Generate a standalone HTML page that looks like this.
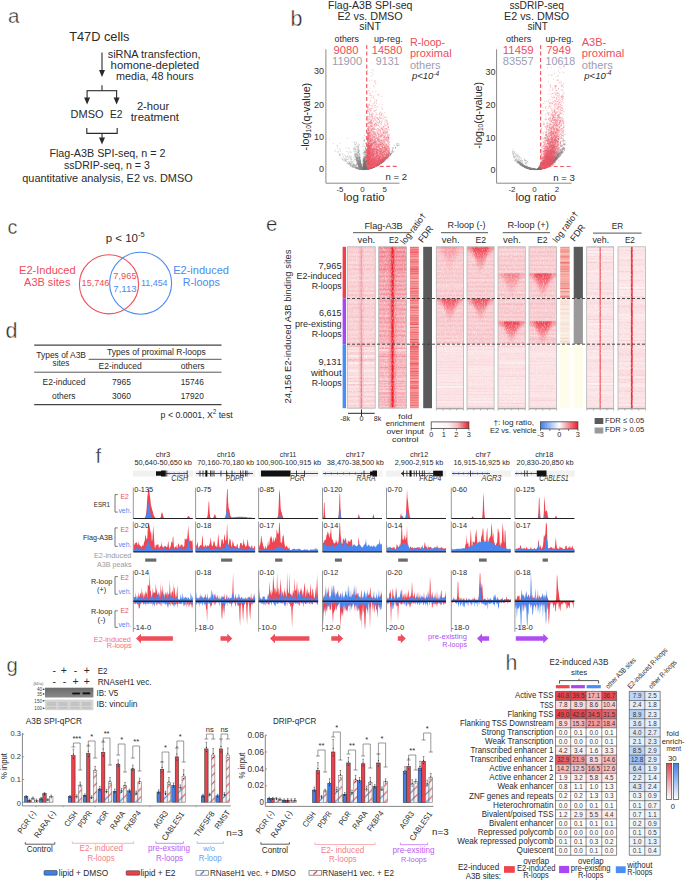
<!DOCTYPE html>
<html><head><meta charset="utf-8"><style>
html,body{margin:0;padding:0;background:#fff;}
svg{display:block;}
text{font-family:"Liberation Sans",sans-serif;}
</style></head><body>
<svg width="685" height="882" viewBox="0 0 685 882" fill="#2a2a2a">
<rect width="685" height="882" fill="#fff"/>
<text x="8" y="23" font-size="20.5" stroke="#fff" stroke-width="0.4">a</text><text x="69.2" y="41.2" font-size="12.5" textLength="60.3" lengthAdjust="spacingAndGlyphs">T47D cells</text><line x1="102" y1="52.5" x2="102" y2="71" stroke="#2a2a2a" stroke-width="1.1" /><path d="M99 70L105 70L102 77Z" fill="#2a2a2a" /><text x="107.7" y="58.4" font-size="10.5" textLength="92.8" lengthAdjust="spacingAndGlyphs">siRNA transfection,</text><text x="110.6" y="69.1" font-size="10.5" textLength="88.6" lengthAdjust="spacingAndGlyphs">homone-depleted</text><text x="116" y="79.6" font-size="10.5" textLength="77.6" lengthAdjust="spacingAndGlyphs">media, 48 hours</text><line x1="102" y1="85.2" x2="102" y2="90.7" stroke="#2a2a2a" stroke-width="1.1" /><line x1="86.6" y1="90.7" x2="117.2" y2="90.7" stroke="#2a2a2a" stroke-width="1.1" /><line x1="87.1" y1="90.7" x2="87.1" y2="98.6" stroke="#2a2a2a" stroke-width="1.1" /><path d="M84.1 97.6L90.1 97.6L87.1 104.6Z" fill="#2a2a2a" /><line x1="116.6" y1="90.7" x2="116.6" y2="98.6" stroke="#2a2a2a" stroke-width="1.1" /><path d="M113.6 97.6L119.6 97.6L116.6 104.6Z" fill="#2a2a2a" /><text x="70.6" y="118.3" font-size="11.5" textLength="32.9" lengthAdjust="spacingAndGlyphs">DMSO</text><text x="110" y="118.3" font-size="10.76" textLength="12.5" lengthAdjust="spacingAndGlyphs">E2</text><text x="136.9" y="109.5" font-size="11" textLength="32.3" lengthAdjust="spacingAndGlyphs">2-hour</text><text x="130.7" y="120.6" font-size="11" textLength="48.3" lengthAdjust="spacingAndGlyphs">treatment</text><path d="M86.8 128V133.4H117.2V128" fill="none" stroke="#2a2a2a" stroke-width="1.1" /><line x1="102" y1="133.4" x2="102" y2="138.5" stroke="#2a2a2a" stroke-width="1.1" /><path d="M99 137.5L105 137.5L102 144.5Z" fill="#2a2a2a" /><text x="49.4" y="157.3" font-size="11.3" textLength="116.1" lengthAdjust="spacingAndGlyphs">Flag-A3B SPI-seq, n = 2</text><text x="64" y="169.4" font-size="11.09" textLength="85.8" lengthAdjust="spacingAndGlyphs">ssDRIP-seq, n = 3</text><text x="22.3" y="182.4" font-size="11.3" textLength="170.4" lengthAdjust="spacingAndGlyphs">quantitative analysis, E2 vs. DMSO</text><text x="290.5" y="26.3" font-size="21.5" stroke="#fff" stroke-width="0.4">b</text><text x="328" y="8.8" font-size="10.2" textLength="84.5" lengthAdjust="spacingAndGlyphs">Flag-A3B SPI-seq</text><text x="337.4" y="19.7" font-size="10.2" textLength="65.3" lengthAdjust="spacingAndGlyphs">E2 vs. DMSO</text><text x="359.3" y="30.2" font-size="10.2" textLength="21.5" lengthAdjust="spacingAndGlyphs">siNT</text><text x="334.6" y="42" font-size="8.2" textLength="24.3" lengthAdjust="spacingAndGlyphs">others</text><text x="374" y="42" font-size="8.2" textLength="28.7" lengthAdjust="spacingAndGlyphs">up-reg.</text><text x="333.5" y="54.3" font-size="10.5" fill="#ee4d5a" textLength="24.9" lengthAdjust="spacingAndGlyphs">9080</text><text x="371.8" y="54.3" font-size="10.5" fill="#ee4d5a" textLength="30.5" lengthAdjust="spacingAndGlyphs">14580</text><text x="332" y="64.6" font-size="10.5" fill="#9d9db2" textLength="30.3" lengthAdjust="spacingAndGlyphs">11900</text><text x="375.8" y="64.6" font-size="10.5" fill="#9d9db2" textLength="23.7" lengthAdjust="spacingAndGlyphs">9131</text><path d="M3609 1670h9M3602 1627h9M3596 1646h9M3615 1692h9M3617 1694h9M3618 1691h9M3589 1660h9M3614 1687h9M3573 1631h9M3594 1640h9M3584 1451h9M3584 1568h9M3615 1686h9M3595 1672h9M3607 1683h9M3592 1629h9M3605 1644h9M3618 1692h9M3588 1621h9M3600 1671h9M3601 1657h9M3570 1593h9M3604 1678h9M3582 1647h9M3591 1611h9M3579 1440h9M3591 1661h9M3609 1685h9M3616 1693h9M3578 1601h9M3581 1560h9M3581 1618h9M3592 1639h9M3554 1576h9M3591 1654h9M3613 1692h9M3570 1628h9M3586 1583h9M3595 1664h9M3619 1695h9M3614 1684h9M3590 1664h9M3614 1691h9M3580 1644h9M3560 1584h9M3605 1675h9M3591 1667h9M3581 1489h9M3612 1683h9M3606 1679h9M3598 1638h9M3622 1696h9M3598 1666h9M3549 1496h9M3590 1649h9M3602 1622h9M3555 1546h9M3557 1560h9M3601 1663h9M3611 1689h9M3619 1692h9M3612 1681h9M3611 1669h9M3624 1696h9M3614 1689h9M3616 1694h9M3601 1634h9M3607 1677h9M3608 1666h9M3551 1572h9M3596 1655h9M3617 1690h9M3606 1669h9M3592 1581h9M3603 1647h9M3606 1645h9M3578 1647h9M3564 1566h9M3607 1676h9M3605 1684h9M3584 1646h9M3607 1670h9M3556 1587h9M3559 1571h9M3566 1584h9M3605 1679h9M3611 1667h9M3619 1694h9M3601 1676h9M3563 1491h9M3536 1515h9M3569 1493h9M3611 1680h9M3612 1682h9M3575 1632h9M3576 1576h9M3576 1627h9M3612 1690h9M3553 1539h9M3582 1605h9M3604 1683h9M3594 1670h9M3563 1463h9M3587 1662h9M3596 1612h9M3615 1687h9M3552 1542h9M3605 1686h9M3542 1439h9M3599 1668h9M3617 1687h9M3546 1465h9M3580 1647h9M3587 1659h9M3589 1582h9M3608 1677h9M3603 1678h9M3606 1676h9M3605 1687h9M3601 1667h9M3577 1639h9M3587 1660h9M3593 1650h9M3607 1648h9M3605 1658h9M3621 1696h9M3609 1684h9M3581 1612h9M3601 1670h9M3583 1643h9M3609 1677h9M3580 1599h9M3583 1642h9M3571 1537h9M3589 1634h9M3588 1649h9M3595 1657h9M3583 1653h9M3570 1617h9M3577 1510h9M3577 1642h9M3592 1576h9M3612 1688h9M3617 1691h9M3612 1691h9M3562 1596h9M3606 1685h9M3599 1625h9M3547 1556h9M3598 1680h9M3599 1663h9M3591 1579h9M3596 1659h9M3608 1669h9M3597 1671h9M3609 1658h9M3598 1670h9M3606 1649h9M3530 1421h9M3582 1463h9M3613 1676h9M3589 1597h9M3612 1687h9M3551 1537h9M3611 1676h9M3563 1531h9M3600 1617h9M3614 1692h9M3608 1660h9M3556 1514h9M3596 1590h9M3595 1569h9M3575 1566h9M3600 1669h9M3579 1525h9M3610 1687h9M3612 1678h9M3615 1684h9M3610 1681h9M3597 1672h9M3603 1674h9M3610 1683h9M3620 1695h9M3601 1644h9M3583 1654h9M3608 1689h9M3597 1659h9M3581 1578h9M3588 1650h9M3562 1432h9M3566 1579h9M3591 1630h9M3610 1668h9M3616 1687h9M3592 1608h9M3558 1576h9M3594 1623h9M3609 1678h9M3605 1656h9M3603 1657h9M3529 1482h9M3600 1644h9M3570 1475h9M3600 1665h9M3602 1650h9M3608 1650h9M3612 1676h9M3610 1663h9M3604 1679h9M3585 1647h9M3579 1626h9M3577 1558h9M3591 1670h9M3603 1629h9M3557 1578h9M3580 1631h9M3593 1587h9M3593 1647h9M3561 1578h9M3572 1581h9M3561 1550h9M3595 1619h9M3620 1694h9M3609 1667h9M3573 1578h9M3584 1631h9M3586 1621h9M3581 1606h9M3588 1646h9M3612 1692h9M3612 1677h9M3600 1676h9M3603 1681h9M3555 1453h9M3599 1664h9M3575 1621h9M3584 1633h9M3600 1677h9M3601 1672h9M3622 1695h9M3578 1619h9M3602 1674h9M3606 1688h9M3599 1681h9M3592 1516h9M3587 1656h9M3560 1471h9M3609 1676h9M3579 1506h9M3602 1639h9M3579 1647h9M3606 1687h9M3582 1650h9M3594 1617h9M3570 1547h9M3621 1694h9M3596 1652h9M3610 1672h9M3605 1668h9M3598 1576h9M3568 1605h9M3568 1614h9M3605 1674h9M3586 1663h9M3594 1638h9M3603 1659h9M3619 1693h9M3585 1578h9M3579 1517h9M3604 1676h9M3609 1682h9M3537 1491h9M3571 1587h9M3544 1536h9M3585 1644h9M3614 1693h9M3589 1657h9M3595 1628h9M3613 1693h9M3611 1687h9M3563 1608h9M3601 1673h9M3607 1663h9M3613 1684h9M3569 1541h9M3599 1680h9M3606 1657h9M3614 1682h9M3610 1669h9M3579 1641h9M3585 1605h9M3597 1661h9M3603 1665h9M3617 1692h9M3581 1472h9M3590 1650h9M3587 1566h9M3609 1675h9M3600 1663h9M3540 1495h9M3596 1561h9M3571 1548h9M3606 1638h9M3588 1664h9M3560 1582h9M3572 1462h9M3616 1688h9M3588 1648h9M3550 1510h9M3578 1628h9M3594 1656h9M3615 1693h9M3598 1679h9M3594 1628h9M3581 1630h9M3617 1688h9M3590 1647h9M3605 1664h9M3606 1636h9M3603 1673h9M3551 1487h9M3572 1555h9M3610 1679h9M3546 1484h9M3612 1672h9M3589 1651h9M3604 1660h9M3571 1624h9M3614 1679h9M3603 1669h9M3596 1621h9M3568 1592h9M3569 1467h9M3589 1584h9M3601 1680h9M3593 1673h9M3603 1651h9M3607 1679h9M3570 1624h9M3611 1686h9M3616 1686h9M3616 1692h9M3549 1547h9M3563 1610h9M3575 1521h9M3601 1683h9M3601 1606h9M3591 1625h9M3616 1684h9M3606 1675h9M3583 1492h9M3577 1478h9M3593 1667h9M3580 1583h9M3589 1666h9M3594 1547h9M3590 1661h9M3600 1601h9M3580 1531h9M3566 1606h9M3553 1489h9M3607 1671h9M3560 1534h9M3591 1508h9M3532 1491h9M3583 1524h9M3568 1590h9M3564 1583h9M3595 1635h9M3605 1671h9M3597 1596h9M3603 1682h9M3613 1677h9M3546 1555h9M3613 1689h9M3586 1615h9M3583 1633h9M3568 1606h9M3600 1625h9M3585 1576h9M3595 1641h9M3594 1608h9M3604 1685h9M3596 1640h9M3601 1650h9M3571 1588h9M3612 1689h9M3561 1584h9M3592 1535h9M3610 1673h9M3600 1682h9M3576 1639h9M3591 1666h9M3561 1598h9M3598 1633h9M3611 1681h9M3584 1636h9M3615 1681h9M3597 1670h9M3611 1683h9M3602 1681h9M3587 1644h9M3616 1690h9M3588 1618h9M3607 1674h9M3572 1496h9M3588 1661h9M3607 1666h9M3594 1611h9M3620 1696h9M3588 1662h9M3573 1629h9M3599 1666h9M3613 1686h9M3580 1648h9M3557 1589h9M3613 1682h9M3535 1509h9M3607 1653h9M3572 1526h9M3562 1543h9M3592 1582h9M3591 1595h9M3589 1662h9M3591 1580h9M3608 1680h9M3597 1648h9M3567 1612h9M3600 1603h9M3593 1577h9M3588 1636h9M3595 1631h9M3595 1660h9M3593 1660h9M3598 1657h9M3618 1694h9M3602 1652h9M3569 1602h9M3604 1656h9M3606 1654h9M3613 1690h9M3607 1649h9M3602 1630h9M3571 1610h9M3597 1650h9M3583 1499h9M3550 1569h9M3570 1610h9M3581 1652h9M3585 1534h9M3560 1594h9M3595 1604h9M3581 1548h9M3593 1585h9M3599 1650h9M3603 1685h9M3571 1622h9M3604 1684h9M3611 1688h9M3593 1630h9M3569 1561h9M3578 1639h9M3606 1689h9M3592 1631h9M3589 1592h9M3595 1640h9M3583 1601h9M3602 1677h9M3545 1425h9M3593 1625h9M3623 1696h9M3608 1685h9M3589 1548h9M3603 1679h9M3621 1695h9M3606 1667h9M3587 1639h9M3605 1681h9M3605 1654h9M3579 1516h9M3615 1685h9M3575 1630h9M3584 1596h9M3585 1628h9M3597 1668h9M3585 1658h9M3592 1610h9M3593 1543h9M3595 1646h9M3613 1678h9M3600 1597h9M3578 1644h9M3614 1686h9M3589 1635h9M3576 1629h9M3612 1673h9M3556 1552h9M3603 1614h9M3563 1574h9M3589 1655h9M3615 1689h9M3618 1693h9M3574 1605h9M3565 1574h9M3603 1676h9M3589 1659h9M3600 1648h9M3571 1629h9M3600 1680h9M3601 1678h9M3548 1507h9M3593 1670h9M3561 1540h9M3579 1619h9M3555 1443h9M3566 1576h9M3577 1569h9M3580 1612h9M3608 1672h9M3603 1632h9M3587 1538h9M3574 1523h9M3600 1609h9M3563 1585h9M3593 1551h9M3552 1564h9M3586 1507h9M3613 1681h9M3615 1694h9M3570 1582h9M3611 1674h9M3610 1689h9M3609 1660h9M3589 1614h9M3592 1671h9M3584 1650h9M3604 1633h9M3599 1661h9M3586 1599h9M3583 1616h9M3609 1690h9M3587 1447h9M3595 1652h9M3592 1592h9M3599 1651h9M3587 1579h9M3575 1508h9M3603 1680h9M3605 1651h9M3571 1595h9M3574 1595h9M3602 1667h9M3589 1663h9M3596 1676h9M3597 1651h9M3585 1555h9M3595 1656h9M3571 1604h9M3593 1628h9M3567 1575h9M3595 1607h9M3589 1658h9M3585 1655h9M3611 1678h9M3598 1673h9M3591 1575h9M3613 1685h9M3611 1685h9M3598 1611h9M3584 1481h9M3587 1664h9M3605 1659h9M3601 1630h9M3608 1681h9M3570 1594h9M3590 1651h9M3605 1655h9M3592 1635h9M3566 1608h9M3595 1659h9M3585 1606h9M3602 1679h9M3558 1557h9M3571 1617h9M3580 1622h9M3601 1656h9M3602 1631h9M3590 1660h9M3579 1614h9M3606 1677h9M3593 1656h9M3593 1662h9M3583 1522h9M3577 1626h9M3585 1456h9M3602 1645h9M3561 1596h9M3605 1648h9M3589 1640h9M3583 1613h9M3596 1648h9M3579 1503h9M3589 1621h9M3596 1602h9M3561 1424h9M3590 1618h9M3564 1608h9M3563 1647h9M3501 1590h9M3597 1680h9M3442 1598h9M3516 1630h9M3559 1642h9M3457 1479h9M3473 1629h9M3484 1585h9M3554 1673h9M3569 1687h9M3522 1667h9M3571 1676h9M3569 1677h9M3614 1683h9M3533 1612h9M3579 1678h9M3541 1653h9M3492 1630h9M3515 1667h9M3570 1570h9M3412 1581h9M3553 1596h9M3453 1580h9M3396 1498h9M3598 1677h9M3595 1686h9M3513 1598h9M3559 1685h9M3546 1593h9M3437 1551h9M3461 1597h9M3405 1549h9M3533 1577h9M3498 1619h9M3504 1607h9M3450 1556h9M3583 1676h9M3581 1686h9M3598 1692h9M3580 1686h9M3527 1651h9M3591 1566h9M3478 1576h9M3504 1642h9M3496 1576h9M3502 1661h9M3588 1691h9M3592 1630h9M3494 1634h9M3479 1521h9M3398 1434h9M3495 1653h9M3598 1694h9M3535 1632h9M3493 1567h9M3532 1654h9M3540 1600h9M3547 1659h9M3489 1643h9M3535 1673h9M3543 1662h9M3561 1675h9M3373 1455h9M3513 1593h9M3572 1671h9M3503 1638h9M3581 1596h9M3446 1612h9M3591 1644h9M3550 1682h9M3497 1635h9M3425 1594h9M3501 1634h9M3489 1632h9M3496 1637h9M3559 1680h9M3512 1656h9M3603 1689h9M3596 1694h9M3419 1535h9M3522 1666h9M3475 1595h9M3578 1676h9M3560 1660h9M3527 1659h9M3561 1518h9M3592 1641h9M3571 1688h9M3475 1640h9M3604 1657h9M3538 1664h9M3345 1514h9M3544 1654h9M3581 1689h9M3595 1680h9M3567 1621h9M3539 1474h9M3546 1563h9M3605 1695h9M3550 1678h9M3607 1682h9M3456 1599h9M3430 1569h9M3586 1690h9M3506 1615h9M3498 1520h9M3372 1478h9M3470 1627h9M3599 1691h9M3553 1611h9M3470 1567h9M3601 1692h9M3528 1640h9M3563 1622h9M3506 1592h9M3494 1628h9M3553 1661h9M3421 1595h9M3475 1596h9M3600 1673h9M3363 1457h9M3507 1581h9M3463 1635h9M3458 1580h9M3562 1672h9M3484 1553h9M3490 1620h9M3400 1548h9M3612 1674h9M3568 1676h9M3483 1638h9M3572 1553h9M3424 1579h9M3452 1564h9M3537 1675h9M3452 1588h9M3482 1536h9M3589 1690h9M3538 1592h9M3433 1605h9M3559 1679h9M3510 1622h9M3587 1681h9M3451 1605h9M3588 1656h9M3439 1589h9M3561 1679h9M3387 1547h9M3531 1648h9M3562 1638h9M3594 1682h9M3522 1617h9M3534 1642h9M3574 1648h9M3588 1693h9M3590 1665h9M3478 1630h9M3573 1685h9M3550 1668h9M3290 1392h9M3526 1652h9M3544 1676h9M3502 1660h9M3443 1601h9M3485 1480h9M3611 1693h9M3597 1693h9M3472 1562h9M3350 1504h9M3592 1692h9M3486 1487h9M3506 1642h9M3389 1491h9M3550 1663h9M3555 1685h9M3468 1383h9M3609 1693h9M3519 1668h9M3391 1542h9M3592 1693h9M3480 1615h9M3544 1419h9M3568 1686h9M3400 1513h9M3551 1673h9M3564 1603h9M3576 1670h9M3584 1687h9M3592 1684h9M3571 1686h9M3608 1695h9M3608 1682h9M3509 1524h9M3368 1518h9M3540 1552h9M3587 1657h9M3376 1523h9M3519 1631h9M3527 1669h9M3521 1654h9M3596 1686h9M3591 1692h9M3572 1643h9M3512 1562h9M3580 1661h9M3538 1675h9M3584 1669h9M3553 1652h9M3545 1543h9M3547 1445h9M3425 1549h9M3571 1680h9M3579 1674h9M3580 1681h9M3256 1388h9M3546 1527h9M3531 1674h9M3590 1692h9M3525 1673h9M3587 1669h9M3617 1696h9M3568 1647h9M3503 1659h9M3564 1680h9M3599 1686h9M3457 1600h9M3558 1651h9M3564 1681h9M3459 1616h9M3560 1639h9M3587 1692h9M3524 1662h9M3588 1692h9M3468 1565h9M3604 1695h9M3499 1654h9M3588 1676h9M3499 1579h9M3584 1684h9M3603 1637h9M3535 1648h9M3579 1649h9M3456 1614h9M3501 1565h9M3517 1615h9M3577 1605h9M3388 1561h9M3530 1651h9M3523 1647h9M3600 1695h9M3591 1679h9M3599 1689h9M3583 1585h9M3611 1682h9M3508 1636h9M3507 1648h9M3573 1689h9M3557 1651h9M3588 1687h9M3577 1686h9M3542 1567h9M3493 1640h9M3560 1684h9M3463 1515h9M3512 1660h9M3540 1647h9M3380 1511h9M3576 1669h9M3558 1669h9M3328 1436h9M3391 1536h9M3572 1573h9M3483 1648h9M3499 1518h9M3529 1660h9M3546 1666h9M3596 1691h9M3600 1650h9M3560 1686h9M3425 1598h9M3475 1630h9M3393 1555h9M3600 1694h9M3550 1676h9M3558 1675h9" stroke="#8a8a8a" stroke-width="9" fill="none" opacity="0.4" transform="scale(.1)"/><path d="M3656 1527h9M3652 1677h9M3669 1659h9M3642 1674h9M3633 1628h9M3669 1637h9M3640 1649h9M3652 1655h9M3633 1685h9M3641 1687h9M3641 1662h9M3631 1678h9M3665 1644h9M3654 1634h9M3637 1627h9M3649 1615h9M3656 1644h9M3642 1655h9M3638 1678h9M3646 1649h9M3625 1638h9M3665 1668h9M3653 1678h9M3641 1652h9M3642 1409h9M3635 1599h9M3666 1691h9M3629 1658h9M3648 1664h9M3632 1609h9M3669 1679h9M3634 1608h9M3644 1669h9M3656 1622h9M3664 1572h9M3661 1648h9M3661 1607h9M3662 1654h9M3667 1615h9M3666 1687h9M3634 1696h9M3651 1638h9M3654 1481h9M3662 1661h9M3655 1561h9M3649 1665h9M3660 1656h9M3646 1673h9M3646 1643h9M3662 1671h9M3651 1572h9M3636 1658h9M3634 1672h9M3654 1640h9M3668 1690h9M3665 1670h9M3669 1577h9M3648 1681h9M3625 1538h9M3649 1693h9M3668 1651h9M3652 1599h9M3652 1648h9M3646 1620h9M3655 1667h9M3669 1668h9M3652 1622h9M3645 1689h9M3653 1662h9M3666 1640h9M3650 1478h9M3656 1658h9M3652 1668h9M3635 1585h9M3670 1671h9M3651 1582h9M3667 1688h9M3664 1619h9M3666 1393h9M3635 1660h9M3651 1674h9M3636 1650h9M3656 1683h9M3644 1636h9M3656 1364h9M3643 1693h9M3642 1595h9M3625 1619h9M3665 1672h9M3658 1638h9M3651 1682h9M3640 1643h9M3652 1628h9M3647 1640h9M3635 1688h9M3632 1603h9M3635 1689h9M3664 1648h9M3663 1634h9M3625 1692h9M3643 1600h9M3644 1614h9M3640 1684h9M3667 1689h9M3644 1639h9M3646 1657h9M3663 1692h9M3669 1639h9M3628 1677h9M3665 1521h9M3667 1671h9M3642 1585h9M3669 1636h9M3669 1651h9M3646 1678h9M3638 1613h9M3666 1672h9M3663 1653h9M3635 1678h9M3636 1667h9M3641 1463h9M3632 1642h9M3646 1646h9M3629 1662h9M3664 1687h9M3639 1668h9M3641 1682h9M3627 1678h9M3644 1625h9M3659 1685h9M3640 1690h9M3633 1578h9M3664 1658h9M3635 1589h9M3660 1668h9M3669 1665h9M3669 1681h9M3638 1650h9M3633 1657h9M3640 1616h9M3654 1546h9M3639 1666h9M3638 1635h9M3633 1561h9M3653 1649h9M3662 1675h9M3657 1664h9M3642 1641h9M3631 1664h9M3665 1683h9M3658 1671h9M3653 1688h9M3651 1667h9M3629 1673h9M3638 1672h9M3660 1687h9M3647 1674h9M3662 1539h9M3665 1556h9M3647 1694h9M3657 1661h9M3639 1617h9M3644 1573h9M3636 1631h9M3660 1609h9M3627 1693h9M3637 1684h9M3646 1672h9M3638 1693h9M3636 1629h9M3654 1576h9M3640 1614h9M3658 1659h9M3624 1668h9M3662 1578h9M3628 1674h9M3655 1570h9M3637 1693h9M3663 1688h9M3667 1681h9M3631 1605h9M3646 1618h9M3664 1606h9M3631 1674h9M3647 1505h9M3659 1522h9M3664 1608h9M3649 1631h9M3656 1692h9M3651 1659h9M3633 1524h9M3628 1602h9M3663 1617h9M3653 1676h9M3657 1468h9M3639 1645h9M3644 1692h9M3637 1661h9M3633 1672h9M3658 1616h9M3639 1678h9M3648 1649h9M3644 1516h9M3666 1673h9M3653 1686h9M3664 1669h9M3661 1644h9M3658 1684h9M3649 1636h9M3664 1601h9M3641 1688h9M3637 1667h9M3640 1692h9M3659 1682h9M3632 1657h9M3649 1670h9M3635 1667h9M3625 1691h9M3661 1379h9M3660 1690h9M3653 1439h9M3650 1688h9M3636 1659h9M3625 1645h9M3657 1531h9M3668 1631h9M3639 1627h9M3634 1678h9M3649 1694h9M3642 1576h9M3657 1683h9M3668 1574h9M3662 1684h9M3661 1580h9M3636 1670h9M3643 1582h9M3653 1666h9M3664 1666h9M3628 1678h9M3656 1641h9M3659 1584h9M3669 1542h9M3651 1651h9M3642 1685h9M3630 1639h9M3635 1620h9M3669 1658h9M3628 1690h9M3624 1612h9M3665 1576h9M3648 1595h9M3658 1674h9M3647 1649h9M3648 1669h9M3664 1624h9M3635 1543h9M3648 1673h9M3644 1642h9M3630 1682h9M3667 1464h9M3670 1565h9M3656 1482h9M3629 1587h9M3655 1622h9M3654 1673h9M3650 1496h9M3642 1628h9M3666 1668h9M3632 1694h9M3648 1622h9M3657 1690h9M3654 1666h9M3652 1661h9M3646 1642h9M3636 1688h9M3653 1552h9M3665 1688h9M3631 1677h9M3639 1647h9M3653 1652h9M3654 1679h9M3651 1688h9M3630 1638h9M3630 1662h9M3665 1658h9M3660 1644h9M3632 1604h9M3660 1390h9M3664 1689h9M3635 1663h9M3653 1485h9M3633 1598h9M3629 1598h9M3645 1678h9M3639 1695h9M3642 1680h9M3648 1616h9M3656 1552h9M3653 1561h9M3666 1533h9M3661 1684h9M3662 1669h9M3664 1621h9M3645 1687h9M3669 1609h9M3628 1612h9M3631 1635h9M3663 1644h9M3668 1688h9M3640 1622h9M3648 1682h9M3654 1577h9M3626 1688h9M3653 1683h9M3659 1674h9M3634 1665h9M3652 1560h9M3663 1620h9M3626 1502h9M3634 1669h9M3666 1650h9M3627 1591h9M3664 1683h9M3646 1622h9M3635 1654h9M3646 1574h9M3643 1691h9M3667 1680h9M3628 1638h9M3645 1684h9M3654 1655h9M3644 1664h9M3633 1696h9M3626 1669h9M3670 1656h9M3632 1693h9M3640 1623h9M3651 1675h9M3654 1676h9M3669 1647h9M3627 1379h9M3662 1642h9M3662 1561h9M3656 1630h9M3641 1667h9M3666 1592h9M3658 1513h9M3662 1672h9M3651 1608h9M3644 1630h9M3647 1644h9M3643 1692h9M3670 1670h9M3645 1653h9M3633 1668h9M3638 1696h9M3648 1657h9M3629 1684h9M3642 1673h9M3653 1611h9M3644 1515h9M3654 1530h9M3636 1691h9M3670 1639h9M3662 1667h9M3666 1659h9M3650 1691h9M3641 1546h9M3626 1677h9M3638 1616h9M3637 1663h9M3665 1636h9M3637 1628h9M3630 1636h9M3666 1588h9M3633 1669h9M3652 1682h9M3657 1560h9M3637 1528h9M3661 1670h9M3647 1628h9M3644 1622h9M3646 1692h9M3651 1693h9M3651 1669h9M3640 1636h9M3625 1655h9M3653 1526h9M3629 1409h9M3660 1634h9M3631 1670h9M3634 1685h9M3631 1601h9M3647 1586h9M3655 1645h9M3657 1643h9M3643 1636h9M3640 1608h9M3662 1615h9M3642 1598h9M3670 1599h9M3641 1657h9M3668 1648h9M3625 1687h9M3657 1654h9M3645 1599h9M3638 1398h9M3631 1604h9M3630 1694h9M3650 1692h9M3636 1643h9M3645 1512h9M3636 1685h9M3668 1608h9M3627 1684h9M3639 1598h9M3651 1432h9M3649 1591h9M3667 1670h9M3660 1689h9M3657 1692h9M3665 1662h9M3653 1692h9M3668 1662h9M3656 1506h9M3639 1679h9M3648 1676h9M3637 1679h9M3657 1603h9M3670 1673h9M3654 1680h9M3665 1685h9M3640 1563h9M3664 1605h9M3643 1674h9M3667 1653h9M3666 1639h9M3666 1681h9M3636 1566h9M3670 1566h9M3626 1673h9M3670 1688h9M3640 1695h9M3660 1685h9M3631 1621h9M3668 1669h9M3666 1614h9M3627 1441h9M3663 1679h9M3627 1620h9M3632 1659h9M3650 1695h9M3666 1671h9M3648 1686h9M3658 1683h9M3661 1686h9M3632 1651h9M3644 1532h9M3669 1680h9M3660 1556h9M3636 1675h9M3629 1676h9M3646 1693h9M3625 1667h9M3657 1620h9M3653 1645h9M3670 1619h9M3660 1560h9M3643 1663h9M3670 1660h9M3646 1664h9M3634 1661h9M3640 1525h9M3645 1634h9M3637 1678h9M3667 1596h9M3655 1693h9M3657 1670h9M3643 1644h9M3624 1463h9M3665 1606h9M3655 1649h9M3639 1353h9M3661 1631h9M3660 1665h9M3652 1663h9M3658 1634h9M3656 1671h9M3638 1645h9M3640 1634h9M3650 1539h9M3652 1612h9M3638 1654h9M3668 1686h9M3652 1647h9M3664 1647h9M3649 1583h9M3664 1629h9M3666 1549h9M3642 1693h9M3664 1579h9M3634 1687h9M3632 1677h9M3663 1667h9M3649 1648h9M3646 1690h9M3649 1618h9M3634 1603h9M3645 1621h9M3639 1648h9M3644 1666h9M3626 1665h9M3654 1681h9M3635 1692h9M3641 1613h9M3639 1670h9M3631 1579h9M3665 1630h9M3647 1681h9M3656 1593h9M3628 1666h9M3645 1658h9M3642 1614h9M3657 1662h9M3644 1587h9M3654 1664h9M3636 1527h9M3660 1464h9M3658 1666h9M3630 1670h9M3645 1604h9M3651 1647h9M3661 1545h9M3643 1694h9M3649 1655h9M3647 1576h9M3666 1654h9M3650 1658h9M3664 1649h9M3661 1623h9M3628 1662h9M3653 1622h9M3662 1600h9M3638 1688h9M3664 1691h9M3631 1689h9M3654 1604h9M3650 1615h9M3654 1661h9M3666 1585h9M3643 1686h9M3625 1648h9M3641 1403h9M3642 1676h9M3665 1677h9M3651 1643h9M3628 1660h9M3665 1590h9M3637 1677h9M3650 1693h9M3654 1652h9M3663 1666h9M3668 1681h9M3628 1643h9M3652 1671h9M3654 1662h9M3641 1670h9M3641 1592h9M3663 1615h9M3649 1637h9M3648 1517h9M3859 1558h9M3758 1659h9M3665 1693h9M3672 1691h9M3707 1683h9M3790 1642h9M3773 1651h9M3803 1623h9M3713 1680h9M3698 1686h9M3702 1681h9M3682 1689h9M3922 1499h9M3798 1626h9M3900 1541h9M3690 1685h9M3800 1618h9M3850 1578h9M3715 1679h9M3733 1671h9M3700 1685h9M3739 1670h9M3698 1685h9M3963 1440h9M3655 1694h9M3792 1629h9M3769 1644h9M3767 1655h9M3688 1688h9M3691 1687h9M3917 1513h9M3724 1674h9M3829 1605h9M3889 1522h9M3774 1653h9M3791 1636h9M3674 1690h9M3728 1675h9M3852 1574h9M3883 1527h9M3803 1636h9M3745 1668h9M3791 1626h9M3734 1670h9M3721 1677h9M3705 1683h9M3720 1673h9M3771 1642h9M3787 1644h9M3789 1637h9M3656 1694h9M3681 1689h9M3690 1687h9M3737 1668h9M3796 1625h9M3705 1684h9M3741 1670h9M3874 1561h9M3689 1685h9M3862 1558h9M3769 1651h9M3685 1688h9M3698 1684h9M3767 1650h9M3705 1682h9M3721 1678h9M3779 1650h9M3647 1695h9M3773 1652h9M3789 1641h9M3717 1679h9M3692 1685h9M3654 1694h9M3768 1648h9M3866 1551h9M3779 1639h9M3797 1637h9M3804 1615h9M3718 1678h9M3660 1693h9M3823 1619h9M3742 1669h9M3771 1655h9M3643 1695h9M3749 1661h9M3675 1690h9M3830 1609h9M3693 1685h9M3688 1686h9M3708 1680h9M3988 1452h9M3841 1593h9M3775 1651h9M3904 1540h9M3791 1630h9M3806 1632h9M3826 1595h9M3815 1613h9M3703 1684h9M3815 1623h9M3694 1687h9M3933 1515h9M3839 1607h9M3849 1590h9M3763 1659h9M3853 1596h9M3736 1673h9M3787 1646h9M3690 1688h9M3832 1595h9M3849 1577h9M3714 1678h9M3901 1540h9M3815 1615h9M3850 1596h9M3824 1621h9M3851 1582h9M3678 1690h9M3852 1578h9M3799 1637h9M3825 1593h9M3756 1652h9M3687 1688h9M3755 1661h9M3757 1656h9M3707 1680h9M3866 1574h9M3725 1675h9M3761 1658h9M3834 1588h9M3797 1621h9M3842 1583h9M3729 1675h9M3736 1667h9M3887 1552h9M3881 1549h9M3780 1651h9M3782 1650h9M3708 1682h9M3627 1696h9M3919 1506h9M3839 1588h9M3731 1668h9M3789 1643h9M3769 1649h9M3925 1523h9M3794 1624h9M3795 1632h9M3927 1489h9M3809 1625h9M3744 1665h9M3821 1622h9M3765 1651h9M3937 1452h9M3865 1578h9M3780 1643h9M3843 1605h9M3831 1611h9M3696 1686h9M3869 1551h9M3790 1638h9M3661 1693h9M3833 1606h9M3728 1674h9M3727 1673h9M3763 1660h9M3811 1628h9M3806 1622h9M3951 1480h9M3806 1619h9M3865 1582h9M3782 1649h9M3700 1684h9M3697 1684h9M3664 1692h9M3754 1664h9M3923 1482h9M3738 1672h9M3703 1682h9M3748 1658h9M3718 1676h9M3755 1664h9M3716 1676h9M3891 1539h9M3864 1577h9M3832 1597h9M3764 1654h9M3721 1675h9M3901 1533h9M3724 1676h9M3662 1693h9M3780 1641h9M3905 1512h9M3710 1678h9M3786 1644h9M3807 1622h9M3732 1672h9M3953 1472h9M3822 1619h9M3756 1663h9M3822 1607h9M3753 1663h9M3732 1668h9M3875 1562h9M3778 1648h9M3874 1544h9M3728 1669h9M3751 1661h9M3871 1571h9M3783 1640h9M3779 1640h9M3873 1574h9M3846 1577h9M3779 1651h9M3898 1546h9M3858 1583h9M3823 1616h9M3787 1634h9M3671 1691h9M3845 1582h9M3705 1680h9M3680 1690h9M3975 1455h9M3744 1667h9M3674 1691h9M3724 1670h9M3787 1631h9M3716 1675h9M3759 1657h9M3831 1588h9M3840 1581h9M3714 1679h9M3733 1669h9M3776 1641h9M3833 1593h9M3871 1576h9M3765 1646h9M3821 1598h9M3768 1650h9M3669 1692h9M3825 1612h9M3749 1663h9M3781 1638h9M3892 1564h9M3863 1589h9M3743 1670h9M3817 1621h9M3756 1656h9M3719 1674h9M3826 1609h9M3750 1658h9M3807 1616h9M3722 1676h9M3830 1617h9M3843 1606h9M3911 1531h9M3807 1613h9M3701 1681h9M3879 1566h9M3791 1631h9M3733 1667h9M3812 1631h9M3721 1672h9M3699 1683h9M3901 1546h9M3751 1656h9M3679 1689h9M3837 1598h9M3908 1537h9M3771 1654h9M3684 1687h9M3783 1642h9M3705 1681h9M3651 1695h9M3832 1615h9M3966 1438h9M3820 1610h9M3862 1587h9M3685 1687h9M3711 1680h9M3735 1665h9M3867 1580h9M3751 1655h9M3884 1552h9M3670 1691h9M3807 1632h9M3769 1653h9M3704 1681h9M3887 1542h9M3683 1689h9M3762 1656h9M3805 1630h9M3747 1658h9M3808 1612h9M3761 1654h9M3717 1678h9M3812 1619h9M3697 1686h9M3779 1636h9M3722 1678h9M3711 1679h9M3852 1595h9M3806 1630h9M3656 1693h9M3977 1452h9M3915 1522h9M3890 1531h9M3818 1603h9M3967 1459h9M3707 1682h9M3685 1689h9M3900 1552h9M3772 1650h9M3798 1637h9M3773 1644h9M3738 1663h9M3812 1607h9M3868 1580h9M3752 1656h9M3794 1627h9M3746 1659h9M3964 1451h9M3835 1610h9M3848 1573h9M3738 1666h9M3821 1602h9M3805 1635h9M3818 1600h9M3816 1619h9M3772 1648h9M3752 1662h9M3814 1628h9M3834 1610h9M3911 1536h9M3805 1614h9M3821 1621h9M3715 1677h9M3735 1668h9M3678 1689h9M3979 1437h9M3922 1520h9M3877 1577h9M3822 1605h9M3716 1677h9M3648 1695h9M3898 1554h9M3850 1598h9M3844 1592h9M3743 1666h9M3926 1476h9M3779 1646h9M3788 1645h9M3759 1662h9M3827 1619h9M3732 1674h9M3644 1695h9M3835 1614h9M3700 1683h9M3818 1620h9M3836 1606h9M3713 1677h9M3950 1478h9" stroke="#767676" stroke-width="9" fill="none" opacity="0.5" transform="scale(.1)"/><path d="M3772 1444h9M3674 1353h9M3679 1562h9M3796 1503h9M3684 1593h9M3700 1647h9M3807 1359h9M3692 1648h9M3761 1033h9M3680 1619h9M3789 1389h9M3675 1622h9M3694 1395h9M3679 1560h9M3697 1601h9M3694 1554h9M3707 1618h9M3741 1560h9M3696 1385h9M3673 1670h9M3677 1520h9M3679 1641h9M3677 1607h9M3701 1657h9M3732 1656h9M3878 1463h9M3807 1604h9M3692 1612h9M3691 1523h9M3680 1385h9M3671 1395h9M3757 1515h9M3749 1606h9M3829 1396h9M3812 1608h9M3671 1652h9M3689 1529h9M3867 1283h9M3671 1545h9M3874 1512h9M3778 1504h9M3685 1611h9M3701 1608h9M3791 1543h9M3675 1673h9M3738 1432h9M3682 1464h9M3830 1604h9M3721 1632h9M3674 1451h9M3746 1606h9M3855 1523h9M3876 1387h9M3718 1594h9M3673 1662h9M3679 1675h9M3842 1538h9M3742 1174h9M3734 1642h9M3858 1448h9M3713 1654h9M3690 1622h9M3734 1605h9M3741 1294h9M3671 1377h9M3802 1512h9M3877 1400h9M3691 1533h9M3858 1542h9M3707 1606h9M3681 1385h9M3693 1609h9M3675 1544h9M3767 1450h9M3732 1564h9M3671 1624h9M3720 1373h9M3761 1098h9M3690 1341h9M3752 1599h9M3747 1052h9M3702 1480h9M3770 1607h9M3784 1642h9M3737 1577h9M3673 1652h9M3700 1419h9M3711 1207h9M3867 1504h9M3684 1465h9M3804 1355h9M3790 1607h9M3680 1649h9M3825 1338h9M3761 1606h9M3689 1462h9M3782 1450h9M3717 1603h9M3672 1481h9M3705 1317h9M3777 1406h9M3697 1580h9M3764 1629h9M3842 1123h9M3673 1578h9M3673 1431h9M3868 1492h9M3726 1617h9M3804 1488h9M3678 1484h9M3703 1656h9M3689 1600h9M3790 1577h9M3733 1248h9M3738 1424h9M3672 1409h9M3732 1638h9M3795 1584h9M3676 1247h9M3878 1549h9M3727 1663h9M3673 1636h9M3777 1627h9M3766 1626h9M3680 1535h9M3677 1603h9M3820 1597h9M3784 1588h9M3676 1618h9M3726 1601h9M3699 1625h9M3782 1620h9M3693 1679h9M3693 809h9M3694 1056h9M3716 1560h9M3694 1555h9M3815 1410h9M3794 1602h9M3698 1273h9M3840 1392h9M3695 1636h9M3813 1072h9M3754 1635h9M3673 1372h9M3823 1522h9M3691 1226h9M3677 1569h9M3829 1519h9M3742 1413h9M3756 1580h9M3757 1645h9M3730 1490h9M3705 1614h9M3671 1639h9M3804 1444h9M3754 1534h9M3710 1141h9M3788 1609h9M3831 1610h9M3802 1532h9M3791 1583h9M3723 1620h9M3876 1380h9M3717 1266h9M3723 1673h9M3714 802h9M3765 1633h9M3700 1536h9M3738 1592h9M3671 1516h9M3804 1570h9M3733 1605h9M3795 1624h9M3766 1616h9M3800 1282h9M3832 1593h9M3696 1662h9M3681 1196h9M3890 1520h9M3696 1571h9M3711 1617h9M3685 1424h9M3684 1610h9M3686 1578h9M3882 1510h9M3742 1507h9M3679 1617h9M3727 1345h9M3715 1564h9M3684 1357h9M3696 1681h9M3858 1564h9M3706 1546h9M3809 1469h9M3823 1560h9M3714 1445h9M3679 1545h9M3692 1672h9M3857 1502h9M3859 1566h9M3713 1407h9M3824 1552h9M3713 1597h9M3756 1561h9M3807 1592h9M3671 1628h9M3780 1596h9M3712 726h9M3791 1618h9M3850 1552h9M3877 1275h9M3679 1337h9M3737 1628h9M3718 1376h9M3695 1550h9M3687 1340h9M3756 1631h9M3720 1660h9M3720 1669h9M3852 1455h9M3725 1437h9M3702 1634h9M3743 1185h9M3681 1681h9M3807 1379h9M3876 1543h9M3698 1578h9M3869 1214h9M3816 1360h9M3682 1596h9M3675 1592h9M3729 1632h9M3676 1535h9M3820 1592h9M3699 1528h9M3677 1309h9M3692 1503h9M3720 1394h9M3816 1458h9M3726 1522h9M3677 1641h9M3698 1409h9M3843 1511h9M3805 1518h9M3869 1311h9M3780 1621h9M3713 1641h9M3855 1571h9M3698 1513h9M3844 1414h9M3863 1527h9M3795 1177h9M3795 1606h9M3728 1628h9M3682 1544h9M3701 1515h9M3815 1559h9M3854 1446h9M3881 1559h9M3794 1634h9M3709 1552h9M3674 1671h9M3749 1589h9M3779 1561h9M3791 1475h9M3706 1562h9M3675 1679h9M3839 1496h9M3867 1380h9M3749 1663h9M3671 1579h9M3770 1540h9M3789 1615h9M3686 1646h9M3722 1576h9M3677 1113h9M3683 1287h9M3871 1560h9M3685 1420h9M3718 1315h9M3678 1634h9M3685 1446h9M3763 1498h9M3671 1541h9M3681 1660h9M3697 1649h9M3692 1571h9M3738 1379h9M3774 1498h9M3708 1398h9M3697 1493h9M3696 1630h9M3673 1534h9M3734 1640h9M3673 1630h9M3678 1496h9M3750 1292h9M3711 1626h9M3859 1387h9M3680 1683h9M3758 1617h9M3689 1595h9M3733 1546h9M3865 1476h9M3709 1647h9M3724 1618h9M3745 1513h9M3743 1638h9M3673 1453h9M3679 1329h9M3760 1576h9M3798 1319h9M3702 1560h9M3782 1315h9M3753 1630h9M3736 1642h9M3881 1565h9M3809 1577h9M3722 1617h9M3746 1571h9M3703 1446h9M3730 1498h9M3756 1384h9M3779 1592h9M3696 1228h9M3727 1556h9M3744 1337h9M3708 1524h9M3805 1562h9M3780 1614h9M3782 1393h9M3674 1354h9M3873 1562h9M3879 1486h9M3816 1571h9M3720 1300h9M3779 1594h9M3882 1537h9M3693 1621h9M3842 1573h9M3820 1535h9M3859 1556h9M3772 1529h9M3671 1550h9M3713 1558h9M3689 1369h9M3699 1674h9M3821 1586h9M3711 1448h9M3708 1668h9M3680 1436h9M3713 1612h9M3679 1561h9M3672 1447h9M3698 1197h9M3873 1237h9M3680 1661h9M3840 1419h9M3828 1472h9M3745 1645h9M3677 1529h9M3671 1519h9M3749 1559h9M3740 1587h9M3720 1494h9M3757 1571h9M3844 1589h9M3786 1558h9M3712 1482h9M3718 1539h9M3789 1545h9M3727 1384h9M3722 1606h9M3762 1610h9M3742 1373h9M3750 1617h9M3784 1354h9M3680 1636h9M3760 1495h9M3732 1636h9M3742 1636h9M3822 1474h9M3735 1458h9M3735 1276h9M3776 1395h9M3738 1669h9M3842 1312h9M3725 1623h9M3686 1676h9M3741 1114h9M3672 1672h9M3675 1656h9M3691 1629h9M3715 971h9M3677 1307h9M3683 1429h9M3824 1348h9M3876 1522h9M3811 1590h9M3714 1601h9M3823 1609h9M3748 1559h9M3712 1672h9M3770 1613h9M3754 1390h9M3715 1630h9M3690 1496h9M3832 1320h9M3726 1649h9M3767 1509h9M3671 1611h9M3680 1437h9M3759 1002h9M3689 1375h9M3711 1647h9M3779 1632h9M3688 1551h9M3743 1454h9M3749 1479h9M3703 1667h9M3822 1479h9M3692 1582h9M3720 1457h9M3784 1510h9M3760 1357h9M3673 1088h9M3693 1601h9M3684 1651h9M3714 1584h9M3678 1214h9M3789 1573h9M3690 1229h9M3690 1668h9M3852 1579h9M3734 1493h9M3739 1251h9M3793 1623h9M3763 1543h9M3697 1519h9M3676 1467h9M3696 1677h9M3746 1637h9M3788 1404h9M3682 1673h9M3681 1440h9M3825 1378h9M3812 1582h9M3673 1642h9M3687 1318h9M3729 1548h9M3691 1640h9M3880 1531h9M3822 1576h9M3703 1549h9M3691 1525h9M3703 1529h9M3708 1631h9M3716 1604h9M3733 1669h9M3786 1583h9M3674 1659h9M3671 1583h9M3742 1556h9M3675 1609h9M3678 1618h9M3805 1600h9M3673 1664h9M3678 1440h9M3712 1658h9M3748 1321h9M3693 1620h9M3702 1448h9M3828 1404h9M3679 1502h9M3805 1495h9M3855 1557h9M3824 1593h9M3755 1598h9M3752 1615h9M3675 1167h9M3686 1598h9M3677 1519h9M3743 1388h9M3673 1398h9M3708 1619h9M3798 1536h9M3726 1295h9M3689 1459h9M3736 1235h9M3868 1292h9M3695 1104h9M3706 1216h9M3839 1559h9M3683 1069h9M3684 1630h9M3683 1571h9M3842 1326h9M3704 1574h9M3671 1595h9M3671 1531h9M3674 1685h9M3720 1647h9M3704 1498h9M3798 1334h9M3684 1472h9M3726 1478h9M3736 1619h9M3766 1231h9M3867 1461h9M3785 1339h9M3821 1386h9M3816 1527h9M3767 1578h9M3681 1365h9M3781 1526h9M3681 1624h9M3671 1654h9M3876 1510h9M3822 1541h9M3708 1448h9M3785 1504h9M3775 1497h9M3799 1537h9M3671 1448h9M3778 1553h9M3692 1658h9M3678 1504h9M3772 1308h9M3767 1642h9M3714 1664h9M3808 1592h9M3706 1454h9M3711 1263h9M3764 1476h9M3807 1520h9M3756 1511h9M3671 1341h9M3674 1577h9M3696 1399h9M3801 1554h9M3711 1484h9M3822 1447h9M3715 1491h9M3869 1466h9M3690 1675h9M3674 1473h9M3681 1573h9M3756 1583h9M3715 1640h9M3768 1634h9M3788 1611h9M3675 983h9M3776 1254h9M3704 1107h9M3702 1103h9M3842 1365h9M3698 1461h9M3846 1476h9M3680 1350h9M3705 1233h9M3745 1647h9M3685 1517h9M3765 1645h9M3811 1601h9M3672 1542h9M3815 1569h9M3756 1330h9M3704 1552h9M3832 1575h9M3722 1408h9M3847 1525h9M3676 1598h9M3684 1499h9M3744 1532h9M3856 1553h9M3782 1556h9M3788 1295h9M3701 1581h9M3862 1526h9M3707 762h9M3709 1058h9M3727 1277h9M3766 1617h9M3682 1650h9M3767 1556h9M3737 867h9M3675 1560h9M3736 1490h9M3686 1565h9M3698 1476h9M3730 1578h9M3766 1629h9M3751 1229h9M3674 1482h9M3722 1381h9M3750 1583h9M3673 1394h9M3810 1506h9M3736 1418h9M3684 1606h9M3830 1328h9M3725 1441h9M3882 1464h9M3783 1376h9M3683 1647h9M3823 1527h9M3695 1324h9M3806 1342h9M3762 1566h9M3715 1153h9M3819 1474h9M3808 1579h9M3746 1471h9M3678 1668h9M3789 1598h9M3808 1409h9M3757 1380h9M3690 1439h9M3676 1580h9M3763 1566h9M3676 1625h9M3711 1648h9M3835 1594h9M3778 1589h9M3874 1464h9M3689 1573h9M3671 1533h9M3678 1677h9M3706 1612h9M3686 1641h9M3708 1453h9M3806 1486h9M3817 1568h9M3712 1464h9M3731 1636h9M3763 1647h9M3679 1669h9M3716 1480h9M3689 1501h9M3885 1418h9M3672 1620h9M3681 1593h9M3826 1484h9M3758 1648h9M3754 1639h9M3714 1515h9M3715 1547h9M3812 1616h9M3752 1641h9M3677 1282h9M3707 1223h9M3814 1364h9M3689 1665h9M3813 1182h9M3846 1505h9M3882 1371h9M3734 1652h9M3702 1442h9M3680 1671h9M3805 1613h9M3681 1384h9M3890 1538h9M3758 1645h9M3746 1352h9M3766 1633h9M3705 1637h9M3727 1595h9M3855 1400h9M3887 1494h9M3679 1574h9M3865 1539h9M3799 1508h9M3707 1310h9M3821 1468h9M3777 1626h9M3679 1179h9M3768 1613h9M3820 1288h9M3865 1491h9M3770 1399h9M3766 1503h9M3705 1638h9M3718 1532h9M3720 1550h9M3684 1676h9M3719 1525h9M3693 954h9M3674 1517h9M3770 1603h9M3718 1197h9M3805 1606h9M3804 1442h9M3674 1520h9M3733 1169h9M3733 859h9M3701 1647h9M3779 1601h9M3695 1640h9M3735 1457h9M3872 1323h9M3728 1433h9M3715 1420h9M3708 1465h9M3752 1424h9M3696 1599h9M3825 1597h9M3677 1627h9M3710 1612h9M3740 1266h9M3859 1548h9M3698 1535h9M3702 1367h9M3698 1636h9M3755 1348h9M3701 1614h9M3671 1367h9M3675 1334h9M3803 1597h9M3698 1471h9M3709 1587h9M3788 1209h9M3724 1627h9M3723 1136h9M3782 1603h9M3872 1569h9M3678 1599h9M3855 1395h9M3688 1585h9M3771 1177h9M3672 1651h9M3688 1429h9M3698 1531h9M3745 1627h9M3850 1494h9M3684 1643h9M3761 1492h9M3741 1314h9M3671 1666h9M3763 1578h9M3779 1586h9M3752 1644h9M3788 1543h9M3684 1577h9M3723 1545h9M3727 1471h9M3834 1573h9M3766 1480h9M3674 1641h9M3678 1543h9M3827 1340h9M3747 1633h9M3684 1558h9M3799 1576h9M3846 1354h9M3717 1265h9M3801 1593h9M3687 1582h9M3750 1167h9M3762 1478h9M3674 1650h9M3737 1635h9M3844 1174h9M3681 1605h9M3684 1483h9M3813 1485h9M3703 1547h9M3808 1368h9M3719 1507h9M3829 1524h9M3671 1484h9M3683 1505h9M3824 1570h9M3785 1557h9M3689 1654h9M3675 1597h9M3708 1466h9M3882 1436h9M3676 1640h9M3838 1537h9M3792 1484h9M3707 1464h9M3803 1303h9M3704 1514h9M3707 1666h9M3793 1621h9M3727 1038h9M3762 1624h9M3679 1681h9M3841 1440h9M3710 1570h9M3855 1582h9M3674 1445h9M3885 1476h9M3756 1557h9M3679 1672h9M3767 1465h9M3699 1539h9M3696 1559h9M3677 1337h9M3683 1351h9M3742 1654h9M3881 1520h9M3848 1592h9M3841 1309h9M3842 1543h9M3671 1617h9M3683 1479h9M3738 1621h9M3676 1649h9M3811 1599h9M3689 1682h9M3770 1533h9M3674 1655h9M3831 1609h9M3736 1575h9M3752 1628h9M3687 1575h9M3705 1646h9M3719 1287h9M3753 1638h9M3795 1514h9M3688 1431h9M3857 1518h9M3772 1574h9M3796 1298h9M3691 1395h9M3674 1568h9M3795 1582h9M3791 1414h9M3671 1668h9M3691 1486h9M3700 1423h9M3814 1601h9M3707 1499h9M3679 1431h9M3748 1231h9M3887 1537h9M3682 1302h9M3710 1668h9M3701 1414h9M3683 1674h9M3751 1657h9M3807 1539h9M3806 1168h9M3752 1649h9M3845 1491h9M3671 1641h9M3763 1246h9M3682 1652h9M3868 1575h9M3675 1659h9M3818 1345h9M3802 1571h9M3708 1344h9M3744 1057h9M3675 1543h9M3675 1648h9M3722 1663h9M3805 1426h9M3691 1126h9M3701 1462h9M3738 1632h9M3673 1596h9M3735 1583h9M3824 1408h9M3684 1639h9M3671 1390h9M3700 1503h9M3671 1553h9M3703 1597h9M3711 1540h9M3707 1675h9M3695 1504h9M3802 1615h9M3722 1640h9M3729 1641h9M3778 1375h9M3671 1555h9M3823 1092h9M3678 1654h9M3837 1567h9M3715 1144h9M3695 1456h9M3827 1554h9M3692 1621h9M3754 1406h9M3687 1038h9M3697 1481h9M3782 1566h9M3718 1651h9M3677 1483h9M3676 1461h9M3714 1446h9M3840 1536h9M3783 1478h9M3695 1460h9M3732 1335h9M3887 1339h9M3733 1596h9M3708 1515h9M3673 1645h9M3700 1625h9M3724 1500h9M3703 1466h9M3806 1565h9M3671 1503h9M3699 1637h9M3879 1546h9M3878 1529h9M3836 1405h9M3862 1572h9M3674 1481h9M3782 1288h9M3712 1589h9M3690 1592h9M3847 1594h9M3755 1642h9M3739 1655h9M3679 1332h9M3732 1598h9M3738 1663h9M3683 1456h9M3678 1510h9M3846 1495h9M3676 1663h9M3733 1604h9M3741 1450h9M3722 1634h9M3848 1581h9M3699 1657h9M3822 1598h9M3794 1635h9M3713 1645h9M3671 1591h9M3814 1430h9M3694 1536h9M3765 1654h9M3672 1564h9M3677 1491h9M3712 1452h9M3678 1113h9M3841 1596h9M3752 1639h9M3773 1514h9M3676 1641h9M3845 1430h9M3677 1596h9M3755 1205h9M3819 1433h9M3694 1490h9M3678 1395h9M3741 1600h9M3765 1563h9M3804 1604h9M3766 1559h9M3697 1622h9M3671 1513h9M3773 1496h9M3699 1415h9M3694 1494h9M3715 1257h9M3820 1599h9M3671 1656h9M3787 1571h9M3767 1628h9M3678 1368h9M3672 1611h9M3866 1406h9M3741 1469h9M3740 1490h9M3673 1684h9M3743 1420h9M3786 1346h9M3737 1500h9M3672 1098h9M3720 1639h9M3795 1627h9M3714 1518h9M3748 1633h9M3777 1467h9M3713 1455h9M3672 1632h9M3860 1391h9M3678 1653h9M3791 1575h9M3731 1520h9M3684 1329h9M3674 1508h9M3696 1593h9M3755 1651h9M3744 1343h9M3688 1384h9M3754 1580h9M3747 1494h9M3880 1565h9M3762 1179h9M3837 1294h9M3840 1476h9M3709 1599h9M3727 1654h9M3852 1505h9M3725 1656h9M3700 1481h9M3703 1609h9M3718 1492h9M3762 1655h9M3701 1261h9M3674 1068h9M3775 1551h9M3857 1485h9M3779 1233h9M3690 1514h9M3763 1410h9M3830 1265h9M3792 1209h9M3830 1473h9M3687 1415h9M3835 1570h9M3673 1659h9M3756 1551h9M3739 1414h9M3682 1486h9M3869 1533h9M3672 1635h9M3700 1398h9M3734 1537h9M3753 1539h9M3686 1590h9M3697 1637h9M3867 1372h9M3705 1584h9M3791 1481h9M3705 1541h9M3804 1521h9M3676 1395h9M3680 1643h9M3700 1621h9M3680 1602h9M3698 1366h9M3724 1166h9M3735 1432h9M3769 1649h9M3676 1557h9M3718 1241h9M3698 1557h9M3761 1613h9M3878 1495h9M3784 952h9M3734 1426h9M3760 1536h9M3819 1592h9M3706 1456h9M3837 1454h9M3736 1613h9M3739 1575h9M3691 1487h9M3778 1621h9M3672 1606h9M3706 1652h9M3778 1643h9M3731 1550h9M3853 1497h9M3704 1452h9M3786 1620h9M3761 1555h9M3671 1462h9M3738 1627h9M3877 1488h9M3673 1506h9M3674 1611h9M3800 1451h9M3741 1624h9M3706 1333h9M3856 1366h9M3756 1128h9M3840 1597h9M3814 1136h9M3719 1185h9M3749 1199h9M3672 1677h9M3761 1542h9M3729 1478h9M3817 1355h9M3677 1476h9M3759 1649h9M3742 1282h9M3798 1571h9M3848 1525h9M3694 1550h9M3718 1509h9M3671 1386h9M3691 1474h9M3676 1658h9M3699 1666h9M3772 1527h9M3732 1643h9M3689 1650h9M3859 1289h9M3688 1433h9M3674 1343h9M3741 1539h9M3702 1290h9M3742 1424h9M3686 1483h9M3863 1579h9M3672 1560h9M3675 1668h9M3674 1639h9M3810 1514h9M3841 1504h9M3792 1625h9M3686 1462h9M3688 1576h9M3818 1427h9M3676 1457h9M3798 1413h9M3769 1544h9M3755 1635h9M3692 1676h9M3743 1329h9M3675 1512h9M3770 1494h9M3690 1597h9M3671 1594h9M3712 1643h9M3861 1378h9M3833 1421h9M3853 1333h9M3682 1656h9M3733 1185h9M3791 1457h9M3750 1546h9M3795 1611h9M3768 1064h9M3790 1494h9M3711 1680h9M3674 1614h9M3672 1599h9M3830 1192h9M3711 1598h9M3759 1524h9M3672 1682h9M3698 1619h9M3838 1485h9M3787 1216h9M3709 1570h9M3681 1296h9M3671 1603h9M3674 1665h9M3709 1282h9M3777 1476h9M3700 1551h9M3786 1537h9M3761 1622h9M3821 1439h9M3775 1511h9M3757 1548h9M3704 1446h9M3678 1592h9M3678 1053h9M3842 1562h9M3695 1583h9M3699 1499h9M3684 1514h9M3674 1640h9M3672 1190h9M3773 1180h9M3675 1584h9M3679 1664h9M3790 1401h9M3743 1376h9M3750 1613h9M3674 1357h9M3747 1492h9M3702 1272h9M3671 1491h9M3805 1488h9M3741 1613h9M3751 1452h9M3752 1360h9M3679 1222h9M3708 1598h9M3890 1504h9M3799 1304h9M3721 1415h9M3697 937h9M3706 1633h9M3801 1566h9M3755 843h9M3682 1616h9M3787 1512h9M3795 1542h9M3816 1089h9M3781 1586h9M3741 1633h9M3704 1472h9M3683 1536h9M3881 1444h9M3811 1285h9M3672 1622h9M3689 1471h9M3772 1624h9M3683 1589h9M3765 1634h9M3715 1647h9M3817 1319h9M3686 1617h9M3681 1048h9M3818 1517h9M3690 1324h9M3716 1665h9M3709 1679h9M3783 1562h9M3746 1491h9M3689 1669h9M3834 1580h9M3680 1521h9M3822 1491h9M3878 1551h9M3715 1431h9M3701 1643h9M3810 1272h9M3727 1636h9M3677 1440h9M3790 1341h9M3789 1599h9M3676 1406h9M3675 1419h9M3848 1538h9M3741 1654h9M3779 1642h9M3682 1569h9M3767 1610h9M3681 1538h9M3744 1584h9M3677 1372h9M3890 1511h9M3672 1664h9M3821 1471h9M3696 1643h9M3734 1435h9M3764 1485h9M3775 1650h9M3814 1547h9M3716 1161h9M3777 1333h9M3675 1676h9M3671 1565h9M3871 1427h9M3672 1525h9M3811 1228h9M3796 1487h9M3810 1623h9M3835 1599h9M3730 1376h9M3675 1516h9M3828 1591h9M3761 1561h9M3743 819h9M3764 1525h9M3672 1580h9M3730 1409h9M3888 1476h9M3870 1563h9M3690 1485h9M3804 1212h9M3681 1352h9M3687 1520h9M3672 1636h9M3693 1433h9M3671 1409h9M3745 1329h9M3716 1537h9M3888 1487h9M3821 1570h9M3741 1201h9M3876 1504h9M3814 1502h9M3851 1489h9M3696 1666h9M3706 1595h9M3803 1604h9M3765 1646h9M3679 1663h9M3747 1640h9M3704 1455h9M3732 1658h9M3883 1514h9M3684 1614h9M3753 1416h9M3707 1241h9M3673 1380h9M3813 1507h9M3791 1533h9M3829 1441h9M3853 1570h9M3753 1658h9M3775 1387h9M3693 1287h9M3701 1653h9M3687 1639h9M3757 1596h9M3733 1284h9M3718 1524h9M3704 1233h9M3671 1334h9M3712 1363h9M3825 1576h9M3708 1634h9M3741 1593h9M3674 1485h9M3798 1414h9M3671 1548h9M3694 1469h9M3672 1486h9M3705 1656h9M3823 1550h9M3708 1660h9M3774 1325h9M3794 1301h9M3839 1485h9M3715 1594h9M3883 1395h9M3729 1498h9M3699 1671h9M3719 1650h9M3698 1520h9M3686 1571h9M3764 1508h9M3813 1360h9M3788 1421h9M3870 1508h9M3694 1565h9M3721 1522h9M3753 1607h9M3748 1661h9M3752 1590h9M3884 1557h9M3679 1638h9M3792 1527h9M3726 1580h9M3875 1561h9M3775 1403h9M3678 905h9M3753 1627h9M3711 1300h9M3704 1683h9M3712 1422h9M3713 1162h9M3716 1610h9M3806 1528h9M3881 1537h9M3831 1273h9M3671 1482h9M3671 1485h9M3789 1562h9M3677 1376h9M3730 1110h9M3747 1464h9M3809 1512h9M3821 1302h9M3722 1556h9M3752 810h9M3733 1554h9M3759 1434h9M3731 1324h9M3769 1641h9M3746 1492h9M3780 1521h9M3705 1623h9M3810 1440h9M3776 1225h9M3685 1682h9M3855 1401h9M3724 1552h9M3719 1314h9M3715 1538h9M3674 1541h9M3707 1465h9M3720 1257h9M3698 1500h9M3688 1526h9M3686 1683h9M3698 1621h9M3709 1596h9M3721 1292h9M3699 1670h9M3760 1452h9M3857 1543h9M3766 1420h9M3715 1645h9M3767 1588h9M3683 1564h9M3719 1665h9M3672 1628h9M3757 1651h9M3751 1408h9M3726 1392h9M3879 1544h9M3724 1568h9M3782 1613h9M3679 1453h9M3785 1507h9M3695 1371h9M3833 1583h9M3707 953h9M3739 1521h9M3841 1549h9M3673 1583h9M3828 1357h9M3700 1321h9M3673 1600h9M3675 1503h9M3679 1469h9M3706 1647h9M3865 1207h9M3737 1479h9M3810 1147h9M3728 1629h9M3778 1295h9M3774 1572h9M3722 1636h9M3671 1522h9M3677 1484h9M3693 1661h9M3680 1626h9M3711 1303h9M3673 1656h9M3744 1397h9M3857 1322h9M3722 1493h9M3810 1615h9M3858 1581h9M3678 1357h9M3870 1560h9M3701 1538h9M3701 1214h9M3807 1556h9M3689 1360h9M3842 1475h9M3809 1540h9M3732 1534h9M3856 1433h9M3785 1384h9M3767 1182h9M3726 1648h9M3699 1582h9M3871 1507h9M3790 1582h9M3853 1459h9M3673 1282h9M3677 1610h9M3724 1403h9M3790 1134h9M3886 1526h9M3672 1653h9M3681 1641h9M3685 1275h9M3727 742h9M3870 1513h9M3719 1557h9M3678 1626h9M3807 1513h9M3676 1612h9M3690 1414h9M3777 1417h9M3784 1621h9M3713 1424h9M3733 1511h9M3673 1587h9M3738 1653h9M3674 1617h9M3800 1578h9M3890 1497h9M3681 1460h9M3858 1376h9M3680 1468h9M3800 1571h9M3686 1226h9M3687 1519h9M3879 1566h9M3691 1672h9M3815 1439h9M3684 1330h9M3760 1257h9M3697 1287h9M3701 1358h9M3829 1521h9M3693 1539h9M3686 1488h9M3725 1459h9M3782 1194h9M3671 1651h9M3678 1629h9M3792 1441h9M3813 965h9M3740 1591h9M3722 1443h9M3735 1544h9M3676 1331h9M3675 1675h9M3711 1678h9M3802 1545h9M3737 1589h9M3780 1605h9M3716 1497h9M3724 1459h9M3688 1465h9M3728 1469h9M3710 1418h9M3744 1660h9M3724 1439h9M3756 1575h9M3850 1568h9M3679 1517h9M3798 1407h9M3697 1585h9M3862 1318h9M3830 1540h9M3731 1598h9M3694 1527h9M3849 1284h9M3859 1174h9M3683 1684h9M3676 1662h9M3722 1452h9M3686 1517h9M3676 1381h9M3707 1609h9M3678 1505h9M3699 1456h9M3848 1564h9M3674 1236h9M3732 1563h9M3672 1550h9M3679 1399h9M3700 1539h9M3761 1483h9M3866 1550h9M3713 1355h9M3848 1517h9M3687 1559h9M3863 1476h9M3763 1560h9M3857 1569h9M3764 1354h9M3837 1424h9M3707 1406h9M3709 1260h9M3798 1370h9M3860 1552h9M3748 1377h9M3731 1664h9M3829 1442h9M3678 1674h9M3775 1432h9M3678 1528h9M3671 1685h9M3757 1576h9M3754 1609h9M3700 1585h9M3825 1289h9M3720 1672h9M3732 1413h9M3739 1565h9M3784 1620h9M3681 1544h9M3756 1497h9M3773 1342h9M3679 1486h9M3799 1322h9M3873 1349h9M3804 1530h9M3696 1631h9M3685 1639h9M3806 1529h9M3681 1299h9M3868 1328h9M3812 1146h9M3674 1496h9M3781 1343h9M3864 1493h9M3875 1556h9M3878 1263h9M3747 1531h9M3824 1505h9M3688 1600h9M3692 1589h9M3728 1316h9M3835 1515h9M3760 1529h9M3727 1366h9M3731 1658h9M3749 1578h9M3683 1644h9M3706 1527h9M3708 1525h9M3713 1478h9M3837 1415h9M3766 1467h9M3683 1350h9M3671 1561h9M3740 1250h9M3672 1639h9M3733 1543h9M3798 1249h9M3747 1493h9M3869 1451h9M3764 1466h9M3772 1331h9M3741 1602h9M3719 1656h9M3807 1545h9M3683 1559h9M3696 1431h9M3881 1382h9M3791 1473h9M3748 1612h9M3816 1555h9M3879 1369h9M3696 1568h9M3696 1505h9M3802 1429h9M3688 1598h9M3683 1676h9M3713 1585h9M3729 1477h9M3779 947h9M3720 1397h9M3775 1333h9M3821 1539h9M3769 1621h9M3691 1530h9M3700 1635h9M3701 1463h9M3710 1628h9M3679 1631h9M3740 1607h9M3700 1530h9M3709 1537h9M3692 1481h9M3683 1598h9M3726 1218h9M3691 1638h9M3718 1645h9M3782 1593h9M3740 1448h9M3774 1452h9M3680 1476h9M3759 1540h9M3854 1443h9M3679 1432h9M3739 958h9M3744 1531h9M3856 1331h9M3720 1490h9M3693 1675h9M3676 1672h9M3758 1636h9M3673 1609h9M3745 1632h9M3690 1436h9M3687 1664h9M3853 1548h9M3750 1589h9M3695 1589h9M3783 1584h9M3679 1355h9M3760 1441h9M3735 1664h9M3700 1651h9M3805 1437h9M3831 1592h9M3779 1612h9M3733 1456h9M3702 1525h9M3671 1459h9M3783 1641h9M3832 1559h9M3678 1370h9M3683 1622h9M3693 1458h9M3762 1470h9M3702 1672h9M3839 1477h9M3728 1559h9M3737 1608h9M3700 1682h9M3721 1648h9M3881 1432h9M3786 1462h9M3793 1309h9M3716 1552h9M3739 1606h9M3694 1625h9M3881 1558h9M3726 1485h9M3754 1473h9M3688 1493h9M3695 1612h9M3704 1666h9M3707 1642h9M3826 1420h9M3760 1369h9M3711 1596h9M3794 1542h9M3707 1225h9M3823 1594h9M3764 1647h9M3675 1447h9M3713 1661h9M3736 1660h9M3679 1684h9M3793 1431h9M3780 1532h9M3755 1520h9M3744 1448h9M3773 1504h9M3832 1503h9M3687 1469h9M3733 1540h9M3747 1599h9M3738 1646h9M3672 1618h9M3729 1514h9M3673 1446h9M3746 1662h9M3700 1340h9M3755 1637h9M3726 1338h9M3733 1588h9M3695 1672h9M3805 1458h9M3758 1018h9M3709 1661h9M3674 1540h9M3827 1584h9M3685 1633h9M3716 1496h9M3861 1505h9M3827 1533h9M3777 1589h9M3683 1627h9M3785 1645h9M3734 1287h9M3697 1489h9M3782 1568h9M3810 1603h9M3811 1226h9M3787 1618h9M3671 1509h9M3764 1603h9M3755 1526h9M3804 1567h9M3811 1244h9M3803 1121h9M3677 1234h9M3808 1448h9M3700 1570h9M3702 1167h9M3802 1185h9M3798 1426h9M3764 1518h9M3804 1589h9M3777 1147h9M3801 1497h9M3813 1398h9M3673 1553h9M3721 1229h9M3743 1662h9M3792 1592h9M3698 1388h9M3880 1374h9M3860 1492h9M3786 1419h9M3783 1631h9M3692 1518h9M3829 1515h9M3723 1440h9M3762 1613h9M3718 1580h9M3723 1523h9M3805 1545h9M3694 1520h9M3740 1631h9M3679 1645h9M3790 1437h9M3719 1225h9M3720 1653h9M3790 1560h9M3795 1574h9M3763 1508h9M3690 1642h9M3754 1626h9M3791 1486h9M3692 1537h9M3696 1680h9M3715 1553h9M3808 1603h9M3728 1591h9M3720 1637h9M3675 1644h9M3801 1361h9M3823 1524h9M3710 1608h9M3694 1518h9M3686 1583h9M3793 1465h9M3794 1630h9M3672 1113h9M3759 1555h9M3706 1096h9M3675 1500h9M3694 1409h9M3737 1602h9M3723 1675h9M3726 1592h9M3672 1552h9M3717 1658h9M3715 1653h9M3752 1392h9M3678 1572h9M3736 1469h9M3794 1596h9M3723 1069h9M3705 1472h9M3674 1495h9M3770 1285h9M3733 1595h9M3671 1580h9M3673 1647h9M3672 1547h9M3676 1448h9M3825 1497h9M3681 1303h9M3685 1462h9M3764 1306h9M3772 1555h9M3695 1549h9M3781 1594h9M3809 1534h9M3685 1632h9M3725 1672h9M3695 1187h9M3682 1360h9M3691 1047h9M3720 1535h9M3834 1598h9M3707 1648h9M3673 1680h9M3726 1614h9M3795 1559h9M3685 1655h9M3876 1266h9M3681 1481h9M3852 1300h9M3821 1571h9M3807 1599h9M3671 1399h9M3695 1259h9M3840 1552h9M3780 1195h9M3809 1628h9M3672 1685h9M3740 1625h9M3697 1657h9M3725 1625h9M3678 1566h9M3676 1564h9M3770 1499h9M3674 1638h9M3703 1483h9M3677 1640h9M3737 1374h9M3833 1450h9M3745 1510h9M3711 1393h9M3746 1661h9M3818 1470h9M3876 1408h9M3682 1298h9M3750 1596h9M3701 1005h9M3726 1502h9M3777 1394h9M3724 1659h9M3812 1401h9M3719 1673h9M3735 1552h9M3679 1080h9M3770 1616h9M3717 1600h9M3679 1618h9M3672 1539h9M3800 1609h9M3861 1538h9M3740 1023h9M3773 1494h9M3704 1528h9M3881 1550h9M3762 1603h9M3853 1385h9M3782 1349h9M3753 1470h9M3680 1666h9M3680 1570h9M3815 1451h9M3683 1657h9M3692 1659h9M3754 1616h9M3780 1566h9M3672 1660h9M3690 1625h9M3772 1191h9M3836 1434h9M3702 1599h9M3672 1590h9M3705 1211h9M3720 1670h9M3711 1670h9M3739 1621h9M3671 1612h9M3823 1450h9M3862 1524h9M3712 1560h9M3806 1417h9M3785 1589h9M3767 1625h9M3830 1375h9M3671 1606h9M3699 1565h9M3694 1528h9M3673 1385h9M3756 1645h9M3790 1369h9M3765 1233h9M3696 1482h9M3763 1550h9M3684 1619h9M3679 1658h9M3826 1173h9M3751 1568h9M3679 1573h9M3672 1333h9M3700 1505h9M3758 1641h9M3765 1635h9M3867 1458h9M3704 1227h9M3840 1508h9M3752 1423h9M3686 1637h9M3716 1648h9M3745 1194h9M3715 1608h9M3849 1544h9M3731 1536h9M3697 1615h9M3707 1598h9M3679 1418h9M3792 1228h9M3749 1431h9M3752 1105h9M3673 1414h9M3773 1599h9M3868 1350h9M3678 1593h9M3862 1573h9M3674 1455h9M3741 1594h9M3783 1589h9M3731 1608h9M3720 1546h9M3758 1627h9M3783 1411h9M3863 1493h9M3700 1482h9M3728 1556h9M3696 1439h9M3770 1583h9M3684 1543h9M3760 1598h9M3802 1320h9M3816 1585h9M3691 1541h9M3694 1627h9M3739 1539h9M3697 1668h9M3744 1662h9M3846 1395h9M3674 1503h9M3721 1637h9M3761 1516h9M3859 1456h9M3742 1529h9M3696 1663h9M3683 1551h9M3703 1206h9M3796 1627h9M3738 1601h9M3765 1614h9M3687 1604h9M3690 1608h9M3701 1385h9M3673 1538h9M3776 1510h9M3725 1582h9M3683 1576h9M3696 1634h9M3681 1646h9M3748 1494h9M3736 1294h9M3705 1355h9M3757 1652h9M3841 1514h9M3815 1601h9M3823 1605h9M3877 1517h9M3765 1001h9M3695 1674h9M3687 907h9M3816 1623h9M3829 1509h9M3821 1606h9M3690 1428h9M3765 1496h9M3729 1203h9M3735 1359h9M3853 1489h9M3843 1373h9M3693 1604h9M3671 1182h9M3723 1644h9M3719 1653h9M3716 1533h9M3710 1606h9M3695 1331h9M3818 1591h9M3685 1597h9M3863 1552h9M3721 1445h9M3728 1633h9M3703 1499h9M3707 1437h9M3782 1394h9M3793 1537h9M3834 1588h9M3795 1516h9M3679 1376h9M3704 1569h9M3860 1581h9M3830 1269h9M3681 1658h9M3673 1557h9M3881 1522h9M3684 1528h9M3673 1658h9M3885 1295h9M3729 1663h9M3721 1657h9M3679 1625h9M3713 1649h9M3758 1564h9M3805 1627h9M3774 1398h9M3819 1616h9M3692 1650h9M3792 1616h9M3721 1626h9M3825 1615h9M3801 1626h9M3799 1515h9M3702 1017h9M3739 1623h9M3698 1637h9M3870 1540h9M3728 1534h9M3796 1599h9M3729 1362h9M3820 1620h9M3757 1447h9M3730 1504h9M3855 1533h9M3690 1588h9M3739 1509h9M3684 1520h9M3707 1500h9M3688 1662h9M3682 1646h9M3856 1501h9M3789 1358h9M3778 1609h9M3673 1507h9M3686 1476h9M3672 1502h9M3868 1535h9M3702 1496h9M3770 1518h9M3769 1339h9M3806 1627h9M3777 1458h9M3696 926h9M3783 1365h9M3775 1584h9M3679 1551h9M3671 1286h9M3724 1639h9M3684 1424h9M3708 1616h9M3760 1614h9M3679 1579h9M3824 1561h9M3780 1604h9M3732 1578h9M3803 1613h9M3840 1333h9M3886 1380h9M3674 1294h9M3738 1492h9M3745 1595h9M3686 1495h9M3721 1517h9M3730 1620h9M3729 1618h9M3748 1567h9M3739 1568h9M3809 1426h9M3673 1413h9M3762 1486h9M3771 1607h9M3695 1548h9M3671 1416h9M3880 1274h9M3800 1517h9M3679 1538h9M3819 1434h9M3739 1631h9M3783 1638h9M3763 1414h9M3780 1255h9M3821 1437h9M3855 1379h9M3709 1436h9M3675 1646h9M3710 1503h9M3834 1376h9M3837 1369h9M3671 1670h9M3675 1080h9M3723 1346h9M3685 1501h9M3708 1654h9M3674 1620h9M3682 1583h9M3853 1487h9M3810 1613h9M3774 1645h9M3675 1475h9M3743 1422h9M3718 1408h9M3675 1678h9M3795 1272h9M3691 1584h9M3794 1598h9M3765 1566h9M3764 1443h9M3711 1526h9M3735 1509h9M3770 1642h9M3673 1447h9M3724 1585h9M3776 1459h9M3764 1429h9M3813 1425h9M3721 1523h9M3769 1468h9M3716 1436h9M3735 1393h9M3779 1555h9M3782 1398h9M3671 1385h9M3778 1561h9M3826 1395h9M3714 1638h9M3759 1523h9M3680 1658h9M3734 1608h9M3691 1586h9M3839 1600h9M3679 1303h9M3715 1648h9M3767 1531h9M3689 1604h9M3845 1174h9M3700 1455h9M3698 1605h9M3671 1578h9M3811 1354h9M3695 1626h9M3681 1649h9M3791 1637h9M3814 1556h9M3763 1624h9M3691 1333h9M3695 1579h9M3671 1074h9M3674 1654h9M3697 1082h9M3756 1633h9M3674 1667h9M3676 1555h9M3862 1480h9M3713 1494h9M3731 1515h9M3887 1527h9M3708 1302h9M3705 1655h9M3855 1257h9M3687 1661h9M3731 972h9M3748 1241h9M3827 1528h9M3683 1458h9M3709 1249h9M3771 1639h9M3813 1624h9M3722 1618h9M3699 1571h9M3732 1500h9M3691 1354h9M3801 1548h9M3683 1546h9M3678 1297h9M3800 1555h9M3671 1677h9M3871 1484h9M3686 1328h9M3853 1348h9M3843 1512h9M3689 1644h9M3738 1662h9M3772 1389h9M3852 1514h9M3853 1465h9M3685 1283h9M3676 1114h9M3779 1610h9M3870 1353h9M3710 1631h9M3806 1597h9M3767 1291h9M3747 1579h9M3770 1631h9M3792 1606h9M3732 1425h9M3698 1608h9M3711 1554h9M3671 1332h9M3785 1494h9M3815 1536h9M3771 1586h9M3681 1676h9M3758 1600h9M3674 1612h9M3755 1294h9M3880 1480h9M3757 1531h9M3865 1536h9M3756 1423h9M3763 1638h9M3684 1376h9M3793 1506h9M3722 1546h9M3766 1592h9M3813 1490h9M3701 1498h9M3781 1466h9M3816 1287h9M3680 1450h9M3874 1418h9M3756 1150h9M3808 1602h9M3745 1593h9M3778 1616h9M3773 1651h9M3734 1627h9M3737 1648h9M3683 1666h9M3762 1518h9M3844 1459h9M3749 1487h9M3762 1620h9M3764 1588h9M3689 1621h9M3676 1657h9M3721 1674h9M3685 1664h9M3676 1619h9M3787 1413h9M3794 1638h9M3767 1595h9M3738 1642h9M3834 1449h9M3707 1658h9M3749 1604h9M3888 1554h9M3684 1522h9M3673 1676h9M3819 1463h9M3792 1444h9M3747 1607h9M3681 1595h9M3740 1454h9M3692 1469h9M3748 1449h9M3690 1505h9M3680 1620h9M3714 1582h9M3842 1222h9M3763 1635h9M3714 1660h9M3786 1366h9M3672 1538h9M3766 1541h9M3870 1569h9M3834 1517h9M3717 1380h9M3845 1544h9M3723 1517h9M3842 1582h9M3792 1184h9M3677 1097h9M3743 1399h9M3689 1535h9M3833 1608h9M3713 1643h9M3683 1667h9M3721 1355h9M3889 1422h9M3761 1466h9M3696 1440h9M3794 1381h9M3699 1390h9M3786 1455h9M3692 1685h9M3822 1615h9M3772 1523h9M3707 1546h9M3671 1662h9M3854 1584h9M3703 1617h9M3830 1524h9M3690 1629h9M3747 1400h9M3692 1096h9M3773 1506h9M3797 1621h9M3768 1584h9M3806 1617h9M3885 1353h9M3791 1220h9M3767 1609h9M3682 1268h9M3785 1599h9M3713 1538h9M3723 1579h9M3868 1452h9M3680 1680h9M3685 1672h9M3726 1146h9M3712 1387h9M3736 1618h9M3694 1664h9M3697 1650h9M3791 1585h9M3763 1657h9M3695 1433h9M3689 1610h9M3720 1629h9M3672 1163h9M3699 1254h9M3673 1681h9M3795 1599h9M3725 1053h9M3675 1661h9M3692 1642h9M3736 1663h9M3804 1603h9M3719 1670h9M3720 1646h9M3672 1410h9M3688 1341h9M3683 1669h9M3759 1568h9M3744 1641h9M3743 1460h9M3725 1583h9M3797 1494h9M3716 1673h9M3686 1308h9M3676 1281h9M3797 1539h9M3745 1615h9M3782 1192h9M3702 1378h9M3771 1557h9M3739 1591h9M3888 1303h9M3727 1510h9M3720 1487h9M3684 1541h9M3721 1617h9M3815 1528h9M3723 1565h9M3685 1607h9M3779 1589h9M3714 1399h9M3682 1678h9M3736 1587h9M3675 1632h9M3699 1619h9M3672 1645h9M3780 1585h9M3822 1597h9M3692 1411h9M3694 1219h9M3697 1511h9M3798 1603h9M3861 1451h9M3826 1492h9M3803 1487h9M3707 1513h9M3800 1631h9M3725 1620h9M3764 1656h9M3721 1287h9M3827 1415h9M3714 1327h9M3858 1200h9M3831 1575h9M3682 1265h9M3742 1630h9M3674 1669h9M3732 1618h9M3695 1325h9M3684 1638h9M3846 1524h9M3873 1552h9M3780 1303h9M3739 1254h9M3746 1650h9M3725 1581h9M3676 1334h9M3691 1381h9M3855 1518h9M3735 1350h9M3706 1438h9M3773 1435h9M3783 1613h9M3672 1609h9M3796 1124h9M3672 1462h9M3682 1489h9M3683 1530h9M3793 1631h9M3672 1457h9M3671 1600h9M3682 1567h9M3693 1637h9M3855 1577h9M3721 1540h9M3680 1659h9M3786 1566h9M3779 1633h9M3840 1373h9M3856 1316h9M3717 1400h9M3739 1365h9M3688 1478h9M3672 1650h9M3807 1518h9M3746 1664h9M3792 1585h9M3863 1582h9M3680 1609h9M3881 1467h9M3831 1314h9M3716 1384h9M3708 1624h9M3871 1238h9M3820 1492h9M3794 1159h9M3747 1627h9M3854 1552h9M3681 1656h9M3696 1340h9M3749 1574h9M3698 1591h9M3687 1641h9M3823 1596h9M3712 1558h9M3704 1476h9M3719 1540h9M3752 1620h9M3679 1671h9M3792 1512h9M3728 1544h9M3884 1495h9M3842 1535h9M3723 1586h9M3688 1642h9M3811 1616h9M3791 1514h9M3740 1619h9M3825 1610h9M3737 1510h9M3682 1675h9M3815 1609h9M3682 1345h9M3680 1473h9M3713 1403h9M3814 1579h9M3759 1493h9M3696 1626h9M3860 1487h9M3675 1680h9M3844 1286h9M3733 1574h9M3710 1651h9M3687 1456h9M3744 1488h9M3671 1378h9M3725 1658h9M3694 1630h9M3710 1666h9M3835 1526h9M3877 1384h9M3776 1546h9M3676 1497h9M3727 1517h9M3799 1514h9M3686 1338h9M3742 1614h9M3752 1421h9M3675 1456h9M3723 1313h9M3730 1639h9M3678 1160h9M3677 1546h9M3817 1551h9M3698 1561h9M3844 1580h9M3826 1552h9M3878 1557h9M3722 1528h9M3671 705h9M3755 1249h9M3717 1617h9M3771 1617h9M3699 1588h9M3821 1548h9M3812 1618h9M3837 1521h9M3821 1519h9M3702 1406h9M3676 1463h9M3808 1590h9M3675 1621h9M3798 1566h9M3797 1487h9M3724 1553h9M3689 1622h9M3694 1167h9M3878 1538h9M3834 1360h9M3696 1457h9M3749 1610h9M3827 1583h9M3812 1515h9M3671 1166h9M3804 1608h9M3676 1478h9M3796 1597h9M3718 1609h9M3710 1298h9M3717 1262h9M3748 1330h9M3711 1620h9M3693 1650h9M3843 1574h9M3726 1297h9M3676 1547h9M3692 1530h9M3872 1469h9M3860 1479h9M3683 1507h9M3813 1346h9M3719 1605h9M3684 1532h9M3733 1672h9M3679 1361h9M3694 1683h9M3744 1485h9M3736 1477h9M3788 1528h9M3679 1619h9M3772 1541h9M3787 1493h9M3692 1436h9M3850 1433h9M3770 1506h9M3726 1664h9M3744 1616h9M3759 1638h9M3711 1671h9M3675 1538h9M3754 1264h9M3727 1365h9M3751 1236h9M3700 1600h9M3838 1577h9M3671 1632h9M3805 1501h9M3708 1498h9M3747 1517h9M3745 1420h9M3691 1502h9M3706 1443h9M3784 1501h9M3672 1642h9M3835 1477h9M3680 1675h9M3686 1633h9M3690 1595h9M3691 1596h9M3714 1610h9M3761 1525h9M3742 1366h9M3725 1573h9M3730 1552h9M3851 1200h9M3707 1306h9M3682 1399h9M3696 1574h9M3706 1645h9M3684 1677h9M3703 1591h9M3733 1439h9M3831 1329h9M3671 1311h9M3830 1565h9M3699 1627h9M3681 1631h9M3826 1490h9M3716 1535h9M3798 1351h9M3745 1350h9M3727 1629h9M3821 1598h9M3738 1600h9M3673 1326h9M3708 1227h9M3781 1581h9M3672 1345h9M3731 1603h9M3676 1648h9M3678 1571h9M3711 1616h9M3727 1490h9M3711 1196h9M3671 1065h9M3750 1439h9M3684 1545h9M3847 1513h9M3812 1219h9M3696 1476h9M3877 1245h9M3793 1596h9M3809 1598h9M3693 1627h9M3796 1593h9M3795 1408h9M3692 1410h9M3737 1550h9M3679 1497h9M3676 1323h9M3739 1519h9M3699 1638h9M3721 1652h9M3708 1562h9M3810 1152h9M3706 1659h9M3770 1553h9M3703 1641h9M3768 1401h9M3826 1297h9M3815 1406h9M3841 1532h9M3712 1601h9M3817 1466h9M3694 1564h9M3698 1571h9M3681 1591h9M3740 1630h9M3739 1651h9M3756 1431h9M3714 1650h9M3819 1561h9M3677 1665h9M3691 1608h9M3709 1585h9M3807 1444h9M3692 1457h9M3773 1542h9M3847 1475h9M3857 1248h9M3675 1652h9M3707 1536h9M3698 1603h9M3782 1452h9M3693 1144h9M3802 1621h9M3676 1576h9M3676 1608h9M3762 1499h9M3753 1337h9M3718 1605h9M3789 1597h9M3778 1470h9M3671 1637h9M3890 1358h9M3843 1513h9M3700 1589h9M3687 1668h9M3860 1440h9M3873 1234h9M3737 1662h9M3684 1623h9M3715 1437h9M3760 1595h9M3710 1542h9M3761 1577h9M3700 1630h9M3815 1612h9M3772 1573h9M3791 1469h9M3738 1399h9M3851 1319h9M3671 1616h9M3687 1585h9M3838 1361h9M3827 1474h9M3767 1312h9M3736 1437h9M3796 1620h9M3799 1574h9M3786 1447h9M3688 1477h9M3816 1611h9M3687 1532h9M3832 1581h9M3780 1486h9M3713 1623h9M3711 1658h9M3675 1436h9M3671 1458h9M3774 1248h9M3687 1669h9M3688 1530h9M3695 1545h9M3677 1675h9M3672 1496h9M3696 1474h9M3787 1563h9M3813 1530h9M3683 1279h9M3731 1624h9M3676 1660h9M3835 1480h9M3730 1659h9M3689 1464h9M3688 1398h9M3674 1426h9M3703 1632h9M3671 1231h9M3696 1569h9M3694 1637h9M3887 1389h9M3838 1398h9M3709 1644h9M3680 1591h9M3715 1343h9M3673 1539h9M3698 1632h9M3737 1657h9M3762 1448h9M3710 1500h9M3692 1154h9M3786 1575h9M3709 1622h9M3816 1538h9M3719 1625h9M3801 1617h9M3783 1429h9M3735 1494h9M3879 1344h9M3734 1527h9M3849 1476h9M3678 1449h9M3820 1556h9M3768 1377h9M3705 952h9M3729 1560h9M3675 848h9M3715 1597h9M3683 1613h9M3748 1652h9M3827 1545h9M3718 1380h9M3752 1606h9M3716 1509h9M3741 1639h9M3720 1432h9M3845 1494h9M3716 1573h9M3686 1131h9M3707 1149h9M3768 1212h9M3817 1133h9M3834 1305h9M3731 1621h9M3748 1658h9M3722 1616h9M3688 1506h9M3810 1547h9M3731 1312h9M3834 1567h9M3718 1624h9M3691 1519h9M3768 1579h9M3814 1460h9M3743 1426h9M3710 1569h9M3769 1380h9M3737 1431h9M3884 1520h9M3703 1655h9M3863 1567h9M3726 1571h9M3756 1387h9M3811 1490h9M3683 1575h9M3791 1573h9M3745 1108h9M3688 1664h9M3726 1433h9M3828 1602h9M3781 1559h9M3700 1258h9M3748 1393h9M3882 1415h9M3725 1566h9M3684 1231h9M3818 1210h9M3698 1567h9M3834 1549h9M3754 1258h9M3673 1586h9M3738 1320h9M3722 1518h9M3812 1506h9M3782 1581h9M3722 920h9M3873 1374h9M3846 1553h9M3671 1208h9M3805 1476h9M3762 1142h9M3779 1609h9M3717 1601h9M3672 1557h9M3719 1634h9M3864 1509h9M3702 1411h9M3731 1539h9M3726 1498h9M3821 1593h9M3753 1500h9M3699 1684h9M3803 1446h9M3674 1527h9M3711 1370h9M3686 1630h9M3862 1467h9M3697 1676h9M3724 1526h9M3692 1590h9M3730 1407h9M3673 1665h9M3683 1604h9M3696 1087h9M3776 1568h9M3772 1582h9M3767 1592h9M3771 1532h9M3691 1373h9M3858 1548h9M3788 1448h9M3821 1498h9M3739 1602h9M3754 1417h9M3746 1649h9M3779 1553h9M3841 1466h9M3673 1363h9M3801 1371h9M3674 1395h9M3715 1509h9M3725 1598h9M3762 1471h9M3714 1412h9M3675 1595h9M3733 1280h9M3708 1557h9M3759 1602h9M3827 1501h9M3709 1296h9M3730 1542h9M3693 1642h9M3696 1575h9M3721 1607h9M3875 1474h9M3794 1439h9M3689 1685h9M3809 1612h9M3762 1242h9M3738 1617h9M3712 1486h9M3852 1408h9M3733 1324h9M3812 1588h9M3765 1389h9M3763 1539h9M3695 1414h9M3688 1446h9M3687 1590h9M3694 1452h9M3874 1370h9M3772 1571h9M3708 1458h9M3677 1534h9M3755 1465h9M3739 1550h9M3679 1639h9M3863 1290h9M3825 1490h9M3831 1154h9M3719 1288h9M3711 1084h9M3702 1352h9M3730 1587h9M3790 1609h9M3729 1619h9M3678 1661h9M3671 1072h9M3842 1462h9M3700 1403h9M3742 1533h9M3692 1520h9M3746 1533h9M3771 1458h9M3745 1540h9M3748 1075h9M3685 1268h9M3803 1579h9M3780 1610h9M3888 1456h9M3879 1276h9M3857 1223h9M3725 1629h9M3702 1408h9M3739 1244h9M3832 1553h9M3742 1580h9M3703 1639h9M3707 1652h9M3713 1622h9M3692 1139h9M3762 1551h9M3671 1644h9M3707 1522h9M3676 1570h9M3700 1650h9M3807 1531h9M3744 1594h9M3868 1257h9M3717 1176h9M3744 1490h9M3795 1460h9M3834 1418h9M3819 1607h9M3754 1548h9M3814 1578h9M3678 1522h9M3831 1570h9M3673 1526h9M3801 1529h9M3702 1605h9M3715 1492h9M3717 696h9M3681 1669h9M3755 1575h9M3730 1656h9M3764 1321h9M3733 1427h9M3842 1512h9M3721 1571h9M3671 1625h9M3843 1584h9M3874 1401h9M3778 1602h9M3719 1183h9M3701 1367h9M3726 1335h9M3867 1541h9M3696 1144h9M3733 1521h9M3754 1618h9M3869 1373h9M3723 1582h9M3794 1599h9M3706 1385h9M3676 1591h9M3808 1614h9M3720 1630h9M3838 1400h9M3849 1374h9M3744 1617h9M3748 1474h9M3743 1614h9M3678 1277h9M3778 1613h9M3691 1592h9M3687 1583h9M3696 1672h9M3712 1639h9M3723 1513h9M3836 1449h9M3785 1610h9M3695 1318h9M3810 1409h9M3756 1519h9M3671 1380h9M3724 1581h9M3690 1589h9M3693 1504h9M3751 831h9M3686 1413h9M3680 1592h9M3754 1646h9M3684 1482h9M3807 1454h9M3678 1446h9M3715 1161h9M3745 1493h9M3715 1555h9M3755 1648h9M3851 1491h9M3675 1635h9M3826 1576h9M3735 1520h9M3728 1484h9M3706 1457h9M3684 1540h9M3867 1514h9M3712 1680h9M3809 1334h9M3678 1499h9M3691 1665h9M3778 1471h9M3694 1398h9M3700 1595h9M3710 1439h9M3824 1434h9M3672 1533h9M3841 1540h9M3707 1636h9M3788 1578h9M3672 1670h9M3834 1566h9M3781 1471h9M3862 1219h9M3672 1643h9M3776 944h9M3673 1598h9M3690 1526h9M3699 1629h9M3674 1572h9M3776 1404h9M3808 1575h9M3844 1468h9M3765 1531h9M3673 1661h9M3737 1640h9M3728 1475h9M3673 1608h9M3671 1657h9M3706 1604h9M3801 1443h9M3795 1141h9M3794 1560h9M3684 1561h9M3694 1635h9M3713 1620h9M3673 1678h9M3733 982h9M3760 1616h9M3673 1641h9M3712 1207h9M3700 1461h9M3804 1480h9M3795 1531h9M3818 1278h9M3856 1496h9M3700 1623h9M3678 1659h9M3767 1627h9M3746 1342h9M3672 1563h9M3705 1588h9M3740 1346h9M3767 1422h9M3787 1607h9M3740 1501h9M3758 1457h9M3686 1260h9M3733 1583h9M3762 1218h9M3777 1609h9M3671 1261h9M3676 1583h9M3691 1514h9M3850 1486h9M3766 1494h9M3700 1680h9M3685 1519h9M3702 1637h9M3674 1516h9M3760 1587h9M3781 1588h9M3770 1650h9M3713 1639h9M3692 1312h9M3753 1651h9M3889 1427h9M3675 1671h9M3826 1597h9M3693 1509h9M3695 1357h9M3847 1343h9M3678 1595h9M3706 1497h9M3831 1515h9M3827 1550h9M3743 1000h9M3816 1296h9M3710 1447h9M3700 1498h9M3864 1408h9M3687 1484h9M3729 708h9M3786 1542h9M3805 1364h9M3739 1031h9M3784 1612h9M3700 1410h9M3766 1077h9M3681 1200h9M3681 1664h9M3689 1481h9M3850 1503h9M3791 1174h9M3709 1669h9M3768 1361h9M3822 1589h9M3706 1469h9M3724 1524h9M3850 1560h9M3848 1583h9M3793 1554h9M3709 1401h9M3722 1522h9M3698 1299h9M3711 1485h9M3689 1453h9M3817 1189h9M3694 1240h9M3820 1550h9M3701 1570h9M3778 1446h9M3689 1660h9M3747 1444h9M3692 1305h9M3740 1572h9M3826 1505h9M3772 1546h9M3730 1669h9M3861 1406h9M3693 1517h9M3722 1658h9M3890 1486h9M3693 1525h9M3828 1598h9M3704 1659h9M3686 1542h9M3700 1580h9M3718 1658h9M3793 1502h9M3832 1569h9M3739 1667h9M3746 1423h9M3754 1341h9M3871 1397h9M3685 1408h9M3673 1615h9M3759 1520h9M3677 1583h9M3718 1127h9M3691 1177h9M3708 1489h9M3752 1655h9M3739 1495h9M3713 1581h9M3696 1570h9M3839 1237h9M3680 1641h9M3809 1463h9M3874 1486h9M3759 1508h9M3672 1492h9M3718 1502h9M3807 1403h9M3846 1200h9M3671 1543h9M3775 1533h9M3738 1661h9M3722 1502h9M3888 1539h9M3843 1577h9M3676 1425h9M3692 1199h9M3750 1626h9M3876 1527h9M3777 1569h9M3730 1551h9M3672 1598h9M3808 1524h9M3821 1567h9M3798 1600h9M3793 1511h9M3671 1191h9M3844 1386h9M3796 1449h9M3818 1045h9M3812 1288h9M3677 1467h9M3703 981h9M3798 1522h9M3693 1643h9M3744 1407h9M3845 1256h9M3671 1645h9M3691 1671h9M3684 1622h9M3733 1539h9M3885 1504h9M3858 1449h9M3685 1609h9M3771 1549h9M3866 1321h9M3833 1375h9M3676 1470h9M3674 1593h9M3716 1234h9M3863 1334h9M3688 1607h9M3672 1616h9M3694 1349h9M3754 1441h9M3856 1288h9M3706 1565h9M3686 1640h9M3692 1559h9M3691 1604h9M3806 1494h9M3718 1083h9M3694 881h9M3787 1266h9M3747 1572h9M3708 1565h9M3741 1635h9M3821 1590h9M3787 1520h9M3672 1613h9M3705 1549h9M3834 1544h9M3793 1589h9M3753 1643h9M3681 1364h9M3720 1626h9M3797 1395h9M3776 1468h9M3848 1475h9M3692 1606h9M3678 1394h9M3810 1552h9M3854 1322h9M3805 1618h9M3716 1432h9M3686 1559h9M3756 1540h9M3728 1606h9M3806 1400h9M3750 1618h9M3726 1579h9M3679 1644h9M3832 1452h9M3762 1608h9M3806 1500h9M3678 1679h9M3761 1623h9M3732 1214h9M3747 1534h9M3720 1602h9M3820 1261h9M3671 1664h9M3781 1362h9M3745 1654h9M3747 1551h9M3719 1668h9M3846 1358h9M3759 1519h9M3688 1462h9M3824 1550h9M3881 1465h9M3691 1654h9M3695 1546h9M3774 1442h9M3794 1603h9M3721 1595h9M3741 1647h9M3861 1558h9M3693 1648h9M3672 1508h9M3700 1577h9M3718 1563h9M3875 1364h9M3732 1654h9M3704 1394h9M3829 1329h9M3764 1375h9M3711 1589h9M3695 1432h9M3677 1650h9M3739 1593h9M3752 1517h9M3681 1236h9M3720 1621h9M3704 1331h9M3693 1326h9M3676 1525h9M3683 1561h9M3843 1472h9M3786 1597h9M3679 1660h9M3677 1659h9M3872 1417h9M3718 1593h9M3716 1549h9M3846 1246h9M3704 1240h9M3822 1523h9M3678 1582h9M3708 1549h9M3675 1386h9M3671 1665h9M3707 1615h9M3752 1363h9M3861 1537h9M3716 1350h9M3749 1585h9M3753 1444h9M3789 1142h9M3711 1679h9M3756 1506h9M3759 1589h9M3836 1336h9M3719 1524h9M3672 1522h9M3707 1566h9M3698 1649h9M3681 1399h9M3735 1610h9M3766 1385h9M3688 1368h9M3694 1530h9M3800 1232h9M3755 1644h9M3835 1449h9M3718 1330h9M3767 1523h9M3721 1361h9M3841 1267h9M3703 1388h9M3841 1473h9M3776 1413h9M3688 1219h9M3832 1531h9M3751 1569h9M3707 1510h9M3681 1678h9M3697 1644h9M3773 1617h9M3752 1504h9M3734 1368h9M3889 1445h9M3696 1483h9M3813 1592h9M3718 1456h9M3703 1111h9M3699 1568h9M3707 1345h9M3700 1624h9M3685 1521h9M3689 1608h9M3782 1523h9M3704 1214h9M3741 810h9M3688 1542h9M3754 914h9M3773 1652h9M3786 1442h9M3697 1541h9M3865 1550h9M3711 1428h9M3675 1403h9M3697 1544h9M3683 1635h9M3683 1500h9M3672 1537h9M3757 1179h9M3736 1425h9M3706 1171h9M3672 1624h9M3817 1323h9M3867 1310h9M3721 1559h9M3703 1645h9M3720 1521h9M3672 1335h9M3677 1575h9M3824 1583h9M3780 1448h9M3678 1620h9M3722 1602h9M3743 1410h9" stroke="#f05a6a" stroke-width="9" fill="none" opacity="0.42" transform="scale(.1)"/><line x1="366.7" y1="45" x2="366.7" y2="166.3" stroke="#f0606a" stroke-width="1.2" stroke-dasharray="4 2.5"/><line x1="366.7" y1="166.3" x2="398" y2="166.3" stroke="#f0606a" stroke-width="1.2" stroke-dasharray="4 2.5"/><path d="M325.9 49.3V183.2H399.5" fill="none" stroke="#8a8a8a" stroke-width="1" /><text x="324.1" y="74.3" font-size="9" fill="#333" text-anchor="end">30</text><text x="324.1" y="107.8" font-size="9" fill="#333" text-anchor="end">20</text><text x="324.1" y="140.4" font-size="9" fill="#333" text-anchor="end">10</text><text x="324.1" y="172.3" font-size="9" fill="#333" text-anchor="end">0</text><text x="340" y="192" font-size="7.9" fill="#333" text-anchor="middle">-5</text><text x="362.4" y="192" font-size="7.9" fill="#333" text-anchor="middle">0</text><text x="384.6" y="192" font-size="7.9" fill="#333" text-anchor="middle">5</text><text x="343.5" y="200.9" font-size="10.3" textLength="41.2" lengthAdjust="spacingAndGlyphs">log ratio</text><text x="305.6" y="116.6" font-size="10.4" text-anchor="middle" dominant-baseline="central" textLength="67.6" lengthAdjust="spacingAndGlyphs" transform="rotate(-90 305.6 116.6)">-log<tspan font-size="6.4" dy="2">10</tspan><tspan dy="-2">(q-value)</tspan></text><text x="385.5" y="180.2" font-size="8.4" textLength="21.7" lengthAdjust="spacingAndGlyphs">n = 2</text><text x="409.9" y="45.8" font-size="10.8" fill="#ee4d5a" textLength="35.3" lengthAdjust="spacingAndGlyphs">R-loop-</text><text x="409.9" y="56.6" font-size="10.8" fill="#ee4d5a" textLength="41.7" lengthAdjust="spacingAndGlyphs">proximal</text><text x="409.9" y="68.5" font-size="10.8" fill="#9d9db2" textLength="30.6" lengthAdjust="spacingAndGlyphs">others</text><text x="412" y="79" font-size="9.5" font-style="italic">p&lt;10<tspan font-size="6.5" dy="-3.5">-4</tspan></text><text x="509.4" y="8.8" font-size="10.2" textLength="54.5" lengthAdjust="spacingAndGlyphs">ssDRIP-seq</text><text x="504" y="19.7" font-size="10.2" textLength="65.2" lengthAdjust="spacingAndGlyphs">E2 vs. DMSO</text><text x="527.4" y="30.2" font-size="10.2" textLength="20.5" lengthAdjust="spacingAndGlyphs">siNT</text><text x="506" y="42" font-size="8.2" textLength="25.2" lengthAdjust="spacingAndGlyphs">others</text><text x="545.5" y="42" font-size="8.2" textLength="28.1" lengthAdjust="spacingAndGlyphs">up-reg.</text><text x="502.8" y="54.3" font-size="10.5" fill="#ee4d5a" textLength="30.9" lengthAdjust="spacingAndGlyphs">11459</text><text x="546.2" y="54.3" font-size="10.5" fill="#ee4d5a" textLength="24.7" lengthAdjust="spacingAndGlyphs">7949</text><text x="502.8" y="64.6" font-size="10.5" fill="#9d9db2" textLength="30.9" lengthAdjust="spacingAndGlyphs">83557</text><text x="545.5" y="64.6" font-size="10.5" fill="#9d9db2" textLength="29.7" lengthAdjust="spacingAndGlyphs">10618</text><path d="M5126 1549h9M5281 1679h9M5335 1691h9M5301 1686h9M5273 1681h9M5340 1696h9M5197 1630h9M5343 1693h9M5292 1685h9M5329 1693h9M5204 1652h9M5211 1641h9M5280 1683h9M5311 1691h9M5220 1661h9M5272 1684h9M5214 1643h9M5341 1693h9M5293 1689h9M5256 1676h9M5339 1692h9M5247 1665h9M5269 1674h9M5285 1683h9M5342 1695h9M5295 1690h9M5158 1614h9M5145 1604h9M5330 1691h9M5222 1644h9M5333 1690h9M5258 1671h9M5301 1687h9M5249 1669h9M5274 1681h9M5308 1689h9M5274 1682h9M5319 1688h9M5313 1684h9M5316 1687h9M5185 1620h9M5302 1689h9M5345 1695h9M5307 1689h9M5333 1691h9M5248 1673h9M5251 1670h9M5267 1679h9M5272 1682h9M5322 1690h9M5280 1680h9M5306 1691h9M5336 1694h9M5344 1692h9M5317 1690h9M5322 1694h9M5340 1691h9M5344 1693h9M5278 1682h9M5238 1666h9M5270 1680h9M5286 1679h9M5327 1690h9M5264 1675h9M5341 1690h9M5336 1693h9M5337 1689h9M5175 1624h9M5305 1687h9M5250 1662h9M5275 1678h9M5215 1646h9M5304 1691h9M5342 1691h9M5287 1685h9M5289 1687h9M5197 1633h9M5327 1694h9M5332 1694h9M5281 1684h9M5234 1663h9M5312 1691h9M5340 1695h9M5304 1690h9M5239 1667h9M5256 1669h9M5276 1677h9M5292 1688h9M5309 1692h9M5259 1679h9M5259 1664h9M5320 1693h9M5277 1684h9M5242 1666h9M5312 1689h9M5316 1689h9M5272 1674h9M5309 1686h9M5301 1683h9M5243 1668h9M5337 1694h9M5238 1662h9M5341 1695h9M5234 1658h9M5288 1683h9M5331 1689h9M5345 1690h9M5298 1686h9M5283 1682h9M5343 1695h9M5310 1692h9M5260 1678h9M5202 1640h9M5321 1686h9M5228 1660h9M5249 1672h9M5310 1690h9M5328 1687h9M5341 1694h9M5291 1685h9M5327 1695h9M5329 1694h9M5306 1689h9M5264 1678h9M5180 1612h9M5240 1666h9M5332 1695h9M5258 1675h9M5285 1684h9M5293 1684h9M5260 1674h9M5298 1688h9M5190 1624h9M5313 1692h9M5165 1596h9M5263 1680h9M5294 1688h9M5258 1668h9M5255 1669h9M5336 1689h9M5307 1691h9M5238 1670h9M5220 1648h9M5261 1671h9M5311 1685h9M5222 1656h9M5318 1690h9M5288 1684h9M5333 1692h9M5252 1672h9M5260 1677h9M5307 1692h9M5306 1688h9M5313 1693h9M5319 1691h9M5323 1694h9M5315 1690h9M5169 1625h9M5219 1658h9M5343 1696h9M5289 1681h9M5335 1690h9M5316 1694h9M5307 1687h9M5153 1609h9M5283 1683h9M5305 1689h9M5264 1677h9M5279 1676h9M5258 1674h9M5212 1656h9M5286 1682h9M5223 1654h9M5261 1674h9M5300 1682h9M5297 1690h9M5345 1688h9M5328 1690h9M5278 1683h9M5206 1643h9M5252 1668h9M5318 1691h9M5201 1642h9M5321 1691h9M5336 1696h9M5270 1674h9M5191 1628h9M5324 1693h9M5237 1665h9M5171 1622h9M5327 1689h9M5260 1671h9M5288 1688h9M5310 1693h9M5303 1686h9M5325 1694h9M5336 1692h9M5285 1688h9M5314 1692h9M5308 1691h9M5255 1673h9M5249 1668h9M5284 1685h9M5306 1690h9M5181 1621h9M5296 1685h9M5219 1654h9M5218 1654h9M5301 1684h9M5223 1656h9M5263 1677h9M5321 1690h9M5315 1682h9M5323 1689h9M5319 1692h9M5343 1687h9M5191 1641h9M5248 1668h9M5236 1667h9M5335 1694h9M5236 1663h9M5333 1693h9M5306 1684h9M5265 1676h9M5176 1632h9M5242 1665h9M5286 1683h9M5181 1615h9M5315 1693h9M5262 1675h9M5327 1693h9M5255 1670h9M5339 1693h9M5344 1694h9M5250 1674h9M5334 1691h9M5316 1690h9M5325 1687h9M5176 1621h9M5318 1694h9M5339 1689h9M5337 1693h9M5249 1671h9M5328 1691h9M5269 1671h9M5271 1677h9M5331 1690h9M5269 1679h9M5300 1690h9M5335 1693h9M5226 1658h9M5278 1680h9M5289 1685h9M5247 1672h9M5227 1653h9M5273 1674h9M5340 1692h9M5243 1669h9M5279 1685h9M5261 1672h9M5143 1583h9M5334 1694h9M5344 1695h9M5301 1690h9M5276 1680h9M5299 1681h9M5279 1684h9M5291 1683h9M5233 1661h9M5311 1690h9M5311 1687h9M5202 1630h9M5331 1694h9M5259 1675h9M5321 1694h9M5305 1691h9M5338 1695h9M5280 1677h9M5221 1659h9M5231 1661h9M5259 1667h9M5305 1685h9M5185 1636h9M5266 1676h9M5315 1688h9M5253 1671h9M5290 1687h9M5268 1672h9M5331 1695h9M5339 1694h9M5332 1691h9M5254 1669h9M5240 1663h9M5235 1662h9M5252 1677h9M5303 1691h9M5267 1680h9M5243 1665h9M5318 1688h9M5294 1685h9M5332 1693h9M5254 1674h9M5184 1619h9M5335 1695h9M5231 1663h9M5297 1685h9M5205 1652h9M5304 1687h9M5338 1696h9M5286 1684h9M5272 1681h9M5316 1691h9M5288 1685h9M5243 1672h9M5292 1689h9M5275 1680h9M5340 1694h9M5252 1665h9M5263 1674h9M5303 1688h9M5289 1683h9M5226 1647h9M5280 1682h9M5277 1683h9M5264 1674h9M5335 1696h9M5338 1689h9M5320 1694h9M5338 1694h9M5211 1645h9M5302 1685h9M5261 1676h9M5279 1683h9M5340 1693h9M5234 1662h9M5297 1686h9M5334 1696h9M5331 1687h9M5183 1614h9M5283 1680h9M5307 1684h9M5262 1668h9M5324 1690h9M5164 1626h9M5261 1678h9M5278 1679h9M5278 1678h9M5248 1670h9M5200 1648h9M5246 1663h9M5307 1688h9M5228 1654h9M5325 1692h9M5333 1695h9M5297 1688h9M5339 1690h9M5284 1684h9M5273 1673h9M5315 1689h9M5242 1662h9M5342 1693h9M5254 1676h9M5220 1647h9M5328 1693h9M5317 1691h9M5257 1675h9M5338 1692h9M5282 1684h9M5326 1695h9M5344 1696h9M5339 1695h9M5309 1691h9M5244 1669h9M5294 1687h9M5219 1651h9M5200 1643h9M5232 1656h9M5278 1685h9M5259 1678h9M5290 1679h9M5253 1670h9M5193 1637h9M5310 1691h9M5200 1629h9M5324 1687h9M5192 1644h9M5313 1686h9M5326 1694h9M5296 1681h9M5312 1690h9M5301 1688h9M5302 1688h9M5286 1686h9M5313 1690h9M5290 1684h9M5313 1685h9M5330 1693h9M5251 1672h9M5318 1692h9M5283 1685h9M5286 1685h9M5239 1666h9M5214 1649h9M5342 1694h9M5334 1695h9M5323 1685h9M5253 1667h9M5250 1668h9M5312 1692h9M5232 1660h9M5317 1692h9M5165 1616h9M5267 1677h9M5323 1692h9M5300 1688h9M5267 1674h9M5236 1662h9M5272 1683h9M5263 1678h9M5334 1693h9M5343 1689h9M5293 1683h9M5345 1693h9M5259 1673h9M5234 1667h9M5345 1687h9M5314 1689h9M5332 1692h9M5223 1658h9M5248 1669h9M5296 1689h9M5343 1694h9M5150 1600h9M5255 1672h9M5329 1690h9M5310 1689h9M5207 1645h9M5229 1658h9M5322 1686h9M5186 1624h9M5270 1676h9M5337 1690h9M5314 1687h9M5268 1680h9M5303 1690h9M5330 1694h9M5301 1691h9M5324 1688h9M5324 1684h9M5324 1685h9M5175 1618h9M5238 1664h9M5237 1663h9M5292 1687h9M5341 1696h9M5269 1682h9M5324 1692h9M5317 1689h9M5294 1684h9M5324 1689h9M5266 1679h9M5224 1660h9M5213 1654h9M5260 1676h9M5232 1664h9M5243 1664h9M5191 1624h9M5286 1687h9M5235 1663h9M5302 1690h9M5270 1683h9M5323 1695h9M5218 1647h9M5309 1687h9M5323 1693h9M5320 1688h9M5315 1692h9M5302 1686h9M5325 1690h9M5292 1686h9M5317 1684h9M5271 1680h9M5266 1670h9M5297 1689h9M5339 1691h9M5251 1668h9M5274 1677h9M5310 1686h9M5168 1630h9M5298 1689h9M5322 1684h9M5321 1693h9M5335 1692h9M5325 1691h9M5290 1685h9M5345 1689h9M5276 1682h9M5285 1679h9M5220 1649h9M5327 1692h9M5311 1692h9M5220 1659h9M5318 1684h9M5245 1667h9M5329 1691h9M5292 1683h9M5239 1659h9M5327 1687h9M5302 1684h9M5259 1672h9M5312 1688h9M5231 1664h9M5332 1688h9M5228 1661h9M5329 1695h9M5191 1626h9M5328 1694h9M5320 1691h9M5322 1691h9M5284 1674h9M5291 1686h9M5266 1677h9M5252 1673h9M5182 1632h9M5322 1689h9M5223 1657h9M5328 1692h9M5337 1686h9M5209 1644h9M5326 1686h9M5305 1690h9M5345 1696h9M5293 1690h9M5278 1681h9M5257 1678h9M5233 1657h9M5265 1679h9M5228 1662h9M5241 1670h9M5272 1679h9M5286 1678h9M5330 1689h9M5196 1647h9M5271 1679h9M5235 1656h9M5246 1666h9M5235 1661h9M5238 1654h9M5287 1687h9M5226 1659h9M5201 1636h9M5295 1686h9M5215 1641h9M5226 1662h9M5247 1674h9M5262 1678h9M5195 1630h9M5202 1642h9M5341 1691h9M5325 1695h9M5177 1624h9M5203 1644h9M5241 1668h9M5214 1645h9M5286 1688h9M5238 1661h9M5269 1680h9M5217 1653h9M5327 1688h9M5235 1655h9M5337 1692h9M5293 1686h9M5294 1682h9M5337 1695h9M5298 1687h9M5281 1681h9M5283 1686h9M5269 1676h9M5205 1644h9M5264 1672h9M5337 1682h9M5191 1627h9M5176 1607h9M5261 1679h9M5326 1693h9M5282 1680h9M5212 1644h9M5139 1602h9M5309 1693h9M5320 1689h9M5240 1653h9M5321 1687h9M5333 1688h9M5331 1692h9M5317 1694h9M5216 1646h9M5238 1659h9M5290 1686h9M5342 1690h9M5304 1692h9M5330 1695h9M5250 1664h9M5277 1682h9M5305 1684h9M5253 1665h9M5326 1690h9M5260 1675h9M5340 1688h9M5245 1665h9M5261 1668h9M5284 1687h9M5268 1674h9M5270 1678h9M5253 1672h9M5308 1692h9M5309 1683h9M5262 1673h9M5309 1688h9M5336 1691h9M5318 1693h9M5276 1679h9M5281 1682h9M5171 1610h9M5247 1667h9M5258 1677h9M5269 1678h9M5241 1669h9M5318 1689h9M5246 1672h9M5159 1582h9M5345 1692h9M5295 1685h9M5274 1676h9M5208 1643h9M5322 1688h9M5260 1679h9M5295 1684h9M5341 1689h9M5211 1642h9M5283 1684h9M5292 1684h9M5311 1693h9M5319 1693h9M5330 1692h9M5277 1685h9M5287 1684h9M5314 1690h9M5268 1681h9M5246 1669h9M5248 1671h9M5249 1664h9M5228 1656h9M5325 1689h9M5322 1687h9M5276 1674h9M5254 1678h9M5296 1688h9M5219 1657h9M5288 1686h9M5299 1691h9M5299 1690h9M5305 1686h9M5342 1692h9M5295 1687h9M5257 1677h9M5314 1691h9M5244 1674h9M5294 1689h9M5293 1678h9M5294 1683h9M5243 1667h9M5281 1685h9M5316 1693h9M5237 1666h9M5202 1648h9M5278 1684h9M5216 1645h9M5213 1643h9M5255 1674h9M5337 1691h9M5273 1682h9M5188 1634h9M5329 1688h9M5268 1679h9M5282 1682h9M5213 1642h9M5193 1642h9M5260 1668h9M5314 1685h9M5285 1685h9M5234 1657h9M5254 1671h9M5226 1650h9M5342 1688h9M5289 1684h9M5203 1641h9M5325 1693h9M5253 1673h9M5293 1685h9M5259 1671h9M5271 1681h9M5225 1655h9M5230 1660h9M5281 1683h9M5277 1677h9M5328 1695h9M5263 1679h9M5312 1693h9M5284 1686h9M5230 1653h9M5265 1667h9M5272 1680h9M5276 1678h9M5206 1646h9M5308 1685h9M5317 1693h9M5243 1662h9M5245 1673h9M5342 1687h9M5304 1689h9M5300 1687h9M5192 1635h9M5262 1672h9M5246 1661h9M5319 1689h9M5313 1688h9M5261 1675h9M5285 1682h9M5205 1641h9M5248 1674h9M5277 1680h9M5266 1674h9M5248 1667h9M5154 1595h9M5221 1654h9M5293 1688h9M5291 1689h9M5299 1689h9M5300 1689h9M5282 1685h9M5339 1688h9M5289 1688h9M5208 1649h9M5343 1691h9M5205 1651h9M5154 1601h9M5233 1658h9M5284 1677h9M5292 1682h9M5273 1678h9M5254 1673h9M5315 1694h9M5298 1684h9M5343 1684h9M5320 1690h9M5296 1687h9M5334 1692h9M5282 1675h9M5130 1567h9M5239 1664h9M5304 1688h9M5297 1691h9M5321 1692h9M5251 1671h9M5271 1678h9M5243 1666h9M5306 1687h9M5211 1648h9M5310 1688h9M5322 1693h9M5205 1640h9M5336 1695h9M5263 1671h9M5246 1671h9M5263 1675h9M5269 1681h9M5266 1678h9M5282 1674h9M5289 1686h9M5326 1691h9M5240 1661h9M5304 1684h9M5226 1653h9M5215 1658h9M5266 1671h9M5284 1682h9M5218 1657h9M5227 1647h9M5314 1688h9M5329 1692h9M5252 1669h9M5186 1628h9M5319 1690h9M5274 1678h9M5237 1657h9M5260 1680h9M5265 1674h9M5323 1690h9M5254 1666h9M5343 1692h9M5234 1661h9M5252 1671h9M5254 1677h9M5215 1654h9M5314 1693h9M5277 1679h9M5289 1682h9M5309 1690h9M5318 1686h9M5282 1686h9M5345 1694h9M5258 1670h9M5334 1690h9M5288 1687h9M5327 1691h9M5258 1672h9M5330 1688h9M5280 1681h9M5175 1628h9M5334 1687h9M5279 1682h9M5279 1679h9M5306 1686h9M5216 1644h9M5277 1678h9M5167 1612h9M5323 1687h9M5155 1604h9M5234 1666h9M5219 1660h9M5147 1601h9M5340 1690h9M5298 1681h9M5260 1672h9M5249 1666h9M5269 1677h9M5234 1659h9M5299 1687h9M5167 1606h9M5322 1692h9M5207 1638h9M5218 1641h9M5293 1681h9M5190 1621h9M5242 1667h9M5281 1680h9M5184 1617h9M5280 1684h9M5338 1691h9M5187 1630h9M5199 1632h9M5194 1628h9M5245 1627h9M5158 1569h9M5140 1563h9M5196 1603h9M5147 1553h9M5205 1617h9M5126 1542h9M5273 1610h9M5122 1514h9M5221 1605h9M5259 1665h9M5224 1640h9M5198 1585h9M5185 1598h9M5144 1568h9M5252 1604h9M5200 1638h9M5170 1616h9M5150 1568h9M5187 1572h9M5175 1547h9M5223 1642h9M5157 1532h9M5180 1616h9M5190 1618h9M5206 1575h9M5240 1589h9M5175 1576h9M5250 1640h9M5137 1536h9M5134 1523h9M5133 1561h9M5234 1655h9M5258 1620h9M5216 1639h9M5231 1643h9M5218 1611h9M5125 1534h9M5124 1513h9M5189 1593h9M5254 1631h9M5229 1663h9M5217 1651h9M5201 1606h9M5257 1602h9M5206 1622h9M5179 1620h9M5209 1605h9M5254 1665h9M5253 1605h9M5178 1556h9M5183 1585h9M5207 1623h9M5198 1629h9M5128 1542h9M5242 1600h9M5134 1572h9M5139 1518h9M5193 1612h9M5275 1630h9M5192 1565h9M5174 1552h9M5169 1563h9M5128 1548h9M5121 1525h9M5238 1600h9M5158 1589h9M5202 1632h9M5157 1549h9M5169 1600h9M5257 1632h9M5206 1628h9M5134 1534h9M5212 1595h9M5246 1609h9M5257 1630h9M5176 1594h9M5126 1497h9M5178 1611h9M5241 1603h9M5220 1626h9M5196 1614h9M5259 1652h9M5218 1629h9M5271 1618h9M5137 1577h9M5162 1556h9M5157 1542h9M5218 1628h9M5148 1540h9M5207 1612h9M5182 1620h9M5257 1629h9M5184 1571h9M5266 1616h9M5268 1658h9M5275 1670h9M5174 1564h9M5139 1521h9M5137 1572h9" stroke="#8a8a8a" stroke-width="9" fill="none" opacity="0.4" transform="scale(.1)"/><path d="M5439 1646h9M5466 1624h9M5599 1534h9M5557 1597h9M5448 1675h9M5502 1640h9M5506 1616h9M5390 1693h9M5455 1630h9M5455 1651h9M5549 1507h9M5384 1694h9M5489 1567h9M5444 1625h9M5525 1572h9M5427 1679h9M5547 1577h9M5399 1690h9M5465 1666h9M5595 1541h9M5508 1633h9M5448 1669h9M5512 1463h9M5526 1598h9M5391 1692h9M5471 1611h9M5615 1384h9M5517 1597h9M5398 1685h9M5558 1591h9M5452 1671h9M5396 1687h9M5537 1597h9M5427 1684h9M5517 1625h9M5631 1427h9M5463 1637h9M5466 1664h9M5645 1414h9M5467 1633h9M5477 1652h9M5414 1685h9M5379 1693h9M5495 1648h9M5538 1575h9M5417 1681h9M5448 1676h9M5368 1695h9M5432 1675h9M5477 1637h9M5374 1695h9M5432 1671h9M5439 1657h9M5402 1675h9M5598 1527h9M5470 1663h9M5387 1693h9M5552 1598h9M5451 1619h9M5488 1623h9M5465 1661h9M5490 1624h9M5430 1682h9M5449 1647h9M5465 1659h9M5428 1674h9M5518 1612h9M5481 1647h9M5462 1669h9M5630 1403h9M5435 1621h9M5426 1668h9M5588 1523h9M5502 1625h9M5443 1648h9M5546 1437h9M5494 1629h9M5622 1492h9M5625 1396h9M5444 1631h9M5404 1684h9M5417 1668h9M5519 1628h9M5491 1644h9M5437 1666h9M5449 1629h9M5521 1613h9M5461 1669h9M5547 1588h9M5462 1656h9M5522 1631h9M5464 1629h9M5547 1573h9M5464 1657h9M5453 1653h9M5494 1646h9M5599 1550h9M5415 1624h9M5442 1571h9M5534 1558h9M5450 1654h9M5545 1600h9M5534 1530h9M5448 1665h9M5442 1638h9M5453 1645h9M5384 1681h9M5427 1636h9M5516 1614h9M5485 1612h9M5574 1575h9M5468 1622h9M5551 1553h9M5421 1673h9M5440 1668h9M5497 1574h9M5426 1651h9M5406 1685h9M5433 1663h9M5437 1577h9M5369 1693h9M5367 1695h9M5438 1677h9M5409 1669h9M5492 1651h9M5435 1648h9M5459 1589h9M5438 1676h9M5504 1613h9M5410 1662h9M5460 1650h9M5417 1685h9M5410 1678h9M5439 1671h9M5485 1648h9M5445 1662h9M5393 1661h9M5527 1543h9M5539 1601h9M5556 1576h9M5514 1561h9M5456 1620h9M5572 1500h9M5454 1638h9M5495 1634h9M5371 1692h9M5456 1547h9M5469 1658h9M5413 1678h9M5505 1598h9M5401 1688h9M5419 1672h9M5497 1561h9M5492 1591h9M5603 1499h9M5426 1684h9M5406 1679h9M5584 1569h9M5391 1693h9M5462 1654h9M5372 1695h9M5407 1689h9M5431 1661h9M5615 1518h9M5467 1596h9M5435 1644h9M5500 1644h9M5503 1639h9M5439 1670h9M5455 1664h9M5474 1623h9M5479 1653h9M5415 1676h9M5534 1616h9M5422 1682h9M5380 1681h9M5380 1690h9M5645 1345h9M5409 1684h9M5551 1591h9M5489 1546h9M5452 1665h9M5432 1662h9M5436 1665h9M5587 1537h9M5445 1667h9M5450 1667h9M5512 1585h9M5443 1672h9M5375 1694h9M5420 1680h9M5428 1662h9M5423 1682h9M5424 1642h9M5470 1539h9M5413 1672h9M5436 1640h9M5373 1690h9M5418 1648h9M5488 1638h9M5496 1626h9M5423 1685h9M5410 1646h9M5435 1619h9M5436 1670h9M5538 1586h9M5495 1593h9M5525 1565h9M5495 1585h9M5404 1671h9M5549 1582h9M5477 1626h9M5477 1654h9M5428 1629h9M5454 1671h9M5538 1618h9M5412 1665h9M5462 1649h9M5494 1649h9M5495 1602h9M5499 1633h9M5438 1671h9M5471 1597h9M5430 1669h9M5484 1628h9M5361 1696h9M5599 1455h9M5412 1669h9M5366 1692h9M5478 1637h9M5463 1638h9M5582 1543h9M5389 1687h9M5468 1662h9M5388 1684h9M5416 1680h9M5497 1577h9M5482 1628h9M5484 1631h9M5415 1680h9M5427 1675h9M5397 1690h9M5529 1625h9M5391 1691h9M5492 1640h9M5355 1696h9M5469 1650h9M5480 1647h9M5380 1691h9M5431 1666h9M5632 1444h9M5527 1601h9M5558 1583h9M5424 1674h9M5561 1597h9M5537 1618h9M5519 1613h9M5403 1691h9M5465 1644h9M5418 1678h9M5396 1691h9M5537 1620h9M5507 1636h9M5552 1579h9M5400 1690h9M5412 1678h9M5444 1668h9M5470 1598h9M5532 1619h9M5416 1669h9M5449 1631h9M5463 1665h9M5394 1647h9M5455 1644h9M5389 1685h9M5460 1633h9M5424 1683h9M5421 1667h9M5384 1691h9M5451 1652h9M5509 1602h9M5352 1696h9M5451 1671h9M5504 1589h9M5591 1480h9M5505 1629h9M5567 1564h9M5391 1685h9M5433 1668h9M5574 1385h9M5408 1677h9M5428 1678h9M5467 1578h9M5528 1563h9M5514 1606h9M5380 1695h9M5397 1679h9M5469 1664h9M5473 1658h9M5425 1670h9M5379 1692h9M5575 1495h9M5465 1567h9M5497 1625h9M5432 1680h9M5467 1639h9M5434 1661h9M5485 1653h9M5493 1627h9M5377 1688h9M5422 1680h9M5465 1664h9M5437 1680h9M5483 1654h9M5400 1691h9M5512 1608h9M5528 1604h9M5461 1640h9M5501 1575h9M5398 1644h9M5399 1683h9M5501 1533h9M5479 1593h9M5483 1641h9M5544 1606h9M5504 1637h9M5534 1619h9M5477 1656h9M5469 1666h9M5417 1687h9M5417 1683h9M5584 1546h9M5605 1526h9M5545 1611h9M5530 1613h9M5383 1694h9M5553 1530h9M5392 1690h9M5419 1668h9M5510 1617h9M5516 1635h9M5432 1681h9M5464 1628h9M5600 1435h9M5359 1695h9M5511 1639h9M5368 1693h9M5515 1613h9M5451 1583h9M5464 1646h9M5439 1679h9M5570 1552h9M5559 1582h9M5504 1643h9M5395 1692h9M5435 1661h9M5493 1649h9M5508 1628h9M5479 1622h9M5529 1594h9M5390 1686h9M5396 1689h9M5412 1685h9M5408 1688h9M5575 1565h9M5439 1675h9M5435 1667h9M5416 1686h9M5429 1658h9M5411 1675h9M5488 1650h9M5433 1649h9M5554 1589h9M5402 1689h9M5487 1635h9M5410 1689h9M5469 1648h9M5408 1680h9M5455 1637h9M5514 1625h9M5617 1456h9M5480 1652h9M5467 1666h9M5430 1664h9M5580 1538h9M5400 1685h9M5390 1673h9M5387 1694h9M5440 1636h9M5484 1653h9M5400 1684h9M5457 1651h9M5566 1366h9M5437 1635h9M5436 1679h9M5380 1678h9M5551 1605h9M5423 1671h9M5465 1651h9M5456 1665h9M5425 1583h9M5450 1662h9M5457 1582h9M5558 1467h9M5391 1690h9M5384 1692h9M5373 1694h9M5458 1663h9M5563 1546h9M5488 1585h9M5423 1684h9M5515 1592h9M5444 1600h9M5504 1573h9M5416 1657h9M5578 1566h9M5393 1691h9M5418 1680h9M5421 1656h9M5459 1658h9M5370 1696h9M5524 1599h9M5424 1675h9M5467 1665h9M5431 1680h9M5502 1569h9M5635 1495h9M5522 1627h9M5426 1654h9M5435 1665h9M5587 1507h9M5444 1626h9M5464 1665h9M5374 1691h9M5427 1668h9M5498 1647h9M5535 1599h9M5459 1653h9M5492 1647h9M5502 1592h9M5388 1690h9M5484 1657h9M5384 1683h9M5427 1642h9M5457 1638h9M5496 1611h9M5437 1676h9M5430 1670h9M5463 1592h9M5519 1587h9M5507 1552h9M5399 1681h9M5402 1679h9M5494 1644h9M5406 1686h9M5570 1532h9M5592 1537h9M5526 1566h9M5540 1576h9M5374 1693h9M5401 1687h9M5527 1586h9M5371 1695h9M5369 1696h9M5480 1627h9M5448 1664h9M5541 1423h9M5568 1581h9M5517 1630h9M5513 1632h9M5397 1688h9M5544 1608h9M5422 1681h9M5442 1653h9M5466 1651h9M5490 1640h9M5385 1679h9M5503 1645h9M5452 1639h9M5425 1624h9M5382 1688h9M5429 1683h9M5492 1639h9M5410 1663h9M5470 1629h9M5388 1681h9M5583 1547h9M5423 1666h9M5645 1443h9M5464 1644h9M5537 1582h9M5464 1668h9M5528 1529h9M5632 1447h9M5644 1406h9M5449 1672h9M5397 1682h9M5415 1677h9M5455 1670h9M5414 1630h9M5480 1583h9M5487 1596h9M5606 1490h9M5462 1633h9M5465 1571h9M5537 1581h9M5444 1662h9M5451 1654h9M5420 1681h9M5433 1657h9M5378 1694h9M5421 1683h9M5411 1665h9M5429 1680h9M5441 1670h9M5405 1690h9M5476 1656h9M5438 1680h9M5430 1679h9M5570 1547h9M5410 1688h9M5536 1596h9M5426 1633h9M5423 1673h9M5435 1679h9M5393 1687h9M5395 1683h9M5455 1560h9M5388 1693h9M5420 1673h9M5414 1684h9M5403 1630h9M5422 1658h9M5386 1693h9M5368 1694h9M5482 1492h9M5468 1658h9M5508 1641h9M5475 1659h9M5421 1676h9M5575 1349h9M5591 1559h9M5372 1694h9M5555 1514h9M5408 1679h9M5542 1575h9M5422 1664h9M5413 1676h9M5414 1652h9M5478 1646h9M5515 1606h9M5469 1602h9M5491 1580h9M5446 1668h9M5548 1587h9M5415 1670h9M5401 1682h9M5459 1631h9M5495 1642h9M5577 1555h9M5450 1670h9M5605 1500h9M5394 1690h9M5401 1654h9M5448 1674h9M5486 1654h9M5535 1570h9M5449 1627h9M5469 1646h9M5517 1618h9M5613 1529h9M5480 1576h9M5388 1660h9M5434 1638h9M5367 1694h9M5464 1662h9M5473 1635h9M5443 1665h9M5460 1668h9M5463 1663h9M5468 1643h9M5500 1638h9M5471 1654h9M5439 1674h9M5410 1679h9M5598 1519h9M5468 1629h9M5458 1640h9M5426 1680h9M5376 1687h9M5478 1625h9M5447 1669h9M5565 1558h9M5411 1687h9M5501 1644h9M5393 1689h9M5386 1690h9M5454 1656h9M5453 1668h9M5582 1520h9M5493 1634h9M5429 1677h9M5487 1638h9M5491 1641h9M5622 1524h9M5615 1516h9M5506 1613h9M5448 1657h9M5439 1665h9M5429 1681h9M5496 1649h9M5503 1493h9M5479 1647h9M5550 1536h9M5483 1602h9M5436 1667h9M5458 1637h9M5379 1684h9M5424 1684h9M5512 1571h9M5450 1657h9M5450 1642h9M5382 1693h9M5630 1480h9M5439 1634h9M5451 1661h9M5604 1411h9M5500 1614h9M5468 1607h9M5643 1436h9M5485 1623h9M5435 1570h9M5429 1678h9M5500 1582h9M5532 1618h9M5522 1592h9M5436 1656h9M5431 1669h9M5455 1489h9M5450 1632h9M5406 1684h9M5469 1660h9M5436 1676h9M5380 1693h9M5410 1671h9M5456 1647h9M5418 1674h9M5503 1598h9M5514 1621h9M5559 1585h9M5498 1621h9M5376 1690h9M5394 1689h9M5597 1553h9M5531 1621h9M5425 1678h9M5442 1669h9M5494 1555h9M5421 1649h9M5396 1688h9M5409 1650h9M5433 1578h9M5491 1600h9M5459 1667h9M5377 1694h9M5471 1610h9M5472 1591h9M5392 1685h9M5475 1661h9M5409 1681h9M5421 1686h9M5509 1607h9M5447 1667h9M5433 1667h9M5437 1620h9M5384 1689h9M5449 1661h9M5517 1620h9M5493 1575h9M5607 1462h9M5481 1617h9M5409 1642h9M5524 1568h9M5496 1627h9M5456 1639h9M5467 1615h9M5548 1551h9M5462 1535h9M5367 1693h9M5422 1650h9M5434 1645h9M5585 1538h9M5388 1692h9M5523 1515h9M5609 1527h9M5527 1598h9M5410 1668h9M5382 1686h9M5580 1550h9M5472 1661h9M5483 1646h9M5393 1693h9M5422 1675h9M5444 1664h9M5468 1625h9M5476 1638h9M5406 1687h9M5440 1676h9M5434 1676h9M5459 1660h9M5468 1644h9M5534 1610h9M5366 1693h9M5484 1649h9M5527 1609h9M5441 1669h9M5430 1642h9M5422 1625h9M5463 1648h9M5484 1652h9M5512 1614h9M5473 1654h9M5464 1627h9M5426 1658h9M5566 1515h9M5503 1641h9M5447 1659h9M5447 1666h9M5502 1619h9M5444 1676h9M5471 1608h9M5533 1563h9M5480 1644h9M5476 1622h9M5478 1542h9M5380 1694h9M5405 1683h9M5442 1668h9M5409 1687h9M5460 1632h9M5581 1388h9M5386 1694h9M5456 1661h9M5536 1616h9M5629 1519h9M5458 1642h9M5516 1613h9M5383 1691h9M5465 1662h9M5496 1637h9M5606 1503h9M5486 1603h9M5537 1611h9M5475 1620h9M5553 1523h9M5466 1639h9M5480 1655h9M5509 1637h9M5464 1570h9M5606 1543h9M5433 1680h9M5508 1622h9M5425 1684h9M5442 1666h9M5369 1694h9M5548 1502h9M5523 1513h9M5499 1612h9M5412 1624h9M5481 1635h9M5440 1673h9M5412 1688h9M5536 1444h9M5446 1538h9M5517 1622h9M5534 1592h9M5427 1682h9M5496 1601h9M5433 1665h9M5446 1614h9M5518 1596h9M5451 1658h9M5437 1664h9M5422 1654h9M5431 1675h9M5407 1657h9M5458 1653h9M5399 1670h9M5480 1657h9M5387 1680h9M5412 1682h9M5472 1639h9M5532 1598h9M5599 1556h9M5505 1556h9M5622 1509h9M5482 1602h9M5469 1653h9M5504 1622h9M5460 1623h9M5458 1654h9M5485 1628h9M5483 1657h9M5556 1555h9M5506 1634h9M5602 1447h9M5419 1654h9M5439 1605h9M5412 1673h9M5556 1566h9M5407 1640h9M5441 1678h9M5399 1687h9M5405 1675h9M5442 1655h9M5517 1591h9M5448 1628h9M5364 1695h9M5389 1693h9M5416 1661h9M5485 1600h9M5532 1594h9M5467 1587h9M5477 1599h9M5617 1510h9M5366 1695h9M5572 1534h9M5460 1660h9M5395 1690h9M5482 1659h9M5364 1696h9M5444 1661h9M5487 1647h9M5420 1683h9M5430 1640h9M5473 1649h9M5437 1651h9M5436 1661h9M5468 1611h9M5391 1688h9M5421 1637h9M5389 1690h9M5442 1676h9M5506 1619h9M5431 1657h9M5468 1666h9M5551 1562h9M5527 1592h9M5427 1611h9M5585 1567h9M5529 1615h9M5441 1638h9M5420 1677h9M5471 1638h9M5365 1696h9M5452 1651h9M5490 1635h9M5516 1618h9M5625 1475h9M5458 1564h9M5478 1611h9M5489 1562h9M5445 1666h9M5501 1538h9M5405 1679h9M5427 1677h9M5494 1594h9M5482 1619h9M5473 1476h9M5475 1591h9M5537 1567h9M5441 1677h9M5511 1594h9M5470 1664h9M5595 1504h9M5473 1580h9M5446 1659h9M5434 1664h9M5487 1581h9M5367 1690h9M5423 1628h9M5576 1535h9M5416 1679h9M5485 1561h9M5468 1646h9M5428 1677h9M5410 1684h9M5377 1691h9M5490 1643h9M5413 1643h9M5514 1629h9M5452 1575h9M5429 1605h9M5499 1614h9M5437 1677h9M5439 1666h9M5391 1658h9M5507 1606h9M5387 1685h9M5499 1619h9M5581 1384h9M5627 1521h9M5371 1694h9M5461 1552h9M5404 1685h9M5499 1602h9M5458 1655h9M5392 1692h9M5421 1660h9M5516 1591h9M5433 1630h9M5435 1674h9M5445 1669h9M5427 1619h9M5437 1675h9M5377 1695h9M5461 1645h9M5472 1660h9M5472 1629h9M5486 1653h9M5570 1582h9M5459 1649h9M5494 1639h9M5358 1696h9M5446 1649h9M5440 1678h9M5403 1682h9M5447 1671h9M5389 1692h9M5497 1632h9M5413 1639h9M5451 1648h9M5480 1648h9M5465 1655h9M5502 1644h9M5513 1617h9M5432 1642h9M5395 1691h9M5426 1670h9M5417 1661h9M5426 1672h9M5413 1688h9M5601 1427h9M5614 1461h9M5485 1607h9M5562 1578h9M5409 1675h9M5455 1658h9M5468 1645h9M5423 1680h9M5620 1521h9M5496 1642h9M5461 1525h9M5493 1638h9M5362 1694h9M5612 1532h9M5451 1675h9M5459 1664h9M5424 1655h9M5580 1520h9M5408 1653h9M5435 1677h9M5595 1519h9M5576 1566h9M5473 1632h9M5431 1655h9M5499 1593h9M5493 1579h9M5378 1691h9M5492 1635h9M5562 1415h9M5468 1568h9M5435 1656h9M5472 1643h9M5490 1619h9M5457 1645h9M5460 1665h9M5448 1663h9M5390 1688h9M5535 1614h9M5504 1635h9M5480 1383h9M5386 1692h9M5379 1694h9M5396 1666h9M5404 1687h9M5517 1546h9M5453 1664h9M5560 1558h9M5494 1604h9M5444 1630h9M5448 1612h9M5538 1595h9M5532 1561h9M5443 1677h9M5374 1694h9M5404 1673h9M5436 1681h9M5409 1689h9M5450 1669h9M5397 1665h9M5439 1633h9M5373 1693h9M5529 1542h9M5463 1641h9M5407 1667h9M5447 1676h9M5399 1691h9M5566 1579h9M5417 1649h9M5539 1605h9M5432 1679h9M5354 1696h9M5482 1655h9M5560 1574h9M5455 1649h9M5466 1661h9M5436 1680h9M5533 1529h9M5493 1647h9M5417 1647h9M5443 1638h9M5471 1595h9M5526 1626h9M5492 1608h9M5478 1649h9M5425 1677h9M5431 1650h9M5461 1618h9M5523 1627h9M5505 1639h9M5470 1639h9M5481 1653h9M5524 1593h9M5459 1638h9M5413 1684h9M5397 1686h9M5394 1691h9M5394 1682h9M5559 1530h9M5461 1650h9M5492 1613h9M5501 1640h9M5357 1695h9M5452 1674h9M5443 1641h9M5485 1640h9M5539 1599h9M5472 1621h9M5400 1678h9M5419 1675h9M5424 1661h9M5518 1625h9M5466 1645h9M5430 1681h9M5395 1685h9M5453 1670h9M5441 1646h9M5398 1691h9M5638 1490h9M5525 1591h9M5492 1580h9M5489 1646h9M5561 1566h9M5414 1672h9M5466 1641h9M5441 1668h9M5419 1685h9M5411 1664h9M5408 1662h9M5533 1608h9M5485 1632h9M5475 1653h9M5371 1691h9M5565 1490h9M5461 1652h9M5473 1638h9M5447 1674h9M5491 1653h9M5491 1603h9M5550 1596h9M5503 1595h9M5436 1657h9M5454 1614h9M5476 1605h9M5424 1680h9M5514 1601h9M5518 1556h9M5449 1642h9M5568 1552h9M5479 1549h9M5411 1657h9M5625 1483h9M5386 1684h9M5482 1647h9M5382 1690h9M5498 1602h9M5441 1667h9M5427 1681h9M5479 1650h9M5505 1637h9M5393 1692h9M5516 1590h9M5396 1678h9M5578 1575h9M5504 1609h9M5441 1601h9M5416 1687h9M5429 1671h9M5376 1689h9M5497 1609h9M5463 1666h9M5410 1681h9M5522 1602h9M5475 1615h9M5457 1653h9M5435 1658h9M5465 1594h9M5458 1644h9M5407 1687h9M5573 1544h9M5445 1655h9M5405 1676h9M5536 1592h9M5406 1638h9M5385 1690h9M5542 1540h9M5494 1627h9M5405 1644h9M5525 1578h9M5499 1626h9M5423 1668h9M5488 1639h9M5351 1696h9M5450 1640h9M5487 1636h9M5411 1686h9M5469 1659h9M5511 1623h9M5427 1654h9M5422 1679h9M5489 1649h9M5528 1626h9M5430 1628h9M5505 1520h9M5468 1641h9M5440 1679h9M5508 1642h9M5449 1621h9M5487 1644h9M5428 1654h9M5506 1549h9M5519 1570h9M5426 1660h9M5423 1669h9M5538 1549h9M5392 1693h9M5501 1623h9M5402 1652h9M5547 1586h9M5435 1647h9M5542 1469h9M5507 1595h9M5477 1646h9M5405 1659h9M5608 1537h9M5579 1558h9M5503 1609h9M5422 1676h9M5415 1675h9M5479 1648h9M5509 1615h9M5571 1549h9M5585 1477h9M5393 1690h9M5584 1542h9M5466 1653h9M5402 1691h9M5386 1675h9M5394 1662h9M5412 1687h9M5450 1664h9M5477 1619h9M5473 1611h9M5466 1652h9M5525 1594h9M5384 1688h9M5456 1662h9M5561 1590h9M5428 1667h9M5423 1681h9M5362 1695h9M5583 1450h9M5565 1592h9M5389 1691h9M5568 1578h9M5534 1590h9M5478 1626h9M5564 1548h9M5397 1689h9M5385 1687h9M5376 1694h9M5513 1462h9M5530 1574h9M5504 1611h9M5423 1676h9M5500 1635h9M5511 1568h9M5640 1503h9M5360 1696h9M5411 1683h9M5407 1690h9M5534 1465h9M5402 1687h9M5486 1607h9M5512 1625h9M5414 1682h9M5514 1514h9M5454 1658h9M5404 1691h9M5431 1677h9M5432 1531h9M5521 1601h9M5619 1492h9M5380 1684h9M5523 1569h9M5448 1642h9M5487 1633h9M5539 1513h9M5523 1519h9M5496 1578h9M5608 1511h9M5605 1518h9M5431 1658h9M5421 1680h9M5420 1668h9M5460 1615h9M5413 1687h9M5381 1691h9M5444 1675h9M5449 1667h9M5430 1666h9M5458 1582h9M5398 1668h9M5468 1624h9M5591 1530h9M5510 1600h9M5479 1642h9M5492 1633h9M5420 1676h9M5516 1598h9M5528 1607h9M5529 1595h9M5525 1622h9M5470 1635h9M5547 1526h9M5454 1620h9M5454 1594h9M5471 1646h9M5551 1589h9M5477 1658h9M5483 1611h9M5482 1646h9M5566 1535h9M5536 1472h9M5457 1666h9M5570 1503h9M5406 1680h9M5496 1612h9M5447 1626h9M5519 1573h9M5535 1547h9M5425 1680h9M5527 1604h9M5621 1496h9M5422 1640h9M5500 1631h9M5486 1537h9M5475 1588h9M5555 1592h9M5390 1670h9M5618 1411h9M5599 1533h9M5391 1681h9M5645 1441h9M5448 1667h9M5535 1532h9M5468 1557h9M5481 1638h9M5423 1663h9M5462 1657h9M5410 1687h9M5451 1653h9M5446 1670h9M5393 1677h9M5386 1689h9M5415 1684h9M5422 1609h9M5403 1678h9M5400 1676h9M5455 1668h9M5438 1649h9M5462 1652h9M5417 1678h9M5412 1621h9M5421 1681h9M5506 1465h9M5436 1673h9M5437 1671h9M5404 1688h9M5485 1572h9M5498 1595h9M5555 1461h9M5569 1588h9M5449 1670h9M5484 1625h9M5433 1626h9M5474 1656h9M5426 1634h9M5485 1650h9M5534 1537h9M5538 1534h9M5561 1585h9M5480 1650h9M5516 1512h9M5469 1436h9M5373 1695h9M5469 1649h9M5563 1565h9M5574 1579h9M5542 1564h9M5490 1623h9M5394 1688h9M5480 1658h9M5582 1562h9M5430 1617h9M5488 1653h9M5455 1661h9M5454 1673h9M5414 1670h9M5523 1602h9M5546 1579h9M5456 1669h9M5473 1646h9M5429 1670h9M5492 1614h9M5398 1680h9M5401 1689h9M5480 1639h9M5512 1591h9M5446 1652h9M5403 1653h9M5586 1550h9M5551 1497h9M5517 1514h9M5433 1677h9M5603 1495h9M5385 1692h9M5439 1612h9M5477 1629h9M5439 1636h9M5377 1690h9M5472 1663h9M5538 1422h9M5641 1451h9M5449 1652h9M5392 1676h9M5484 1658h9M5458 1645h9M5478 1606h9M5527 1416h9M5385 1694h9M5533 1571h9M5395 1669h9M5434 1649h9M5408 1667h9M5617 1485h9M5509 1610h9M5518 1594h9M5455 1667h9M5489 1522h9M5469 1655h9M5427 1614h9M5437 1661h9M5512 1605h9M5483 1598h9M5478 1661h9M5560 1571h9M5483 1624h9M5442 1672h9M5407 1674h9M5500 1577h9M5605 1466h9M5413 1685h9M5506 1578h9M5589 1493h9M5437 1652h9M5398 1689h9M5571 1525h9M5472 1647h9M5568 1562h9M5441 1647h9M5396 1692h9M5488 1630h9M5500 1636h9M5413 1683h9M5547 1603h9M5512 1630h9M5507 1634h9M5536 1619h9M5470 1652h9M5513 1597h9M5445 1672h9M5408 1686h9M5399 1682h9M5479 1638h9M5387 1687h9M5524 1606h9M5479 1620h9M5464 1637h9M5425 1685h9M5435 1681h9M5643 1485h9M5429 1676h9M5509 1634h9M5487 1621h9M5471 1636h9M5562 1589h9M5449 1641h9M5481 1654h9M5559 1538h9M5453 1622h9M5573 1581h9M5387 1691h9M5439 1654h9M5458 1575h9M5548 1560h9M5393 1673h9M5479 1656h9M5426 1676h9M5639 1503h9M5556 1583h9M5478 1585h9M5638 1445h9M5466 1600h9M5376 1695h9M5387 1681h9M5403 1688h9M5424 1618h9M5525 1555h9M5514 1633h9M5464 1638h9M5542 1524h9M5466 1628h9M5506 1614h9M5479 1596h9M5430 1652h9M5417 1640h9M5392 1679h9M5501 1596h9M5409 1657h9M5431 1682h9M5484 1609h9M5492 1627h9M5513 1474h9M5438 1670h9M5468 1615h9M5474 1657h9M5383 1682h9M5408 1685h9M5487 1655h9M5381 1693h9M5424 1679h9M5494 1648h9M5431 1678h9M5508 1617h9M5487 1599h9M5393 1683h9M5452 1640h9M5511 1556h9M5577 1554h9M5489 1637h9M5577 1517h9M5434 1659h9M5439 1668h9M5436 1663h9M5477 1636h9M5548 1610h9M5474 1645h9M5517 1627h9M5528 1576h9M5386 1686h9M5388 1686h9M5488 1637h9M5448 1654h9M5506 1545h9M5635 1490h9M5376 1693h9M5501 1634h9M5497 1631h9M5555 1598h9M5475 1644h9M5461 1651h9M5456 1627h9M5486 1651h9M5481 1584h9M5526 1565h9M5461 1653h9M5441 1656h9M5446 1604h9M5465 1652h9M5458 1621h9M5597 1522h9M5486 1647h9M5493 1618h9M5407 1654h9M5548 1581h9M5469 1608h9M5559 1570h9M5440 1670h9M5539 1607h9M5504 1579h9M5500 1645h9M5471 1602h9M5419 1686h9M5381 1694h9M5528 1525h9M5444 1658h9M5432 1600h9M5407 1660h9M5641 1479h9M5538 1561h9M5610 1513h9M5408 1684h9M5502 1633h9M5545 1604h9M5550 1583h9M5404 1689h9M5475 1629h9M5408 1683h9M5499 1647h9M5418 1675h9M5475 1657h9M5530 1583h9M5528 1427h9M5495 1650h9M5426 1607h9M5416 1674h9M5489 1643h9M5509 1632h9M5398 1683h9M5526 1502h9M5425 1683h9M5416 1688h9M5445 1663h9M5454 1662h9M5432 1674h9M5433 1641h9M5470 1661h9M5455 1663h9M5386 1691h9M5574 1510h9M5450 1658h9M5403 1687h9M5452 1661h9M5411 1673h9M5452 1647h9M5516 1495h9M5558 1594h9M5501 1614h9M5471 1634h9M5453 1666h9M5515 1563h9M5464 1622h9M5440 1674h9M5525 1626h9M5395 1682h9M5503 1624h9M5474 1644h9M5446 1653h9M5480 1642h9M5445 1628h9M5482 1653h9M5490 1460h9M5503 1584h9M5501 1643h9M5566 1464h9M5484 1646h9M5420 1661h9M5548 1592h9M5515 1619h9M5417 1686h9M5535 1620h9M5400 1664h9M5522 1607h9M5493 1651h9M5390 1674h9M5523 1435h9M5452 1588h9M5474 1650h9M5512 1639h9M5441 1643h9M5521 1614h9M5431 1663h9M5437 1670h9M5410 1657h9M5523 1499h9M5453 1657h9M5599 1338h9M5491 1625h9M5434 1680h9M5618 1500h9M5445 1671h9M5418 1686h9M5418 1646h9M5465 1653h9M5424 1667h9M5402 1686h9M5392 1686h9M5544 1595h9M5591 1543h9M5410 1659h9M5631 1487h9M5460 1667h9M5530 1598h9M5499 1570h9M5513 1627h9M5488 1649h9M5469 1620h9M5463 1629h9M5531 1608h9M5604 1531h9M5448 1652h9M5495 1647h9M5599 1552h9M5536 1588h9M5498 1623h9M5512 1560h9M5537 1596h9M5399 1662h9M5530 1616h9M5445 1660h9M5415 1678h9M5422 1661h9M5455 1564h9M5471 1659h9M5448 1651h9M5437 1632h9M5569 1419h9M5388 1688h9M5513 1525h9M5595 1539h9M5554 1413h9M5542 1572h9M5492 1586h9M5483 1622h9M5507 1633h9M5412 1676h9M5389 1686h9M5631 1406h9M5400 1689h9M5515 1602h9M5503 1600h9M5613 1528h9M5417 1642h9M5529 1592h9M5484 1595h9M5410 1677h9M5486 1656h9M5500 1628h9M5443 1674h9M5507 1415h9M5510 1565h9M5432 1669h9M5466 1666h9M5447 1657h9M5497 1649h9M5412 1679h9M5500 1643h9M5566 1578h9M5482 1649h9M5407 1684h9M5415 1618h9M5615 1538h9M5519 1606h9M5571 1558h9M5375 1693h9M5550 1602h9M5406 1688h9M5549 1607h9M5517 1634h9M5390 1691h9M5465 1668h9M5544 1514h9M5445 1677h9M5523 1618h9M5495 1640h9M5400 1683h9M5514 1632h9M5435 1666h9M5563 1476h9M5441 1628h9M5433 1673h9M5555 1597h9M5634 1490h9M5557 1571h9M5439 1632h9M5519 1626h9M5415 1663h9M5513 1563h9M5420 1684h9M5433 1662h9M5496 1545h9M5520 1632h9M5396 1690h9M5498 1639h9M5417 1663h9M5572 1548h9M5493 1624h9M5575 1524h9M5422 1678h9M5500 1613h9M5440 1659h9M5451 1668h9M5405 1638h9M5383 1667h9M5476 1614h9M5554 1572h9M5516 1625h9M5497 1638h9M5451 1596h9M5524 1622h9M5586 1565h9M5423 1678h9M5468 1652h9M5412 1681h9M5501 1570h9M5587 1568h9M5402 1676h9M5490 1654h9M5426 1655h9M5491 1627h9M5449 1674h9M5444 1635h9" stroke="#767676" stroke-width="9" fill="none" opacity="0.5" transform="scale(.1)"/><path d="M5496 1565h9M5473 1549h9M5536 1328h9M5406 1683h9M5429 1622h9M5521 1613h9M5445 1607h9M5453 1658h9M5443 1638h9M5456 1394h9M5427 1662h9M5536 1586h9M5476 1577h9M5500 1591h9M5529 1451h9M5461 1611h9M5406 1685h9M5560 1252h9M5511 1488h9M5415 1644h9M5436 1622h9M5594 1265h9M5466 1244h9M5517 1596h9M5480 1471h9M5457 1369h9M5521 1388h9M5625 1355h9M5537 1242h9M5516 1585h9M5470 1236h9M5542 1192h9M5439 1573h9M5470 1595h9M5484 1511h9M5497 1476h9M5498 1580h9M5627 1230h9M5535 1402h9M5466 1558h9M5514 1622h9M5477 1649h9M5487 1245h9M5548 1209h9M5518 1593h9M5466 1420h9M5491 1274h9M5520 1394h9M5457 1640h9M5541 1062h9M5563 993h9M5561 1401h9M5509 939h9M5503 1510h9M5481 1658h9M5471 1368h9M5577 1250h9M5550 1395h9M5421 1638h9M5461 1598h9M5433 1666h9M5519 1347h9M5607 1194h9M5556 1466h9M5499 1462h9M5629 986h9M5561 1327h9M5499 1572h9M5549 1546h9M5593 1389h9M5458 1595h9M5482 1619h9M5502 1616h9M5419 1668h9M5555 1130h9M5542 1347h9M5537 1349h9M5534 1124h9M5421 1385h9M5457 1566h9M5471 1430h9M5569 1476h9M5454 1565h9M5515 1344h9M5488 1400h9M5531 1479h9M5550 1495h9M5526 1507h9M5477 1129h9M5504 1641h9M5511 1549h9M5539 1019h9M5483 1671h9M5458 1513h9M5467 1594h9M5473 1366h9M5468 1673h9M5580 802h9M5571 1493h9M5564 1326h9M5565 1530h9M5503 1452h9M5489 1510h9M5555 1372h9M5537 1500h9M5468 1632h9M5463 1530h9M5543 1485h9M5466 1644h9M5456 1379h9M5527 1148h9M5405 1630h9M5564 984h9M5489 1299h9M5491 1617h9M5408 1649h9M5547 1173h9M5481 1296h9M5503 1528h9M5441 1666h9M5465 1401h9M5477 1593h9M5570 1413h9M5531 1317h9M5441 1559h9M5560 1245h9M5541 1584h9M5585 1167h9M5552 1010h9M5462 1667h9M5440 1616h9M5478 1548h9M5478 1396h9M5465 1642h9M5613 1238h9M5506 1511h9M5501 1081h9M5540 1510h9M5413 1289h9M5488 1489h9M5467 1654h9M5436 1674h9M5452 1574h9M5410 1664h9M5491 1449h9M5444 1467h9M5495 1586h9M5462 1651h9M5464 1526h9M5473 1411h9M5500 1580h9M5611 1257h9M5529 1572h9M5513 1658h9M5478 1425h9M5601 1137h9M5496 1627h9M5434 1242h9M5576 1308h9M5463 1662h9M5437 1603h9M5577 1119h9M5564 937h9M5487 1186h9M5524 1500h9M5520 1206h9M5441 1568h9M5586 1351h9M5453 1620h9M5465 1559h9M5546 1586h9M5489 1491h9M5584 1077h9M5512 1417h9M5524 937h9M5483 1531h9M5529 1402h9M5501 1428h9M5475 1540h9M5501 1537h9M5501 1504h9M5441 1658h9M5505 1292h9M5454 1591h9M5561 1366h9M5536 1463h9M5528 1108h9M5502 1625h9M5449 1386h9M5494 1621h9M5510 1539h9M5606 811h9M5549 1547h9M5472 1664h9M5450 1657h9M5500 1650h9M5447 1683h9M5538 1357h9M5593 1231h9M5476 1649h9M5507 1603h9M5430 1573h9M5454 1466h9M5471 1519h9M5596 1368h9M5457 1274h9M5508 1564h9M5449 1645h9M5450 1647h9M5571 1580h9M5447 1587h9M5444 1601h9M5465 1535h9M5479 1083h9M5489 1538h9M5532 1209h9M5474 1598h9M5480 1559h9M5446 1526h9M5555 1229h9M5507 1570h9M5555 1273h9M5447 1380h9M5453 1630h9M5459 1527h9M5501 1529h9M5410 1654h9M5476 1494h9M5579 1308h9M5445 1539h9M5435 1574h9M5440 1649h9M5536 1426h9M5555 867h9M5452 1508h9M5424 1567h9M5477 1588h9M5467 1629h9M5514 1482h9M5544 1405h9M5541 1531h9M5494 1650h9M5441 1601h9M5476 1501h9M5456 1591h9M5467 1614h9M5412 1641h9M5499 1477h9M5451 1595h9M5521 1036h9M5507 1579h9M5505 1596h9M5533 1257h9M5520 1331h9M5436 1664h9M5618 1131h9M5433 1670h9M5480 1629h9M5486 1364h9M5518 1388h9M5475 1636h9M5472 1612h9M5575 1399h9M5490 1509h9M5461 1288h9M5483 1518h9M5464 1674h9M5533 1021h9M5408 1659h9M5584 1233h9M5549 1179h9M5472 1515h9M5500 1648h9M5522 1441h9M5532 1518h9M5517 1354h9M5581 1368h9M5509 1586h9M5529 1404h9M5486 1667h9M5500 1495h9M5452 1663h9M5436 1560h9M5558 1329h9M5589 1168h9M5521 1639h9M5510 1277h9M5530 1453h9M5624 1315h9M5581 969h9M5529 1231h9M5512 1370h9M5461 1626h9M5480 1670h9M5444 1679h9M5631 1390h9M5578 1325h9M5474 1554h9M5560 859h9M5505 1470h9M5487 1611h9M5448 1616h9M5447 1601h9M5448 1556h9M5429 1324h9M5468 1650h9M5432 1678h9M5500 1383h9M5562 992h9M5550 1325h9M5513 1647h9M5456 1506h9M5453 1667h9M5439 1374h9M5501 1597h9M5421 1655h9M5603 1175h9M5539 1507h9M5500 1502h9M5525 1524h9M5555 1486h9M5414 1673h9M5508 1320h9M5525 934h9M5493 1349h9M5452 1650h9M5513 1349h9M5501 1427h9M5487 1570h9M5602 1050h9M5598 1467h9M5454 1354h9M5543 1539h9M5435 1631h9M5444 1546h9M5451 1617h9M5512 1324h9M5454 1647h9M5461 1453h9M5491 1185h9M5543 1455h9M5534 1148h9M5497 1430h9M5473 1571h9M5467 1630h9M5525 1571h9M5418 1666h9M5564 1441h9M5506 1240h9M5483 1443h9M5512 961h9M5583 1029h9M5485 1325h9M5461 1642h9M5556 1390h9M5504 1287h9M5598 986h9M5519 1633h9M5551 948h9M5477 1606h9M5516 1600h9M5447 1663h9M5474 1619h9M5417 1627h9M5456 1589h9M5404 1642h9M5533 1244h9M5523 1569h9M5528 1255h9M5539 1535h9M5471 1506h9M5417 1540h9M5504 1328h9M5487 1638h9M5463 1593h9M5455 1585h9M5424 1657h9M5489 1613h9M5548 1468h9M5617 1307h9M5447 1581h9M5599 1006h9M5535 1470h9M5500 1579h9M5418 1519h9M5468 1599h9M5513 1303h9M5461 1396h9M5577 1199h9M5402 1670h9M5457 1661h9M5465 1638h9M5442 1564h9M5522 1500h9M5465 1405h9M5623 1205h9M5448 1644h9M5492 1218h9M5513 1543h9M5533 1567h9M5579 1414h9M5526 1250h9M5516 1332h9M5598 1507h9M5469 1665h9M5556 1396h9M5486 1297h9M5445 1651h9M5502 1152h9M5500 1616h9M5469 1615h9M5468 1542h9M5476 1429h9M5523 1173h9M5490 1577h9M5407 1666h9M5470 1463h9M5481 1195h9M5499 1342h9M5547 1325h9M5505 1465h9M5489 1631h9M5448 1330h9M5453 1675h9M5598 1209h9M5449 1467h9M5425 1343h9M5553 1395h9M5487 1564h9M5549 1525h9M5520 1607h9M5493 1590h9M5516 1431h9M5519 1450h9M5439 1450h9M5558 1412h9M5476 1414h9M5493 1544h9M5473 1667h9M5610 862h9M5484 1261h9M5486 1562h9M5515 1530h9M5549 1376h9M5592 1298h9M5508 1530h9M5520 1623h9M5506 1493h9M5612 1199h9M5531 1542h9M5440 1633h9M5481 1627h9M5471 1618h9M5463 1618h9M5477 1659h9M5454 1561h9M5472 1646h9M5483 1623h9M5531 1172h9M5590 1306h9M5445 1603h9M5469 1572h9M5537 1314h9M5482 1580h9M5413 1482h9M5493 1615h9M5488 1502h9M5582 1453h9M5448 1667h9M5510 1369h9M5461 1568h9M5498 1420h9M5455 1619h9M5556 1452h9M5559 1416h9M5541 1390h9M5406 1626h9M5568 1441h9M5524 1517h9M5442 1496h9M5506 1596h9M5507 1515h9M5528 1447h9M5447 1629h9M5423 1684h9M5529 1346h9M5433 1489h9M5431 1679h9M5461 1506h9M5522 1338h9M5520 1488h9M5429 1638h9M5484 1307h9M5541 1539h9M5511 1533h9M5526 1627h9M5493 1389h9M5479 1630h9M5499 1448h9M5544 1148h9M5450 1513h9M5538 1450h9M5481 1621h9M5512 1100h9M5540 1228h9M5479 1392h9M5462 1671h9M5448 1638h9M5481 1452h9M5523 1570h9M5519 1537h9M5525 1495h9M5474 1561h9M5472 1511h9M5476 1613h9M5497 1287h9M5403 1558h9M5452 1669h9M5616 972h9M5457 1656h9M5433 1516h9M5453 1510h9M5456 1650h9M5487 1573h9M5471 1468h9M5510 1519h9M5416 1671h9M5492 1502h9M5490 1571h9M5411 1667h9M5467 1568h9M5493 1438h9M5509 1605h9M5545 943h9M5447 1641h9M5502 1624h9M5463 1573h9M5535 1601h9M5567 1252h9M5437 1625h9M5523 1472h9M5544 1194h9M5469 1514h9M5632 671h9M5477 1624h9M5520 1647h9M5571 1420h9M5443 1677h9M5484 1433h9M5465 1629h9M5497 1647h9M5435 1676h9M5475 1642h9M5509 1631h9M5529 1313h9M5537 1504h9M5584 1066h9M5492 1529h9M5425 1578h9M5421 1600h9M5552 1219h9M5459 1670h9M5495 1629h9M5502 1347h9M5533 1595h9M5480 1533h9M5415 1682h9M5525 1289h9M5548 1282h9M5550 1219h9M5512 1498h9M5542 1425h9M5500 1443h9M5480 1636h9M5556 1413h9M5564 1341h9M5525 1361h9M5474 1584h9M5475 1560h9M5495 1468h9M5480 1551h9M5408 1631h9M5496 1566h9M5460 1582h9M5455 1137h9M5503 1353h9M5552 1333h9M5513 1510h9M5511 1623h9M5539 1305h9M5482 1627h9M5573 955h9M5507 1360h9M5548 1503h9M5454 1330h9M5489 1585h9M5468 1587h9M5492 1451h9M5535 1331h9M5515 1279h9M5519 1276h9M5552 1393h9M5455 1518h9M5476 1533h9M5433 1641h9M5513 1532h9M5562 1289h9M5480 1139h9M5494 1402h9M5447 1647h9M5569 1210h9M5548 878h9M5534 1420h9M5416 1588h9M5484 1561h9M5531 1478h9M5497 1572h9M5425 1659h9M5568 1159h9M5517 1424h9M5523 1319h9M5510 1465h9M5532 1403h9M5438 1669h9M5513 1441h9M5427 1673h9M5509 1312h9M5518 1527h9M5461 1260h9M5508 1606h9M5532 1466h9M5523 1099h9M5433 1679h9M5463 1640h9M5514 1427h9M5443 1017h9M5518 1450h9M5477 1558h9M5473 1628h9M5427 1670h9M5540 1550h9M5489 1592h9M5562 1462h9M5602 1421h9M5557 1350h9M5412 1674h9M5447 1477h9M5463 1485h9M5508 1504h9M5470 1660h9M5478 1582h9M5476 1542h9M5527 1461h9M5637 664h9M5631 1325h9M5576 1542h9M5488 1631h9M5443 1620h9M5530 1505h9M5503 1462h9M5520 1499h9M5478 1596h9M5525 1339h9M5493 1447h9M5570 1286h9M5550 1479h9M5523 1464h9M5568 1484h9M5608 850h9M5478 1651h9M5468 1418h9M5549 1405h9M5448 1643h9M5504 1396h9M5590 1204h9M5495 1650h9M5499 1370h9M5491 1584h9M5539 1386h9M5484 1407h9M5455 1568h9M5431 1629h9M5537 1645h9M5550 1412h9M5498 1322h9M5442 1621h9M5452 1501h9M5586 1273h9M5552 1376h9M5555 1403h9M5459 1679h9M5584 1519h9M5535 1443h9M5599 1222h9M5476 1645h9M5422 1563h9M5529 793h9M5501 1583h9M5455 1082h9M5471 1616h9M5492 1470h9M5566 1088h9M5549 1464h9M5470 1582h9M5435 1663h9M5458 1670h9M5509 1620h9M5527 1580h9M5506 1063h9M5558 1070h9M5530 1478h9M5562 1293h9M5476 1665h9M5526 1259h9M5573 1383h9M5415 1673h9M5580 1155h9M5425 1668h9M5429 1619h9M5595 1231h9M5573 799h9M5491 1479h9M5431 1626h9M5421 1676h9M5455 1535h9M5507 1534h9M5519 1226h9M5470 1516h9M5575 1309h9M5510 1534h9M5473 1469h9M5525 1508h9M5486 1524h9M5451 1577h9M5526 1613h9M5511 1575h9M5471 1659h9M5440 1651h9M5556 1440h9M5432 1658h9M5480 1357h9M5612 1289h9M5616 1284h9M5490 1613h9M5474 1489h9M5500 1512h9M5508 1623h9M5510 1600h9M5525 1368h9M5429 1594h9M5448 1666h9M5444 1422h9M5453 1664h9M5485 1613h9M5599 1177h9M5541 1292h9M5501 1613h9M5609 900h9M5486 1589h9M5445 1588h9M5495 1589h9M5590 1211h9M5402 1591h9M5523 1499h9M5475 1613h9M5551 1358h9M5509 1263h9M5544 1377h9M5480 1494h9M5423 1679h9M5441 1680h9M5576 1365h9M5540 1104h9M5546 1531h9M5569 1121h9M5579 1430h9M5558 1284h9M5509 1489h9M5486 1662h9M5522 1247h9M5582 1397h9M5509 1335h9M5466 1601h9M5447 1152h9M5424 1548h9M5585 1446h9M5618 1098h9M5510 1502h9M5632 727h9M5576 1323h9M5532 1509h9M5518 1386h9M5455 1192h9M5497 1607h9M5568 1281h9M5607 1137h9M5465 1106h9M5503 1545h9M5524 1570h9M5460 1629h9M5494 1513h9M5454 1587h9M5431 1642h9M5495 1603h9M5525 1116h9M5481 1613h9M5478 1568h9M5589 1066h9M5506 1459h9M5538 1174h9M5477 1387h9M5483 1550h9M5491 1566h9M5498 1451h9M5476 1576h9M5580 1470h9M5530 1330h9M5634 1311h9M5604 683h9M5464 1477h9M5565 1574h9M5559 1364h9M5517 1555h9M5465 1526h9M5542 1394h9M5496 1522h9M5491 1586h9M5546 1405h9M5470 1529h9M5571 1457h9M5485 1536h9M5551 1392h9M5477 1610h9M5474 1583h9M5606 1379h9M5566 1173h9M5596 1113h9M5572 931h9M5522 1493h9M5452 1485h9M5609 1449h9M5515 1388h9M5419 1654h9M5479 1668h9M5613 961h9M5480 1518h9M5542 1486h9M5507 1401h9M5536 1546h9M5497 1377h9M5447 1643h9M5452 1469h9M5510 1293h9M5508 1244h9M5480 1596h9M5531 1516h9M5450 1542h9M5507 1454h9M5482 1575h9M5502 1587h9M5512 1313h9M5524 1402h9M5579 1296h9M5559 1405h9M5446 1683h9M5457 1574h9M5610 1056h9M5634 936h9M5408 1635h9M5529 1277h9M5505 1614h9M5473 1658h9M5450 1611h9M5609 1105h9M5621 1283h9M5473 1590h9M5537 1631h9M5511 1601h9M5510 1381h9M5532 1445h9M5535 1518h9M5538 1333h9M5473 1533h9M5525 1271h9M5508 1375h9M5593 1237h9M5487 1620h9M5472 1604h9M5441 1443h9M5423 1656h9M5543 1391h9M5438 1634h9M5482 1639h9M5558 1519h9M5596 1343h9M5452 1662h9M5563 1515h9M5603 1216h9M5469 1272h9M5490 1585h9M5480 1593h9M5498 1305h9M5437 1634h9M5473 1634h9M5525 1476h9M5559 1253h9M5467 1663h9M5410 1670h9M5536 1593h9M5510 1428h9M5576 1338h9M5562 1521h9M5598 1560h9M5456 1626h9M5445 1520h9M5502 1494h9M5514 1525h9M5418 1630h9M5503 1511h9M5501 1498h9M5520 1589h9M5597 1088h9M5520 1150h9M5559 1229h9M5454 1615h9M5524 1165h9M5444 1605h9M5622 1209h9M5498 1442h9M5529 1502h9M5498 1247h9M5510 1570h9M5548 867h9M5538 1242h9M5570 1296h9M5433 1656h9M5487 1506h9M5565 1391h9M5478 1614h9M5532 1271h9M5480 1436h9M5517 1521h9M5481 1579h9M5509 1613h9M5475 1666h9M5479 1625h9M5537 1350h9M5487 1634h9M5465 1582h9M5524 1374h9M5476 1512h9M5457 1648h9M5540 975h9M5486 1375h9M5492 1576h9M5522 1383h9M5421 1596h9M5566 1408h9M5528 1326h9M5478 1524h9M5424 1673h9M5618 1086h9M5465 1616h9M5565 1285h9M5478 1624h9M5501 1582h9M5515 1453h9M5493 1604h9M5569 1215h9M5450 1459h9M5416 1640h9M5555 1356h9M5513 1587h9M5512 1458h9M5435 1672h9M5517 1542h9M5618 1079h9M5444 1683h9M5632 874h9M5581 1243h9M5457 1354h9M5409 1674h9M5405 1436h9M5483 1664h9M5459 1350h9M5463 1646h9M5481 1430h9M5465 1556h9M5520 1330h9M5530 1476h9M5474 1667h9M5581 1603h9M5484 1605h9M5499 1533h9M5459 1652h9M5475 1584h9M5493 1321h9M5521 1603h9M5464 1605h9M5491 1610h9M5543 1403h9M5454 1073h9M5419 1619h9M5483 1451h9M5530 1600h9M5583 1051h9M5504 1636h9M5489 1420h9M5433 1660h9M5520 1405h9M5469 1497h9M5490 1514h9M5602 1384h9M5444 1404h9M5511 1427h9M5542 1497h9M5493 1578h9M5492 1581h9M5413 1622h9M5466 1480h9M5540 1006h9M5417 1602h9M5462 1502h9M5548 1406h9M5528 1636h9M5426 1665h9M5527 1282h9M5550 1230h9M5545 1129h9M5495 1519h9M5449 1502h9M5539 734h9M5497 1492h9M5488 1059h9M5472 1636h9M5540 1043h9M5453 1594h9M5560 1436h9M5535 1492h9M5476 1592h9M5490 1575h9M5470 1569h9M5512 1550h9M5534 1424h9M5471 1490h9M5549 1432h9M5532 1298h9M5576 1222h9M5436 1656h9M5589 1027h9M5532 1205h9M5540 1556h9M5482 1660h9M5507 1632h9M5431 1605h9M5500 1540h9M5541 1206h9M5488 1647h9M5440 1636h9M5460 1573h9M5457 1671h9M5433 1439h9M5519 1588h9M5625 1169h9M5606 965h9M5446 1570h9M5452 1660h9M5436 1517h9M5496 1636h9M5458 1673h9M5552 1077h9M5479 1483h9M5488 1535h9M5584 1451h9M5515 1457h9M5431 1242h9M5557 1317h9M5498 1586h9M5461 1557h9M5458 1625h9M5506 1490h9M5510 1635h9M5533 1483h9M5531 1502h9M5429 1661h9M5503 1560h9M5612 1075h9M5456 1628h9M5474 1585h9M5541 1399h9M5436 1661h9M5560 1248h9M5521 1585h9M5504 1626h9M5451 1605h9M5517 1526h9M5448 1647h9M5542 1542h9M5413 1659h9M5471 1442h9M5454 1552h9M5551 1133h9M5479 1536h9M5431 1545h9M5416 1644h9M5520 1574h9M5406 1648h9M5623 960h9M5549 1329h9M5548 1418h9M5437 1606h9M5557 1205h9M5422 1625h9M5474 1574h9M5508 1631h9M5510 1140h9M5516 1406h9M5554 1053h9M5535 1534h9M5631 653h9M5448 1564h9M5566 803h9M5498 1326h9M5459 1633h9M5499 1606h9M5511 1316h9M5522 1156h9M5489 1281h9M5520 1029h9M5473 1255h9M5406 1677h9M5489 1514h9M5623 1335h9M5438 1670h9M5530 1542h9M5559 1312h9M5438 1632h9M5502 1662h9M5605 1073h9M5493 1584h9M5581 884h9M5482 1642h9M5541 1420h9M5584 1000h9M5450 1433h9M5606 1134h9M5450 1670h9M5547 1094h9M5632 1478h9M5445 1571h9M5460 1659h9M5614 1300h9M5493 1645h9M5522 1487h9M5515 1284h9M5528 1420h9M5414 1634h9M5533 1521h9M5598 1219h9M5510 1265h9M5628 923h9M5454 1387h9M5431 1675h9M5451 1345h9M5437 1641h9M5525 1518h9M5469 1645h9M5507 1616h9M5511 1573h9M5420 1681h9M5459 1651h9M5453 1650h9M5486 1336h9M5413 1608h9M5630 1366h9M5547 1461h9M5446 1680h9M5439 1661h9M5509 1535h9M5564 1409h9M5508 1624h9M5537 1494h9M5476 1143h9M5546 981h9M5602 1203h9M5461 1466h9M5537 1221h9M5475 1491h9M5586 938h9M5495 1434h9M5513 1161h9M5488 1638h9M5581 889h9M5461 1560h9M5483 1465h9M5481 1512h9M5537 1453h9M5506 1149h9M5472 1652h9M5471 1434h9M5493 1524h9M5476 1505h9M5547 1465h9M5569 1341h9M5410 1672h9M5623 855h9M5583 1146h9M5517 1040h9M5479 1597h9M5484 1608h9M5447 1580h9M5506 1174h9M5454 1472h9M5506 1566h9M5477 1572h9M5494 1535h9M5559 1304h9M5454 1641h9M5542 1198h9M5448 1654h9M5509 1650h9M5464 1348h9M5553 1376h9M5614 1307h9M5449 1413h9M5505 877h9M5462 1662h9M5556 1292h9M5538 1504h9M5440 1669h9M5502 1195h9M5568 1176h9M5516 1456h9M5583 1156h9M5495 1290h9M5451 1659h9M5455 1603h9M5419 1586h9M5420 1653h9M5483 1643h9M5499 1547h9M5539 856h9M5484 1553h9M5528 1400h9M5419 1640h9M5525 1513h9M5573 1573h9M5445 1266h9M5518 1461h9M5529 1590h9M5446 1682h9M5500 1513h9M5469 1656h9M5514 1619h9M5467 1665h9M5458 1525h9M5472 1564h9M5475 1391h9M5599 1287h9M5572 1255h9M5595 832h9M5491 1577h9M5495 1523h9M5548 1366h9M5425 1676h9M5511 1459h9M5490 1453h9M5552 1332h9M5445 1661h9M5589 1477h9M5489 1576h9M5594 1187h9M5408 1588h9M5610 1257h9M5476 1606h9M5472 1648h9M5482 1658h9M5457 1509h9M5495 1497h9M5480 1609h9M5569 1158h9M5471 1401h9M5481 1454h9M5614 903h9M5473 1556h9M5428 1337h9M5408 1685h9M5494 1425h9M5559 1560h9M5489 1233h9M5510 1284h9M5544 1105h9M5559 1017h9M5428 1611h9M5430 1677h9M5593 1332h9M5550 1423h9M5408 1668h9M5439 1553h9M5512 1316h9M5583 1000h9M5471 680h9M5485 1647h9M5544 1527h9M5476 1616h9M5432 1614h9M5548 1488h9M5523 1421h9M5540 1476h9M5475 1603h9M5497 1503h9M5519 1577h9M5489 1560h9M5599 1082h9M5494 1625h9M5467 1482h9M5485 1200h9M5405 1554h9M5533 1378h9M5471 1572h9M5527 1624h9M5430 1585h9M5548 1038h9M5517 1616h9M5525 1477h9M5402 1681h9M5506 1491h9M5499 1474h9M5502 1513h9M5500 1622h9M5487 1608h9M5466 1296h9M5510 1445h9M5526 1600h9M5440 1549h9M5476 1671h9M5455 1542h9M5441 1616h9M5476 1597h9M5471 1412h9M5453 1641h9M5428 1682h9M5527 1178h9M5422 1671h9M5531 1331h9M5494 1644h9M5503 1415h9M5558 1368h9M5572 928h9M5477 1602h9M5510 1375h9M5480 1621h9M5478 1294h9M5463 1550h9M5452 1670h9M5469 1628h9M5516 1408h9M5454 1606h9M5477 1530h9M5561 1547h9M5594 727h9M5589 1145h9M5484 1280h9M5494 1595h9M5561 1321h9M5529 1462h9M5610 974h9M5573 1067h9M5543 1518h9M5475 1643h9M5457 1403h9M5536 1610h9M5466 1468h9M5515 1557h9M5518 1379h9M5493 1567h9M5416 1680h9M5612 1359h9M5443 1600h9M5552 1436h9M5558 937h9M5429 1223h9M5490 1665h9M5579 1195h9M5514 1548h9M5438 1678h9M5470 1636h9M5505 1289h9M5476 1630h9M5568 1206h9M5480 1186h9M5570 1359h9M5455 1663h9M5454 1657h9M5630 837h9M5449 1354h9M5484 1601h9M5493 1598h9M5485 1644h9M5546 1328h9M5468 1502h9M5560 1352h9M5537 1507h9M5573 1153h9M5467 1589h9M5429 1686h9M5531 1374h9M5499 1586h9M5472 1589h9M5485 1392h9M5513 1477h9M5474 1660h9M5485 1449h9M5519 1634h9M5455 1676h9M5430 1626h9M5428 1674h9M5443 1639h9M5435 1560h9M5402 1568h9M5579 1491h9M5515 1371h9M5521 1266h9M5508 1534h9M5449 1614h9M5456 1599h9M5578 1413h9M5572 1444h9M5478 1384h9M5451 1641h9M5461 1314h9M5552 1449h9M5492 1637h9M5404 1637h9M5430 1644h9M5428 1634h9M5527 1613h9M5489 1532h9M5461 1585h9M5490 1611h9M5570 1442h9M5629 1028h9M5440 1668h9M5507 1431h9M5534 1398h9M5492 1572h9M5500 1396h9M5534 1282h9M5512 1566h9M5522 1186h9M5502 1646h9M5437 1572h9M5488 1614h9M5430 1654h9M5569 1310h9M5529 1419h9M5636 1118h9M5423 1666h9M5488 1030h9M5464 1600h9M5497 1623h9M5562 1520h9M5538 1593h9M5476 1584h9M5559 1129h9M5464 1511h9M5472 1633h9M5447 1612h9M5500 1506h9M5545 1350h9M5509 1345h9M5599 1067h9M5461 1629h9M5408 1578h9M5538 1115h9M5534 1458h9M5495 1657h9M5520 1463h9M5517 1340h9M5479 1518h9M5547 1284h9M5570 1454h9M5600 1258h9M5545 1407h9M5498 1427h9M5401 1677h9M5538 1290h9M5434 1640h9M5504 1217h9M5506 1604h9M5502 1609h9M5587 1288h9M5534 1611h9M5582 1171h9M5548 1403h9M5539 1561h9M5480 1600h9M5455 1678h9M5504 1602h9M5490 1392h9M5451 1635h9M5498 1625h9M5612 1510h9M5447 1669h9M5434 1601h9M5455 1530h9M5624 1328h9M5588 1272h9M5470 1538h9M5486 1604h9M5457 1372h9M5532 1319h9M5427 1586h9M5442 1501h9M5428 1665h9M5471 1270h9M5592 1276h9M5459 1537h9M5471 1517h9M5441 1677h9M5410 1642h9M5581 1175h9M5492 1329h9M5421 1662h9M5509 1625h9M5500 1430h9M5499 1634h9M5528 1579h9M5512 1355h9M5631 1236h9M5455 1654h9M5445 1198h9M5497 1620h9M5445 1656h9M5541 970h9M5593 1370h9M5546 1480h9M5636 1229h9M5559 1207h9M5619 1053h9M5475 1517h9M5452 1537h9M5412 1577h9M5427 1656h9M5509 1397h9M5549 1622h9M5454 1670h9M5516 1538h9M5434 1509h9M5518 1397h9M5591 1153h9M5502 1536h9M5438 1606h9M5564 1220h9M5543 923h9M5523 1329h9M5615 958h9M5506 1457h9M5427 1608h9M5604 1246h9M5472 1259h9M5605 1413h9M5472 1605h9M5482 1518h9M5453 1640h9M5562 1464h9M5485 1005h9M5510 1325h9M5520 1534h9M5431 1389h9M5452 1614h9M5479 1623h9M5617 1028h9M5444 1624h9M5437 1685h9M5438 1589h9M5464 1371h9M5521 901h9M5457 1468h9M5595 1173h9M5483 1370h9M5499 1204h9M5497 1541h9M5494 1593h9M5502 1038h9M5573 1472h9M5627 1189h9M5552 1230h9M5528 1540h9M5545 1494h9M5491 1202h9M5509 1214h9M5514 1380h9M5568 1121h9M5447 1677h9M5451 1620h9M5537 1556h9M5483 1631h9M5524 1157h9M5554 863h9M5497 1604h9M5440 1653h9M5539 1477h9M5426 1666h9M5517 1535h9M5540 1068h9M5561 1376h9M5484 1638h9M5563 1457h9M5431 1610h9M5444 1634h9M5522 1144h9M5447 1611h9M5563 1349h9M5555 1517h9M5504 1558h9M5502 1627h9M5518 1402h9M5636 662h9M5445 1664h9M5418 1681h9M5531 1173h9M5508 1277h9M5428 1637h9M5519 1227h9M5539 1435h9M5618 1320h9M5513 1110h9M5553 1150h9M5540 1206h9M5457 1519h9M5500 1187h9M5497 844h9M5487 1501h9M5503 1530h9M5547 1263h9M5541 1442h9M5527 1331h9M5456 1581h9M5531 1164h9M5433 1567h9M5471 1650h9M5522 1618h9M5496 1463h9M5564 1086h9M5551 1010h9M5546 1209h9M5441 1633h9M5525 1597h9M5578 1297h9M5458 1546h9M5588 1562h9M5492 1407h9M5539 1175h9M5484 1435h9M5481 1503h9M5549 1434h9M5451 1676h9M5476 1537h9M5505 1426h9M5464 1583h9M5501 1506h9M5422 1603h9M5626 1438h9M5492 1579h9M5501 1516h9M5467 1368h9M5558 1333h9M5481 1637h9M5497 1352h9M5543 1306h9M5531 1510h9M5598 1315h9M5462 1539h9M5457 1666h9M5573 1310h9M5503 1635h9M5602 1027h9M5416 1572h9M5468 1675h9M5512 1140h9M5546 1559h9M5452 1270h9M5496 1664h9M5539 1516h9M5453 1582h9M5530 1227h9M5501 1596h9M5547 1148h9M5478 1471h9M5488 1474h9M5511 1285h9M5475 1671h9M5434 1680h9M5484 1650h9M5532 1192h9M5540 1627h9M5484 1549h9M5469 1636h9M5481 1534h9M5475 1644h9M5535 1482h9M5482 1017h9M5600 1211h9M5484 1410h9M5452 1609h9M5534 1287h9M5439 1651h9M5485 1568h9M5532 1477h9M5633 1348h9M5464 1441h9M5521 1126h9M5514 1657h9M5636 1257h9M5515 1306h9M5508 1495h9M5586 974h9M5463 1264h9M5444 1653h9M5524 1597h9M5475 1664h9M5467 1636h9M5404 1544h9M5543 1412h9M5564 1355h9M5560 1470h9M5508 1340h9M5471 1611h9M5463 1543h9M5464 1594h9M5583 1047h9M5432 1639h9M5482 1543h9M5519 1627h9M5448 1507h9M5528 1376h9M5459 1354h9M5591 1213h9M5438 1607h9M5406 1603h9M5515 1519h9M5549 1146h9M5456 1534h9M5437 1482h9M5494 1474h9M5426 1422h9M5546 1418h9M5581 1041h9M5630 1291h9M5469 1583h9M5473 1598h9M5508 1569h9M5534 1271h9M5477 1406h9M5480 1573h9M5465 1479h9M5532 1520h9M5465 1631h9M5465 1659h9M5441 1655h9M5405 1555h9M5447 1617h9M5537 1421h9M5453 1663h9M5456 1655h9M5437 1485h9M5478 1316h9M5627 1353h9M5442 1624h9M5466 1543h9M5494 1252h9M5525 1531h9M5482 1621h9M5453 1417h9M5586 957h9M5434 1588h9M5628 1249h9M5634 1209h9M5504 1629h9M5462 1609h9M5433 1543h9M5427 1668h9M5536 1136h9M5509 1030h9M5565 1575h9M5439 1599h9M5527 1474h9M5521 1419h9M5558 1541h9M5471 1220h9M5446 1675h9M5478 1619h9M5451 1501h9M5489 1629h9M5486 1551h9M5522 1190h9M5519 1484h9M5630 963h9M5563 1510h9M5432 1454h9M5458 1292h9M5452 1072h9M5471 1363h9M5417 1533h9M5452 1558h9M5536 1349h9M5546 1478h9M5525 1343h9M5477 1630h9M5404 1667h9M5575 1304h9M5531 1559h9M5521 1428h9M5466 1528h9M5465 1453h9M5631 1276h9M5520 1478h9M5480 1561h9M5430 1420h9M5506 1309h9M5564 1467h9M5581 1365h9M5468 1554h9M5529 1581h9M5582 1535h9M5408 1658h9M5431 1664h9M5492 1434h9M5419 1613h9M5486 1066h9M5514 1475h9M5513 1504h9M5477 1396h9M5429 1677h9M5497 1528h9M5484 1545h9M5504 1333h9M5458 1605h9M5478 1507h9M5514 1220h9M5468 1609h9M5494 1626h9M5463 1645h9M5511 1644h9M5429 1673h9M5542 1465h9M5452 1634h9M5492 1352h9M5541 1484h9M5544 1529h9M5501 1474h9M5519 1545h9M5591 1274h9M5481 818h9M5519 1183h9M5445 1433h9M5633 1221h9M5516 1396h9M5466 1677h9M5590 1185h9M5527 1543h9M5522 1651h9M5489 1517h9M5545 1112h9M5535 1379h9M5563 1326h9M5562 1399h9M5441 1639h9M5505 1487h9M5543 1401h9M5457 1537h9M5449 1665h9M5489 1627h9M5519 1553h9M5513 1490h9M5443 1525h9M5502 1434h9M5550 1487h9M5535 1466h9M5453 1680h9M5477 1566h9M5518 1487h9M5433 1464h9M5501 856h9M5510 1552h9M5522 1127h9M5523 1483h9M5561 1493h9M5531 1507h9M5572 1262h9M5546 1365h9M5548 1251h9M5508 1380h9M5433 1683h9M5465 1318h9M5474 1356h9M5582 756h9M5602 1300h9M5520 1194h9M5553 1486h9M5461 1441h9M5479 1390h9M5415 1671h9M5466 1656h9M5544 1423h9M5478 1618h9M5519 1573h9M5450 1522h9M5506 1658h9M5517 1456h9M5484 1592h9M5546 1321h9M5465 1650h9M5488 1478h9M5404 1661h9M5574 1250h9M5428 1562h9M5604 1462h9M5469 1601h9M5484 1532h9M5536 1355h9M5494 1475h9M5522 1553h9M5458 1646h9M5619 1359h9M5538 1382h9M5567 1331h9M5503 1640h9M5616 977h9M5495 1527h9M5517 1640h9M5575 1082h9M5563 1251h9M5505 1498h9M5512 1555h9M5436 1384h9M5493 1639h9M5417 1408h9M5491 1546h9M5413 1673h9M5561 1472h9M5480 1502h9M5507 1214h9M5574 1267h9M5509 1367h9M5464 1570h9M5484 1584h9M5434 1576h9M5447 1639h9M5424 1507h9M5515 1508h9M5561 1051h9M5483 1652h9M5514 1537h9M5543 1240h9M5422 1468h9M5577 1303h9M5548 1351h9M5521 1434h9M5460 1641h9M5471 1633h9M5508 1344h9M5567 1307h9M5486 1580h9M5451 1618h9M5505 1567h9M5445 1667h9M5430 1684h9M5534 1157h9M5471 1614h9M5499 1565h9M5561 1297h9M5425 1657h9M5469 1623h9M5460 1502h9M5530 1565h9M5590 1241h9M5475 1596h9M5549 1130h9M5571 1433h9M5499 1532h9M5475 1639h9M5517 753h9M5544 1501h9M5464 1577h9M5504 1582h9M5487 1559h9M5583 1287h9M5437 1504h9M5544 1402h9M5500 1530h9M5533 1440h9M5549 1383h9M5438 1623h9M5471 1674h9M5451 1679h9M5486 1636h9M5437 1547h9M5633 1110h9M5510 1562h9M5511 1207h9M5516 1557h9M5510 1412h9M5575 1493h9M5480 1537h9M5449 1445h9M5487 1454h9M5478 1613h9M5626 1217h9M5577 934h9M5562 1248h9M5498 1546h9M5482 1444h9M5498 1452h9M5440 1656h9M5535 1260h9M5416 1571h9M5514 1334h9M5436 1572h9M5612 1345h9M5440 1606h9M5472 1623h9M5568 1258h9M5434 1655h9M5466 1402h9M5518 1492h9M5512 1446h9M5435 1667h9M5609 1184h9M5593 1123h9M5411 1648h9M5600 1096h9M5539 1284h9M5526 1456h9M5505 1332h9M5455 1539h9M5466 1619h9M5454 1441h9M5460 1643h9M5552 1255h9M5620 1108h9M5507 1622h9M5553 1442h9M5464 1599h9M5442 1620h9M5470 1412h9M5435 1608h9M5478 1556h9M5450 1654h9M5403 1669h9M5586 824h9M5469 1624h9M5461 1641h9M5605 829h9M5558 1231h9M5452 1655h9M5458 1632h9M5620 1209h9M5434 1609h9M5570 1427h9M5423 1631h9M5429 1658h9M5478 1584h9M5478 1659h9M5429 1461h9M5634 1267h9M5497 1577h9M5507 1447h9M5422 1678h9M5504 1500h9M5449 1596h9M5513 1217h9M5483 898h9M5515 1405h9M5575 1074h9M5621 853h9M5463 1654h9M5470 1644h9M5551 1630h9M5514 1449h9M5492 1365h9M5486 942h9M5509 1399h9M5489 1419h9M5487 1544h9M5627 720h9M5605 1299h9M5575 1490h9M5470 1491h9M5411 1680h9M5561 1561h9M5428 1654h9M5478 1482h9M5420 1659h9M5532 1448h9M5420 1685h9M5535 1484h9M5513 1534h9M5529 1517h9M5488 1126h9M5445 1317h9M5478 1657h9M5484 1524h9M5498 1657h9M5545 1361h9M5512 1386h9M5453 1643h9M5542 1592h9M5508 1459h9M5628 1148h9M5548 884h9M5503 1418h9M5463 1653h9M5431 1677h9M5448 1683h9M5409 1286h9M5483 1639h9M5453 1559h9M5490 1631h9M5576 1367h9M5569 968h9M5433 1515h9M5484 1633h9M5583 1110h9M5461 1605h9M5556 1474h9M5578 1552h9M5624 1469h9M5442 1650h9M5479 1620h9M5415 1585h9M5457 1626h9M5508 1575h9M5468 1613h9M5547 643h9M5514 1536h9M5486 1625h9M5473 1491h9M5508 679h9M5564 1592h9M5521 1440h9M5513 1572h9M5555 1382h9M5457 1657h9M5423 1491h9M5482 1565h9M5432 1105h9M5589 1378h9M5557 1292h9M5437 1675h9M5449 1566h9M5468 1661h9M5475 1653h9M5546 1619h9M5484 1518h9M5492 1654h9M5591 1352h9M5518 1314h9M5503 1582h9M5490 1034h9M5594 1275h9M5409 1660h9M5517 1629h9M5446 1625h9M5598 1208h9M5618 990h9M5450 1557h9M5532 972h9M5481 1519h9M5515 1415h9M5417 1511h9M5410 1681h9M5497 1644h9M5613 1373h9M5414 1659h9M5486 1259h9M5449 1543h9M5537 1518h9M5574 1449h9M5475 1604h9M5491 1475h9M5588 1324h9M5481 1440h9M5576 1408h9M5554 1442h9M5535 1381h9M5498 991h9M5498 1649h9M5583 1071h9M5478 1663h9M5602 1124h9M5498 1275h9M5474 1544h9M5544 1047h9M5561 977h9M5437 1246h9M5531 1554h9M5525 1430h9M5490 1615h9M5517 1522h9M5447 1469h9M5476 1532h9M5576 1486h9M5511 1425h9M5528 1411h9M5489 1332h9M5469 1485h9M5468 1672h9M5554 1400h9M5493 1655h9M5445 1636h9M5414 1678h9M5586 1248h9M5554 858h9M5435 1685h9M5474 1528h9M5430 1625h9M5544 1235h9M5446 1641h9M5546 1114h9M5455 1580h9M5594 1132h9M5583 1400h9M5416 1658h9M5547 1366h9M5520 1476h9M5409 1517h9M5467 1574h9M5554 1525h9M5499 1234h9M5525 1502h9M5511 1551h9M5458 1676h9M5613 1237h9M5436 1552h9M5487 1437h9M5624 1310h9M5527 1510h9M5511 1528h9M5469 1507h9M5515 1510h9M5556 1459h9M5538 1461h9M5503 1516h9M5491 1463h9M5491 1552h9M5560 1120h9M5408 1677h9M5448 1625h9M5480 1639h9M5575 1424h9M5523 1509h9M5438 1429h9M5514 1085h9M5621 1489h9M5537 1198h9M5461 1649h9M5480 1338h9M5536 1400h9M5507 1560h9M5433 1539h9M5445 1535h9M5456 1199h9M5473 1550h9M5511 1625h9M5441 1631h9M5523 882h9M5414 1660h9M5439 1488h9M5467 1539h9M5512 1466h9M5615 1180h9M5481 1652h9M5548 1511h9M5467 1632h9M5580 1431h9M5403 1632h9M5418 1628h9M5454 1667h9M5534 1543h9M5406 1507h9M5450 1634h9M5618 1457h9M5510 1645h9M5451 1658h9M5517 1568h9M5424 1462h9M5436 1655h9M5463 1529h9M5579 1093h9M5529 1541h9M5449 1647h9M5574 1306h9M5555 1540h9M5424 1582h9M5462 1196h9M5403 1326h9M5465 1493h9M5465 1652h9M5497 1536h9M5438 1667h9M5489 1577h9M5494 1051h9M5468 1600h9M5525 1606h9M5483 748h9M5574 1417h9M5524 1544h9M5517 1411h9M5429 1680h9M5625 1192h9M5401 1670h9M5462 1578h9M5491 1309h9M5573 1015h9M5511 1501h9M5521 1614h9M5518 1484h9M5469 1671h9M5424 1676h9M5531 1487h9M5466 1560h9M5512 1512h9M5611 1213h9M5450 1635h9M5454 1671h9M5503 1247h9M5462 1319h9M5548 1378h9M5467 1601h9M5564 906h9M5456 1639h9M5488 1277h9M5509 1500h9M5464 1588h9M5476 1653h9M5441 1508h9M5441 1679h9M5462 1674h9M5469 1625h9M5562 1267h9M5422 1657h9M5440 1234h9M5545 1512h9M5463 1608h9M5466 1634h9M5488 1434h9M5590 988h9M5409 1630h9M5515 1580h9M5435 1534h9M5576 1468h9M5519 1520h9M5471 1597h9M5556 1527h9M5461 1656h9M5467 1596h9M5406 1427h9M5483 1632h9M5477 1669h9M5513 1616h9M5548 1435h9M5438 1665h9M5477 1612h9M5465 1418h9M5486 1269h9M5441 1671h9M5430 1683h9M5414 1636h9M5488 1370h9M5545 1242h9M5484 1645h9M5494 1174h9M5568 1362h9M5496 1551h9M5495 1569h9M5493 1267h9M5514 1398h9M5483 1508h9M5568 1156h9M5467 1597h9M5529 1455h9M5522 1428h9M5505 1480h9M5404 1620h9M5582 1481h9M5514 1459h9M5560 1485h9M5551 859h9M5494 1656h9M5503 1506h9M5489 1547h9M5514 1612h9M5556 1277h9M5538 1475h9M5459 1535h9M5562 1386h9M5411 1540h9M5590 1308h9M5472 1642h9M5584 1315h9M5506 1576h9M5496 1581h9M5446 1679h9M5462 1643h9M5453 1387h9M5483 1571h9M5455 1545h9M5579 1461h9M5467 1567h9M5519 1599h9M5492 1595h9M5520 1617h9M5559 1034h9M5447 1430h9M5565 1232h9M5507 1350h9M5485 1586h9M5444 1603h9M5477 1587h9M5546 1423h9M5622 997h9M5517 1384h9M5533 1167h9M5529 1289h9M5445 1374h9M5466 1595h9M5460 1634h9M5523 1400h9M5470 1398h9M5475 1657h9M5468 1606h9M5433 1486h9M5462 1014h9M5538 1363h9M5411 1639h9M5592 1023h9M5501 1570h9M5479 1514h9M5423 1678h9M5553 1169h9M5474 1641h9M5486 1623h9M5442 1568h9M5415 1586h9M5454 1180h9M5442 1583h9M5522 1272h9M5626 1092h9M5534 1556h9M5446 1499h9M5625 1226h9M5424 1627h9M5500 1278h9M5459 1505h9M5500 1425h9M5501 1663h9M5591 1176h9M5495 1532h9M5403 1145h9M5534 1150h9M5445 1506h9M5496 1521h9M5476 1611h9M5549 1573h9M5556 1251h9M5453 1374h9M5441 1528h9M5451 1539h9M5563 1405h9M5462 1555h9M5514 1378h9M5454 1613h9M5472 1572h9M5485 1359h9M5464 1406h9M5433 1511h9M5459 1403h9M5443 1465h9M5534 1525h9M5487 1529h9M5498 1584h9M5515 1575h9M5575 1244h9M5556 1378h9M5434 1676h9M5460 1640h9M5483 1634h9M5459 1597h9M5572 1089h9M5521 1595h9M5487 1607h9M5440 1614h9M5477 1563h9M5531 1576h9M5515 1404h9M5469 1469h9M5470 1487h9M5471 1639h9M5453 1597h9M5493 1586h9M5419 865h9M5445 1477h9M5497 1529h9M5586 1097h9M5412 1581h9M5496 1469h9M5486 1398h9M5448 1646h9M5604 1361h9M5420 1577h9M5581 1395h9M5538 1522h9M5413 1646h9M5504 1533h9M5576 1008h9M5599 1045h9M5490 1606h9M5573 1374h9M5545 1315h9M5567 1295h9M5499 1546h9M5449 1673h9M5525 1593h9M5582 677h9M5479 1558h9M5488 1568h9M5517 1567h9M5589 1392h9M5483 1613h9M5491 1474h9M5524 1012h9M5469 1662h9M5497 1661h9M5478 1235h9M5479 1399h9M5425 1620h9M5500 1323h9M5409 1056h9M5463 1568h9M5574 1392h9M5516 1606h9M5549 1266h9M5486 1644h9M5505 1356h9M5432 1662h9M5536 1575h9M5584 1503h9M5634 1272h9M5516 1482h9M5482 1604h9M5552 1365h9M5608 1386h9M5431 1657h9M5513 1198h9M5436 1512h9M5461 1612h9M5484 1526h9M5437 1672h9M5544 1456h9M5430 1679h9M5495 1555h9M5591 1224h9M5445 1558h9M5614 1288h9M5502 1634h9M5504 1627h9M5447 1559h9M5520 1363h9M5509 1394h9M5485 1637h9M5462 1460h9M5426 1671h9M5464 1640h9M5573 1332h9M5553 1425h9M5570 1333h9M5475 1630h9M5533 1255h9M5570 1421h9M5571 1417h9M5557 1192h9M5498 1390h9M5415 1617h9M5516 1530h9M5524 1393h9M5444 1583h9M5455 1679h9M5501 1538h9M5596 1260h9M5490 1140h9M5483 1513h9M5528 1644h9M5481 1548h9M5456 1562h9M5531 1428h9M5505 1471h9M5406 1627h9M5620 1381h9M5416 1585h9M5454 1550h9M5555 1129h9M5485 1565h9M5454 1515h9M5619 1000h9M5536 1466h9M5451 1666h9M5455 1660h9M5544 1470h9M5444 1669h9M5447 1678h9M5563 1500h9M5501 1463h9M5451 1615h9M5495 1643h9M5491 1583h9M5622 970h9M5443 1554h9M5574 1485h9M5440 1665h9M5568 1195h9M5458 1674h9M5527 1456h9M5463 1347h9M5540 1120h9M5545 1347h9M5480 1402h9M5504 1509h9M5583 1494h9M5459 1355h9M5436 1646h9M5456 1640h9M5465 1657h9M5518 975h9M5464 1541h9M5485 1616h9M5462 1573h9M5462 1563h9M5513 1314h9M5457 1619h9M5540 1534h9M5457 1655h9M5579 1205h9M5511 1572h9M5561 1210h9M5514 1433h9M5573 1385h9M5483 1628h9M5445 1630h9M5543 1194h9M5571 1225h9M5491 1067h9M5416 1667h9M5495 1631h9M5571 1458h9M5428 1669h9M5492 1617h9M5527 1483h9M5558 1208h9M5454 1664h9M5434 1599h9M5500 1420h9M5571 1232h9M5523 1380h9M5607 1341h9M5405 1640h9M5491 1611h9M5514 1639h9M5478 1661h9M5485 1550h9M5490 1498h9M5441 1626h9M5528 1470h9M5524 1558h9M5468 1503h9M5474 1644h9M5425 1671h9M5517 1543h9M5499 1569h9M5449 1666h9M5493 1536h9M5454 1668h9M5511 1417h9M5501 1308h9M5518 1421h9M5474 1623h9M5504 1247h9M5516 1204h9M5440 1588h9M5575 1432h9M5526 1381h9M5453 1635h9M5449 1636h9M5473 1380h9M5462 1638h9M5577 1267h9M5483 1150h9M5450 1649h9M5445 1648h9M5545 1482h9M5468 1526h9M5548 1405h9M5483 1572h9M5480 1620h9M5455 1502h9M5435 1666h9M5568 1413h9M5427 1685h9M5480 1605h9M5540 1528h9M5421 1646h9M5532 1354h9M5533 1601h9M5463 1620h9M5528 1365h9M5474 1126h9M5453 1614h9M5473 1645h9M5582 1443h9M5507 1585h9M5580 1386h9M5547 1195h9M5593 1233h9M5464 1498h9M5498 1352h9M5533 1188h9M5464 1379h9M5488 1522h9M5500 1572h9M5506 1498h9M5475 1594h9M5550 928h9M5405 1566h9M5519 1461h9M5548 1496h9M5544 1159h9M5441 1450h9M5496 1487h9M5444 1594h9M5443 1574h9M5461 1616h9M5538 1489h9M5437 1521h9M5553 1311h9M5498 1321h9M5624 1410h9M5421 1075h9M5481 1591h9M5564 953h9M5507 1538h9M5566 762h9M5543 1311h9M5610 1015h9M5496 1418h9M5426 1595h9M5472 1342h9M5487 1561h9M5425 1686h9M5514 1592h9M5473 1653h9M5537 1082h9M5460 1506h9M5452 1563h9M5508 1579h9M5434 1645h9M5494 1624h9M5478 1553h9M5492 1634h9M5532 1267h9M5542 1097h9M5465 1518h9M5491 1481h9M5600 1436h9M5576 1178h9M5493 1400h9M5584 1347h9M5430 1627h9M5432 1664h9M5553 1595h9M5523 992h9M5486 1481h9M5461 1460h9M5455 1583h9M5435 1674h9M5544 1241h9M5523 1643h9M5448 1634h9M5516 1450h9M5472 1595h9M5532 1613h9M5459 1511h9M5437 1627h9M5479 1332h9M5515 1296h9M5527 1464h9M5497 1634h9M5455 1647h9M5464 1604h9M5541 1458h9M5556 1534h9M5611 1327h9M5477 1459h9M5509 1482h9M5465 1598h9M5489 1658h9M5587 1438h9M5437 1589h9M5567 1017h9M5488 1650h9M5470 1301h9M5549 1336h9M5515 1613h9M5519 1654h9M5575 1358h9M5410 1550h9M5478 1549h9M5493 1563h9M5524 1574h9M5491 1417h9M5457 1490h9M5537 1526h9M5511 750h9M5527 1503h9M5544 1437h9M5585 1033h9M5498 1524h9M5456 1545h9M5581 1178h9M5572 1187h9M5448 1621h9M5501 1211h9M5449 1409h9M5472 1649h9M5552 1201h9M5625 968h9M5544 1332h9M5539 1366h9M5463 1671h9M5518 1188h9M5493 1505h9M5532 1299h9M5468 1634h9M5519 1426h9M5501 1541h9M5494 1491h9M5474 1435h9M5594 661h9M5407 1665h9M5433 1667h9M5557 1510h9M5437 1517h9M5513 1533h9M5471 1259h9M5505 1611h9M5460 1469h9M5468 1534h9M5529 897h9M5459 1282h9M5497 1501h9M5495 1405h9M5449 1602h9M5459 1615h9M5528 1473h9M5509 1505h9M5457 1521h9M5488 1475h9M5445 1601h9M5528 1465h9M5455 1671h9M5425 1655h9M5499 910h9M5508 1587h9M5520 1481h9M5565 1302h9M5495 1515h9M5435 1422h9M5526 1452h9M5607 1107h9M5479 1489h9M5443 1527h9M5490 1587h9M5435 1651h9M5539 1301h9M5414 1594h9M5548 1254h9M5498 864h9M5529 1171h9M5497 1330h9M5468 1649h9M5453 1637h9M5546 1551h9M5504 1026h9M5549 1528h9M5425 1678h9M5416 1663h9M5559 1536h9M5633 1276h9M5460 1602h9M5527 1495h9M5530 1336h9M5471 1570h9M5483 1670h9M5544 1303h9M5453 1653h9M5406 1637h9M5525 1484h9M5487 1656h9M5438 1639h9M5445 1646h9M5443 1649h9M5633 1302h9M5556 1442h9M5586 1531h9M5485 1602h9M5466 1623h9M5503 1451h9M5505 1629h9M5516 1594h9M5498 1250h9M5614 864h9M5483 1614h9M5531 1481h9M5492 1600h9M5497 1524h9M5510 1379h9M5465 1496h9M5568 1560h9M5411 1497h9M5459 1541h9M5449 1669h9M5473 1595h9M5558 1193h9M5470 1393h9M5459 1650h9M5497 1553h9M5625 943h9M5528 1512h9M5487 1569h9M5462 1575h9M5549 1442h9M5552 1041h9M5413 1543h9M5485 1592h9M5440 1512h9M5496 1539h9M5461 1328h9M5481 1348h9M5518 1565h9M5585 1139h9M5575 1360h9M5452 1506h9M5445 1407h9M5421 1651h9M5544 1465h9M5465 1558h9M5618 1456h9M5581 1390h9M5533 1511h9M5449 1466h9M5477 1419h9M5434 1035h9M5459 1660h9M5526 1266h9M5447 1486h9M5482 1586h9M5442 1653h9M5466 1617h9M5484 1337h9M5530 1629h9M5470 1616h9M5560 1374h9M5535 1591h9M5517 1601h9M5529 1476h9M5470 1540h9M5589 1423h9M5485 1670h9M5471 1573h9M5510 1591h9M5502 1551h9M5560 1425h9M5493 1537h9M5452 1677h9M5510 1388h9M5460 1337h9M5520 1535h9M5437 1635h9M5568 1303h9M5507 1594h9M5530 1638h9M5530 1566h9M5580 1147h9M5443 1675h9M5513 1511h9M5506 1353h9M5475 1477h9M5500 1623h9M5463 1537h9M5464 1617h9M5409 1677h9M5494 1417h9M5442 1543h9M5544 1452h9M5564 1184h9M5488 1663h9M5526 1227h9M5494 1648h9M5440 1587h9M5493 1579h9M5526 1319h9M5496 1478h9M5586 1229h9M5514 1532h9M5480 1513h9M5588 947h9M5500 1392h9M5507 1569h9M5456 1671h9M5429 1613h9M5576 1412h9M5612 1251h9M5528 1419h9M5557 1290h9M5533 1365h9M5555 1484h9M5428 1639h9M5467 1511h9M5465 1653h9M5567 1409h9M5512 1578h9M5416 1657h9M5492 1530h9M5490 1586h9M5580 1559h9M5427 1523h9M5615 1353h9M5544 1515h9M5488 1419h9M5470 1626h9M5449 1622h9M5553 1523h9M5494 1522h9M5569 1202h9M5626 897h9M5572 1051h9M5522 1445h9M5500 1177h9M5409 1663h9M5536 1295h9M5579 711h9M5499 1567h9M5415 1678h9M5516 1548h9M5493 1458h9M5607 1209h9M5470 1478h9M5509 1626h9M5555 1606h9M5474 1621h9M5413 1652h9M5483 1561h9M5467 1439h9M5580 1165h9M5520 1565h9M5563 1351h9M5425 1680h9M5555 904h9M5575 1421h9M5532 1450h9M5555 1497h9M5415 1472h9M5408 1663h9M5495 1577h9M5541 1360h9M5488 1570h9M5497 1576h9M5444 1651h9M5492 1436h9M5506 1601h9M5600 1428h9M5507 1524h9M5455 1478h9M5544 1569h9M5574 1153h9M5503 1544h9M5557 904h9M5464 1231h9M5600 1420h9M5529 1571h9M5544 1386h9M5440 1670h9M5467 1498h9M5442 1389h9M5482 1424h9M5545 1387h9M5494 1409h9M5480 1618h9M5474 1546h9M5427 1620h9M5540 1566h9M5489 1522h9M5473 1468h9" stroke="#f05a6a" stroke-width="9" fill="none" opacity="0.42" transform="scale(.1)"/><line x1="540.6" y1="45" x2="540.6" y2="166.5" stroke="#f0606a" stroke-width="1.2" stroke-dasharray="4 2.5"/><line x1="540.6" y1="166.5" x2="571" y2="166.5" stroke="#f0606a" stroke-width="1.2" stroke-dasharray="4 2.5"/><path d="M496.6 49.3V183.2H571.6" fill="none" stroke="#8a8a8a" stroke-width="1" /><text x="495.4" y="74.8" font-size="9" fill="#333" text-anchor="end">30</text><text x="495.4" y="108.3" font-size="9" fill="#333" text-anchor="end">20</text><text x="495.4" y="140.8" font-size="9" fill="#333" text-anchor="end">10</text><text x="495.4" y="172.8" font-size="9" fill="#333" text-anchor="end">0</text><text x="512" y="192" font-size="7.9" fill="#333" text-anchor="middle">-2</text><text x="534.5" y="192" font-size="7.9" fill="#333" text-anchor="middle">0</text><text x="557" y="192" font-size="7.9" fill="#333" text-anchor="middle">2</text><text x="515.4" y="200.9" font-size="10.3" textLength="40.8" lengthAdjust="spacingAndGlyphs">log ratio</text><text x="478.4" y="115.35" font-size="10.4" text-anchor="middle" dominant-baseline="central" textLength="66.7" lengthAdjust="spacingAndGlyphs" transform="rotate(-90 478.4 115.35)">-log<tspan font-size="6.4" dy="2">10</tspan><tspan dy="-2">(q-value)</tspan></text><text x="553.2" y="180.5" font-size="8.4" textLength="21.8" lengthAdjust="spacingAndGlyphs">n = 3</text><text x="581.7" y="45.8" font-size="10.8" fill="#ee4d5a" textLength="24.6" lengthAdjust="spacingAndGlyphs">A3B-</text><text x="581.7" y="56.6" font-size="10.8" fill="#ee4d5a" textLength="42.5" lengthAdjust="spacingAndGlyphs">proximal</text><text x="581.7" y="68.5" font-size="10.8" fill="#9d9db2" textLength="31.2" lengthAdjust="spacingAndGlyphs">others</text><text x="584.3" y="78.7" font-size="9.5" font-style="italic">p&lt;10<tspan font-size="6.5" dy="-3.5">-4</tspan></text><text x="7.5" y="233.8" font-size="19.8" stroke="#fff" stroke-width="0.4">c</text><text x="105.7" y="241.5" font-size="11.5">p &lt; 10<tspan font-size="7.5" dy="-4.5">-5</tspan></text><circle cx="109" cy="284.3" r="29.6" fill="none" stroke="#ee4d5a" stroke-width="1.1"/><circle cx="140.6" cy="283.3" r="31" fill="none" stroke="#4b8bf0" stroke-width="1.1"/><text x="19" y="273.6" font-size="11.67" fill="#ee4d5a" textLength="56.7" lengthAdjust="spacingAndGlyphs">E2-Induced</text><text x="24.1" y="286.4" font-size="11.54" fill="#ee4d5a" textLength="46.3" lengthAdjust="spacingAndGlyphs">A3B sites</text><text x="81.6" y="286.2" font-size="9.53" fill="#ee4d5a" textLength="27.7" lengthAdjust="spacingAndGlyphs">15,746</text><text x="113.3" y="278.9" font-size="9.8" fill="#ee4d5a" textLength="23.3" lengthAdjust="spacingAndGlyphs">7,965</text><text x="113.3" y="292.4" font-size="9.8" fill="#4b8bf0" textLength="23.3" lengthAdjust="spacingAndGlyphs">7,113</text><text x="140.9" y="285.8" font-size="9.42" fill="#4b8bf0" textLength="26.7" lengthAdjust="spacingAndGlyphs">11,454</text><text x="173.2" y="273.5" font-size="11.61" fill="#4b8bf0" textLength="55.8" lengthAdjust="spacingAndGlyphs">E2-induced</text><text x="182.8" y="286.4" font-size="11.3" fill="#4b8bf0" textLength="37" lengthAdjust="spacingAndGlyphs">R-loops</text><text x="5.5" y="338.4" font-size="21.5" stroke="#fff" stroke-width="0.4">d</text><line x1="34.2" y1="345.1" x2="221.5" y2="345.1" stroke="#444" stroke-width="1.2" /><line x1="88.6" y1="359.3" x2="221.5" y2="359.3" stroke="#444" stroke-width="0.9" /><line x1="34.2" y1="372.2" x2="221.5" y2="372.2" stroke="#444" stroke-width="0.9" /><line x1="34.2" y1="404.6" x2="221.5" y2="404.6" stroke="#444" stroke-width="1.2" /><text x="36.3" y="357.7" font-size="8.88" textLength="49.7" lengthAdjust="spacingAndGlyphs">Types of A3B</text><text x="52.6" y="365.7" font-size="8.6" textLength="16.8" lengthAdjust="spacingAndGlyphs">sites</text><text x="107" y="354.8" font-size="8.99" textLength="98.7" lengthAdjust="spacingAndGlyphs">Types of proximal R-loops</text><text x="98.5" y="369" font-size="9.01" textLength="43.3" lengthAdjust="spacingAndGlyphs">E2-induced</text><text x="180.7" y="369" font-size="9.05" textLength="23.9" lengthAdjust="spacingAndGlyphs">others</text><text x="42.6" y="384.5" font-size="8.93" textLength="42.9" lengthAdjust="spacingAndGlyphs">E2-induced</text><text x="112" y="384.5" font-size="8.94" textLength="18.9" lengthAdjust="spacingAndGlyphs">7965</text><text x="180.7" y="384.5" font-size="8.75" textLength="23.1" lengthAdjust="spacingAndGlyphs">15746</text><text x="52" y="398.8" font-size="8.9" textLength="23.5" lengthAdjust="spacingAndGlyphs">others</text><text x="112" y="398.8" font-size="8.94" textLength="18.9" lengthAdjust="spacingAndGlyphs">3060</text><text x="180.7" y="398.8" font-size="8.75" textLength="23.1" lengthAdjust="spacingAndGlyphs">17920</text><text x="160.6" y="418.3" font-size="9.6" textLength="72.2" lengthAdjust="spacingAndGlyphs">p &lt; 0.0001, X<tspan font-size="6.5" dy="-4">2</tspan><tspan dy="4"> test</tspan></text><defs><filter id="blur1" x="-20%" y="-20%" width="140%" height="140%"><feGaussianBlur stdDeviation="1.1"/></filter><linearGradient id="ghm30" x1="0" y1="0" x2="0" y2="1"><stop offset="0" stop-color="#ee3040" stop-opacity="0.25"/><stop offset="0.4" stop-color="#ee3040" stop-opacity="0.14"/><stop offset="1" stop-color="#ee3040" stop-opacity="0.02"/></linearGradient><linearGradient id="ghm30w" x1="0" y1="0" x2="0" y2="1"><stop offset="0" stop-color="#ee3040" stop-opacity="0.14"/><stop offset="1" stop-color="#ee3040" stop-opacity="0"/></linearGradient><clipPath id="cghm30"><rect x="436.3" y="246.8" width="27.3" height="26.4"/></clipPath><linearGradient id="ghm31" x1="0" y1="0" x2="0" y2="1"><stop offset="0" stop-color="#ee3040" stop-opacity="0.80"/><stop offset="0.4" stop-color="#ee3040" stop-opacity="0.44"/><stop offset="1" stop-color="#ee3040" stop-opacity="0.06"/></linearGradient><linearGradient id="ghm31w" x1="0" y1="0" x2="0" y2="1"><stop offset="0" stop-color="#ee3040" stop-opacity="0.44"/><stop offset="1" stop-color="#ee3040" stop-opacity="0"/></linearGradient><clipPath id="cghm31"><rect x="436.3" y="298.5" width="27.3" height="22.7"/></clipPath><linearGradient id="ghm40" x1="0" y1="0" x2="0" y2="1"><stop offset="0" stop-color="#ee3040" stop-opacity="0.90"/><stop offset="0.4" stop-color="#ee3040" stop-opacity="0.50"/><stop offset="1" stop-color="#ee3040" stop-opacity="0.07"/></linearGradient><linearGradient id="ghm40w" x1="0" y1="0" x2="0" y2="1"><stop offset="0" stop-color="#ee3040" stop-opacity="0.50"/><stop offset="1" stop-color="#ee3040" stop-opacity="0"/></linearGradient><clipPath id="cghm40"><rect x="467" y="246.8" width="27.1" height="26.4"/></clipPath><linearGradient id="ghm41" x1="0" y1="0" x2="0" y2="1"><stop offset="0" stop-color="#ee3040" stop-opacity="0.80"/><stop offset="0.4" stop-color="#ee3040" stop-opacity="0.44"/><stop offset="1" stop-color="#ee3040" stop-opacity="0.06"/></linearGradient><linearGradient id="ghm41w" x1="0" y1="0" x2="0" y2="1"><stop offset="0" stop-color="#ee3040" stop-opacity="0.44"/><stop offset="1" stop-color="#ee3040" stop-opacity="0"/></linearGradient><clipPath id="cghm41"><rect x="467" y="298.5" width="27.1" height="22.7"/></clipPath><linearGradient id="ghm50" x1="0" y1="0" x2="0" y2="1"><stop offset="0" stop-color="#ee3040" stop-opacity="0.40"/><stop offset="0.4" stop-color="#ee3040" stop-opacity="0.22"/><stop offset="1" stop-color="#ee3040" stop-opacity="0.03"/></linearGradient><linearGradient id="ghm50w" x1="0" y1="0" x2="0" y2="1"><stop offset="0" stop-color="#ee3040" stop-opacity="0.22"/><stop offset="1" stop-color="#ee3040" stop-opacity="0"/></linearGradient><clipPath id="cghm50"><rect x="498" y="273.2" width="27.3" height="25.3"/></clipPath><linearGradient id="ghm51" x1="0" y1="0" x2="0" y2="1"><stop offset="0" stop-color="#ee3040" stop-opacity="0.90"/><stop offset="0.4" stop-color="#ee3040" stop-opacity="0.50"/><stop offset="1" stop-color="#ee3040" stop-opacity="0.07"/></linearGradient><linearGradient id="ghm51w" x1="0" y1="0" x2="0" y2="1"><stop offset="0" stop-color="#ee3040" stop-opacity="0.50"/><stop offset="1" stop-color="#ee3040" stop-opacity="0"/></linearGradient><clipPath id="cghm51"><rect x="498" y="321.2" width="27.3" height="23"/></clipPath><linearGradient id="ghm60" x1="0" y1="0" x2="0" y2="1"><stop offset="0" stop-color="#ee3040" stop-opacity="0.85"/><stop offset="0.4" stop-color="#ee3040" stop-opacity="0.47"/><stop offset="1" stop-color="#ee3040" stop-opacity="0.07"/></linearGradient><linearGradient id="ghm60w" x1="0" y1="0" x2="0" y2="1"><stop offset="0" stop-color="#ee3040" stop-opacity="0.47"/><stop offset="1" stop-color="#ee3040" stop-opacity="0"/></linearGradient><clipPath id="cghm60"><rect x="529" y="273.2" width="27.6" height="25.3"/></clipPath><linearGradient id="ghm61" x1="0" y1="0" x2="0" y2="1"><stop offset="0" stop-color="#ee3040" stop-opacity="0.90"/><stop offset="0.4" stop-color="#ee3040" stop-opacity="0.50"/><stop offset="1" stop-color="#ee3040" stop-opacity="0.07"/></linearGradient><linearGradient id="ghm61w" x1="0" y1="0" x2="0" y2="1"><stop offset="0" stop-color="#ee3040" stop-opacity="0.50"/><stop offset="1" stop-color="#ee3040" stop-opacity="0"/></linearGradient><clipPath id="cghm61"><rect x="529" y="321.2" width="27.6" height="23"/></clipPath><filter id="speck" x="0" y="0" width="1" height="1" filterUnits="objectBoundingBox"><feTurbulence type="fractalNoise" baseFrequency="1.1 0.55" numOctaves="1" seed="4" result="n"/><feColorMatrix in="n" type="matrix" values="0 0 0 0 1 0 0 0 0 1 0 0 0 0 1 3.2 0 0 0 -1.45"/></filter><linearGradient id="cb1"><stop offset="0" stop-color="#fff"/><stop offset="0.45" stop-color="#fdf0f1"/><stop offset="0.7" stop-color="#f7b9be"/><stop offset="1" stop-color="#ee1c2a"/></linearGradient><linearGradient id="cb2"><stop offset="0" stop-color="#3d7ff0"/><stop offset="0.5" stop-color="#fff"/><stop offset="1" stop-color="#ee1c2a"/></linearGradient></defs><text x="266" y="230.7" font-size="20.5" stroke="#fff" stroke-width="0.4">e</text><text x="318.4" y="268.7" font-size="8.9" textLength="23.2" lengthAdjust="spacingAndGlyphs">7,965</text><text x="296.6" y="279" font-size="8.9" textLength="45" lengthAdjust="spacingAndGlyphs">E2-induced</text><text x="311.7" y="288.9" font-size="8.9" textLength="29.9" lengthAdjust="spacingAndGlyphs">R-loops</text><text x="319" y="316.2" font-size="8.9" textLength="22.6" lengthAdjust="spacingAndGlyphs">6,615</text><text x="295" y="326.5" font-size="8.9" textLength="46.6" lengthAdjust="spacingAndGlyphs">pre-existing</text><text x="311.7" y="337.1" font-size="8.9" textLength="29.9" lengthAdjust="spacingAndGlyphs">R-loops</text><text x="318.4" y="365" font-size="8.9" textLength="23.2" lengthAdjust="spacingAndGlyphs">9,131</text><text x="311" y="375.6" font-size="8.9" textLength="30.6" lengthAdjust="spacingAndGlyphs">without</text><text x="311.7" y="385.9" font-size="8.9" textLength="29.9" lengthAdjust="spacingAndGlyphs">R-loops</text><text x="291.5" y="326.45" font-size="9.9" text-anchor="middle" textLength="154" lengthAdjust="spacingAndGlyphs" transform="rotate(-90 291.5 326.45)">24,156 E2-induced A3B binding sites</text><rect x="342.6" y="246.8" width="3.4" height="51.7" fill="#f0404a" /><rect x="342.6" y="298.5" width="3.4" height="45.7" fill="#a845f5" /><rect x="342.6" y="344.2" width="3.4" height="64" fill="#4a8ef5" /><g stroke-width="1.35"><path stroke="#f8c7cc" d="M347.3 247.45h27.9"/><path stroke="#f8c6cb" d="M347.3 248.75h27.9"/><path stroke="#f7c1c6" d="M347.3 250.05h27.9"/><path stroke="#f8c7cc" d="M347.3 251.35h27.9"/><path stroke="#f8c7cb" d="M347.3 252.65h27.9"/><path stroke="#f8c6ca" d="M347.3 253.95h27.9"/><path stroke="#f8cbcf" d="M347.3 255.25h27.9"/><path stroke="#f8c7cb" d="M347.3 256.55h27.9"/><path stroke="#f8c5ca" d="M347.3 257.85h27.9"/><path stroke="#f7c3c8" d="M347.3 259.15h27.9"/><path stroke="#f8ccd0" d="M347.3 260.45h27.9"/><path stroke="#f8c9ce" d="M347.3 261.75h27.9"/><path stroke="#f8ccd0" d="M347.3 263.05h27.9"/><path stroke="#f7c3c8" d="M347.3 264.35h27.9"/><path stroke="#f8c4c9" d="M347.3 265.65h27.9"/><path stroke="#f8cdd1" d="M347.3 266.95h27.9"/><path stroke="#f7c0c5" d="M347.3 268.25h27.9"/><path stroke="#f7c1c6" d="M347.3 269.55h27.9"/><path stroke="#f8c5c9" d="M347.3 270.85h27.9"/><path stroke="#f8c5ca" d="M347.3 272.15h27.9"/><path stroke="#f8cbd0" d="M347.3 273.45h27.9"/><path stroke="#f8cdd1" d="M347.3 274.75h27.9"/><path stroke="#f8c6cb" d="M347.3 276.05h27.9"/><path stroke="#f8cdd1" d="M347.3 277.35h27.9"/><path stroke="#f8cbcf" d="M347.3 278.65h27.9"/><path stroke="#f8cace" d="M347.3 279.95h27.9"/><path stroke="#f8cdd1" d="M347.3 281.25h27.9"/><path stroke="#f8c7cc" d="M347.3 282.55h27.9"/><path stroke="#f8c8cc" d="M347.3 283.85h27.9"/><path stroke="#f7c2c7" d="M347.3 285.15h27.9"/><path stroke="#f8c7cb" d="M347.3 286.45h27.9"/><path stroke="#f8c5ca" d="M347.3 287.75h27.9"/><path stroke="#f8c7cb" d="M347.3 289.05h27.9"/><path stroke="#f8c5c9" d="M347.3 290.35h27.9"/><path stroke="#f8c7cc" d="M347.3 291.65h27.9"/><path stroke="#f8cace" d="M347.3 292.95h27.9"/><path stroke="#f7c0c5" d="M347.3 294.25h27.9"/><path stroke="#f7c0c5" d="M347.3 295.55h27.9"/><path stroke="#f7c2c7" d="M347.3 296.85h27.9"/><path stroke="#f7c4c9" d="M347.3 298.15h27.9"/><path stroke="#f8c9ce" d="M347.3 299.45h27.9"/><path stroke="#f8cacf" d="M347.3 300.75h27.9"/><path stroke="#f8cace" d="M347.3 302.05h27.9"/><path stroke="#f8cdd1" d="M347.3 303.35h27.9"/><path stroke="#f7c3c8" d="M347.3 304.65h27.9"/><path stroke="#f8c8cd" d="M347.3 305.95h27.9"/><path stroke="#f7c2c7" d="M347.3 307.25h27.9"/><path stroke="#f8c8cd" d="M347.3 308.55h27.9"/><path stroke="#f7c1c6" d="M347.3 309.85h27.9"/><path stroke="#f7c2c7" d="M347.3 311.15h27.9"/><path stroke="#f8cdd1" d="M347.3 312.45h27.9"/><path stroke="#f8cbcf" d="M347.3 313.75h27.9"/><path stroke="#f7c1c6" d="M347.3 315.05h27.9"/><path stroke="#f8c7cc" d="M347.3 316.35h27.9"/><path stroke="#f7c0c5" d="M347.3 317.65h27.9"/><path stroke="#f8c8cd" d="M347.3 318.95h27.9"/><path stroke="#f8ccd1" d="M347.3 320.25h27.9"/><path stroke="#f8c5ca" d="M347.3 321.55h27.9"/><path stroke="#f7c3c8" d="M347.3 322.85h27.9"/><path stroke="#f8cace" d="M347.3 324.15h27.9"/><path stroke="#f8ccd0" d="M347.3 325.45h27.9"/><path stroke="#f8c9cd" d="M347.3 326.75h27.9"/><path stroke="#f7c1c6" d="M347.3 328.05h27.9"/><path stroke="#f7c3c8" d="M347.3 329.35h27.9"/><path stroke="#f8ccd0" d="M347.3 330.65h27.9"/><path stroke="#f8cace" d="M347.3 331.95h27.9"/><path stroke="#f8ccd0" d="M347.3 333.25h27.9"/><path stroke="#f8cdd1" d="M347.3 334.55h27.9"/><path stroke="#f7c3c8" d="M347.3 335.85h27.9"/><path stroke="#f8cbcf" d="M347.3 337.15h27.9"/><path stroke="#f8c6cb" d="M347.3 338.45h27.9"/><path stroke="#f8c7cc" d="M347.3 339.75h27.9"/><path stroke="#f8cbcf" d="M347.3 341.05h27.9"/><path stroke="#f7c4c8" d="M347.3 342.35h27.9"/><path stroke="#f8ccd0" stroke-width="1.25" d="M347.3 343.6h27.9"/></g><g stroke-width="1.65"><path stroke="#f7bcc1" d="M347.3 345h27.9"/><path stroke="#f6b5bb" d="M347.3 346.6h27.9"/><path stroke="#fadbde" d="M347.3 348.2h27.9"/><path stroke="#f9d3d7" d="M347.3 349.8h27.9"/><path stroke="#fae2e4" d="M347.3 351.4h27.9"/><path stroke="#f7c4c8" d="M347.3 353h27.9"/><path stroke="#f8cbcf" d="M347.3 354.6h27.9"/><path stroke="#fbe9eb" d="M347.3 356.2h27.9"/><path stroke="#fadade" d="M347.3 357.8h27.9"/><path stroke="#f7bcc1" d="M347.3 359.4h27.9"/><path stroke="#f6b8be" d="M347.3 361h27.9"/><path stroke="#fbe9eb" d="M347.3 362.6h27.9"/><path stroke="#fadee1" d="M347.3 364.2h27.9"/><path stroke="#f9d8db" d="M347.3 365.8h27.9"/><path stroke="#f9d0d4" d="M347.3 367.4h27.9"/><path stroke="#f9d3d7" d="M347.3 369h27.9"/><path stroke="#fbe9eb" d="M347.3 370.6h27.9"/><path stroke="#fadadd" d="M347.3 372.2h27.9"/><path stroke="#f9d6da" d="M347.3 373.8h27.9"/><path stroke="#f9d6d9" d="M347.3 375.4h27.9"/><path stroke="#fae2e5" d="M347.3 377h27.9"/><path stroke="#f8c9cd" d="M347.3 378.6h27.9"/><path stroke="#f9d8dc" d="M347.3 380.2h27.9"/><path stroke="#f8ced2" d="M347.3 381.8h27.9"/><path stroke="#fbe9eb" d="M347.3 383.4h27.9"/><path stroke="#f7babf" d="M347.3 385h27.9"/><path stroke="#fbe5e8" d="M347.3 386.6h27.9"/><path stroke="#f9d5d9" d="M347.3 388.2h27.9"/><path stroke="#fadbde" d="M347.3 389.8h27.9"/><path stroke="#f8cace" d="M347.3 391.4h27.9"/><path stroke="#f8ced2" d="M347.3 393h27.9"/><path stroke="#fae3e5" d="M347.3 394.6h27.9"/><path stroke="#f8c9ce" d="M347.3 396.2h27.9"/><path stroke="#f9d4d8" d="M347.3 397.8h27.9"/><path stroke="#fadadd" d="M347.3 399.4h27.9"/><path stroke="#f8c6cb" d="M347.3 401h27.9"/><path stroke="#f9d5d8" d="M347.3 402.6h27.9"/><path stroke="#fad9dc" d="M347.3 404.2h27.9"/><path stroke="#f8cdd1" d="M347.3 405.8h27.9"/><path stroke="#f8cdd1" stroke-width="1.65" d="M347.3 407.4h27.9"/></g><rect x="358.75" y="246.8" width="5" height="161.4" fill="#f0a0a8" opacity="0.35"/><rect x="360.8" y="246.8" width="0.9" height="161.4" fill="#ee5060" opacity="0.45"/><rect x="360.75" y="344.2" width="1" height="64" fill="#ee4050" opacity="0.5"/><g stroke-width="1.35"><path stroke="#f1808d" d="M378.7 247.45h27.7"/><path stroke="#f17d8a" d="M378.7 248.75h27.7"/><path stroke="#f28a95" d="M378.7 250.05h27.7"/><path stroke="#f1828f" d="M378.7 251.35h27.7"/><path stroke="#f17e8b" d="M378.7 252.65h27.7"/><path stroke="#f17e8b" d="M378.7 253.95h27.7"/><path stroke="#f28894" d="M378.7 255.25h27.7"/><path stroke="#f1808d" d="M378.7 256.55h27.7"/><path stroke="#f17e8b" d="M378.7 257.85h27.7"/><path stroke="#f18591" d="M378.7 259.15h27.7"/><path stroke="#f18490" d="M378.7 260.45h27.7"/><path stroke="#f28995" d="M378.7 261.75h27.7"/><path stroke="#f18591" d="M378.7 263.05h27.7"/><path stroke="#f18490" d="M378.7 264.35h27.7"/><path stroke="#f3909b" d="M378.7 265.65h27.7"/><path stroke="#f18390" d="M378.7 266.95h27.7"/><path stroke="#f17c89" d="M378.7 268.25h27.7"/><path stroke="#f17e8b" d="M378.7 269.55h27.7"/><path stroke="#f1818e" d="M378.7 270.85h27.7"/><path stroke="#f28995" d="M378.7 272.15h27.7"/><path stroke="#f1818e" stroke-width="0.45" d="M378.7 273h27.7"/></g><g stroke-width="1.35"><path stroke="#f3929d" d="M378.7 273.85h27.7"/><path stroke="#f395a0" d="M378.7 275.15h27.7"/><path stroke="#f28d98" d="M378.7 276.45h27.7"/><path stroke="#f49da7" d="M378.7 277.75h27.7"/><path stroke="#f28f9a" d="M378.7 279.05h27.7"/><path stroke="#f49ea8" d="M378.7 280.35h27.7"/><path stroke="#f3929d" d="M378.7 281.65h27.7"/><path stroke="#f3949f" d="M378.7 282.95h27.7"/><path stroke="#f49aa4" d="M378.7 284.25h27.7"/><path stroke="#f3909b" d="M378.7 285.55h27.7"/><path stroke="#f3949f" d="M378.7 286.85h27.7"/><path stroke="#f3929c" d="M378.7 288.15h27.7"/><path stroke="#f28b96" d="M378.7 289.45h27.7"/><path stroke="#f399a4" d="M378.7 290.75h27.7"/><path stroke="#f49fa8" d="M378.7 292.05h27.7"/><path stroke="#f398a3" d="M378.7 293.35h27.7"/><path stroke="#f3909b" d="M378.7 294.65h27.7"/><path stroke="#f49ba5" d="M378.7 295.95h27.7"/><path stroke="#f49ba5" d="M378.7 297.25h27.7"/><path stroke="#f28b97" stroke-width="0.65" d="M378.7 298.2h27.7"/></g><g stroke-width="1.35"><path stroke="#f49aa4" d="M378.7 299.15h27.7"/><path stroke="#f49fa8" d="M378.7 300.45h27.7"/><path stroke="#f395a0" d="M378.7 301.75h27.7"/><path stroke="#f4a1ab" d="M378.7 303.05h27.7"/><path stroke="#f49aa4" d="M378.7 304.35h27.7"/><path stroke="#f4a4ad" d="M378.7 305.65h27.7"/><path stroke="#f49fa9" d="M378.7 306.95h27.7"/><path stroke="#f397a1" d="M378.7 308.25h27.7"/><path stroke="#f3959f" d="M378.7 309.55h27.7"/><path stroke="#f395a0" d="M378.7 310.85h27.7"/><path stroke="#f4a0aa" d="M378.7 312.15h27.7"/><path stroke="#f49ca6" d="M378.7 313.45h27.7"/><path stroke="#f4a2ab" d="M378.7 314.75h27.7"/><path stroke="#f5a6af" d="M378.7 316.05h27.7"/><path stroke="#f49ea7" d="M378.7 317.35h27.7"/><path stroke="#f396a1" d="M378.7 318.65h27.7"/><path stroke="#f396a0" d="M378.7 319.95h27.7"/><path stroke="#f399a3" d="M378.7 321.25h27.7"/><path stroke="#f3949e" d="M378.7 322.55h27.7"/><path stroke="#f4a3ac" d="M378.7 323.85h27.7"/><path stroke="#f5a5ae" d="M378.7 325.15h27.7"/><path stroke="#f49fa8" d="M378.7 326.45h27.7"/><path stroke="#f4a3ac" d="M378.7 327.75h27.7"/><path stroke="#f4a4ad" d="M378.7 329.05h27.7"/><path stroke="#f4a0a9" d="M378.7 330.35h27.7"/><path stroke="#f49ba5" d="M378.7 331.65h27.7"/><path stroke="#f49ea7" d="M378.7 332.95h27.7"/><path stroke="#f4a2ab" d="M378.7 334.25h27.7"/><path stroke="#f396a1" d="M378.7 335.55h27.7"/><path stroke="#f3939e" d="M378.7 336.85h27.7"/><path stroke="#f49fa8" d="M378.7 338.15h27.7"/><path stroke="#f5a7b0" d="M378.7 339.45h27.7"/><path stroke="#f5a8b1" d="M378.7 340.75h27.7"/><path stroke="#f395a0" d="M378.7 342.05h27.7"/><path stroke="#f5a8b0" d="M378.7 343.35h27.7"/><path stroke="#f399a3" stroke-width="0.25" d="M378.7 344.1h27.7"/></g><g stroke-width="1.65"><path stroke="#f5aeb6" d="M378.7 345h27.7"/><path stroke="#f7c3c9" d="M378.7 346.6h27.7"/><path stroke="#f397a1" d="M378.7 348.2h27.7"/><path stroke="#f9d2d6" d="M378.7 349.8h27.7"/><path stroke="#f7bec4" d="M378.7 351.4h27.7"/><path stroke="#f5acb4" d="M378.7 353h27.7"/><path stroke="#f5a7b0" d="M378.7 354.6h27.7"/><path stroke="#f28f9a" d="M378.7 356.2h27.7"/><path stroke="#f6b6bd" d="M378.7 357.8h27.7"/><path stroke="#f5a8b1" d="M378.7 359.4h27.7"/><path stroke="#f4a1aa" d="M378.7 361h27.7"/><path stroke="#f5aeb6" d="M378.7 362.6h27.7"/><path stroke="#f6afb7" d="M378.7 364.2h27.7"/><path stroke="#f6b9c0" d="M378.7 365.8h27.7"/><path stroke="#f28f9a" d="M378.7 367.4h27.7"/><path stroke="#f4a4ad" d="M378.7 369h27.7"/><path stroke="#f7bac0" d="M378.7 370.6h27.7"/><path stroke="#f5acb4" d="M378.7 372.2h27.7"/><path stroke="#f6b3ba" d="M378.7 373.8h27.7"/><path stroke="#f5a5ae" d="M378.7 375.4h27.7"/><path stroke="#f4a3ac" d="M378.7 377h27.7"/><path stroke="#f8c7cc" d="M378.7 378.6h27.7"/><path stroke="#f6b7be" d="M378.7 380.2h27.7"/><path stroke="#f4a2ac" d="M378.7 381.8h27.7"/><path stroke="#f5aeb6" d="M378.7 383.4h27.7"/><path stroke="#f6b4bc" d="M378.7 385h27.7"/><path stroke="#f5a6af" d="M378.7 386.6h27.7"/><path stroke="#f7bbc2" d="M378.7 388.2h27.7"/><path stroke="#f5aeb6" d="M378.7 389.8h27.7"/><path stroke="#f8cbd0" d="M378.7 391.4h27.7"/><path stroke="#f396a0" d="M378.7 393h27.7"/><path stroke="#f5aab3" d="M378.7 394.6h27.7"/><path stroke="#f6b0b8" d="M378.7 396.2h27.7"/><path stroke="#f4a4ad" d="M378.7 397.8h27.7"/><path stroke="#f5abb3" d="M378.7 399.4h27.7"/><path stroke="#f5a5ae" d="M378.7 401h27.7"/><path stroke="#f5aab3" d="M378.7 402.6h27.7"/><path stroke="#f6b1b9" d="M378.7 404.2h27.7"/><path stroke="#f5a6af" d="M378.7 405.8h27.7"/><path stroke="#f6b9c0" stroke-width="1.65" d="M378.7 407.4h27.7"/></g><rect x="388.55" y="246.8" width="8" height="161.4" fill="#f06070" opacity="0.3"/><rect x="390.55" y="246.8" width="4" height="161.4" fill="#f04050" opacity="0.4"/><rect x="391.55" y="246.8" width="2" height="161.4" fill="#f01822" opacity="0.95"/><g stroke-width="1.75"><path stroke="#f06c71" d="M410 247.65h8.8"/><path stroke="#f07579" d="M410 249.35h8.8"/><path stroke="#f06e73" d="M410 251.05h8.8"/><path stroke="#ee5e64" d="M410 252.75h8.8"/><path stroke="#f1797c" d="M410 254.45h8.8"/><path stroke="#f17a7e" d="M410 256.15h8.8"/><path stroke="#f49b9d" d="M410 257.85h8.8"/><path stroke="#f17b7e" d="M410 259.55h8.8"/><path stroke="#f07075" d="M410 261.25h8.8"/><path stroke="#f17b7f" d="M410 262.95h8.8"/><path stroke="#f38b8d" d="M410 264.65h8.8"/><path stroke="#f17e82" d="M410 266.35h8.8"/><path stroke="#f06c71" d="M410 268.05h8.8"/><path stroke="#ee5c62" d="M410 269.75h8.8"/><path stroke="#f06d71" d="M410 271.45h8.8"/><path stroke="#f06c71" d="M410 273.15h8.8"/><path stroke="#f2898c" d="M410 274.85h8.8"/><path stroke="#f38c8f" d="M410 276.55h8.8"/><path stroke="#f07478" d="M410 278.25h8.8"/><path stroke="#f6aeae" d="M410 279.95h8.8"/><path stroke="#f07479" d="M410 281.65h8.8"/><path stroke="#f28084" d="M410 283.35h8.8"/><path stroke="#f2898c" d="M410 285.05h8.8"/><path stroke="#f2898b" d="M410 286.75h8.8"/><path stroke="#ee6066" d="M410 288.45h8.8"/><path stroke="#f38c8f" d="M410 290.15h8.8"/><path stroke="#f06f74" d="M410 291.85h8.8"/><path stroke="#f17a7e" d="M410 293.55h8.8"/><path stroke="#f17a7e" d="M410 295.25h8.8"/><path stroke="#f28588" d="M410 296.95h8.8"/><path stroke="#ee5c62" d="M410 298.65h8.8"/><path stroke="#f06d71" d="M410 300.35h8.8"/><path stroke="#f28285" d="M410 302.05h8.8"/><path stroke="#f28588" d="M410 303.75h8.8"/><path stroke="#f39193" d="M410 305.45h8.8"/><path stroke="#ef646a" d="M410 307.15h8.8"/><path stroke="#f28a8c" d="M410 308.85h8.8"/><path stroke="#f17e82" d="M410 310.55h8.8"/><path stroke="#f2898b" d="M410 312.25h8.8"/><path stroke="#f4999a" d="M410 313.95h8.8"/><path stroke="#f1797d" d="M410 315.65h8.8"/><path stroke="#f07074" d="M410 317.35h8.8"/><path stroke="#f07478" d="M410 319.05h8.8"/><path stroke="#f28184" d="M410 320.75h8.8"/><path stroke="#f06f74" d="M410 322.45h8.8"/><path stroke="#ee5c62" d="M410 324.15h8.8"/><path stroke="#f6acac" d="M410 325.85h8.8"/><path stroke="#ef6368" d="M410 327.55h8.8"/><path stroke="#f39092" d="M410 329.25h8.8"/><path stroke="#f2888b" d="M410 330.95h8.8"/><path stroke="#ef666c" d="M410 332.65h8.8"/><path stroke="#f17c80" d="M410 334.35h8.8"/><path stroke="#f17e81" d="M410 336.05h8.8"/><path stroke="#f38d8f" d="M410 337.75h8.8"/><path stroke="#ee5c62" d="M410 339.45h8.8"/><path stroke="#f28084" d="M410 341.15h8.8"/><path stroke="#f06c71" d="M410 342.85h8.8"/><path stroke="#f28a8c" d="M410 344.55h8.8"/><path stroke="#ee5d63" d="M410 346.25h8.8"/><path stroke="#ee5c62" d="M410 347.95h8.8"/><path stroke="#f07075" d="M410 349.65h8.8"/><path stroke="#f06c71" d="M410 351.35h8.8"/><path stroke="#f07176" d="M410 353.05h8.8"/><path stroke="#f17f82" d="M410 354.75h8.8"/><path stroke="#f06d72" d="M410 356.45h8.8"/><path stroke="#f07276" d="M410 358.15h8.8"/><path stroke="#f17f82" d="M410 359.85h8.8"/><path stroke="#f38b8d" d="M410 361.55h8.8"/><path stroke="#ee5c62" d="M410 363.25h8.8"/><path stroke="#ef696e" d="M410 364.95h8.8"/><path stroke="#f38b8e" d="M410 366.65h8.8"/><path stroke="#ef6b6f" d="M410 368.35h8.8"/><path stroke="#f28588" d="M410 370.05h8.8"/><path stroke="#ef6368" d="M410 371.75h8.8"/><path stroke="#f1767a" d="M410 373.45h8.8"/><path stroke="#f07276" d="M410 375.15h8.8"/><path stroke="#f38c8f" d="M410 376.85h8.8"/><path stroke="#f07377" d="M410 378.55h8.8"/><path stroke="#f5a3a4" d="M410 380.25h8.8"/><path stroke="#ee5c62" d="M410 381.95h8.8"/><path stroke="#f28487" d="M410 383.65h8.8"/><path stroke="#f1797d" d="M410 385.35h8.8"/><path stroke="#ef6a6f" d="M410 387.05h8.8"/><path stroke="#ef696e" d="M410 388.75h8.8"/><path stroke="#f39496" d="M410 390.45h8.8"/><path stroke="#f17f83" d="M410 392.15h8.8"/><path stroke="#f17f83" d="M410 393.85h8.8"/><path stroke="#f06e73" d="M410 395.55h8.8"/><path stroke="#f1787c" d="M410 397.25h8.8"/><path stroke="#f17b7f" d="M410 398.95h8.8"/><path stroke="#f17f82" d="M410 400.65h8.8"/><path stroke="#f17a7e" d="M410 402.35h8.8"/><path stroke="#f28387" d="M410 404.05h8.8"/><path stroke="#f07579" d="M410 405.75h8.8"/><path stroke="#f38c8f" stroke-width="1.65" d="M410 407.4h8.8"/></g><rect x="423.2" y="246.8" width="8.8" height="161.4" fill="#5a5a5a" /><g stroke-width="1.35"><path stroke="#f7c1c6" d="M436.3 247.45h27.3"/><path stroke="#f7c2c8" d="M436.3 248.75h27.3"/><path stroke="#f7c6cb" d="M436.3 250.05h27.3"/><path stroke="#f7c3c8" d="M436.3 251.35h27.3"/><path stroke="#f6bfc5" d="M436.3 252.65h27.3"/><path stroke="#f6bfc4" d="M436.3 253.95h27.3"/><path stroke="#f6bfc5" d="M436.3 255.25h27.3"/><path stroke="#f7c9cd" d="M436.3 256.55h27.3"/><path stroke="#f6bdc3" d="M436.3 257.85h27.3"/><path stroke="#f7c2c7" d="M436.3 259.15h27.3"/><path stroke="#f6bec4" d="M436.3 260.45h27.3"/><path stroke="#f7c5ca" d="M436.3 261.75h27.3"/><path stroke="#f7c2c7" d="M436.3 263.05h27.3"/><path stroke="#f7c6cb" d="M436.3 264.35h27.3"/><path stroke="#f7c5ca" d="M436.3 265.65h27.3"/><path stroke="#f6c0c5" d="M436.3 266.95h27.3"/><path stroke="#f7c4c9" d="M436.3 268.25h27.3"/><path stroke="#f7c2c8" d="M436.3 269.55h27.3"/><path stroke="#f7c1c7" d="M436.3 270.85h27.3"/><path stroke="#f6bdc3" d="M436.3 272.15h27.3"/><path stroke="#f7c4c9" d="M436.3 273.45h27.3"/><path stroke="#f6bec3" d="M436.3 274.75h27.3"/><path stroke="#f6c0c6" d="M436.3 276.05h27.3"/><path stroke="#f7c4c9" d="M436.3 277.35h27.3"/><path stroke="#f7c1c6" d="M436.3 278.65h27.3"/><path stroke="#f6c0c6" d="M436.3 279.95h27.3"/><path stroke="#f7c5ca" d="M436.3 281.25h27.3"/><path stroke="#f6bdc3" d="M436.3 282.55h27.3"/><path stroke="#f7c8cc" d="M436.3 283.85h27.3"/><path stroke="#f7c6cb" d="M436.3 285.15h27.3"/><path stroke="#f8d0d4" d="M436.3 286.45h27.3"/><path stroke="#f8cbcf" d="M436.3 287.75h27.3"/><path stroke="#f6bdc3" d="M436.3 289.05h27.3"/><path stroke="#f7c4c9" d="M436.3 290.35h27.3"/><path stroke="#f7c2c7" d="M436.3 291.65h27.3"/><path stroke="#f7c3c8" d="M436.3 292.95h27.3"/><path stroke="#f7c5ca" d="M436.3 294.25h27.3"/><path stroke="#f6bfc4" d="M436.3 295.55h27.3"/><path stroke="#f6bec4" d="M436.3 296.85h27.3"/><path stroke="#f6bfc4" d="M436.3 298.15h27.3"/><path stroke="#f6bfc5" d="M436.3 299.45h27.3"/><path stroke="#f7c5ca" d="M436.3 300.75h27.3"/><path stroke="#f6bec4" d="M436.3 302.05h27.3"/><path stroke="#f7c4c9" d="M436.3 303.35h27.3"/><path stroke="#f6bec4" d="M436.3 304.65h27.3"/><path stroke="#f6c0c5" d="M436.3 305.95h27.3"/><path stroke="#f7c2c7" d="M436.3 307.25h27.3"/><path stroke="#f7c1c6" d="M436.3 308.55h27.3"/><path stroke="#f7c1c6" d="M436.3 309.85h27.3"/><path stroke="#f7c2c7" d="M436.3 311.15h27.3"/><path stroke="#f7c6cb" d="M436.3 312.45h27.3"/><path stroke="#f6bdc3" d="M436.3 313.75h27.3"/><path stroke="#f6c0c5" d="M436.3 315.05h27.3"/><path stroke="#f6bfc4" d="M436.3 316.35h27.3"/><path stroke="#f6bec3" d="M436.3 317.65h27.3"/><path stroke="#f6c0c5" d="M436.3 318.95h27.3"/><path stroke="#f6bec3" d="M436.3 320.25h27.3"/><path stroke="#f7c2c7" d="M436.3 321.55h27.3"/><path stroke="#f6bec3" d="M436.3 322.85h27.3"/><path stroke="#f7c4c9" d="M436.3 324.15h27.3"/><path stroke="#f6bdc2" d="M436.3 325.45h27.3"/><path stroke="#f7c4c9" d="M436.3 326.75h27.3"/><path stroke="#f6bfc5" d="M436.3 328.05h27.3"/><path stroke="#f7c6cb" d="M436.3 329.35h27.3"/><path stroke="#f7c6cb" d="M436.3 330.65h27.3"/><path stroke="#f7c1c6" d="M436.3 331.95h27.3"/><path stroke="#f6bfc5" d="M436.3 333.25h27.3"/><path stroke="#f7c3c8" d="M436.3 334.55h27.3"/><path stroke="#f6c1c6" d="M436.3 335.85h27.3"/><path stroke="#f7c6ca" d="M436.3 337.15h27.3"/><path stroke="#f6bec4" d="M436.3 338.45h27.3"/><path stroke="#f8ced2" d="M436.3 339.75h27.3"/><path stroke="#f7c1c6" d="M436.3 341.05h27.3"/><path stroke="#f6c0c5" d="M436.3 342.35h27.3"/><path stroke="#f7c6cb" stroke-width="1.25" d="M436.3 343.6h27.3"/></g><g stroke-width="1.55"><path stroke="#fbe4e7" d="M436.3 344.95h27.3"/><path stroke="#f9d4d7" d="M436.3 346.45h27.3"/><path stroke="#fbe1e4" d="M436.3 347.95h27.3"/><path stroke="#fbe0e3" d="M436.3 349.45h27.3"/><path stroke="#fadbde" d="M436.3 350.95h27.3"/><path stroke="#fbdfe2" d="M436.3 352.45h27.3"/><path stroke="#fadcdf" d="M436.3 353.95h27.3"/><path stroke="#fadee0" d="M436.3 355.45h27.3"/><path stroke="#fad7da" d="M436.3 356.95h27.3"/><path stroke="#fadcdf" d="M436.3 358.45h27.3"/><path stroke="#fadadd" d="M436.3 359.95h27.3"/><path stroke="#fad8db" d="M436.3 361.45h27.3"/><path stroke="#fad9dc" d="M436.3 362.95h27.3"/><path stroke="#fad8dc" d="M436.3 364.45h27.3"/><path stroke="#fad9dc" d="M436.3 365.95h27.3"/><path stroke="#fad7db" d="M436.3 367.45h27.3"/><path stroke="#fadcdf" d="M436.3 368.95h27.3"/><path stroke="#fad9dc" d="M436.3 370.45h27.3"/><path stroke="#fadde0" d="M436.3 371.95h27.3"/><path stroke="#fadadd" d="M436.3 373.45h27.3"/><path stroke="#fadee1" d="M436.3 374.95h27.3"/><path stroke="#fbe0e2" d="M436.3 376.45h27.3"/><path stroke="#fadfe1" d="M436.3 377.95h27.3"/><path stroke="#fbe1e4" d="M436.3 379.45h27.3"/><path stroke="#fbe1e3" d="M436.3 380.95h27.3"/><path stroke="#fad9dc" d="M436.3 382.45h27.3"/><path stroke="#fbe1e4" d="M436.3 383.95h27.3"/><path stroke="#fadbde" d="M436.3 385.45h27.3"/><path stroke="#fcedee" d="M436.3 386.95h27.3"/><path stroke="#fadee1" d="M436.3 388.45h27.3"/><path stroke="#fadbde" d="M436.3 389.95h27.3"/><path stroke="#fadcdf" d="M436.3 391.45h27.3"/><path stroke="#fad8db" d="M436.3 392.95h27.3"/><path stroke="#fad8db" d="M436.3 394.45h27.3"/><path stroke="#fadbde" d="M436.3 395.95h27.3"/><path stroke="#fadcdf" d="M436.3 397.45h27.3"/><path stroke="#fadcdf" d="M436.3 398.95h27.3"/><path stroke="#fad7db" d="M436.3 400.45h27.3"/><path stroke="#fbe5e7" d="M436.3 401.95h27.3"/><path stroke="#fadde0" d="M436.3 403.45h27.3"/><path stroke="#fbe0e3" d="M436.3 404.95h27.3"/><path stroke="#fad7da" d="M436.3 406.45h27.3"/><path stroke="#fad9dc" stroke-width="1.05" d="M436.3 407.7h27.3"/></g><g clip-path="url(#cghm30)"><g filter="url(#blur1)"><path d="M435.3 245.8H464.6V248.3L449.95 262.64L435.3 248.3Z" fill="url(#ghm30w)"/><path d="M440.94 245.8H458.96L450.95 271.88H448.95Z" fill="url(#ghm30)"/></g></g><g clip-path="url(#cghm31)"><g filter="url(#blur1)"><path d="M435.3 297.5H464.6V300L449.95 312.12L435.3 300Z" fill="url(#ghm31w)"/><path d="M440.94 297.5H458.96L450.95 320.06H448.95Z" fill="url(#ghm31)"/></g></g><g stroke-width="1.35"><path stroke="#f7c6cb" d="M467 247.45h27.1"/><path stroke="#f6bec3" d="M467 248.75h27.1"/><path stroke="#f6bec3" d="M467 250.05h27.1"/><path stroke="#f7c4c9" d="M467 251.35h27.1"/><path stroke="#f6bec3" d="M467 252.65h27.1"/><path stroke="#f6bfc4" d="M467 253.95h27.1"/><path stroke="#f6bec3" d="M467 255.25h27.1"/><path stroke="#f7c5ca" d="M467 256.55h27.1"/><path stroke="#f6c0c6" d="M467 257.85h27.1"/><path stroke="#f7c6cb" d="M467 259.15h27.1"/><path stroke="#f7c5ca" d="M467 260.45h27.1"/><path stroke="#f6bdc3" d="M467 261.75h27.1"/><path stroke="#f7c5ca" d="M467 263.05h27.1"/><path stroke="#f6c0c6" d="M467 264.35h27.1"/><path stroke="#f6bec3" d="M467 265.65h27.1"/><path stroke="#f7c6cb" d="M467 266.95h27.1"/><path stroke="#f7c1c6" d="M467 268.25h27.1"/><path stroke="#f7c6cb" d="M467 269.55h27.1"/><path stroke="#f7c5ca" d="M467 270.85h27.1"/><path stroke="#f6bfc4" d="M467 272.15h27.1"/><path stroke="#f7c6cb" d="M467 273.45h27.1"/><path stroke="#f7c2c7" d="M467 274.75h27.1"/><path stroke="#f6bdc3" d="M467 276.05h27.1"/><path stroke="#f7c2c8" d="M467 277.35h27.1"/><path stroke="#f6bdc2" d="M467 278.65h27.1"/><path stroke="#f8d0d4" d="M467 279.95h27.1"/><path stroke="#f7c5ca" d="M467 281.25h27.1"/><path stroke="#f7c2c7" d="M467 282.55h27.1"/><path stroke="#f6bec4" d="M467 283.85h27.1"/><path stroke="#f7c6cb" d="M467 285.15h27.1"/><path stroke="#f6bfc5" d="M467 286.45h27.1"/><path stroke="#f7c1c6" d="M467 287.75h27.1"/><path stroke="#f7c6cb" d="M467 289.05h27.1"/><path stroke="#f6bfc4" d="M467 290.35h27.1"/><path stroke="#f6c0c6" d="M467 291.65h27.1"/><path stroke="#f7c3c8" d="M467 292.95h27.1"/><path stroke="#f7c3c9" d="M467 294.25h27.1"/><path stroke="#f7c3c8" d="M467 295.55h27.1"/><path stroke="#f7c4c9" d="M467 296.85h27.1"/><path stroke="#f6bfc5" d="M467 298.15h27.1"/><path stroke="#f6bdc3" d="M467 299.45h27.1"/><path stroke="#f6bfc5" d="M467 300.75h27.1"/><path stroke="#f7c8cd" d="M467 302.05h27.1"/><path stroke="#f6c0c6" d="M467 303.35h27.1"/><path stroke="#f6c0c6" d="M467 304.65h27.1"/><path stroke="#f6bbc1" d="M467 305.95h27.1"/><path stroke="#f8cacf" d="M467 307.25h27.1"/><path stroke="#f7c6cb" d="M467 308.55h27.1"/><path stroke="#f7c2c7" d="M467 309.85h27.1"/><path stroke="#f7c3c8" d="M467 311.15h27.1"/><path stroke="#f6bdc3" d="M467 312.45h27.1"/><path stroke="#f7c4c9" d="M467 313.75h27.1"/><path stroke="#f6c0c5" d="M467 315.05h27.1"/><path stroke="#f6bdc3" d="M467 316.35h27.1"/><path stroke="#f6bfc5" d="M467 317.65h27.1"/><path stroke="#f7c3c8" d="M467 318.95h27.1"/><path stroke="#f7c4c9" d="M467 320.25h27.1"/><path stroke="#f7c1c7" d="M467 321.55h27.1"/><path stroke="#f7c5ca" d="M467 322.85h27.1"/><path stroke="#f7c2c7" d="M467 324.15h27.1"/><path stroke="#f7c4c9" d="M467 325.45h27.1"/><path stroke="#f7c4c9" d="M467 326.75h27.1"/><path stroke="#f6bfc5" d="M467 328.05h27.1"/><path stroke="#f7c1c6" d="M467 329.35h27.1"/><path stroke="#f7c4c9" d="M467 330.65h27.1"/><path stroke="#f7c1c7" d="M467 331.95h27.1"/><path stroke="#f7c4ca" d="M467 333.25h27.1"/><path stroke="#f6bdc2" d="M467 334.55h27.1"/><path stroke="#f6bdc3" d="M467 335.85h27.1"/><path stroke="#f7c6cb" d="M467 337.15h27.1"/><path stroke="#f6bfc4" d="M467 338.45h27.1"/><path stroke="#f7c2c7" d="M467 339.75h27.1"/><path stroke="#f6b9bf" d="M467 341.05h27.1"/><path stroke="#f7c4c9" d="M467 342.35h27.1"/><path stroke="#f7c2c7" stroke-width="1.25" d="M467 343.6h27.1"/></g><g stroke-width="1.55"><path stroke="#fbdfe2" d="M467 344.95h27.1"/><path stroke="#f9d0d4" d="M467 346.45h27.1"/><path stroke="#fbe0e3" d="M467 347.95h27.1"/><path stroke="#fad8db" d="M467 349.45h27.1"/><path stroke="#fbe0e3" d="M467 350.95h27.1"/><path stroke="#fbe2e4" d="M467 352.45h27.1"/><path stroke="#fadee1" d="M467 353.95h27.1"/><path stroke="#fadee1" d="M467 355.45h27.1"/><path stroke="#fadbde" d="M467 356.95h27.1"/><path stroke="#fadde0" d="M467 358.45h27.1"/><path stroke="#fad9dc" d="M467 359.95h27.1"/><path stroke="#fad7da" d="M467 361.45h27.1"/><path stroke="#fad9dd" d="M467 362.95h27.1"/><path stroke="#fad8db" d="M467 364.45h27.1"/><path stroke="#fadbde" d="M467 365.95h27.1"/><path stroke="#fbe0e3" d="M467 367.45h27.1"/><path stroke="#fbe2e4" d="M467 368.95h27.1"/><path stroke="#fbe1e3" d="M467 370.45h27.1"/><path stroke="#fadee1" d="M467 371.95h27.1"/><path stroke="#fbdfe2" d="M467 373.45h27.1"/><path stroke="#fbe1e4" d="M467 374.95h27.1"/><path stroke="#fadadd" d="M467 376.45h27.1"/><path stroke="#fadde0" d="M467 377.95h27.1"/><path stroke="#fbe1e3" d="M467 379.45h27.1"/><path stroke="#fad8db" d="M467 380.95h27.1"/><path stroke="#fadcdf" d="M467 382.45h27.1"/><path stroke="#fbdfe2" d="M467 383.95h27.1"/><path stroke="#fadde0" d="M467 385.45h27.1"/><path stroke="#fadadd" d="M467 386.95h27.1"/><path stroke="#f9d5d9" d="M467 388.45h27.1"/><path stroke="#fadcdf" d="M467 389.95h27.1"/><path stroke="#fad8db" d="M467 391.45h27.1"/><path stroke="#fbe1e4" d="M467 392.95h27.1"/><path stroke="#fad8db" d="M467 394.45h27.1"/><path stroke="#fadbde" d="M467 395.95h27.1"/><path stroke="#fadfe1" d="M467 397.45h27.1"/><path stroke="#fbe1e4" d="M467 398.95h27.1"/><path stroke="#fadde0" d="M467 400.45h27.1"/><path stroke="#fce9eb" d="M467 401.95h27.1"/><path stroke="#fadcdf" d="M467 403.45h27.1"/><path stroke="#fadfe1" d="M467 404.95h27.1"/><path stroke="#f9d4d8" d="M467 406.45h27.1"/><path stroke="#fad8db" stroke-width="1.05" d="M467 407.7h27.1"/></g><g clip-path="url(#cghm40)"><g filter="url(#blur1)"><path d="M466 245.8H495.1V248.3L480.55 262.64L466 248.3Z" fill="url(#ghm40w)"/><path d="M471.61 245.8H489.49L481.55 271.88H479.55Z" fill="url(#ghm40)"/></g></g><g clip-path="url(#cghm41)"><g filter="url(#blur1)"><path d="M466 297.5H495.1V300L480.55 312.12L466 300Z" fill="url(#ghm41w)"/><path d="M471.61 297.5H489.49L481.55 320.06H479.55Z" fill="url(#ghm41)"/></g></g><g stroke-width="1.35"><path stroke="#f6bfc4" d="M498 247.45h27.3"/><path stroke="#f6bfc5" d="M498 248.75h27.3"/><path stroke="#f7c7cc" d="M498 250.05h27.3"/><path stroke="#f7c5ca" d="M498 251.35h27.3"/><path stroke="#f7c7cc" d="M498 252.65h27.3"/><path stroke="#f7c9ce" d="M498 253.95h27.3"/><path stroke="#f7c6cb" d="M498 255.25h27.3"/><path stroke="#f6bec4" d="M498 256.55h27.3"/><path stroke="#f7c3c8" d="M498 257.85h27.3"/><path stroke="#f6bcc2" d="M498 259.15h27.3"/><path stroke="#f7c3c9" d="M498 260.45h27.3"/><path stroke="#f6bdc3" d="M498 261.75h27.3"/><path stroke="#f7c2c7" d="M498 263.05h27.3"/><path stroke="#f7c4c9" d="M498 264.35h27.3"/><path stroke="#f6bec3" d="M498 265.65h27.3"/><path stroke="#f6bec4" d="M498 266.95h27.3"/><path stroke="#f7c2c7" d="M498 268.25h27.3"/><path stroke="#f6bec3" d="M498 269.55h27.3"/><path stroke="#f7c4c9" d="M498 270.85h27.3"/><path stroke="#f7c5ca" d="M498 272.15h27.3"/><path stroke="#f7c6cb" d="M498 273.45h27.3"/><path stroke="#f6bfc5" d="M498 274.75h27.3"/><path stroke="#f6bec3" d="M498 276.05h27.3"/><path stroke="#f6bfc5" d="M498 277.35h27.3"/><path stroke="#f6c0c5" d="M498 278.65h27.3"/><path stroke="#f8ccd0" d="M498 279.95h27.3"/><path stroke="#f6bec4" d="M498 281.25h27.3"/><path stroke="#f6c0c5" d="M498 282.55h27.3"/><path stroke="#f6bfc5" d="M498 283.85h27.3"/><path stroke="#f7c4c9" d="M498 285.15h27.3"/><path stroke="#f6bfc4" d="M498 286.45h27.3"/><path stroke="#f7c5ca" d="M498 287.75h27.3"/><path stroke="#f6bdc3" d="M498 289.05h27.3"/><path stroke="#f7c5ca" d="M498 290.35h27.3"/><path stroke="#f7c5ca" d="M498 291.65h27.3"/><path stroke="#f8ccd0" d="M498 292.95h27.3"/><path stroke="#f5b7be" d="M498 294.25h27.3"/><path stroke="#f7c1c6" d="M498 295.55h27.3"/><path stroke="#f7c1c6" d="M498 296.85h27.3"/><path stroke="#f6bdc2" d="M498 298.15h27.3"/><path stroke="#f7c5ca" d="M498 299.45h27.3"/><path stroke="#f7c6cb" d="M498 300.75h27.3"/><path stroke="#f7c5ca" d="M498 302.05h27.3"/><path stroke="#f6c0c6" d="M498 303.35h27.3"/><path stroke="#f5b7bd" d="M498 304.65h27.3"/><path stroke="#f6bcc2" d="M498 305.95h27.3"/><path stroke="#f7c3c8" d="M498 307.25h27.3"/><path stroke="#f7c6cb" d="M498 308.55h27.3"/><path stroke="#f6bec4" d="M498 309.85h27.3"/><path stroke="#f6bdc2" d="M498 311.15h27.3"/><path stroke="#f7c1c7" d="M498 312.45h27.3"/><path stroke="#f6bfc4" d="M498 313.75h27.3"/><path stroke="#f7c2c7" d="M498 315.05h27.3"/><path stroke="#f7c1c6" d="M498 316.35h27.3"/><path stroke="#f6bfc5" d="M498 317.65h27.3"/><path stroke="#f7c4c9" d="M498 318.95h27.3"/><path stroke="#f6bec4" d="M498 320.25h27.3"/><path stroke="#f7c4c9" d="M498 321.55h27.3"/><path stroke="#f5b3ba" d="M498 322.85h27.3"/><path stroke="#f6bec3" d="M498 324.15h27.3"/><path stroke="#f6bbc1" d="M498 325.45h27.3"/><path stroke="#f6bec4" d="M498 326.75h27.3"/><path stroke="#f6bfc5" d="M498 328.05h27.3"/><path stroke="#f7c6cb" d="M498 329.35h27.3"/><path stroke="#f7c5ca" d="M498 330.65h27.3"/><path stroke="#f7c1c6" d="M498 331.95h27.3"/><path stroke="#f5b6bd" d="M498 333.25h27.3"/><path stroke="#f7c6cb" d="M498 334.55h27.3"/><path stroke="#f6c0c6" d="M498 335.85h27.3"/><path stroke="#f7c4c9" d="M498 337.15h27.3"/><path stroke="#f7c6ca" d="M498 338.45h27.3"/><path stroke="#f7c5ca" d="M498 339.75h27.3"/><path stroke="#f7c5ca" d="M498 341.05h27.3"/><path stroke="#f6bec4" d="M498 342.35h27.3"/><path stroke="#f7c6cb" stroke-width="1.25" d="M498 343.6h27.3"/></g><g stroke-width="1.55"><path stroke="#fadee1" d="M498 344.95h27.3"/><path stroke="#f8ccd0" d="M498 346.45h27.3"/><path stroke="#fad9dd" d="M498 347.95h27.3"/><path stroke="#fbe0e3" d="M498 349.45h27.3"/><path stroke="#fadcdf" d="M498 350.95h27.3"/><path stroke="#fbe2e4" d="M498 352.45h27.3"/><path stroke="#f9d1d5" d="M498 353.95h27.3"/><path stroke="#fadde0" d="M498 355.45h27.3"/><path stroke="#fad7da" d="M498 356.95h27.3"/><path stroke="#fadadd" d="M498 358.45h27.3"/><path stroke="#fadbde" d="M498 359.95h27.3"/><path stroke="#fbe1e3" d="M498 361.45h27.3"/><path stroke="#fce9ea" d="M498 362.95h27.3"/><path stroke="#fadee1" d="M498 364.45h27.3"/><path stroke="#fad7da" d="M498 365.95h27.3"/><path stroke="#fbe2e4" d="M498 367.45h27.3"/><path stroke="#f9cfd3" d="M498 368.95h27.3"/><path stroke="#fadcdf" d="M498 370.45h27.3"/><path stroke="#fad8db" d="M498 371.95h27.3"/><path stroke="#fbe0e3" d="M498 373.45h27.3"/><path stroke="#fad7db" d="M498 374.95h27.3"/><path stroke="#f9d2d6" d="M498 376.45h27.3"/><path stroke="#fadee1" d="M498 377.95h27.3"/><path stroke="#fadcdf" d="M498 379.45h27.3"/><path stroke="#fbe0e2" d="M498 380.95h27.3"/><path stroke="#fadde0" d="M498 382.45h27.3"/><path stroke="#fadde0" d="M498 383.95h27.3"/><path stroke="#fadadd" d="M498 385.45h27.3"/><path stroke="#fbe0e2" d="M498 386.95h27.3"/><path stroke="#fbe1e4" d="M498 388.45h27.3"/><path stroke="#fadee1" d="M498 389.95h27.3"/><path stroke="#fbe2e4" d="M498 391.45h27.3"/><path stroke="#fbdfe2" d="M498 392.95h27.3"/><path stroke="#fad8db" d="M498 394.45h27.3"/><path stroke="#fbdfe2" d="M498 395.95h27.3"/><path stroke="#fbe0e3" d="M498 397.45h27.3"/><path stroke="#fadee1" d="M498 398.95h27.3"/><path stroke="#fadadd" d="M498 400.45h27.3"/><path stroke="#fbe2e4" d="M498 401.95h27.3"/><path stroke="#f9d2d6" d="M498 403.45h27.3"/><path stroke="#fadee1" d="M498 404.95h27.3"/><path stroke="#f9d1d5" d="M498 406.45h27.3"/><path stroke="#fadbde" stroke-width="1.05" d="M498 407.7h27.3"/></g><g clip-path="url(#cghm50)"><g filter="url(#blur1)"><path d="M497 272.2H526.3V274.7L511.65 288.38L497 274.7Z" fill="url(#ghm50w)"/><path d="M502.64 272.2H520.66L512.65 297.24H510.65Z" fill="url(#ghm50)"/></g></g><g clip-path="url(#cghm51)"><g filter="url(#blur1)"><path d="M497 320.2H526.3V322.7L511.65 335L497 322.7Z" fill="url(#ghm51w)"/><path d="M502.64 320.2H520.66L512.65 343.05H510.65Z" fill="url(#ghm51)"/></g></g><g stroke-width="1.35"><path stroke="#f7c5ca" d="M529 247.45h27.6"/><path stroke="#f7c5ca" d="M529 248.75h27.6"/><path stroke="#f7c2c8" d="M529 250.05h27.6"/><path stroke="#f6c0c5" d="M529 251.35h27.6"/><path stroke="#f7c1c6" d="M529 252.65h27.6"/><path stroke="#f7c2c7" d="M529 253.95h27.6"/><path stroke="#f6bec3" d="M529 255.25h27.6"/><path stroke="#f7c1c6" d="M529 256.55h27.6"/><path stroke="#f7c5ca" d="M529 257.85h27.6"/><path stroke="#f7c3c8" d="M529 259.15h27.6"/><path stroke="#f7c3c8" d="M529 260.45h27.6"/><path stroke="#f7c5ca" d="M529 261.75h27.6"/><path stroke="#f6bfc5" d="M529 263.05h27.6"/><path stroke="#f7c6cb" d="M529 264.35h27.6"/><path stroke="#f6bfc5" d="M529 265.65h27.6"/><path stroke="#f7c6cb" d="M529 266.95h27.6"/><path stroke="#f7c1c6" d="M529 268.25h27.6"/><path stroke="#f7c5ca" d="M529 269.55h27.6"/><path stroke="#f7c3c8" d="M529 270.85h27.6"/><path stroke="#f7c4c9" d="M529 272.15h27.6"/><path stroke="#f7c5ca" d="M529 273.45h27.6"/><path stroke="#f7c2c7" d="M529 274.75h27.6"/><path stroke="#f7c4c9" d="M529 276.05h27.6"/><path stroke="#f7c4c9" d="M529 277.35h27.6"/><path stroke="#f7c4c9" d="M529 278.65h27.6"/><path stroke="#f7c3c8" d="M529 279.95h27.6"/><path stroke="#f7c1c7" d="M529 281.25h27.6"/><path stroke="#f6bec3" d="M529 282.55h27.6"/><path stroke="#f7c2c7" d="M529 283.85h27.6"/><path stroke="#f6bec4" d="M529 285.15h27.6"/><path stroke="#f6bdc3" d="M529 286.45h27.6"/><path stroke="#f7c5ca" d="M529 287.75h27.6"/><path stroke="#f6bdc3" d="M529 289.05h27.6"/><path stroke="#f7c3c8" d="M529 290.35h27.6"/><path stroke="#f7c3c9" d="M529 291.65h27.6"/><path stroke="#f7c8cc" d="M529 292.95h27.6"/><path stroke="#f7c3c8" d="M529 294.25h27.6"/><path stroke="#f7c1c6" d="M529 295.55h27.6"/><path stroke="#f6c0c5" d="M529 296.85h27.6"/><path stroke="#f7c2c7" d="M529 298.15h27.6"/><path stroke="#f6bdc3" d="M529 299.45h27.6"/><path stroke="#f7c1c6" d="M529 300.75h27.6"/><path stroke="#f6bfc4" d="M529 302.05h27.6"/><path stroke="#f6c0c6" d="M529 303.35h27.6"/><path stroke="#f7c2c8" d="M529 304.65h27.6"/><path stroke="#f6bec4" d="M529 305.95h27.6"/><path stroke="#f7c3c8" d="M529 307.25h27.6"/><path stroke="#f7c6cb" d="M529 308.55h27.6"/><path stroke="#f7c1c7" d="M529 309.85h27.6"/><path stroke="#f7c3c8" d="M529 311.15h27.6"/><path stroke="#f7c5ca" d="M529 312.45h27.6"/><path stroke="#f7c4c9" d="M529 313.75h27.6"/><path stroke="#f6bac0" d="M529 315.05h27.6"/><path stroke="#f7c6cb" d="M529 316.35h27.6"/><path stroke="#f6bec4" d="M529 317.65h27.6"/><path stroke="#f7c6cb" d="M529 318.95h27.6"/><path stroke="#f6bec3" d="M529 320.25h27.6"/><path stroke="#f6bfc4" d="M529 321.55h27.6"/><path stroke="#f8cfd3" d="M529 322.85h27.6"/><path stroke="#f6c0c5" d="M529 324.15h27.6"/><path stroke="#f6bdc3" d="M529 325.45h27.6"/><path stroke="#f7c5ca" d="M529 326.75h27.6"/><path stroke="#f7c2c7" d="M529 328.05h27.6"/><path stroke="#f7c3c8" d="M529 329.35h27.6"/><path stroke="#f6bfc5" d="M529 330.65h27.6"/><path stroke="#f7c4c9" d="M529 331.95h27.6"/><path stroke="#f7c3c8" d="M529 333.25h27.6"/><path stroke="#f7c1c7" d="M529 334.55h27.6"/><path stroke="#f8d0d4" d="M529 335.85h27.6"/><path stroke="#f6bec3" d="M529 337.15h27.6"/><path stroke="#f6bec4" d="M529 338.45h27.6"/><path stroke="#f5b6bc" d="M529 339.75h27.6"/><path stroke="#f5b4bb" d="M529 341.05h27.6"/><path stroke="#f7c3c8" d="M529 342.35h27.6"/><path stroke="#f6c0c5" stroke-width="1.25" d="M529 343.6h27.6"/></g><g stroke-width="1.55"><path stroke="#fadbde" d="M529 344.95h27.6"/><path stroke="#fadadd" d="M529 346.45h27.6"/><path stroke="#fad8dc" d="M529 347.95h27.6"/><path stroke="#fadcdf" d="M529 349.45h27.6"/><path stroke="#fad7da" d="M529 350.95h27.6"/><path stroke="#fbe1e3" d="M529 352.45h27.6"/><path stroke="#fbdfe2" d="M529 353.95h27.6"/><path stroke="#fbe0e2" d="M529 355.45h27.6"/><path stroke="#fadfe1" d="M529 356.95h27.6"/><path stroke="#fad7da" d="M529 358.45h27.6"/><path stroke="#fadadd" d="M529 359.95h27.6"/><path stroke="#fad7db" d="M529 361.45h27.6"/><path stroke="#fbdfe2" d="M529 362.95h27.6"/><path stroke="#fadade" d="M529 364.45h27.6"/><path stroke="#fadadd" d="M529 365.95h27.6"/><path stroke="#fbe0e3" d="M529 367.45h27.6"/><path stroke="#fad8db" d="M529 368.95h27.6"/><path stroke="#fadee1" d="M529 370.45h27.6"/><path stroke="#fad9dc" d="M529 371.95h27.6"/><path stroke="#fad8db" d="M529 373.45h27.6"/><path stroke="#fad8dc" d="M529 374.95h27.6"/><path stroke="#fbe1e4" d="M529 376.45h27.6"/><path stroke="#fad8db" d="M529 377.95h27.6"/><path stroke="#fbdfe2" d="M529 379.45h27.6"/><path stroke="#fadde0" d="M529 380.95h27.6"/><path stroke="#fadbde" d="M529 382.45h27.6"/><path stroke="#fbe0e2" d="M529 383.95h27.6"/><path stroke="#fad8db" d="M529 385.45h27.6"/><path stroke="#fad9dc" d="M529 386.95h27.6"/><path stroke="#fad8db" d="M529 388.45h27.6"/><path stroke="#fadde0" d="M529 389.95h27.6"/><path stroke="#fad8db" d="M529 391.45h27.6"/><path stroke="#fadcdf" d="M529 392.95h27.6"/><path stroke="#fadde0" d="M529 394.45h27.6"/><path stroke="#fbe1e4" d="M529 395.95h27.6"/><path stroke="#fadcdf" d="M529 397.45h27.6"/><path stroke="#f9d5d9" d="M529 398.95h27.6"/><path stroke="#f9cfd3" d="M529 400.45h27.6"/><path stroke="#fadddf" d="M529 401.95h27.6"/><path stroke="#fbe0e2" d="M529 403.45h27.6"/><path stroke="#fadcdf" d="M529 404.95h27.6"/><path stroke="#fad9dc" d="M529 406.45h27.6"/><path stroke="#fbe1e4" stroke-width="1.05" d="M529 407.7h27.6"/></g><g clip-path="url(#cghm60)"><g filter="url(#blur1)"><path d="M528 272.2H557.6V274.7L542.8 288.38L528 274.7Z" fill="url(#ghm60w)"/><path d="M533.69 272.2H551.91L543.8 297.24H541.8Z" fill="url(#ghm60)"/></g></g><g clip-path="url(#cghm61)"><g filter="url(#blur1)"><path d="M528 320.2H557.6V322.7L542.8 335L528 322.7Z" fill="url(#ghm61w)"/><path d="M533.69 320.2H551.91L543.8 343.05H541.8Z" fill="url(#ghm61)"/></g></g><g stroke-width="1.75"><path stroke="#f3958d" d="M560.2 247.65h9.5"/><path stroke="#f4a49b" d="M560.2 249.35h9.5"/><path stroke="#f28d86" d="M560.2 251.05h9.5"/><path stroke="#f49e95" d="M560.2 252.75h9.5"/><path stroke="#f7baaf" d="M560.2 254.45h9.5"/><path stroke="#f28a83" d="M560.2 256.15h9.5"/><path stroke="#f3958d" d="M560.2 257.85h9.5"/><path stroke="#f6aea4" d="M560.2 259.55h9.5"/><path stroke="#f5ada3" d="M560.2 261.25h9.5"/><path stroke="#ee6a66" d="M560.2 262.95h9.5"/><path stroke="#f6afa5" d="M560.2 264.65h9.5"/><path stroke="#f28f88" d="M560.2 266.35h9.5"/><path stroke="#f2928b" d="M560.2 268.05h9.5"/><path stroke="#f28f88" d="M560.2 269.75h9.5"/><path stroke="#f29189" d="M560.2 271.45h9.5"/><path stroke="#f5aba2" d="M560.2 273.15h9.5"/><path stroke="#f49f97" d="M560.2 274.85h9.5"/><path stroke="#f5a59c" d="M560.2 276.55h9.5"/><path stroke="#f6aea4" d="M560.2 278.25h9.5"/><path stroke="#f5a69d" d="M560.2 279.95h9.5"/><path stroke="#f4a198" d="M560.2 281.65h9.5"/><path stroke="#f28f88" d="M560.2 283.35h9.5"/><path stroke="#f3968e" d="M560.2 285.05h9.5"/><path stroke="#f4a49b" d="M560.2 286.75h9.5"/><path stroke="#f07b75" d="M560.2 288.45h9.5"/><path stroke="#f8c4b8" d="M560.2 290.15h9.5"/><path stroke="#f2928a" d="M560.2 291.85h9.5"/><path stroke="#f7bcb1" d="M560.2 293.55h9.5"/><path stroke="#f5a9a0" d="M560.2 295.25h9.5"/><path stroke="#f0807a" d="M560.2 296.95h9.5"/><path stroke="#f39b93" stroke-width="0.75" d="M560.2 298.15h9.5"/></g><g stroke-width="1.75"><path stroke="#f9e9dd" d="M560.2 299.35h9.5"/><path stroke="#f6e0d4" d="M560.2 301.05h9.5"/><path stroke="#f7e1d5" d="M560.2 302.75h9.5"/><path stroke="#f4d8cc" d="M560.2 304.45h9.5"/><path stroke="#f8e7db" d="M560.2 306.15h9.5"/><path stroke="#f9eade" d="M560.2 307.85h9.5"/><path stroke="#f4d8cc" d="M560.2 309.55h9.5"/><path stroke="#faede1" d="M560.2 311.25h9.5"/><path stroke="#f6e0d4" d="M560.2 312.95h9.5"/><path stroke="#f7e2d6" d="M560.2 314.65h9.5"/><path stroke="#faede1" d="M560.2 316.35h9.5"/><path stroke="#f8e4d8" d="M560.2 318.05h9.5"/><path stroke="#faede1" d="M560.2 319.75h9.5"/><path stroke="#f9e9dd" d="M560.2 321.45h9.5"/><path stroke="#f7e3d7" d="M560.2 323.15h9.5"/><path stroke="#f6e0d4" d="M560.2 324.85h9.5"/><path stroke="#faece0" d="M560.2 326.55h9.5"/><path stroke="#f7e3d7" d="M560.2 328.25h9.5"/><path stroke="#f8e7db" d="M560.2 329.95h9.5"/><path stroke="#f8e6da" d="M560.2 331.65h9.5"/><path stroke="#fbf0e4" d="M560.2 333.35h9.5"/><path stroke="#f8e6da" d="M560.2 335.05h9.5"/><path stroke="#fbf0e4" d="M560.2 336.75h9.5"/><path stroke="#f4d8cc" d="M560.2 338.45h9.5"/><path stroke="#f9e9dd" d="M560.2 340.15h9.5"/><path stroke="#f4d8cc" d="M560.2 341.85h9.5"/><path stroke="#f6dfd3" stroke-width="1.55" d="M560.2 343.45h9.5"/></g><rect x="560.2" y="344.2" width="9.5" height="64" fill="#fdfdea" /><rect x="573.7" y="246.8" width="9.2" height="51.7" fill="#5a5a5a" /><rect x="573.7" y="298.5" width="9.2" height="45.7" fill="#9a9a9a" /><rect x="573.7" y="344.2" width="9.2" height="64" fill="#fdfdea" /><g stroke-width="1.55"><path stroke="#f7c8cc" d="M586.7 247.55h27"/><path stroke="#fbe2e4" d="M586.7 249.05h27"/><path stroke="#f9d6d9" d="M586.7 250.55h27"/><path stroke="#fdf1f2" d="M586.7 252.05h27"/><path stroke="#fadcdf" d="M586.7 253.55h27"/><path stroke="#fbe3e5" d="M586.7 255.05h27"/><path stroke="#f9d9dc" d="M586.7 256.55h27"/><path stroke="#f9d8db" d="M586.7 258.05h27"/><path stroke="#fadcdf" d="M586.7 259.55h27"/><path stroke="#fbe1e3" d="M586.7 261.05h27"/><path stroke="#f7cbcf" d="M586.7 262.55h27"/><path stroke="#f9d8db" d="M586.7 264.05h27"/><path stroke="#fae0e3" d="M586.7 265.55h27"/><path stroke="#f9d7da" d="M586.7 267.05h27"/><path stroke="#fadcde" d="M586.7 268.55h27"/><path stroke="#f9d8db" d="M586.7 270.05h27"/><path stroke="#fcedef" d="M586.7 271.55h27"/><path stroke="#f9d6d9" d="M586.7 273.05h27"/><path stroke="#fae0e3" d="M586.7 274.55h27"/><path stroke="#fadee0" d="M586.7 276.05h27"/><path stroke="#fbe3e5" d="M586.7 277.55h27"/><path stroke="#fadde0" d="M586.7 279.05h27"/><path stroke="#fbe2e5" d="M586.7 280.55h27"/><path stroke="#fadcdf" d="M586.7 282.05h27"/><path stroke="#f9d5d9" d="M586.7 283.55h27"/><path stroke="#fadbde" d="M586.7 285.05h27"/><path stroke="#fadee1" d="M586.7 286.55h27"/><path stroke="#f9d9dc" d="M586.7 288.05h27"/><path stroke="#f9d6d9" d="M586.7 289.55h27"/><path stroke="#fae1e3" d="M586.7 291.05h27"/><path stroke="#f9d8db" d="M586.7 292.55h27"/><path stroke="#f8ccd0" d="M586.7 294.05h27"/><path stroke="#fbe2e4" d="M586.7 295.55h27"/><path stroke="#fadbde" d="M586.7 297.05h27"/><path stroke="#fbe1e3" d="M586.7 298.55h27"/><path stroke="#f9d9dc" d="M586.7 300.05h27"/><path stroke="#fadee1" d="M586.7 301.55h27"/><path stroke="#f8cfd3" d="M586.7 303.05h27"/><path stroke="#fadde0" d="M586.7 304.55h27"/><path stroke="#fadee0" d="M586.7 306.05h27"/><path stroke="#fadcdf" d="M586.7 307.55h27"/><path stroke="#fadfe1" d="M586.7 309.05h27"/><path stroke="#fae0e3" d="M586.7 310.55h27"/><path stroke="#fae0e2" d="M586.7 312.05h27"/><path stroke="#fadfe2" d="M586.7 313.55h27"/><path stroke="#f9dadd" d="M586.7 315.05h27"/><path stroke="#f9d6d9" d="M586.7 316.55h27"/><path stroke="#f9d9dc" d="M586.7 318.05h27"/><path stroke="#f8ced2" d="M586.7 319.55h27"/><path stroke="#fadfe1" d="M586.7 321.05h27"/><path stroke="#fadadd" d="M586.7 322.55h27"/><path stroke="#fce9eb" d="M586.7 324.05h27"/><path stroke="#fbe4e6" d="M586.7 325.55h27"/><path stroke="#fadbde" d="M586.7 327.05h27"/><path stroke="#fadee1" d="M586.7 328.55h27"/><path stroke="#fbe2e4" d="M586.7 330.05h27"/><path stroke="#fbe7e9" d="M586.7 331.55h27"/><path stroke="#fadde0" d="M586.7 333.05h27"/><path stroke="#fbe7e9" d="M586.7 334.55h27"/><path stroke="#f9d9dc" d="M586.7 336.05h27"/><path stroke="#fadfe1" d="M586.7 337.55h27"/><path stroke="#fbe4e7" d="M586.7 339.05h27"/><path stroke="#fadddf" d="M586.7 340.55h27"/><path stroke="#fadde0" d="M586.7 342.05h27"/><path stroke="#f9dadd" d="M586.7 343.55h27"/><path stroke="#f9d5d9" d="M586.7 345.05h27"/><path stroke="#f9d5d8" d="M586.7 346.55h27"/><path stroke="#f9d7db" d="M586.7 348.05h27"/><path stroke="#f9d9dc" d="M586.7 349.55h27"/><path stroke="#fbe3e5" d="M586.7 351.05h27"/><path stroke="#fadee0" d="M586.7 352.55h27"/><path stroke="#fae0e3" d="M586.7 354.05h27"/><path stroke="#fae1e3" d="M586.7 355.55h27"/><path stroke="#fbe2e4" d="M586.7 357.05h27"/><path stroke="#fbe8e9" d="M586.7 358.55h27"/><path stroke="#f9d5d9" d="M586.7 360.05h27"/><path stroke="#f9d8db" d="M586.7 361.55h27"/><path stroke="#f9dadd" d="M586.7 363.05h27"/><path stroke="#fadddf" d="M586.7 364.55h27"/><path stroke="#fadde0" d="M586.7 366.05h27"/><path stroke="#fadee1" d="M586.7 367.55h27"/><path stroke="#f9d7db" d="M586.7 369.05h27"/><path stroke="#fbe2e4" d="M586.7 370.55h27"/><path stroke="#fadbde" d="M586.7 372.05h27"/><path stroke="#fbe7e9" d="M586.7 373.55h27"/><path stroke="#fbe3e5" d="M586.7 375.05h27"/><path stroke="#f9dadd" d="M586.7 376.55h27"/><path stroke="#fadfe2" d="M586.7 378.05h27"/><path stroke="#fae0e3" d="M586.7 379.55h27"/><path stroke="#fadde0" d="M586.7 381.05h27"/><path stroke="#fadbde" d="M586.7 382.55h27"/><path stroke="#fdf1f2" d="M586.7 384.05h27"/><path stroke="#f9d8db" d="M586.7 385.55h27"/><path stroke="#fbe2e4" d="M586.7 387.05h27"/><path stroke="#fbe1e4" d="M586.7 388.55h27"/><path stroke="#f9d5d9" d="M586.7 390.05h27"/><path stroke="#fbe2e4" d="M586.7 391.55h27"/><path stroke="#fae0e3" d="M586.7 393.05h27"/><path stroke="#fbe2e4" d="M586.7 394.55h27"/><path stroke="#fadee1" d="M586.7 396.05h27"/><path stroke="#fadbdd" d="M586.7 397.55h27"/><path stroke="#fadcdf" d="M586.7 399.05h27"/><path stroke="#fadcde" d="M586.7 400.55h27"/><path stroke="#f9d8db" d="M586.7 402.05h27"/><path stroke="#fadfe2" d="M586.7 403.55h27"/><path stroke="#fadcdf" d="M586.7 405.05h27"/><path stroke="#fadee0" d="M586.7 406.55h27"/><path stroke="#fae1e3" stroke-width="0.95" d="M586.7 407.75h27"/></g><rect x="599.55" y="246.8" width="1.3" height="161.4" fill="#ee1f2c" opacity="0.7"/><g stroke-width="1.55"><path stroke="#fceaec" d="M618 247.55h27.6"/><path stroke="#fadee0" d="M618 249.05h27.6"/><path stroke="#f9d9dc" d="M618 250.55h27.6"/><path stroke="#fadee1" d="M618 252.05h27.6"/><path stroke="#fadddf" d="M618 253.55h27.6"/><path stroke="#fadde0" d="M618 255.05h27.6"/><path stroke="#fbe3e5" d="M618 256.55h27.6"/><path stroke="#fbe3e5" d="M618 258.05h27.6"/><path stroke="#fadcde" d="M618 259.55h27.6"/><path stroke="#f8d2d5" d="M618 261.05h27.6"/><path stroke="#fbe3e5" d="M618 262.55h27.6"/><path stroke="#f9d6d9" d="M618 264.05h27.6"/><path stroke="#fadcdf" d="M618 265.55h27.6"/><path stroke="#fadee1" d="M618 267.05h27.6"/><path stroke="#fbe2e4" d="M618 268.55h27.6"/><path stroke="#fadee1" d="M618 270.05h27.6"/><path stroke="#f9d5d9" d="M618 271.55h27.6"/><path stroke="#f9d7da" d="M618 273.05h27.6"/><path stroke="#fbe7e9" d="M618 274.55h27.6"/><path stroke="#fadcdf" d="M618 276.05h27.6"/><path stroke="#fbe7e9" d="M618 277.55h27.6"/><path stroke="#fae1e3" d="M618 279.05h27.6"/><path stroke="#f9d8db" d="M618 280.55h27.6"/><path stroke="#fadadd" d="M618 282.05h27.6"/><path stroke="#fbe2e5" d="M618 283.55h27.6"/><path stroke="#fbe2e5" d="M618 285.05h27.6"/><path stroke="#fae0e3" d="M618 286.55h27.6"/><path stroke="#fdf2f3" d="M618 288.05h27.6"/><path stroke="#f9d8db" d="M618 289.55h27.6"/><path stroke="#fbe3e5" d="M618 291.05h27.6"/><path stroke="#fbe3e5" d="M618 292.55h27.6"/><path stroke="#fadcde" d="M618 294.05h27.6"/><path stroke="#fce9eb" d="M618 295.55h27.6"/><path stroke="#f8ccd0" d="M618 297.05h27.6"/><path stroke="#fadee0" d="M618 298.55h27.6"/><path stroke="#f9d5d8" d="M618 300.05h27.6"/><path stroke="#fbe3e5" d="M618 301.55h27.6"/><path stroke="#fadde0" d="M618 303.05h27.6"/><path stroke="#fadee1" d="M618 304.55h27.6"/><path stroke="#f8ced2" d="M618 306.05h27.6"/><path stroke="#f9d6da" d="M618 307.55h27.6"/><path stroke="#f9d7da" d="M618 309.05h27.6"/><path stroke="#fadee1" d="M618 310.55h27.6"/><path stroke="#f9d9dc" d="M618 312.05h27.6"/><path stroke="#fadee0" d="M618 313.55h27.6"/><path stroke="#fce9eb" d="M618 315.05h27.6"/><path stroke="#fbe2e5" d="M618 316.55h27.6"/><path stroke="#fbe2e4" d="M618 318.05h27.6"/><path stroke="#fbe1e4" d="M618 319.55h27.6"/><path stroke="#fadee0" d="M618 321.05h27.6"/><path stroke="#f9d6d9" d="M618 322.55h27.6"/><path stroke="#f9d9dc" d="M618 324.05h27.6"/><path stroke="#fadde0" d="M618 325.55h27.6"/><path stroke="#fadcdf" d="M618 327.05h27.6"/><path stroke="#fadcde" d="M618 328.55h27.6"/><path stroke="#f9d8db" d="M618 330.05h27.6"/><path stroke="#fbe4e6" d="M618 331.55h27.6"/><path stroke="#fadadd" d="M618 333.05h27.6"/><path stroke="#f9d8db" d="M618 334.55h27.6"/><path stroke="#fadde0" d="M618 336.05h27.6"/><path stroke="#fadde0" d="M618 337.55h27.6"/><path stroke="#fbe2e4" d="M618 339.05h27.6"/><path stroke="#f8cfd3" d="M618 340.55h27.6"/><path stroke="#fae0e3" d="M618 342.05h27.6"/><path stroke="#f9d9dc" d="M618 343.55h27.6"/><path stroke="#f8d1d5" d="M618 345.05h27.6"/><path stroke="#fadee1" d="M618 346.55h27.6"/><path stroke="#fadde0" d="M618 348.05h27.6"/><path stroke="#fadbde" d="M618 349.55h27.6"/><path stroke="#f9d6d9" d="M618 351.05h27.6"/><path stroke="#fadcdf" d="M618 352.55h27.6"/><path stroke="#f7cace" d="M618 354.05h27.6"/><path stroke="#fadcdf" d="M618 355.55h27.6"/><path stroke="#f9d5d8" d="M618 357.05h27.6"/><path stroke="#fbe1e4" d="M618 358.55h27.6"/><path stroke="#fadcdf" d="M618 360.05h27.6"/><path stroke="#f9d5d9" d="M618 361.55h27.6"/><path stroke="#fadfe2" d="M618 363.05h27.6"/><path stroke="#fbe1e4" d="M618 364.55h27.6"/><path stroke="#f9d7da" d="M618 366.05h27.6"/><path stroke="#fadfe1" d="M618 367.55h27.6"/><path stroke="#fbe1e3" d="M618 369.05h27.6"/><path stroke="#f9d5d8" d="M618 370.55h27.6"/><path stroke="#f8d0d4" d="M618 372.05h27.6"/><path stroke="#fadbde" d="M618 373.55h27.6"/><path stroke="#f7c6cb" d="M618 375.05h27.6"/><path stroke="#fbe3e6" d="M618 376.55h27.6"/><path stroke="#fae0e2" d="M618 378.05h27.6"/><path stroke="#f8d1d5" d="M618 379.55h27.6"/><path stroke="#f9d4d7" d="M618 381.05h27.6"/><path stroke="#f9d6d9" d="M618 382.55h27.6"/><path stroke="#fadee1" d="M618 384.05h27.6"/><path stroke="#fcebec" d="M618 385.55h27.6"/><path stroke="#fadcde" d="M618 387.05h27.6"/><path stroke="#fadcdf" d="M618 388.55h27.6"/><path stroke="#f9d6d9" d="M618 390.05h27.6"/><path stroke="#f8d1d5" d="M618 391.55h27.6"/><path stroke="#fadadd" d="M618 393.05h27.6"/><path stroke="#fadddf" d="M618 394.55h27.6"/><path stroke="#fadfe1" d="M618 396.05h27.6"/><path stroke="#fadadd" d="M618 397.55h27.6"/><path stroke="#f9d9dc" d="M618 399.05h27.6"/><path stroke="#fbe3e5" d="M618 400.55h27.6"/><path stroke="#fadbde" d="M618 402.05h27.6"/><path stroke="#f9d9dc" d="M618 403.55h27.6"/><path stroke="#fbe4e6" d="M618 405.05h27.6"/><path stroke="#f9d5d9" d="M618 406.55h27.6"/><path stroke="#fadee1" stroke-width="0.95" d="M618 407.75h27.6"/></g><rect x="630.9" y="246.8" width="1.8" height="161.4" fill="#ee1f2c" opacity="0.95"/><rect x="347.3" y="246.8" width="27.9" height="161.4" filter="url(#speck)" opacity="0.42"/><rect x="378.7" y="246.8" width="27.7" height="161.4" filter="url(#speck)" opacity="0.42"/><rect x="436.3" y="246.8" width="27.3" height="161.4" filter="url(#speck)" opacity="0.42"/><rect x="467" y="246.8" width="27.1" height="161.4" filter="url(#speck)" opacity="0.42"/><rect x="498" y="246.8" width="27.3" height="161.4" filter="url(#speck)" opacity="0.42"/><rect x="529" y="246.8" width="27.6" height="161.4" filter="url(#speck)" opacity="0.42"/><rect x="586.7" y="246.8" width="27" height="161.4" filter="url(#speck)" opacity="0.42"/><rect x="618" y="246.8" width="27.6" height="161.4" filter="url(#speck)" opacity="0.42"/><rect x="347.3" y="246.8" width="27.9" height="161.4" fill="none" stroke="#b4b4b4" stroke-width="0.8"/><rect x="378.7" y="246.8" width="27.7" height="161.4" fill="none" stroke="#b4b4b4" stroke-width="0.8"/><rect x="436.3" y="246.8" width="27.3" height="161.4" fill="none" stroke="#b4b4b4" stroke-width="0.8"/><rect x="467" y="246.8" width="27.1" height="161.4" fill="none" stroke="#b4b4b4" stroke-width="0.8"/><rect x="498" y="246.8" width="27.3" height="161.4" fill="none" stroke="#b4b4b4" stroke-width="0.8"/><rect x="529" y="246.8" width="27.6" height="161.4" fill="none" stroke="#b4b4b4" stroke-width="0.8"/><rect x="586.7" y="246.8" width="27" height="161.4" fill="none" stroke="#b4b4b4" stroke-width="0.8"/><rect x="618" y="246.8" width="27.6" height="161.4" fill="none" stroke="#b4b4b4" stroke-width="0.8"/><line x1="347" y1="298.5" x2="646" y2="298.5" stroke="#333" stroke-width="0.9" stroke-dasharray="3 2"/><line x1="347" y1="344.2" x2="646" y2="344.2" stroke="#333" stroke-width="0.9" stroke-dasharray="3 2"/><line x1="436.3" y1="408.8" x2="463.6" y2="408.8" stroke="#888" stroke-width="0.8" /><line x1="436.3" y1="408.8" x2="436.3" y2="410.5" stroke="#888" stroke-width="0.6" /><line x1="443.12" y1="408.8" x2="443.12" y2="410.5" stroke="#888" stroke-width="0.6" /><line x1="449.95" y1="408.8" x2="449.95" y2="410.5" stroke="#888" stroke-width="0.6" /><line x1="456.78" y1="408.8" x2="456.78" y2="410.5" stroke="#888" stroke-width="0.6" /><line x1="463.6" y1="408.8" x2="463.6" y2="410.5" stroke="#888" stroke-width="0.6" /><line x1="467" y1="408.8" x2="494.1" y2="408.8" stroke="#888" stroke-width="0.8" /><line x1="467" y1="408.8" x2="467" y2="410.5" stroke="#888" stroke-width="0.6" /><line x1="473.77" y1="408.8" x2="473.77" y2="410.5" stroke="#888" stroke-width="0.6" /><line x1="480.55" y1="408.8" x2="480.55" y2="410.5" stroke="#888" stroke-width="0.6" /><line x1="487.33" y1="408.8" x2="487.33" y2="410.5" stroke="#888" stroke-width="0.6" /><line x1="494.1" y1="408.8" x2="494.1" y2="410.5" stroke="#888" stroke-width="0.6" /><line x1="498" y1="408.8" x2="525.3" y2="408.8" stroke="#888" stroke-width="0.8" /><line x1="498" y1="408.8" x2="498" y2="410.5" stroke="#888" stroke-width="0.6" /><line x1="504.82" y1="408.8" x2="504.82" y2="410.5" stroke="#888" stroke-width="0.6" /><line x1="511.65" y1="408.8" x2="511.65" y2="410.5" stroke="#888" stroke-width="0.6" /><line x1="518.47" y1="408.8" x2="518.47" y2="410.5" stroke="#888" stroke-width="0.6" /><line x1="525.3" y1="408.8" x2="525.3" y2="410.5" stroke="#888" stroke-width="0.6" /><line x1="529" y1="408.8" x2="556.6" y2="408.8" stroke="#888" stroke-width="0.8" /><line x1="529" y1="408.8" x2="529" y2="410.5" stroke="#888" stroke-width="0.6" /><line x1="535.9" y1="408.8" x2="535.9" y2="410.5" stroke="#888" stroke-width="0.6" /><line x1="542.8" y1="408.8" x2="542.8" y2="410.5" stroke="#888" stroke-width="0.6" /><line x1="549.7" y1="408.8" x2="549.7" y2="410.5" stroke="#888" stroke-width="0.6" /><line x1="556.6" y1="408.8" x2="556.6" y2="410.5" stroke="#888" stroke-width="0.6" /><line x1="586.7" y1="408.8" x2="613.7" y2="408.8" stroke="#888" stroke-width="0.8" /><line x1="586.7" y1="408.8" x2="586.7" y2="410.5" stroke="#888" stroke-width="0.6" /><line x1="593.45" y1="408.8" x2="593.45" y2="410.5" stroke="#888" stroke-width="0.6" /><line x1="600.2" y1="408.8" x2="600.2" y2="410.5" stroke="#888" stroke-width="0.6" /><line x1="606.95" y1="408.8" x2="606.95" y2="410.5" stroke="#888" stroke-width="0.6" /><line x1="613.7" y1="408.8" x2="613.7" y2="410.5" stroke="#888" stroke-width="0.6" /><line x1="618" y1="408.8" x2="645.6" y2="408.8" stroke="#888" stroke-width="0.8" /><line x1="618" y1="408.8" x2="618" y2="410.5" stroke="#888" stroke-width="0.6" /><line x1="624.9" y1="408.8" x2="624.9" y2="410.5" stroke="#888" stroke-width="0.6" /><line x1="631.8" y1="408.8" x2="631.8" y2="410.5" stroke="#888" stroke-width="0.6" /><line x1="638.7" y1="408.8" x2="638.7" y2="410.5" stroke="#888" stroke-width="0.6" /><line x1="645.6" y1="408.8" x2="645.6" y2="410.5" stroke="#888" stroke-width="0.6" /><text x="364.5" y="228.7" font-size="8.9" textLength="38.2" lengthAdjust="spacingAndGlyphs">Flag-A3B</text><line x1="353" y1="232.7" x2="411.5" y2="232.7" stroke="#555" stroke-width="1" /><text x="357.5" y="243.3" font-size="8.9" textLength="17.7" lengthAdjust="spacingAndGlyphs">veh.</text><text x="388.9" y="243.3" font-size="8.9" textLength="9.7" lengthAdjust="spacingAndGlyphs">E2</text><text x="447.5" y="228.1" font-size="8.9" textLength="38.1" lengthAdjust="spacingAndGlyphs">R-loop (-)</text><line x1="441" y1="232.7" x2="488" y2="232.7" stroke="#555" stroke-width="1" /><text x="507.4" y="228.1" font-size="8.9" textLength="41.4" lengthAdjust="spacingAndGlyphs">R-loop (+)</text><line x1="502.7" y1="232.7" x2="550" y2="232.7" stroke="#555" stroke-width="1" /><text x="441.8" y="243.3" font-size="8.9" textLength="17.8" lengthAdjust="spacingAndGlyphs">veh.</text><text x="475.5" y="243.3" font-size="8.9" textLength="10.7" lengthAdjust="spacingAndGlyphs">E2</text><text x="503" y="243.3" font-size="8.9" textLength="17.9" lengthAdjust="spacingAndGlyphs">veh.</text><text x="536.9" y="243.3" font-size="8.9" textLength="10.6" lengthAdjust="spacingAndGlyphs">E2</text><text x="611.7" y="228.6" font-size="8.9" textLength="11.4" lengthAdjust="spacingAndGlyphs">ER</text><line x1="593" y1="233.1" x2="641.6" y2="233.1" stroke="#555" stroke-width="1" /><text x="592.4" y="243.4" font-size="8.9" textLength="16.9" lengthAdjust="spacingAndGlyphs">veh.</text><text x="624.9" y="243.4" font-size="8.9" textLength="10" lengthAdjust="spacingAndGlyphs">E2</text><text x="404.8" y="245" font-size="9" textLength="36.5" lengthAdjust="spacingAndGlyphs" transform="rotate(-53 404.8 245)">log ratio†</text><text x="557" y="243.3" font-size="9" textLength="36.5" lengthAdjust="spacingAndGlyphs" transform="rotate(-53 557 243.3)">log ratio†</text><text x="422.5" y="243.3" font-size="9" textLength="18.5" lengthAdjust="spacingAndGlyphs" transform="rotate(-53 422.5 243.3)">FDR</text><text x="574.5" y="242" font-size="9" textLength="18.5" lengthAdjust="spacingAndGlyphs" transform="rotate(-53 574.5 242)">FDR</text><line x1="348" y1="413.3" x2="374.7" y2="413.3" stroke="#2a2a2a" stroke-width="1" /><line x1="361.5" y1="409.5" x2="361.5" y2="416" stroke="#2a2a2a" stroke-width="1" /><text x="340.2" y="420.8" font-size="7.2" textLength="9.8" lengthAdjust="spacingAndGlyphs">-8k</text><text x="361.5" y="420.8" font-size="7.2" text-anchor="middle">0</text><text x="373.8" y="420.8" font-size="7.2" textLength="7.5" lengthAdjust="spacingAndGlyphs">8k</text><text x="398.3" y="418.5" font-size="7.9" textLength="13.9" lengthAdjust="spacingAndGlyphs">fold</text><text x="385.7" y="426.4" font-size="7.9" textLength="39.1" lengthAdjust="spacingAndGlyphs">enrichment</text><text x="386.5" y="434.3" font-size="7.9" textLength="37.5" lengthAdjust="spacingAndGlyphs">over input</text><text x="392" y="442.2" font-size="7.9" textLength="26.5" lengthAdjust="spacingAndGlyphs">control</text><rect x="431.2" y="421.9" width="37.7" height="6.7" fill="url(#cb1)" stroke="#444" stroke-width="0.8"/><line x1="431.2" y1="428.6" x2="431.2" y2="430.6" stroke="#444" stroke-width="0.7" /><text x="431.2" y="436.5" font-size="7.4" text-anchor="middle">0</text><line x1="443.77" y1="428.6" x2="443.77" y2="430.6" stroke="#444" stroke-width="0.7" /><text x="443.77" y="436.5" font-size="7.4" text-anchor="middle">1</text><line x1="456.33" y1="428.6" x2="456.33" y2="430.6" stroke="#444" stroke-width="0.7" /><text x="456.33" y="436.5" font-size="7.4" text-anchor="middle">2</text><line x1="468.9" y1="428.6" x2="468.9" y2="430.6" stroke="#444" stroke-width="0.7" /><text x="468.9" y="436.5" font-size="7.4" text-anchor="middle">3</text><rect x="540.5" y="421.8" width="37.4" height="7.2" fill="url(#cb2)" stroke="#444" stroke-width="0.8"/><line x1="540.5" y1="429" x2="540.5" y2="431" stroke="#444" stroke-width="0.7" /><text x="540.5" y="436.5" font-size="7.4" text-anchor="middle">-3</text><line x1="549.85" y1="429" x2="549.85" y2="431" stroke="#444" stroke-width="0.7" /><line x1="559.2" y1="429" x2="559.2" y2="431" stroke="#444" stroke-width="0.7" /><text x="559.2" y="436.5" font-size="7.4" text-anchor="middle">0</text><line x1="568.55" y1="429" x2="568.55" y2="431" stroke="#444" stroke-width="0.7" /><line x1="577.9" y1="429" x2="577.9" y2="431" stroke="#444" stroke-width="0.7" /><text x="577.9" y="436.5" font-size="7.4" text-anchor="middle">3</text><text x="493.5" y="425.4" font-size="7.9" textLength="40.5" lengthAdjust="spacingAndGlyphs">†: log ratio,</text><text x="489.9" y="432.9" font-size="7.9" textLength="46.5" lengthAdjust="spacingAndGlyphs">E2 vs. vehicle</text><rect x="594.6" y="418" width="8.7" height="6" fill="#5a5a5a" /><rect x="594.6" y="427.5" width="8.7" height="6" fill="#9a9a9a" /><text x="605.1" y="423.3" font-size="7.9" textLength="39.1" lengthAdjust="spacingAndGlyphs">FDR ≤ 0.05</text><text x="605.1" y="432.3" font-size="7.9" textLength="39.1" lengthAdjust="spacingAndGlyphs">FDR &gt; 0.05</text><text x="95.5" y="463.1" font-size="20.5" stroke="#fff" stroke-width="0.4">f</text><text x="93.8" y="507.4" font-size="6.53" textLength="16.2" lengthAdjust="spacingAndGlyphs">ESR1</text><text x="82.9" y="540.1" font-size="7.3" textLength="30" lengthAdjust="spacingAndGlyphs">Flag-A3B</text><text x="93.9" y="558.4" font-size="7.3" fill="#9a9a9a" textLength="37.6" lengthAdjust="spacingAndGlyphs">E2-induced</text><text x="97.1" y="566.5" font-size="7.3" fill="#9a9a9a" textLength="34.4" lengthAdjust="spacingAndGlyphs">A3B peaks</text><text x="90.9" y="584.4" font-size="7.3" textLength="21.3" lengthAdjust="spacingAndGlyphs">R-loop</text><text x="97" y="591.6" font-size="7.3" textLength="9.2" lengthAdjust="spacingAndGlyphs">(+)</text><text x="90.9" y="614.4" font-size="7.3" textLength="21.3" lengthAdjust="spacingAndGlyphs">R-loop</text><text x="97.5" y="621.8" font-size="7.3" textLength="8" lengthAdjust="spacingAndGlyphs">(-)</text><text x="93.8" y="641.7" font-size="7.3" fill="#f2707c" textLength="37.1" lengthAdjust="spacingAndGlyphs">E2-induced</text><text x="106.8" y="648.2" font-size="7.3" fill="#f2707c" textLength="24.8" lengthAdjust="spacingAndGlyphs">R-loops</text><path d="M117.8 494.6H115V512.1H117.8" fill="none" stroke="#777" stroke-width="1" /><text x="120.6" y="498.5" font-size="7.06" fill="#ee4d5a" textLength="8.2" lengthAdjust="spacingAndGlyphs">E2</text><text x="118.4" y="513.3" font-size="7.24" fill="#4b8bf0" textLength="13" lengthAdjust="spacingAndGlyphs">veh.</text><path d="M117.8 527.9H115V546.3H117.8" fill="none" stroke="#777" stroke-width="1" /><text x="120.6" y="532" font-size="7.06" fill="#ee4d5a" textLength="8.2" lengthAdjust="spacingAndGlyphs">E2</text><text x="118.4" y="546.8" font-size="7.24" fill="#4b8bf0" textLength="13" lengthAdjust="spacingAndGlyphs">veh.</text><path d="M117.8 576.6H115V594.2H117.8" fill="none" stroke="#777" stroke-width="1" /><text x="120.6" y="579.6" font-size="7.06" fill="#ee4d5a" textLength="8.2" lengthAdjust="spacingAndGlyphs">E2</text><text x="118.4" y="594.2" font-size="7.24" fill="#4b8bf0" textLength="13" lengthAdjust="spacingAndGlyphs">veh.</text><path d="M117.8 610.8H115V627.4H117.8" fill="none" stroke="#777" stroke-width="1" /><text x="120.6" y="612.6" font-size="7.06" fill="#ee4d5a" textLength="8.2" lengthAdjust="spacingAndGlyphs">E2</text><text x="118.4" y="627.4" font-size="7.24" fill="#4b8bf0" textLength="13" lengthAdjust="spacingAndGlyphs">veh.</text><text x="93.7" y="641.5" font-size="7.3" fill="#ee4d5a" textLength="37.7" lengthAdjust="spacingAndGlyphs"></text><text x="155.7" y="457.4" font-size="7.7" textLength="14.6" lengthAdjust="spacingAndGlyphs">chr3</text><text x="134.4" y="464.6" font-size="7.7" textLength="57.5" lengthAdjust="spacingAndGlyphs">50,640-50,650 kb</text><rect x="133" y="470.5" width="60.1" height="6.2" fill="#f1f1f1" /><rect x="156" y="471.3" width="7" height="4.4" fill="#111" /><rect x="161" y="470.5" width="4.8" height="6" fill="#111" /><line x1="165.8" y1="473.5" x2="187.2" y2="473.5" stroke="#222" stroke-width="0.8" /><line x1="166.8" y1="470.5" x2="166.8" y2="476.5" stroke="#222" stroke-width="0.8" /><line x1="187.2" y1="470.5" x2="187.2" y2="476.5" stroke="#222" stroke-width="0.8" /><path d="M168.7 472.3L170.1 473.5L168.7 474.7" fill="none" stroke="#5560e0" stroke-width="0.6" /><path d="M173.7 472.3L175.1 473.5L173.7 474.7" fill="none" stroke="#5560e0" stroke-width="0.6" /><path d="M178.7 472.3L180.1 473.5L178.7 474.7" fill="none" stroke="#5560e0" stroke-width="0.6" /><path d="M183.7 472.3L185.1 473.5L183.7 474.7" fill="none" stroke="#5560e0" stroke-width="0.6" /><text x="171.3" y="481.3" font-size="8.2" fill="#333" textLength="16.9" lengthAdjust="spacingAndGlyphs" font-style="italic">CISH</text><path d="M133.3 518.5L133.3 518.1L133.8 518.1L134.3 518.0L134.8 518.0L135.3 518.1L135.8 518.0L136.3 518.3L136.8 518.2L137.3 518.0L137.8 518.1L138.3 518.1L138.8 518.3L139.3 518.2L139.8 518.3L140.3 518.2L140.8 518.2L141.3 518.4L141.8 518.3L142.3 518.3L142.8 518.1L143.3 518.1L143.8 518.2L144.3 518.0L144.8 517.9L145.3 517.0L145.8 515.5L146.3 512.3L146.8 505.9L147.3 496.9L147.8 493.8L148.3 489.0L148.8 489.0L149.3 490.3L149.8 495.2L150.3 498.4L150.8 503.9L151.3 506.6L151.8 507.9L152.3 510.6L152.8 511.6L153.3 514.0L153.8 515.4L154.3 516.2L154.8 517.3L155.3 517.7L155.8 518.0L156.3 518.1L156.8 518.1L157.3 518.3L157.8 518.2L158.3 518.3L158.8 518.3L159.3 518.1L159.8 518.1L160.3 517.8L160.8 516.9L161.3 514.1L161.8 512.3L162.3 512.7L162.8 514.3L163.3 516.5L163.8 517.5L164.3 518.2L164.8 518.1L165.3 518.3L165.8 518.2L166.3 518.4L166.8 518.4L167.3 518.4L167.8 518.1L168.3 518.3L168.8 518.1L169.3 518.0L169.8 518.0L170.3 518.2L170.8 518.2L171.3 518.2L171.8 518.1L172.3 518.3L172.8 518.1L173.3 518.1L173.8 518.0L174.3 518.3L174.8 518.1L175.3 518.4L175.8 518.2L176.3 518.2L176.8 518.0L177.3 518.2L177.8 518.0L178.3 518.2L178.8 518.3L179.3 518.3L179.8 518.4L180.3 518.4L180.8 518.3L181.3 518.2L181.8 518.1L182.3 518.3L182.8 518.3L183.3 518.1L183.8 518.2L184.3 518.2L184.8 518.3L185.3 518.2L185.8 518.1L186.3 518.1L186.8 517.9L187.3 517.4L187.8 516.6L188.3 516.3L188.8 516.0L189.3 516.8L189.8 517.6L190.3 517.9L190.8 518.0L191.3 518.1L191.8 518.1L192.3 518.3L192.8 518.2L192.8 518.5Z" fill="#f04450" opacity="1"/><path d="M133.3 518.5L133.3 518.3L133.8 518.4L134.3 518.2L134.8 518.1L135.3 518.1L135.8 518.3L136.3 518.2L136.8 518.3L137.3 518.1L137.8 518.2L138.3 518.0L138.8 518.1L139.3 518.3L139.8 518.3L140.3 518.1L140.8 518.2L141.3 518.2L141.8 518.2L142.3 518.1L142.8 518.0L143.3 518.1L143.8 518.0L144.3 518.1L144.8 518.1L145.3 517.5L145.8 516.7L146.3 515.2L146.8 511.8L147.3 507.7L147.8 505.9L148.3 504.3L148.8 503.7L149.3 504.3L149.8 507.7L150.3 512.0L150.8 514.8L151.3 516.3L151.8 517.5L152.3 517.9L152.8 518.2L153.3 518.2L153.8 518.3L154.3 518.0L154.8 518.0L155.3 518.0L155.8 518.1L156.3 518.2L156.8 518.3L157.3 518.1L157.8 518.3L158.3 518.4L158.8 518.4L159.3 518.4L159.8 518.2L160.3 518.1L160.8 518.3L161.3 518.1L161.8 518.2L162.3 518.1L162.8 518.1L163.3 518.1L163.8 518.1L164.3 518.3L164.8 518.4L165.3 518.3L165.8 518.2L166.3 518.3L166.8 518.3L167.3 518.3L167.8 518.4L168.3 518.3L168.8 518.3L169.3 518.2L169.8 518.1L170.3 518.2L170.8 518.0L171.3 518.0L171.8 518.0L172.3 518.1L172.8 518.1L173.3 518.2L173.8 518.1L174.3 518.2L174.8 518.2L175.3 518.2L175.8 518.2L176.3 518.3L176.8 518.4L177.3 518.4L177.8 518.3L178.3 518.2L178.8 518.1L179.3 518.1L179.8 518.2L180.3 518.1L180.8 518.3L181.3 518.1L181.8 518.3L182.3 518.1L182.8 518.1L183.3 518.0L183.8 518.0L184.3 518.1L184.8 518.0L185.3 518.1L185.8 518.1L186.3 518.3L186.8 518.2L187.3 518.1L187.8 518.2L188.3 518.0L188.8 518.2L189.3 518.2L189.8 518.4L190.3 518.3L190.8 518.3L191.3 518.1L191.8 518.0L192.3 518.0L192.8 518.1L192.8 518.5Z" fill="#4a86f0" opacity="1"/><line x1="133.3" y1="487.6" x2="133.3" y2="518.5" stroke="#999" stroke-width="1" /><line x1="133.3" y1="518.5" x2="192.8" y2="518.5" stroke="#222" stroke-width="1.2" /><text x="134.3" y="491.9" font-size="7.77" textLength="18.87" lengthAdjust="spacingAndGlyphs">0-135</text><path d="M133.3 551.8L133.3 536.2L133.8 542.5L134.3 545.5L134.8 543.7L135.3 543.1L135.8 542.8L136.3 542.8L136.8 541.8L137.3 544.1L137.8 545.4L138.3 544.3L138.8 541.1L139.3 545.0L139.8 545.1L140.3 546.2L140.8 545.7L141.3 547.6L141.8 546.5L142.3 544.4L142.8 546.1L143.3 545.9L143.8 543.2L144.3 541.8L144.8 540.6L145.3 535.5L145.8 535.1L146.3 538.8L146.8 539.5L147.3 538.0L147.8 528.7L148.3 523.6L148.8 522.8L149.3 529.2L149.8 523.1L150.3 534.2L150.8 530.0L151.3 533.5L151.8 541.1L152.3 540.5L152.8 532.6L153.3 525.6L153.8 533.4L154.3 542.2L154.8 547.6L155.3 548.1L155.8 544.7L156.3 545.5L156.8 544.5L157.3 545.2L157.8 543.9L158.3 544.1L158.8 547.6L159.3 548.2L159.8 545.9L160.3 546.7L160.8 546.1L161.3 541.9L161.8 545.5L162.3 547.2L162.8 545.7L163.3 547.7L163.8 547.4L164.3 545.6L164.8 546.9L165.3 545.9L165.8 545.9L166.3 547.2L166.8 547.0L167.3 547.0L167.8 544.1L168.3 540.5L168.8 545.4L169.3 548.7L169.8 548.3L170.3 546.5L170.8 546.2L171.3 541.3L171.8 542.4L172.3 543.3L172.8 537.1L173.3 536.4L173.8 545.7L174.3 548.7L174.8 546.8L175.3 546.7L175.8 547.1L176.3 545.1L176.8 548.0L177.3 548.4L177.8 545.4L178.3 542.8L178.8 544.6L179.3 546.2L179.8 547.7L180.3 546.3L180.8 544.4L181.3 544.9L181.8 544.5L182.3 544.6L182.8 546.8L183.3 547.3L183.8 546.2L184.3 545.7L184.8 537.9L185.3 539.1L185.8 539.6L186.3 538.0L186.8 540.1L187.3 538.3L187.8 531.2L188.3 525.2L188.8 534.4L189.3 539.0L189.8 541.6L190.3 540.7L190.8 540.2L191.3 541.0L191.8 541.7L192.3 539.2L192.8 545.5L192.8 551.8Z" fill="#f04450" opacity="1"/><path d="M133.3 551.8L133.3 546.3L133.8 549.4L134.3 549.2L134.8 549.7L135.3 549.1L135.8 548.6L136.3 548.0L136.8 548.2L137.3 548.7L137.8 548.2L138.3 549.4L138.8 546.8L139.3 549.0L139.8 547.1L140.3 549.1L140.8 548.3L141.3 548.6L141.8 548.1L142.3 548.8L142.8 549.5L143.3 549.2L143.8 549.9L144.3 549.5L144.8 548.5L145.3 548.7L145.8 546.6L146.3 546.8L146.8 545.0L147.3 543.8L147.8 542.3L148.3 541.1L148.8 540.3L149.3 541.7L149.8 544.1L150.3 545.1L150.8 547.2L151.3 547.7L151.8 548.7L152.3 548.9L152.8 549.7L153.3 549.4L153.8 548.7L154.3 548.8L154.8 549.8L155.3 549.9L155.8 549.1L156.3 550.0L156.8 548.4L157.3 548.1L157.8 548.5L158.3 548.8L158.8 549.6L159.3 548.9L159.8 549.0L160.3 548.8L160.8 549.4L161.3 549.0L161.8 550.1L162.3 549.4L162.8 549.0L163.3 548.5L163.8 548.8L164.3 548.1L164.8 546.1L165.3 548.0L165.8 549.2L166.3 549.1L166.8 549.7L167.3 549.1L167.8 549.8L168.3 550.3L168.8 550.2L169.3 550.0L169.8 548.5L170.3 548.5L170.8 549.2L171.3 548.0L171.8 548.1L172.3 548.4L172.8 548.4L173.3 548.8L173.8 548.9L174.3 548.9L174.8 549.7L175.3 548.9L175.8 549.8L176.3 550.0L176.8 548.9L177.3 549.0L177.8 548.3L178.3 548.8L178.8 547.8L179.3 549.1L179.8 544.7L180.3 548.4L180.8 548.1L181.3 549.9L181.8 548.7L182.3 549.7L182.8 548.2L183.3 549.7L183.8 548.3L184.3 549.7L184.8 549.3L185.3 548.9L185.8 548.8L186.3 548.8L186.8 547.0L187.3 545.4L187.8 542.4L188.3 541.1L188.8 540.2L189.3 542.6L189.8 544.9L190.3 547.9L190.8 549.2L191.3 549.9L191.8 549.5L192.3 550.0L192.8 550.2L192.8 551.8Z" fill="#4a86f0" opacity="1"/><line x1="133.3" y1="521.5" x2="133.3" y2="551.8" stroke="#999" stroke-width="1" /><line x1="133.3" y1="551.8" x2="192.8" y2="551.8" stroke="#222" stroke-width="1.2" /><text x="134.3" y="528.2" font-size="7.77" textLength="14.77" lengthAdjust="spacingAndGlyphs">0-20</text><path d="M133.3 601.2L133.3 601.2L133.8 601.2L134.3 601.2L134.8 601.2L135.3 601.2L135.8 601.2L136.3 601.2L136.8 601.2L137.3 598.5L137.8 597.1L138.3 591.4L138.8 597.4L139.3 596.8L139.8 596.1L140.3 593.2L140.8 593.2L141.3 598.4L141.8 586.8L142.3 597.1L142.8 590.5L143.3 599.6L143.8 593.4L144.3 594.1L144.8 596.6L145.3 599.4L145.8 590.1L146.3 592.9L146.8 593.2L147.3 598.3L147.8 584.2L148.3 586.6L148.8 584.6L149.3 586.0L149.8 572.2L150.3 591.0L150.8 590.4L151.3 598.3L151.8 594.8L152.3 595.5L152.8 587.8L153.3 592.3L153.8 592.9L154.3 592.9L154.8 592.0L155.3 593.3L155.8 582.5L156.3 592.2L156.8 587.4L157.3 594.6L157.8 594.2L158.3 595.5L158.8 592.0L159.3 593.4L159.8 598.0L160.3 582.0L160.8 597.7L161.3 592.5L161.8 589.1L162.3 593.6L162.8 583.9L163.3 592.9L163.8 594.9L164.3 599.7L164.8 595.0L165.3 591.4L165.8 594.9L166.3 592.2L166.8 596.0L167.3 591.3L167.8 598.4L168.3 594.2L168.8 593.7L169.3 593.3L169.8 580.0L170.3 591.4L170.8 597.2L171.3 598.7L171.8 596.7L172.3 590.2L172.8 592.3L173.3 582.9L173.8 599.3L174.3 589.1L174.8 586.5L175.3 599.7L175.8 593.6L176.3 598.2L176.8 591.5L177.3 584.7L177.8 596.8L178.3 601.2L178.8 601.2L179.3 601.2L179.8 601.2L180.3 601.2L180.8 601.2L181.3 601.2L181.8 601.2L182.3 601.2L182.8 601.2L183.3 601.2L183.8 601.2L184.3 601.2L184.8 601.2L185.3 601.2L185.8 601.2L186.3 601.2L186.8 601.2L187.3 601.2L187.8 601.2L188.3 601.2L188.8 601.2L189.3 601.2L189.8 601.2L190.3 601.2L190.8 601.2L191.3 601.2L191.8 601.2L192.3 601.2L192.8 601.2L192.8 601.2Z" fill="#f04450" opacity="1"/><path d="M133.3 601.2L133.3 603.9L133.8 603.8L134.3 604.3L134.8 602.0L135.3 604.1L135.8 604.3L136.3 602.4L136.8 601.4L137.3 604.1L137.8 604.1L138.3 604.0L138.8 608.4L139.3 608.5L139.8 608.1L140.3 603.4L140.8 604.3L141.3 602.2L141.8 601.9L142.3 603.6L142.8 601.8L143.3 604.4L143.8 604.2L144.3 604.0L144.8 602.5L145.3 602.1L145.8 606.3L146.3 604.0L146.8 602.7L147.3 601.3L147.8 603.6L148.3 602.8L148.8 605.1L149.3 603.8L149.8 602.0L150.3 603.0L150.8 604.1L151.3 603.9L151.8 601.7L152.3 601.9L152.8 603.3L153.3 604.5L153.8 603.8L154.3 606.5L154.8 603.1L155.3 603.4L155.8 601.8L156.3 603.7L156.8 606.3L157.3 601.3L157.8 604.4L158.3 602.8L158.8 603.8L159.3 603.7L159.8 602.6L160.3 601.8L160.8 606.8L161.3 602.3L161.8 601.4L162.3 602.8L162.8 601.6L163.3 604.0L163.8 601.5L164.3 603.9L164.8 601.4L165.3 604.4L165.8 601.5L166.3 604.1L166.8 603.6L167.3 608.2L167.8 604.4L168.3 603.0L168.8 604.6L169.3 604.0L169.8 604.3L170.3 606.4L170.8 601.7L171.3 603.2L171.8 603.4L172.3 604.5L172.8 604.5L173.3 602.4L173.8 604.6L174.3 604.0L174.8 602.3L175.3 605.2L175.8 604.2L176.3 602.7L176.8 604.7L177.3 603.8L177.8 608.5L178.3 601.5L178.8 603.9L179.3 603.6L179.8 603.8L180.3 603.2L180.8 603.1L181.3 602.1L181.8 605.1L182.3 601.4L182.8 601.9L183.3 602.1L183.8 606.4L184.3 605.8L184.8 601.9L185.3 604.5L185.8 601.3L186.3 608.1L186.8 601.6L187.3 603.5L187.8 605.5L188.3 602.2L188.8 607.8L189.3 604.6L189.8 603.2L190.3 604.8L190.8 602.9L191.3 608.4L191.8 603.1L192.3 608.9L192.8 604.1L192.8 601.2Z" fill="#f04450" opacity="1"/><path d="M133.3 601.2L133.3 593.2L133.8 596.9L134.3 596.9L134.8 597.3L135.3 597.1L135.8 591.9L136.3 600.0L136.8 595.8L137.3 596.5L137.8 599.0L138.3 597.9L138.8 597.3L139.3 598.2L139.8 595.3L140.3 598.2L140.8 597.1L141.3 591.6L141.8 596.9L142.3 599.1L142.8 596.4L143.3 598.0L143.8 600.2L144.3 598.0L144.8 599.8L145.3 592.3L145.8 593.4L146.3 598.2L146.8 596.9L147.3 600.1L147.8 599.8L148.3 600.0L148.8 598.2L149.3 597.0L149.8 597.8L150.3 598.4L150.8 595.4L151.3 598.9L151.8 597.4L152.3 597.8L152.8 593.2L153.3 598.7L153.8 598.3L154.3 597.6L154.8 599.0L155.3 598.8L155.8 599.4L156.3 597.0L156.8 593.9L157.3 598.8L157.8 598.2L158.3 591.2L158.8 597.4L159.3 598.5L159.8 598.3L160.3 599.7L160.8 598.3L161.3 597.9L161.8 600.0L162.3 591.9L162.8 600.3L163.3 598.2L163.8 600.0L164.3 598.2L164.8 593.2L165.3 598.0L165.8 599.7L166.3 596.9L166.8 597.7L167.3 598.6L167.8 590.4L168.3 597.6L168.8 600.0L169.3 598.1L169.8 598.4L170.3 597.0L170.8 593.3L171.3 591.7L171.8 595.6L172.3 598.0L172.8 596.9L173.3 597.4L173.8 598.3L174.3 600.2L174.8 597.7L175.3 598.1L175.8 596.9L176.3 598.2L176.8 597.0L177.3 597.1L177.8 597.8L178.3 599.2L178.8 599.2L179.3 599.4L179.8 599.5L180.3 597.7L180.8 593.5L181.3 599.6L181.8 597.4L182.3 592.2L182.8 598.2L183.3 599.0L183.8 596.5L184.3 597.7L184.8 598.5L185.3 597.1L185.8 596.9L186.3 597.3L186.8 598.3L187.3 599.5L187.8 597.2L188.3 598.2L188.8 597.3L189.3 599.0L189.8 599.6L190.3 599.8L190.8 591.6L191.3 599.6L191.8 593.9L192.3 597.2L192.8 598.0L192.8 601.2Z" fill="#4a86f0" opacity="1"/><path d="M133.3 601.2L133.3 601.7L133.8 602.2L134.3 601.3L134.8 602.7L135.3 602.4L135.8 601.3L136.3 603.9L136.8 603.1L137.3 605.3L137.8 602.9L138.3 604.0L138.8 603.3L139.3 602.6L139.8 601.5L140.3 602.9L140.8 602.8L141.3 603.7L141.8 602.4L142.3 601.3L142.8 601.3L143.3 602.7L143.8 602.1L144.3 604.0L144.8 602.8L145.3 603.9L145.8 603.4L146.3 603.3L146.8 602.2L147.3 603.8L147.8 603.6L148.3 603.6L148.8 602.9L149.3 601.9L149.8 602.0L150.3 601.9L150.8 603.8L151.3 603.8L151.8 601.9L152.3 602.2L152.8 606.7L153.3 602.8L153.8 602.2L154.3 606.5L154.8 604.0L155.3 601.5L155.8 603.0L156.3 601.9L156.8 603.8L157.3 604.9L157.8 601.4L158.3 604.0L158.8 601.9L159.3 603.7L159.8 604.8L160.3 601.8L160.8 603.9L161.3 602.3L161.8 606.6L162.3 603.6L162.8 602.2L163.3 603.2L163.8 603.1L164.3 604.1L164.8 602.5L165.3 605.7L165.8 603.3L166.3 602.9L166.8 603.0L167.3 603.8L167.8 602.5L168.3 608.6L168.8 601.7L169.3 603.1L169.8 602.2L170.3 602.2L170.8 601.7L171.3 602.8L171.8 604.1L172.3 601.7L172.8 601.5L173.3 604.9L173.8 607.1L174.3 603.4L174.8 607.4L175.3 602.8L175.8 603.6L176.3 601.3L176.8 601.3L177.3 601.8L177.8 602.4L178.3 603.0L178.8 601.9L179.3 601.4L179.8 603.3L180.3 604.3L180.8 603.5L181.3 604.1L181.8 602.4L182.3 603.7L182.8 601.3L183.3 605.6L183.8 602.6L184.3 603.5L184.8 605.8L185.3 604.9L185.8 602.7L186.3 601.4L186.8 602.4L187.3 604.1L187.8 603.8L188.3 602.7L188.8 601.3L189.3 603.6L189.8 607.3L190.3 602.4L190.8 601.8L191.3 604.0L191.8 602.7L192.3 603.2L192.8 606.0L192.8 601.2Z" fill="#4a86f0" opacity="1"/><line x1="133.3" y1="570.5" x2="133.3" y2="631.8" stroke="#999" stroke-width="1" /><line x1="133.3" y1="601.2" x2="192.8" y2="601.2" stroke="#222" stroke-width="1.6" /><text x="134.3" y="575" font-size="7.77" textLength="14.77" lengthAdjust="spacingAndGlyphs">0-14</text><text x="133.3" y="630.2" font-size="8.05" textLength="17.86" lengthAdjust="spacingAndGlyphs">-14-0</text><path d="M136 638.5L141 633.7V636.25H172.9V640.75H141V643.3Z" fill="#ee4d5a"/><text x="217" y="457.4" font-size="7.62" textLength="18.1" lengthAdjust="spacingAndGlyphs">chr16</text><text x="197.2" y="464.6" font-size="7.7" textLength="56.9" lengthAdjust="spacingAndGlyphs">70,160-70,180 kb</text><rect x="195.3" y="470.5" width="60.1" height="6.2" fill="#f1f1f1" /><line x1="196" y1="473.5" x2="253" y2="473.5" stroke="#222" stroke-width="0.8" /><line x1="200" y1="470.5" x2="200" y2="476.5" stroke="#222" stroke-width="0.8" /><line x1="203" y1="470.5" x2="203" y2="476.5" stroke="#222" stroke-width="0.8" /><line x1="206" y1="470.5" x2="206" y2="476.5" stroke="#222" stroke-width="0.8" /><line x1="207" y1="470.5" x2="207" y2="476.5" stroke="#222" stroke-width="0.8" /><line x1="210.5" y1="470.5" x2="210.5" y2="476.5" stroke="#222" stroke-width="0.8" /><line x1="212" y1="470.5" x2="212" y2="476.5" stroke="#222" stroke-width="0.8" /><line x1="214" y1="470.5" x2="214" y2="476.5" stroke="#222" stroke-width="0.8" /><line x1="221" y1="470.5" x2="221" y2="476.5" stroke="#222" stroke-width="0.8" /><line x1="226.5" y1="470.5" x2="226.5" y2="476.5" stroke="#222" stroke-width="0.8" /><line x1="232" y1="470.5" x2="232" y2="476.5" stroke="#222" stroke-width="0.8" /><line x1="240.5" y1="470.5" x2="240.5" y2="476.5" stroke="#222" stroke-width="0.8" /><line x1="243" y1="470.5" x2="243" y2="476.5" stroke="#222" stroke-width="0.8" /><line x1="245.5" y1="470.5" x2="245.5" y2="476.5" stroke="#222" stroke-width="0.8" /><line x1="247" y1="470.5" x2="247" y2="476.5" stroke="#222" stroke-width="0.8" /><path d="M198.76 472.3L200.16 473.5L198.76 474.7" fill="none" stroke="#5560e0" stroke-width="0.6" /><path d="M205.89 472.3L207.29 473.5L205.89 474.7" fill="none" stroke="#5560e0" stroke-width="0.6" /><path d="M213.01 472.3L214.41 473.5L213.01 474.7" fill="none" stroke="#5560e0" stroke-width="0.6" /><path d="M220.14 472.3L221.54 473.5L220.14 474.7" fill="none" stroke="#5560e0" stroke-width="0.6" /><path d="M227.26 472.3L228.66 473.5L227.26 474.7" fill="none" stroke="#5560e0" stroke-width="0.6" /><path d="M234.39 472.3L235.79 473.5L234.39 474.7" fill="none" stroke="#5560e0" stroke-width="0.6" /><path d="M241.51 472.3L242.91 473.5L241.51 474.7" fill="none" stroke="#5560e0" stroke-width="0.6" /><path d="M248.64 472.3L250.04 473.5L248.64 474.7" fill="none" stroke="#5560e0" stroke-width="0.6" /><rect x="205.5" y="470.5" width="1.5" height="6" fill="#111" /><text x="225.8" y="481.3" font-size="8.2" fill="#333" textLength="18.2" lengthAdjust="spacingAndGlyphs" font-style="italic">PDPR</text><path d="M195.6 518.5L195.6 518.1L196.1 518.3L196.6 518.2L197.1 518.3L197.6 518.3L198.1 518.3L198.6 518.1L199.1 518.3L199.6 518.2L200.1 518.1L200.6 518.3L201.1 518.4L201.6 518.2L202.1 518.2L202.6 518.3L203.1 518.1L203.6 518.1L204.1 518.1L204.6 518.3L205.1 518.1L205.6 518.3L206.1 518.0L206.6 518.1L207.1 517.7L207.6 515.5L208.1 510.5L208.6 502.4L209.1 500.5L209.6 512.0L210.1 516.2L210.6 517.8L211.1 518.2L211.6 518.1L212.1 518.1L212.6 518.2L213.1 517.7L213.6 517.0L214.1 515.9L214.6 514.3L215.1 514.2L215.6 515.9L216.1 517.1L216.6 518.1L217.1 518.1L217.6 518.4L218.1 518.3L218.6 518.1L219.1 518.3L219.6 518.1L220.1 518.0L220.6 518.1L221.1 518.2L221.6 518.0L222.1 518.1L222.6 518.0L223.1 518.1L223.6 518.2L224.1 518.3L224.6 518.1L225.1 517.9L225.6 517.1L226.1 512.9L226.6 499.0L227.1 489.0L227.6 489.0L228.1 501.4L228.6 508.1L229.1 508.7L229.6 511.4L230.1 514.4L230.6 516.0L231.1 517.0L231.6 517.8L232.1 518.0L232.6 518.1L233.1 518.3L233.6 518.4L234.1 518.1L234.6 518.3L235.1 518.0L235.6 518.0L236.1 518.2L236.6 518.2L237.1 518.4L237.6 518.4L238.1 518.1L238.6 518.2L239.1 518.3L239.6 518.3L240.1 518.4L240.6 518.2L241.1 518.3L241.6 518.4L242.1 518.2L242.6 518.3L243.1 518.3L243.6 518.2L244.1 518.3L244.6 518.2L245.1 518.2L245.6 518.2L246.1 518.3L246.6 518.2L247.1 518.1L247.6 518.3L248.1 518.2L248.6 518.3L249.1 518.2L249.6 518.2L250.1 518.2L250.6 518.1L251.1 518.3L251.6 518.2L252.1 518.1L252.6 518.4L253.1 518.1L253.6 518.3L254.1 518.2L254.6 518.1L255.1 518.3L255.1 518.5Z" fill="#f04450" opacity="1"/><path d="M195.6 518.5L195.6 518.3L196.1 518.1L196.6 518.2L197.1 518.3L197.6 518.3L198.1 518.2L198.6 518.3L199.1 518.4L199.6 518.3L200.1 518.5L200.6 518.4L201.1 518.4L201.6 518.3L202.1 518.1L202.6 518.1L203.1 518.2L203.6 518.1L204.1 518.1L204.6 518.0L205.1 518.2L205.6 518.1L206.1 518.1L206.6 518.1L207.1 518.3L207.6 518.1L208.1 518.1L208.6 518.2L209.1 518.4L209.6 518.4L210.1 518.4L210.6 518.3L211.1 518.2L211.6 518.3L212.1 518.1L212.6 518.3L213.1 518.3L213.6 518.2L214.1 518.3L214.6 518.3L215.1 518.3L215.6 518.2L216.1 518.4L216.6 518.3L217.1 518.3L217.6 518.1L218.1 518.1L218.6 518.2L219.1 518.3L219.6 518.3L220.1 518.1L220.6 518.1L221.1 518.2L221.6 518.1L222.1 518.0L222.6 518.1L223.1 517.9L223.6 518.2L224.1 518.0L224.6 518.0L225.1 517.5L225.6 516.5L226.1 513.3L226.6 510.4L227.1 508.5L227.6 508.2L228.1 512.6L228.6 515.4L229.1 517.1L229.6 517.7L230.1 517.4L230.6 517.3L231.1 517.5L231.6 517.2L232.1 517.4L232.6 517.3L233.1 517.3L233.6 517.3L234.1 517.3L234.6 517.3L235.1 517.2L235.6 517.1L236.1 516.9L236.6 516.9L237.1 517.0L237.6 516.7L238.1 516.8L238.6 516.8L239.1 516.7L239.6 516.7L240.1 517.0L240.6 516.7L241.1 516.7L241.6 516.8L242.1 516.8L242.6 517.0L243.1 516.7L243.6 517.0L244.1 516.8L244.6 517.2L245.1 517.1L245.6 517.0L246.1 517.1L246.6 517.1L247.1 517.4L247.6 517.5L248.1 517.5L248.6 517.7L249.1 517.5L249.6 517.5L250.1 517.4L250.6 517.5L251.1 517.5L251.6 517.8L252.1 517.7L252.6 517.9L253.1 517.9L253.6 517.9L254.1 518.0L254.6 518.1L255.1 518.0L255.1 518.5Z" fill="#4a86f0" opacity="1"/><line x1="195.6" y1="487.6" x2="195.6" y2="518.5" stroke="#999" stroke-width="1" /><line x1="195.6" y1="518.5" x2="255.1" y2="518.5" stroke="#222" stroke-width="1.2" /><text x="196.6" y="491.9" font-size="7.77" textLength="14.77" lengthAdjust="spacingAndGlyphs">0-75</text><path d="M195.6 551.8L195.6 545.5L196.1 545.7L196.6 545.4L197.1 543.6L197.6 541.4L198.1 546.6L198.6 548.4L199.1 546.7L199.6 546.5L200.1 545.6L200.6 544.8L201.1 545.4L201.6 545.4L202.1 537.3L202.6 535.0L203.1 544.5L203.6 546.9L204.1 546.3L204.6 547.0L205.1 544.6L205.6 544.9L206.1 547.5L206.6 546.2L207.1 545.1L207.6 545.8L208.1 546.6L208.6 545.8L209.1 545.0L209.6 543.9L210.1 542.2L210.6 537.1L211.1 541.2L211.6 544.6L212.1 546.5L212.6 545.6L213.1 544.9L213.6 540.7L214.1 543.0L214.6 540.0L215.1 546.2L215.6 546.0L216.1 545.1L216.6 546.9L217.1 547.2L217.6 543.1L218.1 533.7L218.6 537.3L219.1 543.8L219.6 546.7L220.1 547.6L220.6 546.9L221.1 543.6L221.6 538.9L222.1 539.9L222.6 538.7L223.1 543.3L223.6 544.2L224.1 536.4L224.6 533.8L225.1 539.4L225.6 540.4L226.1 540.8L226.6 534.0L227.1 522.8L227.6 534.5L228.1 543.3L228.6 545.5L229.1 542.3L229.6 538.4L230.1 538.8L230.6 540.6L231.1 545.1L231.6 546.8L232.1 545.7L232.6 540.1L233.1 542.5L233.6 543.1L234.1 546.1L234.6 545.9L235.1 545.9L235.6 546.5L236.1 547.5L236.6 545.6L237.1 543.6L237.6 544.5L238.1 547.6L238.6 548.9L239.1 548.8L239.6 546.9L240.1 543.5L240.6 542.7L241.1 543.5L241.6 542.4L242.1 546.1L242.6 545.3L243.1 544.2L243.6 538.5L244.1 542.8L244.6 544.4L245.1 545.3L245.6 547.6L246.1 545.8L246.6 546.4L247.1 543.2L247.6 538.4L248.1 542.2L248.6 545.9L249.1 546.5L249.6 546.6L250.1 546.3L250.6 548.2L251.1 547.5L251.6 545.1L252.1 545.8L252.6 548.2L253.1 548.2L253.6 548.5L254.1 547.4L254.6 545.6L255.1 546.2L255.1 551.8Z" fill="#f04450" opacity="1"/><path d="M195.6 551.8L195.6 548.7L196.1 548.3L196.6 548.1L197.1 547.8L197.6 548.3L198.1 547.8L198.6 549.5L199.1 548.7L199.6 549.2L200.1 548.5L200.6 547.7L201.1 547.2L201.6 548.9L202.1 549.2L202.6 549.1L203.1 548.8L203.6 548.4L204.1 548.5L204.6 548.0L205.1 547.5L205.6 547.6L206.1 548.7L206.6 547.9L207.1 548.0L207.6 549.2L208.1 547.7L208.6 548.0L209.1 548.2L209.6 548.8L210.1 549.5L210.6 548.9L211.1 549.8L211.6 549.4L212.1 549.0L212.6 549.0L213.1 549.2L213.6 549.0L214.1 549.2L214.6 548.4L215.1 549.4L215.6 548.2L216.1 548.9L216.6 548.3L217.1 548.2L217.6 548.5L218.1 547.6L218.6 549.1L219.1 548.1L219.6 548.9L220.1 548.8L220.6 549.6L221.1 549.1L221.6 549.1L222.1 548.8L222.6 548.0L223.1 548.5L223.6 548.0L224.1 548.5L224.6 547.9L225.1 547.4L225.6 545.4L226.1 544.3L226.6 542.9L227.1 543.5L227.6 543.8L228.1 545.1L228.6 546.0L229.1 546.6L229.6 548.1L230.1 547.8L230.6 548.9L231.1 548.0L231.6 548.1L232.1 547.5L232.6 547.7L233.1 547.7L233.6 548.2L234.1 548.4L234.6 548.6L235.1 548.6L235.6 549.2L236.1 547.8L236.6 548.9L237.1 547.8L237.6 547.5L238.1 548.5L238.6 548.1L239.1 549.1L239.6 549.3L240.1 548.0L240.6 549.0L241.1 547.6L241.6 548.2L242.1 548.1L242.6 549.5L243.1 549.5L243.6 549.8L244.1 549.0L244.6 549.2L245.1 549.6L245.6 549.5L246.1 550.0L246.6 549.6L247.1 549.5L247.6 548.8L248.1 548.7L248.6 548.5L249.1 549.1L249.6 548.3L250.1 548.7L250.6 547.9L251.1 549.0L251.6 548.0L252.1 547.7L252.6 548.9L253.1 548.3L253.6 549.5L254.1 549.7L254.6 548.8L255.1 549.4L255.1 551.8Z" fill="#4a86f0" opacity="1"/><line x1="195.6" y1="521.5" x2="195.6" y2="551.8" stroke="#999" stroke-width="1" /><line x1="195.6" y1="551.8" x2="255.1" y2="551.8" stroke="#222" stroke-width="1.2" /><text x="196.6" y="528.2" font-size="7.77" textLength="14.77" lengthAdjust="spacingAndGlyphs">0-18</text><path d="M195.6 601.2L195.6 599.1L196.1 599.9L196.6 597.9L197.1 598.2L197.6 598.2L198.1 597.8L198.6 599.8L199.1 597.8L199.6 599.6L200.1 592.9L200.6 600.0L201.1 598.8L201.6 594.1L202.1 599.9L202.6 598.8L203.1 598.3L203.6 598.6L204.1 597.1L204.6 597.9L205.1 593.9L205.6 598.1L206.1 597.3L206.6 598.8L207.1 598.2L207.6 592.5L208.1 600.4L208.6 599.6L209.1 597.8L209.6 599.6L210.1 599.4L210.6 600.5L211.1 599.1L211.6 598.6L212.1 600.3L212.6 599.1L213.1 598.1L213.6 600.1L214.1 594.2L214.6 594.9L215.1 598.4L215.6 592.7L216.1 598.9L216.6 598.3L217.1 593.8L217.6 600.4L218.1 597.9L218.6 599.8L219.1 595.6L219.6 599.7L220.1 600.4L220.6 600.0L221.1 595.6L221.6 599.0L222.1 597.1L222.6 599.8L223.1 599.9L223.6 595.3L224.1 599.3L224.6 593.0L225.1 599.4L225.6 598.6L226.1 600.1L226.6 593.8L227.1 599.3L227.6 598.9L228.1 597.0L228.6 599.3L229.1 598.4L229.6 600.0L230.1 597.8L230.6 599.8L231.1 600.0L231.6 599.0L232.1 599.9L232.6 586.7L233.1 572.6L233.6 594.9L234.1 600.3L234.6 598.0L235.1 598.2L235.6 593.0L236.1 598.5L236.6 597.4L237.1 600.0L237.6 598.7L238.1 599.9L238.6 597.8L239.1 599.9L239.6 599.3L240.1 599.7L240.6 597.7L241.1 599.0L241.6 600.2L242.1 599.9L242.6 600.0L243.1 599.5L243.6 598.9L244.1 600.0L244.6 598.8L245.1 598.7L245.6 599.2L246.1 598.0L246.6 599.8L247.1 597.5L247.6 599.9L248.1 599.2L248.6 596.4L249.1 598.1L249.6 596.5L250.1 597.8L250.6 599.1L251.1 592.7L251.6 598.4L252.1 599.3L252.6 597.9L253.1 599.1L253.6 598.1L254.1 594.0L254.6 597.8L255.1 599.1L255.1 601.2Z" fill="#f04450" opacity="1"/><path d="M195.6 601.2L195.6 602.5L196.1 604.4L196.6 602.7L197.1 603.7L197.6 602.2L198.1 602.7L198.6 603.8L199.1 602.2L199.6 602.9L200.1 601.7L200.6 602.6L201.1 604.1L201.6 602.0L202.1 602.0L202.6 604.5L203.1 602.4L203.6 601.4L204.1 602.3L204.6 603.8L205.1 603.4L205.6 604.2L206.1 608.8L206.6 610.0L207.1 622.8L207.6 605.0L208.1 601.7L208.6 601.7L209.1 603.4L209.6 603.8L210.1 602.9L210.6 607.9L211.1 606.0L211.6 605.8L212.1 603.4L212.6 602.2L213.1 603.5L213.6 602.3L214.1 602.3L214.6 606.3L215.1 601.4L215.6 602.6L216.1 603.2L216.6 601.8L217.1 602.7L217.6 601.3L218.1 602.2L218.6 602.6L219.1 601.3L219.6 602.0L220.1 601.2L220.6 601.6L221.1 603.2L221.6 617.2L222.1 619.4L222.6 612.1L223.1 604.1L223.6 607.7L224.1 616.9L224.6 606.0L225.1 605.8L225.6 603.5L226.1 601.6L226.6 603.1L227.1 602.8L227.6 602.9L228.1 602.9L228.6 602.0L229.1 603.0L229.6 604.0L230.1 603.6L230.6 603.6L231.1 602.7L231.6 608.1L232.1 603.2L232.6 602.2L233.1 602.3L233.6 601.3L234.1 602.7L234.6 602.9L235.1 603.9L235.6 607.0L236.1 604.3L236.6 601.5L237.1 602.3L237.6 606.2L238.1 604.3L238.6 606.5L239.1 605.0L239.6 618.1L240.1 626.3L240.6 609.2L241.1 602.1L241.6 604.6L242.1 605.0L242.6 612.3L243.1 622.1L243.6 611.2L244.1 604.4L244.6 604.6L245.1 601.8L245.6 603.5L246.1 603.8L246.6 615.0L247.1 625.0L247.6 607.9L248.1 601.9L248.6 602.9L249.1 604.7L249.6 612.7L250.1 620.2L250.6 611.2L251.1 603.6L251.6 603.5L252.1 601.7L252.6 605.7L253.1 602.4L253.6 603.2L254.1 603.8L254.6 601.3L255.1 601.5L255.1 601.2Z" fill="#f04450" opacity="1"/><path d="M195.6 601.2L195.6 599.4L196.1 591.3L196.6 596.9L197.1 599.6L197.6 597.5L198.1 600.2L198.6 597.5L199.1 599.4L199.6 597.2L200.1 596.9L200.6 595.4L201.1 599.8L201.6 597.1L202.1 596.0L202.6 597.8L203.1 597.2L203.6 598.9L204.1 597.9L204.6 599.0L205.1 597.0L205.6 593.3L206.1 598.3L206.6 597.4L207.1 598.4L207.6 598.5L208.1 597.3L208.6 600.2L209.1 598.0L209.6 597.5L210.1 599.3L210.6 594.9L211.1 598.4L211.6 589.8L212.1 591.4L212.6 595.3L213.1 593.3L213.6 597.2L214.1 599.9L214.6 594.1L215.1 598.9L215.6 597.3L216.1 597.1L216.6 599.0L217.1 597.9L217.6 595.1L218.1 597.7L218.6 599.0L219.1 599.5L219.6 599.0L220.1 598.5L220.6 599.7L221.1 595.9L221.6 598.8L222.1 597.5L222.6 596.0L223.1 597.8L223.6 596.6L224.1 597.6L224.6 599.7L225.1 599.5L225.6 600.2L226.1 599.4L226.6 598.0L227.1 594.3L227.6 599.9L228.1 598.7L228.6 598.1L229.1 596.3L229.6 599.6L230.1 598.3L230.6 598.1L231.1 597.9L231.6 597.8L232.1 592.6L232.6 596.4L233.1 591.7L233.6 596.3L234.1 598.4L234.6 599.2L235.1 594.9L235.6 598.2L236.1 598.8L236.6 599.4L237.1 597.4L237.6 597.1L238.1 599.2L238.6 593.9L239.1 593.9L239.6 597.5L240.1 597.3L240.6 599.6L241.1 597.5L241.6 597.0L242.1 597.2L242.6 599.3L243.1 596.9L243.6 599.5L244.1 599.5L244.6 598.4L245.1 597.7L245.6 597.4L246.1 599.2L246.6 600.1L247.1 599.8L247.6 597.4L248.1 597.8L248.6 597.1L249.1 599.4L249.6 597.9L250.1 597.1L250.6 599.8L251.1 599.6L251.6 597.6L252.1 600.1L252.6 600.2L253.1 598.7L253.6 597.1L254.1 593.3L254.6 597.6L255.1 597.5L255.1 601.2Z" fill="#4a86f0" opacity="1"/><path d="M195.6 601.2L195.6 601.9L196.1 603.1L196.6 605.3L197.1 602.6L197.6 602.2L198.1 603.8L198.6 601.6L199.1 606.9L199.6 603.5L200.1 602.6L200.6 604.0L201.1 603.4L201.6 602.0L202.1 603.3L202.6 606.2L203.1 601.7L203.6 603.2L204.1 603.3L204.6 605.6L205.1 603.1L205.6 604.6L206.1 603.6L206.6 604.9L207.1 601.6L207.6 603.1L208.1 602.0L208.6 604.6L209.1 601.3L209.6 602.5L210.1 602.3L210.6 605.4L211.1 603.3L211.6 603.8L212.1 601.3L212.6 601.4L213.1 602.5L213.6 601.9L214.1 601.8L214.6 602.7L215.1 602.5L215.6 605.5L216.1 601.6L216.6 603.2L217.1 601.4L217.6 601.9L218.1 603.5L218.6 602.8L219.1 601.3L219.6 606.5L220.1 603.3L220.6 601.9L221.1 601.8L221.6 603.0L222.1 605.0L222.6 603.0L223.1 603.4L223.6 609.4L224.1 612.3L224.6 605.5L225.1 603.0L225.6 602.7L226.1 603.5L226.6 601.2L227.1 606.3L227.6 602.5L228.1 603.1L228.6 602.8L229.1 601.5L229.6 603.3L230.1 601.6L230.6 602.4L231.1 605.1L231.6 603.6L232.1 603.4L232.6 603.4L233.1 602.0L233.6 603.5L234.1 601.5L234.6 602.1L235.1 603.3L235.6 602.3L236.1 603.2L236.6 601.8L237.1 602.1L237.6 602.2L238.1 602.4L238.6 605.8L239.1 601.6L239.6 603.2L240.1 602.2L240.6 602.9L241.1 603.4L241.6 603.1L242.1 604.5L242.6 603.1L243.1 602.9L243.6 602.3L244.1 605.1L244.6 604.6L245.1 601.6L245.6 602.3L246.1 601.3L246.6 602.4L247.1 601.3L247.6 604.0L248.1 602.0L248.6 601.8L249.1 602.4L249.6 602.6L250.1 603.4L250.6 601.9L251.1 603.0L251.6 605.6L252.1 602.1L252.6 603.1L253.1 602.1L253.6 602.8L254.1 602.8L254.6 601.8L255.1 603.4L255.1 601.2Z" fill="#4a86f0" opacity="1"/><line x1="195.6" y1="570.5" x2="195.6" y2="631.8" stroke="#999" stroke-width="1" /><line x1="195.6" y1="601.2" x2="255.1" y2="601.2" stroke="#222" stroke-width="1.6" /><text x="196.6" y="575" font-size="7.77" textLength="14.77" lengthAdjust="spacingAndGlyphs">0-18</text><text x="195.6" y="630.2" font-size="8.05" textLength="17.86" lengthAdjust="spacingAndGlyphs">-18-0</text><path d="M232.3 638.5L227.3 633.7V636.25H220.5V640.75H227.3V643.3Z" fill="#ee4d5a"/><text x="279.8" y="457.4" font-size="7.2" textLength="16.6" lengthAdjust="spacingAndGlyphs">chr11</text><text x="256.1" y="464.6" font-size="7.7" textLength="65.1" lengthAdjust="spacingAndGlyphs">100,900-100,915 kb</text><rect x="258.3" y="470.5" width="60.1" height="6.2" fill="#f1f1f1" /><rect x="261" y="470.5" width="29.5" height="6" fill="#111" /><line x1="290.5" y1="473.5" x2="310" y2="473.5" stroke="#222" stroke-width="0.8" /><line x1="296.5" y1="470.5" x2="296.5" y2="476.5" stroke="#222" stroke-width="0.8" /><line x1="304.5" y1="470.5" x2="304.5" y2="476.5" stroke="#222" stroke-width="0.8" /><line x1="310" y1="473.5" x2="318" y2="473.5" stroke="#222" stroke-width="0.8" /><text x="290" y="481.3" font-size="8.2" fill="#333" textLength="14.8" lengthAdjust="spacingAndGlyphs" font-style="italic">PGR</text><path d="M258.6 518.5L258.6 518.2L259.1 518.1L259.6 518.0L260.1 518.1L260.6 518.3L261.1 518.4L261.6 518.4L262.1 518.2L262.6 518.3L263.1 518.1L263.6 518.1L264.1 518.2L264.6 518.1L265.1 518.0L265.6 518.2L266.1 518.1L266.6 518.1L267.1 518.1L267.6 518.2L268.1 518.3L268.6 518.0L269.1 518.2L269.6 518.0L270.1 518.0L270.6 518.0L271.1 518.2L271.6 518.2L272.1 518.2L272.6 518.2L273.1 518.1L273.6 518.1L274.1 518.3L274.6 518.3L275.1 518.1L275.6 518.3L276.1 518.1L276.6 518.2L277.1 517.8L277.6 517.3L278.1 515.4L278.6 507.6L279.1 493.6L279.6 489.0L280.1 496.5L280.6 507.1L281.1 511.6L281.6 512.1L282.1 514.3L282.6 516.0L283.1 517.4L283.6 517.9L284.1 518.1L284.6 518.3L285.1 518.1L285.6 518.0L286.1 518.0L286.6 518.1L287.1 518.2L287.6 518.2L288.1 518.2L288.6 518.2L289.1 518.2L289.6 518.3L290.1 518.1L290.6 518.3L291.1 518.2L291.6 518.3L292.1 518.3L292.6 518.4L293.1 518.2L293.6 518.3L294.1 518.2L294.6 518.3L295.1 518.2L295.6 518.3L296.1 518.3L296.6 518.2L297.1 518.3L297.6 518.1L298.1 518.2L298.6 518.2L299.1 518.3L299.6 518.1L300.1 518.3L300.6 518.2L301.1 518.1L301.6 518.2L302.1 518.3L302.6 518.3L303.1 518.3L303.6 518.2L304.1 518.0L304.6 518.2L305.1 518.0L305.6 518.3L306.1 518.1L306.6 518.2L307.1 518.1L307.6 518.4L308.1 518.1L308.6 518.4L309.1 518.2L309.6 518.4L310.1 518.4L310.6 518.4L311.1 518.3L311.6 518.4L312.1 518.3L312.6 518.3L313.1 518.3L313.6 518.3L314.1 518.1L314.6 518.1L315.1 518.0L315.6 518.2L316.1 518.3L316.6 518.4L317.1 518.2L317.6 518.2L318.1 518.2L318.1 518.5Z" fill="#f04450" opacity="1"/><path d="M258.6 518.5L258.6 518.4L259.1 518.3L259.6 518.2L260.1 518.2L260.6 518.3L261.1 518.3L261.6 518.1L262.1 518.2L262.6 518.0L263.1 518.1L263.6 518.3L264.1 518.2L264.6 518.4L265.1 518.3L265.6 518.3L266.1 518.1L266.6 518.0L267.1 518.1L267.6 518.2L268.1 518.3L268.6 518.3L269.1 518.3L269.6 518.2L270.1 518.2L270.6 518.4L271.1 518.3L271.6 518.2L272.1 518.2L272.6 518.1L273.1 518.0L273.6 518.3L274.1 518.1L274.6 518.4L275.1 518.3L275.6 518.1L276.1 518.2L276.6 518.2L277.1 518.1L277.6 517.9L278.1 517.2L278.6 516.0L279.1 514.5L279.6 514.4L280.1 515.0L280.6 516.5L281.1 517.7L281.6 518.0L282.1 518.1L282.6 518.1L283.1 518.1L283.6 518.2L284.1 518.3L284.6 518.4L285.1 518.3L285.6 518.1L286.1 518.1L286.6 518.1L287.1 518.1L287.6 518.3L288.1 518.3L288.6 518.1L289.1 518.2L289.6 518.1L290.1 518.2L290.6 518.1L291.1 518.2L291.6 518.1L292.1 518.0L292.6 518.1L293.1 518.1L293.6 518.3L294.1 518.2L294.6 518.3L295.1 518.3L295.6 518.1L296.1 518.1L296.6 518.2L297.1 518.3L297.6 518.2L298.1 518.2L298.6 518.3L299.1 518.1L299.6 518.3L300.1 518.4L300.6 518.2L301.1 518.3L301.6 518.3L302.1 518.2L302.6 518.4L303.1 518.4L303.6 518.2L304.1 518.3L304.6 518.2L305.1 518.1L305.6 518.0L306.1 518.0L306.6 518.2L307.1 518.0L307.6 518.2L308.1 518.2L308.6 518.4L309.1 518.2L309.6 518.2L310.1 518.4L310.6 518.4L311.1 518.2L311.6 518.2L312.1 518.2L312.6 518.2L313.1 518.0L313.6 518.3L314.1 518.1L314.6 518.4L315.1 518.2L315.6 518.3L316.1 518.4L316.6 518.2L317.1 518.2L317.6 518.2L318.1 518.1L318.1 518.5Z" fill="#4a86f0" opacity="1"/><line x1="258.6" y1="487.6" x2="258.6" y2="518.5" stroke="#999" stroke-width="1" /><line x1="258.6" y1="518.5" x2="318.1" y2="518.5" stroke="#222" stroke-width="1.2" /><text x="259.6" y="491.9" font-size="7.77" textLength="14.77" lengthAdjust="spacingAndGlyphs">0-85</text><path d="M258.6 551.8L258.6 542.0L259.1 545.3L259.6 547.1L260.1 544.5L260.6 542.3L261.1 535.5L261.6 537.0L262.1 542.0L262.6 542.6L263.1 545.8L263.6 546.3L264.1 549.0L264.6 548.8L265.1 545.8L265.6 546.6L266.1 549.2L266.6 548.1L267.1 547.1L267.6 544.8L268.1 540.0L268.6 545.8L269.1 545.0L269.6 542.2L270.1 535.4L270.6 538.8L271.1 538.1L271.6 535.5L272.1 539.8L272.6 542.4L273.1 541.8L273.6 536.7L274.1 541.1L274.6 541.7L275.1 537.7L275.6 537.0L276.1 540.4L276.6 529.6L277.1 530.8L277.6 533.9L278.1 532.5L278.6 534.8L279.1 522.8L279.6 522.8L280.1 530.3L280.6 541.5L281.1 543.8L281.6 542.5L282.1 541.3L282.6 535.9L283.1 536.4L283.6 534.1L284.1 541.0L284.6 544.4L285.1 546.3L285.6 547.7L286.1 545.9L286.6 545.8L287.1 546.6L287.6 547.2L288.1 548.9L288.6 548.3L289.1 546.7L289.6 548.7L290.1 551.3L290.6 551.8L291.1 551.8L291.6 551.8L292.1 551.8L292.6 551.8L293.1 551.8L293.6 551.8L294.1 551.8L294.6 551.8L295.1 551.8L295.6 551.8L296.1 551.8L296.6 551.8L297.1 551.8L297.6 551.8L298.1 551.8L298.6 551.8L299.1 551.8L299.6 551.8L300.1 551.8L300.6 551.8L301.1 551.8L301.6 551.8L302.1 551.8L302.6 551.8L303.1 551.8L303.6 551.8L304.1 551.8L304.6 551.8L305.1 551.8L305.6 551.8L306.1 551.8L306.6 551.8L307.1 551.8L307.6 551.8L308.1 551.8L308.6 551.8L309.1 551.8L309.6 551.8L310.1 551.8L310.6 551.8L311.1 551.8L311.6 551.8L312.1 551.8L312.6 551.8L313.1 551.8L313.6 551.8L314.1 551.8L314.6 551.8L315.1 551.8L315.6 551.8L316.1 551.8L316.6 551.8L317.1 551.8L317.6 551.8L318.1 551.8L318.1 551.8Z" fill="#f04450" opacity="1"/><path d="M258.6 551.8L258.6 546.2L259.1 549.0L259.6 549.7L260.1 550.1L260.6 550.5L261.1 549.2L261.6 550.2L262.1 549.3L262.6 549.9L263.1 550.0L263.6 550.2L264.1 549.2L264.6 550.0L265.1 549.6L265.6 549.5L266.1 549.1L266.6 549.4L267.1 549.3L267.6 550.2L268.1 550.4L268.6 549.6L269.1 550.2L269.6 549.4L270.1 549.5L270.6 549.4L271.1 549.0L271.6 549.8L272.1 549.7L272.6 549.9L273.1 549.0L273.6 550.0L274.1 549.0L274.6 548.8L275.1 548.5L275.6 548.2L276.1 548.1L276.6 548.0L277.1 548.0L277.6 547.7L278.1 547.7L278.6 546.4L279.1 546.2L279.6 546.2L280.1 546.6L280.6 547.2L281.1 547.7L281.6 546.7L282.1 548.0L282.6 547.9L283.1 548.3L283.6 548.3L284.1 549.9L284.6 549.8L285.1 550.2L285.6 550.1L286.1 550.4L286.6 549.5L287.1 550.1L287.6 549.1L288.1 548.9L288.6 548.9L289.1 549.4L289.6 549.5L290.1 549.9L290.6 550.0L291.1 550.1L291.6 549.8L292.1 549.5L292.6 549.0L293.1 549.2L293.6 548.6L294.1 548.8L294.6 548.8L295.1 549.1L295.6 549.4L296.1 549.4L296.6 549.0L297.1 549.8L297.6 548.8L298.1 549.2L298.6 548.6L299.1 549.0L299.6 548.7L300.1 549.5L300.6 549.3L301.1 549.8L301.6 549.9L302.1 550.4L302.6 550.1L303.1 549.7L303.6 549.7L304.1 549.8L304.6 549.0L305.1 549.8L305.6 549.3L306.1 549.9L306.6 549.8L307.1 549.0L307.6 549.7L308.1 549.7L308.6 550.5L309.1 550.5L309.6 550.3L310.1 549.9L310.6 549.1L311.1 549.8L311.6 549.6L312.1 549.2L312.6 549.8L313.1 549.2L313.6 549.8L314.1 550.0L314.6 549.0L315.1 548.6L315.6 549.5L316.1 547.1L316.6 549.9L317.1 549.1L317.6 549.8L318.1 549.4L318.1 551.8Z" fill="#4a86f0" opacity="1"/><line x1="258.6" y1="521.5" x2="258.6" y2="551.8" stroke="#999" stroke-width="1" /><line x1="258.6" y1="551.8" x2="318.1" y2="551.8" stroke="#222" stroke-width="1.2" /><text x="259.6" y="528.2" font-size="7.77" textLength="14.77" lengthAdjust="spacingAndGlyphs">0-17</text><path d="M258.6 601.2L258.6 601.2L259.1 601.2L259.6 601.2L260.1 601.2L260.6 601.2L261.1 601.2L261.6 601.2L262.1 601.2L262.6 601.2L263.1 601.2L263.6 601.2L264.1 601.2L264.6 601.2L265.1 601.2L265.6 601.2L266.1 601.2L266.6 601.2L267.1 601.2L267.6 601.2L268.1 596.9L268.6 595.4L269.1 592.7L269.6 581.1L270.1 589.6L270.6 594.8L271.1 588.9L271.6 595.9L272.1 593.3L272.6 590.7L273.1 575.4L273.6 580.5L274.1 587.6L274.6 589.1L275.1 594.6L275.6 587.5L276.1 590.7L276.6 593.1L277.1 572.2L277.6 588.3L278.1 595.2L278.6 587.5L279.1 589.3L279.6 595.4L280.1 589.3L280.6 578.1L281.1 587.1L281.6 596.4L282.1 594.5L282.6 591.5L283.1 591.1L283.6 597.2L284.1 592.3L284.6 587.4L285.1 595.8L285.6 590.9L286.1 594.9L286.6 598.8L287.1 572.2L287.6 587.5L288.1 591.9L288.6 593.1L289.1 594.0L289.6 572.2L290.1 593.2L290.6 594.6L291.1 594.2L291.6 596.9L292.1 589.4L292.6 597.3L293.1 592.9L293.6 589.6L294.1 595.0L294.6 577.2L295.1 590.1L295.6 589.9L296.1 591.3L296.6 586.8L297.1 580.5L297.6 597.8L298.1 587.5L298.6 592.8L299.1 597.2L299.6 591.7L300.1 592.1L300.6 588.4L301.1 591.3L301.6 587.1L302.1 597.1L302.6 593.5L303.1 590.1L303.6 596.3L304.1 587.6L304.6 582.4L305.1 587.2L305.6 597.4L306.1 595.5L306.6 588.7L307.1 596.1L307.6 587.8L308.1 591.7L308.6 593.5L309.1 592.1L309.6 596.5L310.1 589.9L310.6 582.7L311.1 595.4L311.6 595.6L312.1 589.2L312.6 588.5L313.1 598.1L313.6 589.5L314.1 597.3L314.6 598.5L315.1 595.0L315.6 586.7L316.1 596.3L316.6 578.2L317.1 597.4L317.6 572.7L318.1 601.2L318.1 601.2Z" fill="#f04450" opacity="1"/><path d="M258.6 601.2L258.6 603.1L259.1 601.6L259.6 603.1L260.1 601.4L260.6 602.2L261.1 604.6L261.6 602.7L262.1 603.3L262.6 603.9L263.1 602.8L263.6 603.4L264.1 601.7L264.6 602.8L265.1 606.2L265.6 601.4L266.1 602.4L266.6 603.8L267.1 604.0L267.6 602.1L268.1 605.1L268.6 604.0L269.1 603.5L269.6 602.3L270.1 601.3L270.6 601.7L271.1 602.9L271.6 605.5L272.1 602.1L272.6 601.6L273.1 602.4L273.6 603.8L274.1 601.7L274.6 605.9L275.1 602.3L275.6 607.1L276.1 603.2L276.6 601.8L277.1 603.5L277.6 604.1L278.1 603.5L278.6 601.8L279.1 603.8L279.6 601.6L280.1 602.7L280.6 602.4L281.1 602.3L281.6 602.2L282.1 602.9L282.6 603.7L283.1 602.0L283.6 602.4L284.1 605.1L284.6 604.0L285.1 603.1L285.6 607.4L286.1 602.1L286.6 602.6L287.1 606.5L287.6 601.8L288.1 602.1L288.6 602.5L289.1 603.5L289.6 603.6L290.1 604.4L290.6 607.6L291.1 604.4L291.6 614.7L292.1 628.6L292.6 611.2L293.1 603.8L293.6 603.8L294.1 602.5L294.6 602.9L295.1 602.9L295.6 603.9L296.1 603.4L296.6 602.4L297.1 603.5L297.6 603.9L298.1 602.3L298.6 604.0L299.1 606.0L299.6 603.5L300.1 601.6L300.6 603.2L301.1 603.0L301.6 603.1L302.1 604.0L302.6 601.3L303.1 602.0L303.6 607.8L304.1 603.0L304.6 602.5L305.1 604.2L305.6 604.0L306.1 603.0L306.6 602.2L307.1 602.1L307.6 603.9L308.1 601.3L308.6 602.5L309.1 603.9L309.6 602.9L310.1 604.9L310.6 601.8L311.1 602.6L311.6 603.8L312.1 603.8L312.6 604.8L313.1 602.6L313.6 602.6L314.1 601.5L314.6 603.1L315.1 602.0L315.6 603.0L316.1 603.2L316.6 601.5L317.1 605.2L317.6 604.2L318.1 602.8L318.1 601.2Z" fill="#f04450" opacity="1"/><path d="M258.6 601.2L258.6 595.3L259.1 597.9L259.6 589.1L260.1 598.1L260.6 597.7L261.1 599.2L261.6 598.8L262.1 600.0L262.6 596.6L263.1 596.5L263.6 596.8L264.1 596.9L264.6 596.1L265.1 599.5L265.6 599.4L266.1 598.4L266.6 599.6L267.1 599.9L267.6 595.9L268.1 593.2L268.6 598.9L269.1 592.0L269.6 599.0L270.1 598.0L270.6 600.0L271.1 596.0L271.6 599.6L272.1 599.5L272.6 598.3L273.1 599.1L273.6 591.0L274.1 599.8L274.6 598.7L275.1 596.6L275.6 593.1L276.1 596.6L276.6 597.5L277.1 600.0L277.6 598.3L278.1 596.2L278.6 599.9L279.1 598.4L279.6 594.9L280.1 599.1L280.6 591.9L281.1 590.2L281.6 596.8L282.1 599.3L282.6 592.7L283.1 596.5L283.6 597.6L284.1 597.2L284.6 598.6L285.1 596.3L285.6 596.1L286.1 596.1L286.6 596.4L287.1 597.9L287.6 596.4L288.1 597.1L288.6 596.5L289.1 599.9L289.6 597.1L290.1 598.2L290.6 594.1L291.1 594.9L291.6 599.8L292.1 598.0L292.6 598.6L293.1 597.4L293.6 598.8L294.1 592.5L294.6 598.3L295.1 597.5L295.6 594.0L296.1 599.9L296.6 598.1L297.1 600.0L297.6 596.9L298.1 590.5L298.6 594.4L299.1 593.7L299.6 597.5L300.1 594.5L300.6 592.7L301.1 596.4L301.6 599.4L302.1 596.9L302.6 598.5L303.1 590.8L303.6 597.7L304.1 596.7L304.6 597.6L305.1 596.1L305.6 597.9L306.1 596.4L306.6 598.9L307.1 596.3L307.6 596.3L308.1 592.5L308.6 599.2L309.1 599.3L309.6 596.6L310.1 596.5L310.6 599.2L311.1 597.5L311.6 596.1L312.1 597.3L312.6 599.7L313.1 598.7L313.6 599.3L314.1 599.0L314.6 599.3L315.1 597.3L315.6 596.4L316.1 598.9L316.6 595.8L317.1 597.3L317.6 600.0L318.1 597.4L318.1 601.2Z" fill="#4a86f0" opacity="1"/><path d="M258.6 601.2L258.6 601.2L259.1 601.4L259.6 602.9L260.1 603.2L260.6 602.1L261.1 602.9L261.6 602.9L262.1 603.1L262.6 603.1L263.1 602.6L263.6 605.7L264.1 602.1L264.6 603.8L265.1 605.2L265.6 601.9L266.1 602.2L266.6 602.7L267.1 601.4L267.6 602.8L268.1 601.7L268.6 603.3L269.1 601.8L269.6 605.5L270.1 602.6L270.6 602.6L271.1 603.4L271.6 603.3L272.1 602.0L272.6 602.4L273.1 602.6L273.6 602.1L274.1 604.2L274.6 606.0L275.1 601.4L275.6 601.4L276.1 601.9L276.6 603.3L277.1 604.2L277.6 601.4L278.1 603.4L278.6 602.8L279.1 602.2L279.6 602.3L280.1 603.2L280.6 602.9L281.1 602.6L281.6 604.2L282.1 601.2L282.6 602.6L283.1 603.1L283.6 601.7L284.1 605.2L284.6 606.2L285.1 601.8L285.6 602.2L286.1 602.4L286.6 602.0L287.1 601.3L287.6 602.3L288.1 601.3L288.6 602.9L289.1 603.5L289.6 601.6L290.1 603.0L290.6 602.4L291.1 602.7L291.6 601.4L292.1 601.8L292.6 601.3L293.1 606.4L293.6 604.8L294.1 602.8L294.6 603.3L295.1 602.4L295.6 602.8L296.1 601.7L296.6 603.4L297.1 602.4L297.6 601.7L298.1 602.7L298.6 602.4L299.1 602.5L299.6 606.4L300.1 601.8L300.6 601.5L301.1 601.4L301.6 602.7L302.1 603.6L302.6 602.8L303.1 602.1L303.6 601.8L304.1 602.7L304.6 601.8L305.1 603.3L305.6 603.0L306.1 603.3L306.6 604.0L307.1 601.7L307.6 602.6L308.1 603.4L308.6 601.4L309.1 601.4L309.6 603.5L310.1 602.2L310.6 602.2L311.1 603.4L311.6 602.8L312.1 603.6L312.6 603.2L313.1 601.2L313.6 602.8L314.1 601.4L314.6 602.2L315.1 601.9L315.6 601.9L316.1 602.1L316.6 603.1L317.1 602.4L317.6 602.2L318.1 603.8L318.1 601.2Z" fill="#4a86f0" opacity="1"/><line x1="258.6" y1="570.5" x2="258.6" y2="631.8" stroke="#999" stroke-width="1" /><line x1="258.6" y1="601.2" x2="318.1" y2="601.2" stroke="#222" stroke-width="1.6" /><text x="259.6" y="575" font-size="7.77" textLength="14.77" lengthAdjust="spacingAndGlyphs">0-10</text><text x="258.6" y="630.2" font-size="8.05" textLength="17.86" lengthAdjust="spacingAndGlyphs">-10-0</text><path d="M270 638.5L275 633.7V636.25H309.4V640.75H275V643.3Z" fill="#ee4d5a"/><text x="345.8" y="457.4" font-size="7.7" textLength="19" lengthAdjust="spacingAndGlyphs">chr17</text><text x="326.8" y="464.6" font-size="7.7" textLength="57" lengthAdjust="spacingAndGlyphs">38,470-38,500 kb</text><rect x="322.2" y="470.5" width="60.1" height="6.2" fill="#f1f1f1" /><line x1="323" y1="473.5" x2="377" y2="473.5" stroke="#222" stroke-width="0.8" /><path d="M325.2 472.3L326.6 473.5L325.2 474.7" fill="none" stroke="#5560e0" stroke-width="0.6" /><path d="M331.2 472.3L332.6 473.5L331.2 474.7" fill="none" stroke="#5560e0" stroke-width="0.6" /><path d="M337.2 472.3L338.6 473.5L337.2 474.7" fill="none" stroke="#5560e0" stroke-width="0.6" /><path d="M343.2 472.3L344.6 473.5L343.2 474.7" fill="none" stroke="#5560e0" stroke-width="0.6" /><path d="M349.2 472.3L350.6 473.5L349.2 474.7" fill="none" stroke="#5560e0" stroke-width="0.6" /><path d="M355.2 472.3L356.6 473.5L355.2 474.7" fill="none" stroke="#5560e0" stroke-width="0.6" /><path d="M361.2 472.3L362.6 473.5L361.2 474.7" fill="none" stroke="#5560e0" stroke-width="0.6" /><line x1="364" y1="470.5" x2="364" y2="476.5" stroke="#222" stroke-width="0.8" /><rect x="372.5" y="470.5" width="4.5" height="6" fill="#111" /><rect x="370" y="471.5" width="3" height="4" fill="#111" /><text x="356.6" y="481.3" font-size="8.2" fill="#333" textLength="19.1" lengthAdjust="spacingAndGlyphs" font-style="italic">RARA</text><path d="M322.5 518.5L322.5 518.4L323.0 518.3L323.5 515.4L324.0 502.4L324.5 502.7L325.0 514.6L325.5 518.1L326.0 518.1L326.5 518.1L327.0 518.1L327.5 518.4L328.0 518.2L328.5 518.2L329.0 518.0L329.5 518.2L330.0 518.1L330.5 518.3L331.0 518.0L331.5 518.1L332.0 518.0L332.5 518.2L333.0 518.1L333.5 518.3L334.0 518.4L334.5 518.4L335.0 518.4L335.5 518.4L336.0 518.2L336.5 518.2L337.0 518.3L337.5 518.3L338.0 518.1L338.5 517.4L339.0 510.0L339.5 494.5L340.0 493.4L340.5 508.2L341.0 516.9L341.5 518.3L342.0 518.2L342.5 518.2L343.0 518.0L343.5 518.1L344.0 518.2L344.5 518.3L345.0 518.2L345.5 518.2L346.0 518.1L346.5 518.3L347.0 518.1L347.5 518.3L348.0 518.2L348.5 518.3L349.0 518.1L349.5 518.2L350.0 518.1L350.5 518.1L351.0 518.3L351.5 518.3L352.0 518.2L352.5 518.4L353.0 518.3L353.5 518.1L354.0 518.1L354.5 518.3L355.0 518.1L355.5 518.2L356.0 518.0L356.5 518.1L357.0 518.3L357.5 518.1L358.0 517.2L358.5 514.8L359.0 514.3L359.5 516.8L360.0 518.0L360.5 518.2L361.0 518.3L361.5 518.4L362.0 518.3L362.5 518.2L363.0 518.1L363.5 518.2L364.0 518.1L364.5 518.3L365.0 518.0L365.5 518.3L366.0 518.1L366.5 518.3L367.0 518.1L367.5 518.0L368.0 518.1L368.5 518.1L369.0 518.2L369.5 518.3L370.0 518.2L370.5 518.1L371.0 518.1L371.5 518.2L372.0 518.3L372.5 517.8L373.0 515.4L373.5 514.0L374.0 516.7L374.5 518.2L375.0 518.1L375.5 518.1L376.0 518.2L376.5 518.1L377.0 518.1L377.5 518.3L378.0 518.0L378.5 518.2L379.0 518.1L379.5 518.3L380.0 518.1L380.5 518.0L381.0 518.0L381.5 518.0L382.0 518.1L382 518.5Z" fill="#f04450" opacity="1"/><path d="M322.5 518.5L322.5 518.1L323.0 518.0L323.5 518.1L324.0 518.0L324.5 518.1L325.0 518.3L325.5 518.3L326.0 518.3L326.5 518.1L327.0 518.1L327.5 518.0L328.0 518.2L328.5 518.1L329.0 518.3L329.5 518.3L330.0 518.2L330.5 518.4L331.0 518.3L331.5 518.2L332.0 518.0L332.5 518.0L333.0 518.1L333.5 518.0L334.0 518.0L334.5 518.2L335.0 518.1L335.5 518.3L336.0 518.2L336.5 518.2L337.0 518.1L337.5 518.1L338.0 518.0L338.5 517.3L339.0 513.8L339.5 509.5L340.0 508.4L340.5 512.2L341.0 516.5L341.5 517.9L342.0 518.3L342.5 518.4L343.0 518.3L343.5 518.2L344.0 518.1L344.5 518.2L345.0 518.2L345.5 518.0L346.0 518.1L346.5 518.1L347.0 518.2L347.5 518.3L348.0 518.3L348.5 518.1L349.0 518.3L349.5 518.2L350.0 518.3L350.5 518.2L351.0 518.1L351.5 518.2L352.0 518.3L352.5 518.3L353.0 518.4L353.5 518.4L354.0 518.4L354.5 518.3L355.0 518.3L355.5 518.2L356.0 518.2L356.5 518.1L357.0 518.1L357.5 518.3L358.0 518.1L358.5 518.4L359.0 518.3L359.5 518.4L360.0 518.4L360.5 518.4L361.0 518.2L361.5 518.2L362.0 518.0L362.5 518.2L363.0 518.2L363.5 518.3L364.0 518.2L364.5 518.2L365.0 518.2L365.5 518.2L366.0 518.3L366.5 518.0L367.0 518.1L367.5 518.1L368.0 518.2L368.5 518.3L369.0 518.3L369.5 518.1L370.0 518.2L370.5 518.1L371.0 518.3L371.5 518.1L372.0 518.1L372.5 518.2L373.0 518.2L373.5 518.2L374.0 518.3L374.5 518.1L375.0 518.2L375.5 518.2L376.0 518.4L376.5 518.1L377.0 518.2L377.5 518.1L378.0 518.1L378.5 518.0L379.0 518.2L379.5 518.1L380.0 518.0L380.5 518.2L381.0 518.3L381.5 518.3L382.0 518.1L382 518.5Z" fill="#4a86f0" opacity="1"/><line x1="322.5" y1="487.6" x2="322.5" y2="518.5" stroke="#999" stroke-width="1" /><line x1="322.5" y1="518.5" x2="382" y2="518.5" stroke="#222" stroke-width="1.2" /><text x="323.5" y="491.9" font-size="7.77" textLength="18.87" lengthAdjust="spacingAndGlyphs">0-120</text><path d="M322.5 551.8L322.5 542.0L323.0 543.1L323.5 542.8L324.0 542.8L324.5 539.8L325.0 540.2L325.5 539.6L326.0 539.4L326.5 534.7L327.0 535.3L327.5 530.8L328.0 533.8L328.5 532.6L329.0 536.7L329.5 537.7L330.0 533.0L330.5 533.8L331.0 525.7L331.5 535.6L332.0 539.3L332.5 539.3L333.0 540.8L333.5 541.9L334.0 544.1L334.5 542.7L335.0 543.6L335.5 542.4L336.0 539.2L336.5 541.2L337.0 542.7L337.5 543.9L338.0 540.6L338.5 543.2L339.0 535.2L339.5 523.1L340.0 522.8L340.5 533.6L341.0 538.5L341.5 542.8L342.0 544.6L342.5 543.4L343.0 538.8L343.5 538.6L344.0 540.5L344.5 541.0L345.0 540.0L345.5 538.2L346.0 539.0L346.5 542.8L347.0 543.4L347.5 543.9L348.0 540.3L348.5 540.8L349.0 542.5L349.5 540.5L350.0 542.8L350.5 540.3L351.0 540.4L351.5 538.7L352.0 540.0L352.5 549.4L353.0 551.8L353.5 551.8L354.0 551.8L354.5 551.8L355.0 551.8L355.5 551.8L356.0 551.8L356.5 551.8L357.0 551.8L357.5 551.1L358.0 547.4L358.5 537.2L359.0 539.4L359.5 546.3L360.0 550.7L360.5 551.7L361.0 551.8L361.5 551.8L362.0 551.8L362.5 551.8L363.0 551.8L363.5 551.8L364.0 551.8L364.5 551.8L365.0 551.8L365.5 551.8L366.0 551.8L366.5 551.8L367.0 551.8L367.5 551.8L368.0 551.8L368.5 551.8L369.0 551.8L369.5 551.8L370.0 551.8L370.5 551.8L371.0 551.8L371.5 551.8L372.0 551.8L372.5 551.8L373.0 551.8L373.5 551.8L374.0 551.8L374.5 551.8L375.0 551.8L375.5 551.8L376.0 551.8L376.5 551.8L377.0 551.8L377.5 551.8L378.0 551.8L378.5 551.8L379.0 551.8L379.5 551.8L380.0 551.8L380.5 551.8L381.0 551.8L381.5 551.8L382.0 551.8L382 551.8Z" fill="#f04450" opacity="1"/><path d="M322.5 551.8L322.5 547.2L323.0 545.5L323.5 543.7L324.0 539.9L324.5 544.4L325.0 544.9L325.5 544.5L326.0 544.8L326.5 544.9L327.0 546.6L327.5 545.7L328.0 547.2L328.5 545.4L329.0 544.9L329.5 546.0L330.0 545.6L330.5 546.6L331.0 546.7L331.5 544.5L332.0 545.5L332.5 543.4L333.0 546.1L333.5 546.4L334.0 547.3L334.5 546.8L335.0 546.5L335.5 544.5L336.0 546.2L336.5 544.5L337.0 545.0L337.5 543.9L338.0 545.6L338.5 543.1L339.0 543.0L339.5 542.4L340.0 542.0L340.5 540.5L341.0 543.4L341.5 542.8L342.0 544.7L342.5 545.9L343.0 546.7L343.5 546.2L344.0 543.4L344.5 542.5L345.0 537.8L345.5 538.9L346.0 543.4L346.5 543.4L347.0 545.3L347.5 546.8L348.0 546.9L348.5 545.5L349.0 546.9L349.5 545.3L350.0 545.0L350.5 545.8L351.0 546.0L351.5 546.0L352.0 546.7L352.5 546.3L353.0 544.6L353.5 544.6L354.0 545.5L354.5 544.1L355.0 545.2L355.5 546.1L356.0 545.4L356.5 546.6L357.0 546.3L357.5 545.2L358.0 545.2L358.5 544.3L359.0 544.0L359.5 544.4L360.0 545.1L360.5 545.6L361.0 546.1L361.5 547.1L362.0 547.6L362.5 547.2L363.0 546.9L363.5 546.1L364.0 544.7L364.5 544.8L365.0 543.8L365.5 543.0L366.0 538.7L366.5 545.0L367.0 545.9L367.5 546.6L368.0 544.9L368.5 545.2L369.0 544.1L369.5 546.2L370.0 545.7L370.5 547.1L371.0 546.6L371.5 545.3L372.0 546.3L372.5 546.7L373.0 546.7L373.5 545.7L374.0 544.7L374.5 547.1L375.0 546.0L375.5 547.2L376.0 547.2L376.5 544.9L377.0 546.0L377.5 544.1L378.0 544.6L378.5 543.4L379.0 544.9L379.5 538.4L380.0 543.6L380.5 544.1L381.0 544.9L381.5 544.1L382.0 543.6L382 551.8Z" fill="#4a86f0" opacity="1"/><line x1="322.5" y1="521.5" x2="322.5" y2="551.8" stroke="#999" stroke-width="1" /><line x1="322.5" y1="551.8" x2="382" y2="551.8" stroke="#222" stroke-width="1.2" /><text x="323.5" y="528.2" font-size="7.77" textLength="14.77" lengthAdjust="spacingAndGlyphs">0-14</text><path d="M322.5 601.2L322.5 594.7L323.0 598.5L323.5 598.3L324.0 594.0L324.5 596.9L325.0 597.5L325.5 597.7L326.0 596.9L326.5 598.6L327.0 599.7L327.5 597.3L328.0 592.5L328.5 585.8L329.0 596.3L329.5 600.0L330.0 599.9L330.5 598.9L331.0 598.4L331.5 599.3L332.0 597.7L332.5 599.9L333.0 596.3L333.5 586.7L334.0 584.6L334.5 597.1L335.0 591.8L335.5 598.6L336.0 591.9L336.5 597.4L337.0 597.7L337.5 595.1L338.0 589.2L338.5 597.6L339.0 596.7L339.5 598.1L340.0 596.2L340.5 591.9L341.0 596.1L341.5 600.2L342.0 597.6L342.5 595.0L343.0 600.3L343.5 596.1L344.0 598.8L344.5 597.6L345.0 598.2L345.5 598.4L346.0 599.3L346.5 596.7L347.0 595.0L347.5 597.8L348.0 600.5L348.5 598.6L349.0 597.8L349.5 596.2L350.0 596.1L350.5 597.2L351.0 598.5L351.5 598.1L352.0 594.9L352.5 593.2L353.0 599.0L353.5 599.3L354.0 586.6L354.5 600.0L355.0 595.4L355.5 595.7L356.0 584.7L356.5 595.4L357.0 593.4L357.5 593.1L358.0 596.5L358.5 597.5L359.0 597.0L359.5 596.7L360.0 598.6L360.5 598.0L361.0 593.4L361.5 589.0L362.0 598.4L362.5 598.2L363.0 599.4L363.5 597.1L364.0 596.2L364.5 595.4L365.0 592.0L365.5 598.9L366.0 596.8L366.5 600.6L367.0 598.3L367.5 589.2L368.0 594.5L368.5 595.7L369.0 592.9L369.5 595.4L370.0 590.3L370.5 586.7L371.0 598.0L371.5 595.3L372.0 598.6L372.5 598.4L373.0 595.7L373.5 596.8L374.0 598.4L374.5 598.5L375.0 596.5L375.5 598.9L376.0 598.4L376.5 600.6L377.0 594.5L377.5 599.7L378.0 598.4L378.5 598.9L379.0 598.6L379.5 596.9L380.0 596.6L380.5 596.8L381.0 591.9L381.5 595.9L382.0 589.7L382 601.2Z" fill="#f04450" opacity="1"/><path d="M322.5 601.2L322.5 604.5L323.0 625.6L323.5 614.7L324.0 608.7L324.5 612.8L325.0 606.4L325.5 616.9L326.0 606.0L326.5 611.8L327.0 609.1L327.5 604.8L328.0 606.7L328.5 605.8L329.0 601.5L329.5 607.7L330.0 611.1L330.5 608.8L331.0 610.0L331.5 601.4L332.0 608.9L332.5 615.9L333.0 623.6L333.5 613.4L334.0 612.1L334.5 610.3L335.0 609.5L335.5 604.0L336.0 610.5L336.5 609.4L337.0 606.1L337.5 606.9L338.0 604.2L338.5 602.7L339.0 601.9L339.5 602.1L340.0 609.3L340.5 628.2L341.0 617.8L341.5 610.8L342.0 616.8L342.5 611.7L343.0 616.4L343.5 609.6L344.0 601.9L344.5 607.8L345.0 612.5L345.5 605.5L346.0 610.3L346.5 611.0L347.0 609.2L347.5 612.5L348.0 606.5L348.5 606.6L349.0 604.2L349.5 606.6L350.0 603.8L350.5 606.1L351.0 605.4L351.5 610.3L352.0 605.2L352.5 602.5L353.0 603.7L353.5 603.7L354.0 603.8L354.5 611.4L355.0 604.1L355.5 603.5L356.0 612.2L356.5 606.2L357.0 602.6L357.5 611.5L358.0 610.5L358.5 608.6L359.0 608.0L359.5 611.9L360.0 621.2L360.5 619.4L361.0 610.8L361.5 628.7L362.0 607.2L362.5 616.0L363.0 601.9L363.5 613.5L364.0 610.0L364.5 623.6L365.0 630.2L365.5 622.2L366.0 609.7L366.5 606.0L367.0 610.1L367.5 607.8L368.0 605.8L368.5 601.2L369.0 603.0L369.5 610.1L370.0 629.1L370.5 609.6L371.0 606.1L371.5 602.3L372.0 601.9L372.5 611.9L373.0 603.2L373.5 604.9L374.0 611.4L374.5 612.5L375.0 602.2L375.5 602.8L376.0 609.3L376.5 609.0L377.0 611.1L377.5 618.7L378.0 603.8L378.5 605.1L379.0 608.2L379.5 603.4L380.0 606.0L380.5 604.9L381.0 603.7L381.5 607.5L382.0 603.3L382 601.2Z" fill="#f04450" opacity="1"/><path d="M322.5 601.2L322.5 586.7L323.0 597.0L323.5 598.4L324.0 596.9L324.5 596.4L325.0 594.0L325.5 584.4L326.0 598.7L326.5 593.2L327.0 587.4L327.5 594.2L328.0 591.7L328.5 598.0L329.0 595.3L329.5 596.5L330.0 598.9L330.5 595.4L331.0 595.5L331.5 585.0L332.0 594.2L332.5 585.0L333.0 596.2L333.5 596.7L334.0 596.5L334.5 587.6L335.0 599.7L335.5 597.7L336.0 594.8L336.5 594.3L337.0 592.5L337.5 590.9L338.0 593.4L338.5 594.5L339.0 599.2L339.5 594.9L340.0 597.0L340.5 595.0L341.0 592.9L341.5 596.2L342.0 599.7L342.5 590.8L343.0 594.7L343.5 598.2L344.0 598.2L344.5 596.3L345.0 594.6L345.5 591.8L346.0 590.3L346.5 595.3L347.0 595.0L347.5 598.9L348.0 584.1L348.5 594.7L349.0 585.1L349.5 599.8L350.0 597.8L350.5 596.9L351.0 589.5L351.5 598.1L352.0 595.4L352.5 594.1L353.0 596.0L353.5 589.5L354.0 597.0L354.5 584.2L355.0 597.7L355.5 592.9L356.0 597.7L356.5 598.9L357.0 595.7L357.5 596.6L358.0 597.8L358.5 591.7L359.0 596.4L359.5 596.7L360.0 599.1L360.5 598.2L361.0 596.6L361.5 599.6L362.0 597.1L362.5 596.8L363.0 600.0L363.5 596.1L364.0 593.4L364.5 590.0L365.0 594.0L365.5 599.7L366.0 592.2L366.5 595.3L367.0 598.3L367.5 598.1L368.0 598.1L368.5 596.8L369.0 597.0L369.5 595.3L370.0 599.6L370.5 594.2L371.0 599.4L371.5 598.6L372.0 596.9L372.5 599.1L373.0 598.2L373.5 595.3L374.0 589.9L374.5 599.5L375.0 597.9L375.5 597.8L376.0 599.1L376.5 591.9L377.0 597.9L377.5 599.0L378.0 596.9L378.5 595.2L379.0 588.9L379.5 598.4L380.0 597.8L380.5 598.1L381.0 594.9L381.5 599.8L382.0 597.9L382 601.2Z" fill="#4a86f0" opacity="1"/><path d="M322.5 601.2L322.5 604.3L323.0 611.1L323.5 605.0L324.0 603.1L324.5 602.1L325.0 602.5L325.5 605.4L326.0 602.8L326.5 603.0L327.0 612.9L327.5 606.3L328.0 603.7L328.5 606.7L329.0 605.9L329.5 603.3L330.0 608.0L330.5 603.7L331.0 604.4L331.5 602.8L332.0 602.4L332.5 603.6L333.0 603.4L333.5 606.4L334.0 602.8L334.5 602.0L335.0 602.5L335.5 603.2L336.0 611.0L336.5 601.8L337.0 603.1L337.5 602.6L338.0 605.1L338.5 605.1L339.0 602.9L339.5 603.4L340.0 602.5L340.5 608.5L341.0 607.8L341.5 602.9L342.0 605.5L342.5 611.1L343.0 605.7L343.5 605.5L344.0 605.2L344.5 604.6L345.0 609.4L345.5 603.5L346.0 610.7L346.5 606.3L347.0 605.1L347.5 604.5L348.0 608.0L348.5 603.7L349.0 606.1L349.5 602.4L350.0 613.4L350.5 603.7L351.0 603.8L351.5 604.8L352.0 602.0L352.5 607.0L353.0 605.2L353.5 604.1L354.0 602.6L354.5 606.9L355.0 605.4L355.5 606.2L356.0 604.6L356.5 605.0L357.0 609.6L357.5 602.0L358.0 602.4L358.5 611.6L359.0 602.4L359.5 605.7L360.0 603.6L360.5 605.8L361.0 604.3L361.5 602.7L362.0 604.5L362.5 602.8L363.0 606.0L363.5 604.8L364.0 606.6L364.5 603.9L365.0 606.4L365.5 602.4L366.0 609.5L366.5 604.9L367.0 609.7L367.5 610.4L368.0 615.0L368.5 603.5L369.0 603.3L369.5 603.9L370.0 605.2L370.5 601.9L371.0 602.6L371.5 602.4L372.0 602.1L372.5 603.2L373.0 603.5L373.5 602.6L374.0 610.5L374.5 604.2L375.0 604.2L375.5 606.4L376.0 604.6L376.5 602.0L377.0 613.3L377.5 602.0L378.0 602.5L378.5 604.1L379.0 606.7L379.5 609.5L380.0 604.6L380.5 610.8L381.0 609.6L381.5 608.6L382.0 603.5L382 601.2Z" fill="#4a86f0" opacity="1"/><line x1="322.5" y1="570.5" x2="322.5" y2="631.8" stroke="#999" stroke-width="1" /><line x1="322.5" y1="601.2" x2="382" y2="601.2" stroke="#222" stroke-width="1.6" /><text x="323.5" y="575" font-size="7.77" textLength="14.77" lengthAdjust="spacingAndGlyphs">0-12</text><text x="322.5" y="630.2" font-size="8.05" textLength="17.86" lengthAdjust="spacingAndGlyphs">-12-0</text><path d="M343.1 638.5L338.1 633.7V636.25H331.3V640.75H338.1V643.3Z" fill="#ee4d5a"/><text x="410" y="457.4" font-size="7.66" textLength="18.2" lengthAdjust="spacingAndGlyphs">chr12</text><text x="394.8" y="464.6" font-size="7.65" textLength="48.5" lengthAdjust="spacingAndGlyphs">2,900-2,915 kb</text><rect x="386.2" y="470.5" width="60.1" height="6.2" fill="#f1f1f1" /><line x1="401" y1="473.5" x2="434" y2="473.5" stroke="#222" stroke-width="0.8" /><line x1="403.5" y1="470.5" x2="403.5" y2="476.5" stroke="#222" stroke-width="0.8" /><line x1="406.9" y1="470.5" x2="406.9" y2="476.5" stroke="#222" stroke-width="0.8" /><line x1="410.7" y1="470.5" x2="410.7" y2="476.5" stroke="#222" stroke-width="0.8" /><line x1="414.2" y1="470.5" x2="414.2" y2="476.5" stroke="#222" stroke-width="0.8" /><line x1="416.5" y1="470.5" x2="416.5" y2="476.5" stroke="#222" stroke-width="0.8" /><line x1="419.5" y1="470.5" x2="419.5" y2="476.5" stroke="#222" stroke-width="0.8" /><line x1="422.4" y1="470.5" x2="422.4" y2="476.5" stroke="#222" stroke-width="0.8" /><line x1="424.4" y1="470.5" x2="424.4" y2="476.5" stroke="#222" stroke-width="0.8" /><rect x="409.5" y="470.5" width="2" height="6" fill="#111" /><rect x="433.2" y="470.7" width="9.6" height="5.6" fill="#111" /><path d="M401 473.5l2.5 -2v4z" fill="#222" /><path d="M428.7 472.3L430.1 473.5L428.7 474.7" fill="none" stroke="#5560e0" stroke-width="0.6" /><text x="419.3" y="481.3" font-size="8.2" fill="#333" textLength="22.1" lengthAdjust="spacingAndGlyphs" font-style="italic">FKBP4</text><path d="M386.5 518.5L386.5 518.1L387.0 518.1L387.5 518.3L388.0 518.1L388.5 518.3L389.0 518.0L389.5 518.3L390.0 518.1L390.5 518.2L391.0 518.2L391.5 518.3L392.0 518.3L392.5 518.2L393.0 518.3L393.5 518.1L394.0 518.3L394.5 518.2L395.0 518.2L395.5 518.1L396.0 518.3L396.5 518.2L397.0 518.1L397.5 518.1L398.0 518.3L398.5 518.2L399.0 518.4L399.5 518.1L400.0 517.7L400.5 515.7L401.0 512.8L401.5 515.4L402.0 517.6L402.5 518.3L403.0 518.4L403.5 518.4L404.0 518.2L404.5 518.2L405.0 518.2L405.5 517.5L406.0 513.2L406.5 502.5L407.0 489.0L407.5 498.3L408.0 501.3L408.5 507.0L409.0 511.3L409.5 515.2L410.0 517.2L410.5 518.0L411.0 518.2L411.5 518.1L412.0 518.3L412.5 518.1L413.0 518.1L413.5 518.1L414.0 518.2L414.5 518.3L415.0 518.2L415.5 518.2L416.0 518.2L416.5 518.3L417.0 518.1L417.5 518.2L418.0 518.1L418.5 518.1L419.0 518.3L419.5 518.3L420.0 518.2L420.5 518.3L421.0 518.3L421.5 518.2L422.0 518.1L422.5 518.0L423.0 518.1L423.5 518.1L424.0 518.3L424.5 518.3L425.0 518.2L425.5 518.4L426.0 518.3L426.5 518.3L427.0 518.1L427.5 518.1L428.0 518.3L428.5 518.3L429.0 518.2L429.5 518.3L430.0 518.4L430.5 518.4L431.0 518.2L431.5 518.2L432.0 518.2L432.5 518.2L433.0 518.0L433.5 518.1L434.0 518.0L434.5 518.0L435.0 518.2L435.5 518.3L436.0 518.3L436.5 518.3L437.0 518.1L437.5 518.1L438.0 518.2L438.5 518.0L439.0 518.2L439.5 518.1L440.0 518.2L440.5 518.3L441.0 518.2L441.5 518.3L442.0 518.3L442.5 518.3L443.0 518.2L443.5 518.1L444.0 518.1L444.5 518.2L445.0 518.3L445.5 518.4L446.0 518.2L446 518.5Z" fill="#f04450" opacity="1"/><path d="M386.5 518.5L386.5 518.0L387.0 518.0L387.5 518.0L388.0 518.1L388.5 518.1L389.0 518.3L389.5 518.1L390.0 518.1L390.5 518.2L391.0 518.1L391.5 518.1L392.0 518.1L392.5 518.1L393.0 518.1L393.5 518.3L394.0 518.1L394.5 518.3L395.0 518.2L395.5 518.0L396.0 518.1L396.5 518.1L397.0 518.0L397.5 518.1L398.0 518.0L398.5 518.0L399.0 518.2L399.5 517.9L400.0 517.9L400.5 517.3L401.0 516.7L401.5 516.0L402.0 515.4L402.5 516.0L403.0 516.8L403.5 517.4L404.0 518.0L404.5 518.3L405.0 518.1L405.5 517.6L406.0 515.8L406.5 511.9L407.0 511.2L407.5 511.6L408.0 515.5L408.5 517.6L409.0 518.1L409.5 518.4L410.0 518.2L410.5 518.2L411.0 518.1L411.5 518.3L412.0 518.3L412.5 518.4L413.0 518.4L413.5 518.4L414.0 518.3L414.5 518.0L415.0 518.1L415.5 518.0L416.0 518.2L416.5 518.0L417.0 518.0L417.5 518.2L418.0 518.2L418.5 518.1L419.0 518.2L419.5 518.1L420.0 518.2L420.5 518.1L421.0 518.1L421.5 518.0L422.0 518.0L422.5 518.1L423.0 518.2L423.5 518.1L424.0 518.3L424.5 518.3L425.0 518.3L425.5 518.3L426.0 518.3L426.5 518.3L427.0 518.2L427.5 518.2L428.0 518.2L428.5 518.3L429.0 518.1L429.5 518.3L430.0 518.3L430.5 518.2L431.0 518.2L431.5 518.3L432.0 518.2L432.5 518.4L433.0 518.1L433.5 518.2L434.0 518.3L434.5 518.2L435.0 518.3L435.5 518.4L436.0 518.3L436.5 518.1L437.0 518.1L437.5 518.1L438.0 518.2L438.5 518.3L439.0 518.3L439.5 518.1L440.0 518.2L440.5 518.2L441.0 518.3L441.5 518.4L442.0 518.3L442.5 518.2L443.0 518.3L443.5 518.2L444.0 518.1L444.5 518.2L445.0 518.2L445.5 518.3L446.0 518.2L446 518.5Z" fill="#4a86f0" opacity="1"/><line x1="386.5" y1="487.6" x2="386.5" y2="518.5" stroke="#999" stroke-width="1" /><line x1="386.5" y1="518.5" x2="446" y2="518.5" stroke="#222" stroke-width="1.2" /><text x="387.5" y="491.9" font-size="7.77" textLength="14.77" lengthAdjust="spacingAndGlyphs">0-70</text><path d="M386.5 551.8L386.5 549.6L387.0 549.3L387.5 549.0L388.0 547.8L388.5 547.2L389.0 549.6L389.5 549.7L390.0 547.6L390.5 547.2L391.0 548.6L391.5 547.7L392.0 548.1L392.5 547.5L393.0 548.6L393.5 547.0L394.0 547.1L394.5 547.3L395.0 549.4L395.5 549.6L396.0 548.4L396.5 545.9L397.0 543.2L397.5 547.9L398.0 549.4L398.5 548.6L399.0 547.0L399.5 545.7L400.0 543.4L400.5 545.5L401.0 537.8L401.5 524.9L402.0 525.8L402.5 538.6L403.0 539.9L403.5 539.7L404.0 538.2L404.5 536.4L405.0 534.6L405.5 540.3L406.0 538.9L406.5 536.7L407.0 525.8L407.5 540.8L408.0 546.6L408.5 547.7L409.0 549.7L409.5 549.2L410.0 547.2L410.5 546.8L411.0 546.3L411.5 548.2L412.0 548.2L412.5 547.1L413.0 547.6L413.5 548.8L414.0 547.6L414.5 547.6L415.0 549.2L415.5 549.2L416.0 548.0L416.5 548.0L417.0 546.7L417.5 547.0L418.0 548.5L418.5 547.2L419.0 547.1L419.5 547.2L420.0 548.2L420.5 549.0L421.0 547.1L421.5 546.8L422.0 548.7L422.5 549.5L423.0 549.3L423.5 548.5L424.0 547.7L424.5 543.4L425.0 542.0L425.5 546.2L426.0 546.5L426.5 546.6L427.0 548.4L427.5 548.8L428.0 545.2L428.5 546.7L429.0 548.3L429.5 546.9L430.0 546.9L430.5 546.9L431.0 546.9L431.5 547.7L432.0 549.2L432.5 548.4L433.0 548.4L433.5 548.3L434.0 548.3L434.5 547.1L435.0 547.4L435.5 548.1L436.0 548.7L436.5 547.0L437.0 545.3L437.5 546.7L438.0 549.0L438.5 547.3L439.0 548.0L439.5 547.4L440.0 549.1L440.5 548.1L441.0 546.8L441.5 546.9L442.0 548.5L442.5 547.3L443.0 548.9L443.5 548.5L444.0 547.8L444.5 548.9L445.0 548.1L445.5 548.6L446.0 547.7L446 551.8Z" fill="#f04450" opacity="1"/><path d="M386.5 551.8L386.5 547.8L387.0 544.8L387.5 548.7L388.0 547.3L388.5 549.1L389.0 547.3L389.5 547.3L390.0 546.9L390.5 546.8L391.0 548.9L391.5 549.6L392.0 549.6L392.5 549.8L393.0 548.9L393.5 549.3L394.0 548.7L394.5 548.6L395.0 548.9L395.5 549.0L396.0 549.1L396.5 548.9L397.0 546.9L397.5 544.5L398.0 546.9L398.5 546.5L399.0 547.6L399.5 546.9L400.0 546.8L400.5 545.7L401.0 545.2L401.5 545.1L402.0 544.9L402.5 544.0L403.0 542.9L403.5 540.7L404.0 542.6L404.5 543.2L405.0 543.6L405.5 541.9L406.0 543.5L406.5 545.0L407.0 544.5L407.5 545.4L408.0 543.0L408.5 546.1L409.0 546.9L409.5 548.0L410.0 549.1L410.5 548.4L411.0 548.3L411.5 547.9L412.0 549.4L412.5 549.3L413.0 549.5L413.5 549.3L414.0 548.9L414.5 548.2L415.0 547.7L415.5 547.9L416.0 547.9L416.5 548.4L417.0 548.4L417.5 549.6L418.0 548.0L418.5 549.9L419.0 549.3L419.5 550.1L420.0 549.9L420.5 549.6L421.0 549.3L421.5 547.8L422.0 548.3L422.5 544.5L423.0 547.6L423.5 548.2L424.0 549.1L424.5 547.7L425.0 548.8L425.5 548.7L426.0 549.3L426.5 546.4L427.0 549.2L427.5 548.6L428.0 548.9L428.5 548.7L429.0 548.9L429.5 547.7L430.0 548.2L430.5 548.7L431.0 548.8L431.5 549.4L432.0 547.9L432.5 549.0L433.0 548.5L433.5 549.2L434.0 547.5L434.5 548.4L435.0 547.1L435.5 547.8L436.0 547.0L436.5 548.7L437.0 546.8L437.5 548.3L438.0 548.7L438.5 547.9L439.0 549.0L439.5 548.9L440.0 548.8L440.5 548.3L441.0 549.6L441.5 548.5L442.0 549.5L442.5 549.2L443.0 549.0L443.5 549.5L444.0 549.5L444.5 549.2L445.0 549.7L445.5 548.8L446.0 549.7L446 551.8Z" fill="#4a86f0" opacity="1"/><line x1="386.5" y1="521.5" x2="386.5" y2="551.8" stroke="#999" stroke-width="1" /><line x1="386.5" y1="551.8" x2="446" y2="551.8" stroke="#222" stroke-width="1.2" /><text x="387.5" y="528.2" font-size="7.77" textLength="14.77" lengthAdjust="spacingAndGlyphs">0-14</text><path d="M386.5 601.2L386.5 599.6L387.0 598.5L387.5 599.0L388.0 597.6L388.5 600.2L389.0 597.6L389.5 592.0L390.0 594.1L390.5 589.2L391.0 594.6L391.5 599.8L392.0 599.9L392.5 590.4L393.0 587.9L393.5 598.8L394.0 595.7L394.5 599.0L395.0 598.9L395.5 594.5L396.0 586.6L396.5 592.0L397.0 598.2L397.5 597.8L398.0 600.2L398.5 600.0L399.0 597.2L399.5 598.7L400.0 597.5L400.5 597.5L401.0 599.6L401.5 596.1L402.0 588.0L402.5 598.6L403.0 595.9L403.5 598.2L404.0 593.3L404.5 595.3L405.0 600.3L405.5 595.8L406.0 597.0L406.5 598.1L407.0 591.3L407.5 598.3L408.0 593.1L408.5 589.2L409.0 598.4L409.5 597.2L410.0 595.9L410.5 596.7L411.0 595.5L411.5 592.1L412.0 581.2L412.5 590.1L413.0 598.7L413.5 598.2L414.0 596.1L414.5 591.4L415.0 597.1L415.5 599.5L416.0 597.0L416.5 596.7L417.0 597.7L417.5 597.4L418.0 591.0L418.5 599.1L419.0 596.5L419.5 596.8L420.0 599.2L420.5 599.0L421.0 599.5L421.5 595.9L422.0 595.6L422.5 597.8L423.0 597.1L423.5 597.9L424.0 591.0L424.5 599.4L425.0 597.6L425.5 598.7L426.0 598.7L426.5 597.1L427.0 597.4L427.5 597.6L428.0 589.4L428.5 595.5L429.0 599.7L429.5 592.8L430.0 576.8L430.5 583.5L431.0 599.8L431.5 592.9L432.0 598.0L432.5 591.6L433.0 596.6L433.5 599.3L434.0 596.1L434.5 599.3L435.0 595.9L435.5 598.9L436.0 596.9L436.5 599.7L437.0 589.7L437.5 598.9L438.0 597.4L438.5 599.4L439.0 600.3L439.5 598.2L440.0 597.5L440.5 598.1L441.0 591.1L441.5 590.7L442.0 598.0L442.5 597.5L443.0 599.2L443.5 596.6L444.0 598.8L444.5 598.1L445.0 595.9L445.5 595.3L446.0 590.3L446 601.2Z" fill="#f04450" opacity="1"/><path d="M386.5 601.2L386.5 601.3L387.0 602.2L387.5 602.7L388.0 601.4L388.5 603.3L389.0 601.4L389.5 602.3L390.0 603.8L390.5 607.5L391.0 624.9L391.5 609.4L392.0 602.1L392.5 603.9L393.0 603.0L393.5 602.6L394.0 606.1L394.5 601.5L395.0 601.7L395.5 603.2L396.0 603.0L396.5 606.6L397.0 606.1L397.5 605.3L398.0 621.5L398.5 607.8L399.0 602.7L399.5 603.2L400.0 602.7L400.5 603.4L401.0 605.6L401.5 603.5L402.0 604.5L402.5 603.4L403.0 602.0L403.5 602.0L404.0 602.5L404.5 603.2L405.0 602.8L405.5 601.8L406.0 602.3L406.5 607.3L407.0 603.7L407.5 601.9L408.0 603.0L408.5 603.9L409.0 603.3L409.5 605.7L410.0 607.9L410.5 605.8L411.0 603.6L411.5 603.3L412.0 603.4L412.5 603.2L413.0 601.5L413.5 604.0L414.0 602.0L414.5 603.6L415.0 602.3L415.5 602.1L416.0 601.6L416.5 601.5L417.0 602.2L417.5 603.9L418.0 603.1L418.5 602.8L419.0 602.6L419.5 602.0L420.0 601.4L420.5 601.5L421.0 601.8L421.5 601.5L422.0 601.9L422.5 601.4L423.0 603.5L423.5 605.4L424.0 603.5L424.5 602.3L425.0 602.2L425.5 603.6L426.0 601.7L426.5 603.9L427.0 602.7L427.5 607.7L428.0 601.2L428.5 602.1L429.0 601.7L429.5 603.3L430.0 601.6L430.5 601.5L431.0 602.8L431.5 601.6L432.0 607.3L432.5 607.8L433.0 603.6L433.5 603.5L434.0 603.6L434.5 605.0L435.0 601.2L435.5 604.3L436.0 603.5L436.5 603.8L437.0 607.6L437.5 604.0L438.0 603.2L438.5 601.5L439.0 603.0L439.5 603.8L440.0 603.0L440.5 605.7L441.0 601.4L441.5 603.6L442.0 602.4L442.5 602.3L443.0 603.8L443.5 603.8L444.0 603.2L444.5 603.7L445.0 603.0L445.5 603.0L446.0 603.7L446 601.2Z" fill="#f04450" opacity="1"/><path d="M386.5 601.2L386.5 597.1L387.0 597.0L387.5 598.8L388.0 600.3L388.5 598.8L389.0 597.0L389.5 597.8L390.0 594.2L390.5 598.0L391.0 596.8L391.5 600.3L392.0 598.7L392.5 597.0L393.0 597.1L393.5 594.5L394.0 598.6L394.5 600.3L395.0 597.2L395.5 599.2L396.0 599.5L396.5 589.8L397.0 595.7L397.5 599.5L398.0 598.1L398.5 596.6L399.0 597.7L399.5 597.5L400.0 595.2L400.5 593.0L401.0 589.8L401.5 590.5L402.0 597.2L402.5 598.4L403.0 599.9L403.5 593.6L404.0 599.4L404.5 599.9L405.0 598.3L405.5 591.7L406.0 600.5L406.5 599.7L407.0 600.1L407.5 596.6L408.0 600.1L408.5 598.5L409.0 598.4L409.5 598.6L410.0 597.8L410.5 596.4L411.0 599.1L411.5 596.9L412.0 597.3L412.5 597.9L413.0 597.9L413.5 595.7L414.0 595.7L414.5 599.0L415.0 599.2L415.5 596.9L416.0 598.7L416.5 596.4L417.0 592.8L417.5 599.5L418.0 600.1L418.5 598.9L419.0 598.0L419.5 598.6L420.0 592.2L420.5 598.6L421.0 597.6L421.5 599.1L422.0 599.5L422.5 595.7L423.0 598.8L423.5 599.6L424.0 599.6L424.5 598.5L425.0 596.7L425.5 600.5L426.0 597.3L426.5 593.7L427.0 599.9L427.5 596.9L428.0 600.1L428.5 592.2L429.0 599.8L429.5 600.6L430.0 599.3L430.5 595.8L431.0 599.0L431.5 598.1L432.0 597.7L432.5 596.3L433.0 599.1L433.5 599.7L434.0 597.4L434.5 598.2L435.0 591.9L435.5 596.6L436.0 598.9L436.5 599.3L437.0 599.3L437.5 599.6L438.0 599.9L438.5 599.1L439.0 593.1L439.5 600.2L440.0 598.4L440.5 594.5L441.0 599.3L441.5 597.7L442.0 599.5L442.5 597.2L443.0 597.7L443.5 597.9L444.0 597.7L444.5 597.0L445.0 598.6L445.5 599.4L446.0 600.5L446 601.2Z" fill="#4a86f0" opacity="1"/><path d="M386.5 601.2L386.5 605.4L387.0 604.8L387.5 603.4L388.0 603.1L388.5 603.8L389.0 603.3L389.5 601.5L390.0 601.3L390.5 602.3L391.0 601.3L391.5 601.8L392.0 602.3L392.5 608.7L393.0 609.2L393.5 607.1L394.0 604.3L394.5 601.6L395.0 601.4L395.5 603.1L396.0 606.2L396.5 603.1L397.0 601.3L397.5 602.9L398.0 602.9L398.5 603.8L399.0 602.5L399.5 603.2L400.0 602.1L400.5 602.7L401.0 601.5L401.5 601.7L402.0 601.8L402.5 602.0L403.0 604.5L403.5 602.0L404.0 605.2L404.5 604.2L405.0 601.4L405.5 603.2L406.0 606.6L406.5 605.2L407.0 603.1L407.5 603.3L408.0 605.9L408.5 601.2L409.0 603.1L409.5 603.5L410.0 601.7L410.5 603.8L411.0 603.4L411.5 603.2L412.0 603.1L412.5 601.6L413.0 601.4L413.5 603.2L414.0 603.5L414.5 602.2L415.0 602.4L415.5 604.8L416.0 602.2L416.5 602.9L417.0 602.9L417.5 605.4L418.0 602.3L418.5 603.4L419.0 601.9L419.5 605.5L420.0 604.8L420.5 602.1L421.0 603.4L421.5 603.6L422.0 602.6L422.5 602.8L423.0 601.9L423.5 604.7L424.0 602.3L424.5 603.1L425.0 602.7L425.5 605.7L426.0 603.1L426.5 602.9L427.0 604.1L427.5 602.0L428.0 602.3L428.5 602.7L429.0 601.3L429.5 605.6L430.0 602.9L430.5 602.0L431.0 602.2L431.5 601.8L432.0 603.5L432.5 603.0L433.0 602.8L433.5 604.5L434.0 601.5L434.5 603.5L435.0 603.1L435.5 605.1L436.0 601.9L436.5 601.3L437.0 601.3L437.5 601.9L438.0 602.9L438.5 603.4L439.0 601.8L439.5 603.3L440.0 601.4L440.5 604.6L441.0 602.9L441.5 605.2L442.0 603.5L442.5 601.8L443.0 601.4L443.5 605.8L444.0 602.8L444.5 602.0L445.0 602.0L445.5 603.3L446.0 604.3L446 601.2Z" fill="#4a86f0" opacity="1"/><line x1="386.5" y1="570.5" x2="386.5" y2="631.8" stroke="#999" stroke-width="1" /><line x1="386.5" y1="601.2" x2="446" y2="601.2" stroke="#222" stroke-width="1.6" /><text x="387.5" y="575" font-size="7.77" textLength="14.77" lengthAdjust="spacingAndGlyphs">0-20</text><text x="386.5" y="630.2" font-size="8.05" textLength="17.86" lengthAdjust="spacingAndGlyphs">-20-0</text><path d="M405.8 638.5L400.8 633.7V636.25H397.8V640.75H400.8V643.3Z" fill="#ee4d5a"/><text x="475.6" y="457.4" font-size="7.7" textLength="15.2" lengthAdjust="spacingAndGlyphs">chr7</text><text x="453.6" y="464.6" font-size="7.6" textLength="56.2" lengthAdjust="spacingAndGlyphs">16,915-16,925 kb</text><rect x="451" y="470.5" width="60.1" height="6.2" fill="#f1f1f1" /><line x1="452" y1="473.5" x2="490" y2="473.5" stroke="#222" stroke-width="0.8" /><path d="M453.57 472.3L454.98 473.5L453.57 474.7" fill="none" stroke="#5560e0" stroke-width="0.6" /><path d="M458.32 472.3L459.73 473.5L458.32 474.7" fill="none" stroke="#5560e0" stroke-width="0.6" /><path d="M463.07 472.3L464.48 473.5L463.07 474.7" fill="none" stroke="#5560e0" stroke-width="0.6" /><path d="M467.82 472.3L469.23 473.5L467.82 474.7" fill="none" stroke="#5560e0" stroke-width="0.6" /><path d="M472.57 472.3L473.98 473.5L472.57 474.7" fill="none" stroke="#5560e0" stroke-width="0.6" /><path d="M477.32 472.3L478.73 473.5L477.32 474.7" fill="none" stroke="#5560e0" stroke-width="0.6" /><path d="M482.07 472.3L483.48 473.5L482.07 474.7" fill="none" stroke="#5560e0" stroke-width="0.6" /><path d="M486.82 472.3L488.23 473.5L486.82 474.7" fill="none" stroke="#5560e0" stroke-width="0.6" /><line x1="470.5" y1="470.5" x2="470.5" y2="476.5" stroke="#222" stroke-width="0.8" /><text x="481.6" y="481.3" font-size="8.2" fill="#333" textLength="19.8" lengthAdjust="spacingAndGlyphs" font-style="italic">AGR3</text><path d="M451.3 518.5L451.3 518.2L451.8 518.1L452.3 518.1L452.8 518.2L453.3 518.1L453.8 518.3L454.3 518.2L454.8 518.3L455.3 518.4L455.8 518.2L456.3 518.4L456.8 518.4L457.3 518.3L457.8 518.2L458.3 518.2L458.8 518.2L459.3 518.2L459.8 518.4L460.3 518.3L460.8 518.1L461.3 518.1L461.8 518.1L462.3 518.1L462.8 518.1L463.3 518.1L463.8 518.2L464.3 518.3L464.8 518.3L465.3 518.0L465.8 518.1L466.3 518.0L466.8 518.1L467.3 518.2L467.8 518.3L468.3 518.1L468.8 518.2L469.3 518.3L469.8 518.4L470.3 518.3L470.8 518.2L471.3 518.1L471.8 517.6L472.3 516.8L472.8 516.3L473.3 517.2L473.8 518.1L474.3 518.4L474.8 518.3L475.3 518.2L475.8 518.1L476.3 518.3L476.8 518.0L477.3 518.3L477.8 518.1L478.3 518.1L478.8 518.3L479.3 518.1L479.8 518.2L480.3 518.2L480.8 518.2L481.3 518.2L481.8 518.0L482.3 517.2L482.8 509.7L483.3 492.5L483.8 498.5L484.3 511.3L484.8 517.6L485.3 518.2L485.8 518.3L486.3 518.1L486.8 518.1L487.3 518.1L487.8 518.1L488.3 518.2L488.8 518.0L489.3 518.1L489.8 518.2L490.3 518.2L490.8 518.3L491.3 518.4L491.8 518.4L492.3 518.4L492.8 518.3L493.3 518.3L493.8 518.2L494.3 518.3L494.8 518.0L495.3 518.2L495.8 518.0L496.3 518.2L496.8 518.1L497.3 518.3L497.8 518.1L498.3 518.2L498.8 518.3L499.3 518.2L499.8 518.2L500.3 518.1L500.8 518.3L501.3 518.2L501.8 518.2L502.3 518.1L502.8 518.3L503.3 518.2L503.8 518.3L504.3 518.1L504.8 518.3L505.3 518.2L505.8 518.1L506.3 518.2L506.8 518.2L507.3 518.2L507.8 518.2L508.3 518.4L508.8 518.4L509.3 518.2L509.8 518.3L510.3 518.2L510.8 518.1L510.8 518.5Z" fill="#f04450" opacity="1"/><path d="M451.3 518.5L451.3 518.2L451.8 518.3L452.3 518.4L452.8 518.4L453.3 518.3L453.8 518.2L454.3 518.2L454.8 518.4L455.3 518.4L455.8 518.4L456.3 518.3L456.8 518.3L457.3 518.1L457.8 518.1L458.3 518.2L458.8 518.4L459.3 518.4L459.8 518.3L460.3 518.3L460.8 518.2L461.3 518.3L461.8 518.3L462.3 518.4L462.8 518.4L463.3 518.3L463.8 518.4L464.3 518.2L464.8 518.3L465.3 518.2L465.8 518.1L466.3 518.3L466.8 518.1L467.3 518.3L467.8 518.2L468.3 518.2L468.8 518.0L469.3 518.1L469.8 518.3L470.3 518.3L470.8 518.3L471.3 518.3L471.8 518.3L472.3 518.3L472.8 518.3L473.3 518.3L473.8 518.4L474.3 518.4L474.8 518.2L475.3 518.3L475.8 518.2L476.3 518.3L476.8 518.4L477.3 518.3L477.8 518.3L478.3 518.1L478.8 518.3L479.3 518.2L479.8 518.2L480.3 518.3L480.8 518.2L481.3 518.3L481.8 518.2L482.3 518.1L482.8 517.4L483.3 516.9L483.8 517.0L484.3 517.5L484.8 518.2L485.3 518.1L485.8 518.3L486.3 518.1L486.8 518.1L487.3 518.2L487.8 518.2L488.3 518.4L488.8 518.3L489.3 518.3L489.8 518.4L490.3 518.4L490.8 518.3L491.3 518.3L491.8 518.3L492.3 518.1L492.8 518.0L493.3 518.2L493.8 518.1L494.3 518.2L494.8 518.4L495.3 518.3L495.8 518.2L496.3 518.0L496.8 518.0L497.3 518.0L497.8 518.2L498.3 518.0L498.8 518.2L499.3 518.3L499.8 518.4L500.3 518.1L500.8 518.3L501.3 518.2L501.8 518.3L502.3 518.1L502.8 518.1L503.3 518.3L503.8 518.3L504.3 518.3L504.8 518.1L505.3 518.1L505.8 518.1L506.3 518.1L506.8 518.1L507.3 518.1L507.8 518.1L508.3 518.2L508.8 518.2L509.3 518.2L509.8 518.2L510.3 518.1L510.8 518.3L510.8 518.5Z" fill="#4a86f0" opacity="1"/><line x1="451.3" y1="487.6" x2="451.3" y2="518.5" stroke="#999" stroke-width="1" /><line x1="451.3" y1="518.5" x2="510.8" y2="518.5" stroke="#222" stroke-width="1.2" /><text x="452.3" y="491.9" font-size="7.77" textLength="14.77" lengthAdjust="spacingAndGlyphs">0-60</text><path d="M451.3 551.8L451.3 551.8L451.8 551.8L452.3 551.8L452.8 551.8L453.3 551.8L453.8 551.8L454.3 551.8L454.8 551.8L455.3 551.8L455.8 551.8L456.3 551.8L456.8 551.8L457.3 551.8L457.8 551.8L458.3 551.8L458.8 551.8L459.3 551.8L459.8 551.8L460.3 551.8L460.8 551.8L461.3 551.8L461.8 551.8L462.3 551.8L462.8 551.8L463.3 551.8L463.8 551.8L464.3 551.8L464.8 550.3L465.3 545.2L465.8 544.1L466.3 534.2L466.8 543.9L467.3 544.1L467.8 541.6L468.3 543.1L468.8 547.1L469.3 548.0L469.8 545.3L470.3 539.0L470.8 528.3L471.3 538.0L471.8 546.7L472.3 546.3L472.8 541.0L473.3 541.6L473.8 542.5L474.3 541.4L474.8 543.3L475.3 536.6L475.8 532.5L476.3 529.1L476.8 536.2L477.3 542.0L477.8 544.8L478.3 542.2L478.8 542.1L479.3 545.0L479.8 539.5L480.3 545.5L480.8 542.5L481.3 533.9L481.8 537.5L482.3 532.8L482.8 528.6L483.3 528.2L483.8 539.5L484.3 540.3L484.8 544.2L485.3 543.5L485.8 545.0L486.3 537.6L486.8 531.0L487.3 527.0L487.8 542.2L488.3 544.3L488.8 539.6L489.3 536.6L489.8 539.5L490.3 535.9L490.8 535.2L491.3 526.7L491.8 522.8L492.3 533.4L492.8 538.1L493.3 531.5L493.8 539.9L494.3 543.7L494.8 542.1L495.3 547.0L495.8 546.3L496.3 542.1L496.8 544.5L497.3 539.7L497.8 528.6L498.3 529.0L498.8 532.7L499.3 532.1L499.8 544.8L500.3 546.3L500.8 542.5L501.3 544.0L501.8 541.6L502.3 529.5L502.8 522.8L503.3 530.5L503.8 541.2L504.3 543.2L504.8 529.9L505.3 530.7L505.8 539.7L506.3 549.7L506.8 551.8L507.3 551.8L507.8 551.8L508.3 551.8L508.8 551.8L509.3 551.8L509.8 551.8L510.3 551.8L510.8 551.8L510.8 551.8Z" fill="#f04450" opacity="1"/><path d="M451.3 551.8L451.3 547.5L451.8 548.5L452.3 549.0L452.8 549.5L453.3 549.5L453.8 549.2L454.3 549.1L454.8 549.4L455.3 548.9L455.8 549.3L456.3 548.7L456.8 548.9L457.3 549.0L457.8 548.6L458.3 548.8L458.8 548.7L459.3 549.1L459.8 548.7L460.3 548.4L460.8 548.9L461.3 548.7L461.8 548.7L462.3 548.2L462.8 548.3L463.3 548.2L463.8 548.3L464.3 548.3L464.8 548.1L465.3 548.8L465.8 548.8L466.3 548.8L466.8 547.8L467.3 548.4L467.8 548.0L468.3 547.0L468.8 546.9L469.3 546.7L469.8 547.0L470.3 546.6L470.8 546.4L471.3 545.5L471.8 546.0L472.3 545.3L472.8 546.0L473.3 545.3L473.8 544.6L474.3 544.9L474.8 544.5L475.3 543.6L475.8 543.9L476.3 543.6L476.8 543.4L477.3 543.2L477.8 543.2L478.3 542.7L478.8 542.3L479.3 542.2L479.8 542.0L480.3 542.2L480.8 541.9L481.3 541.8L481.8 541.3L482.3 541.9L482.8 540.8L483.3 541.4L483.8 541.7L484.3 541.8L484.8 542.6L485.3 541.6L485.8 540.7L486.3 541.3L486.8 541.3L487.3 542.4L487.8 541.9L488.3 541.5L488.8 541.2L489.3 542.0L489.8 541.6L490.3 542.4L490.8 541.9L491.3 543.5L491.8 543.7L492.3 543.2L492.8 543.3L493.3 542.4L493.8 543.1L494.3 543.9L494.8 544.9L495.3 544.9L495.8 545.3L496.3 544.7L496.8 545.3L497.3 545.5L497.8 544.9L498.3 545.3L498.8 545.7L499.3 546.3L499.8 547.2L500.3 546.2L500.8 546.8L501.3 546.4L501.8 544.8L502.3 547.7L502.8 547.5L503.3 548.3L503.8 548.6L504.3 547.9L504.8 548.5L505.3 547.8L505.8 548.5L506.3 548.2L506.8 548.7L507.3 548.5L507.8 549.2L508.3 549.3L508.8 549.0L509.3 548.8L509.8 548.7L510.3 549.0L510.8 549.1L510.8 551.8Z" fill="#4a86f0" opacity="1"/><line x1="451.3" y1="521.5" x2="451.3" y2="551.8" stroke="#999" stroke-width="1" /><line x1="451.3" y1="551.8" x2="510.8" y2="551.8" stroke="#222" stroke-width="1.2" /><text x="452.3" y="528.2" font-size="7.77" textLength="14.77" lengthAdjust="spacingAndGlyphs">0-14</text><path d="M451.3 601.2L451.3 600.8L451.8 600.5L452.3 600.8L452.8 600.5L453.3 600.1L453.8 597.6L454.3 600.2L454.8 599.0L455.3 599.3L455.8 600.9L456.3 599.4L456.8 599.3L457.3 595.0L457.8 581.5L458.3 582.6L458.8 597.2L459.3 597.5L459.8 600.7L460.3 597.0L460.8 600.0L461.3 600.5L461.8 599.0L462.3 600.1L462.8 600.4L463.3 599.2L463.8 597.9L464.3 598.6L464.8 601.1L465.3 600.5L465.8 600.8L466.3 596.9L466.8 599.4L467.3 601.0L467.8 600.9L468.3 600.7L468.8 600.6L469.3 598.2L469.8 600.3L470.3 601.2L470.8 599.8L471.3 600.3L471.8 601.1L472.3 601.1L472.8 599.3L473.3 599.1L473.8 599.4L474.3 599.0L474.8 596.6L475.3 599.8L475.8 599.9L476.3 600.0L476.8 600.2L477.3 600.3L477.8 600.0L478.3 599.8L478.8 596.4L479.3 586.1L479.8 573.3L480.3 573.3L480.8 587.4L481.3 587.7L481.8 583.5L482.3 585.2L482.8 594.4L483.3 600.6L483.8 599.2L484.3 599.1L484.8 599.2L485.3 598.5L485.8 599.9L486.3 601.1L486.8 599.5L487.3 600.9L487.8 597.2L488.3 599.4L488.8 600.8L489.3 599.7L489.8 600.6L490.3 599.4L490.8 599.3L491.3 600.5L491.8 600.7L492.3 601.1L492.8 599.8L493.3 600.5L493.8 596.8L494.3 599.7L494.8 600.7L495.3 598.0L495.8 600.9L496.3 600.3L496.8 600.9L497.3 598.3L497.8 596.6L498.3 599.5L498.8 600.5L499.3 599.2L499.8 600.8L500.3 601.0L500.8 598.9L501.3 599.9L501.8 600.3L502.3 599.0L502.8 599.1L503.3 600.3L503.8 600.3L504.3 599.1L504.8 599.3L505.3 600.6L505.8 599.8L506.3 595.7L506.8 598.5L507.3 599.5L507.8 599.4L508.3 598.7L508.8 599.5L509.3 600.1L509.8 599.4L510.3 598.8L510.8 599.7L510.8 601.2Z" fill="#f04450" opacity="1"/><path d="M451.3 601.2L451.3 602.1L451.8 602.3L452.3 602.8L452.8 602.7L453.3 601.3L453.8 602.7L454.3 601.3L454.8 602.4L455.3 601.7L455.8 602.8L456.3 604.0L456.8 602.8L457.3 601.7L457.8 602.9L458.3 605.4L458.8 601.9L459.3 601.6L459.8 602.8L460.3 602.3L460.8 602.6L461.3 603.4L461.8 601.9L462.3 601.6L462.8 602.8L463.3 601.4L463.8 602.4L464.3 601.8L464.8 602.9L465.3 602.7L465.8 602.9L466.3 601.9L466.8 601.6L467.3 601.4L467.8 601.9L468.3 602.3L468.8 602.2L469.3 602.5L469.8 602.0L470.3 604.8L470.8 602.5L471.3 603.9L471.8 602.0L472.3 602.6L472.8 601.3L473.3 602.8L473.8 603.1L474.3 601.3L474.8 602.1L475.3 602.3L475.8 602.1L476.3 601.5L476.8 602.4L477.3 602.9L477.8 601.9L478.3 601.8L478.8 601.9L479.3 601.2L479.8 604.9L480.3 601.3L480.8 603.0L481.3 602.4L481.8 601.3L482.3 601.8L482.8 602.1L483.3 602.7L483.8 602.7L484.3 602.8L484.8 601.5L485.3 602.4L485.8 603.9L486.3 604.5L486.8 604.0L487.3 601.5L487.8 603.3L488.3 602.4L488.8 601.9L489.3 602.5L489.8 601.6L490.3 602.2L490.8 601.3L491.3 602.0L491.8 602.5L492.3 601.7L492.8 601.5L493.3 603.8L493.8 602.7L494.3 601.7L494.8 604.5L495.3 601.5L495.8 601.3L496.3 602.9L496.8 601.6L497.3 602.9L497.8 603.3L498.3 602.9L498.8 602.0L499.3 601.6L499.8 601.5L500.3 602.3L500.8 602.5L501.3 602.7L501.8 603.2L502.3 602.2L502.8 601.3L503.3 602.9L503.8 603.1L504.3 602.7L504.8 602.7L505.3 602.5L505.8 601.4L506.3 601.2L506.8 602.2L507.3 601.2L507.8 604.5L508.3 602.1L508.8 602.3L509.3 602.3L509.8 601.6L510.3 602.6L510.8 601.9L510.8 601.2Z" fill="#f04450" opacity="1"/><path d="M451.3 601.2L451.3 601.1L451.8 600.9L452.3 599.2L452.8 599.8L453.3 597.0L453.8 600.2L454.3 598.0L454.8 601.1L455.3 599.2L455.8 600.7L456.3 600.1L456.8 599.6L457.3 600.2L457.8 599.5L458.3 599.3L458.8 601.0L459.3 599.7L459.8 599.8L460.3 600.0L460.8 600.7L461.3 600.3L461.8 597.2L462.3 599.2L462.8 600.9L463.3 599.7L463.8 599.2L464.3 600.8L464.8 600.2L465.3 600.5L465.8 600.8L466.3 600.2L466.8 599.6L467.3 600.7L467.8 599.3L468.3 598.6L468.8 599.8L469.3 600.1L469.8 600.1L470.3 600.7L470.8 599.2L471.3 599.7L471.8 599.6L472.3 601.2L472.8 597.0L473.3 600.0L473.8 599.4L474.3 598.7L474.8 600.6L475.3 599.5L475.8 600.1L476.3 600.2L476.8 598.8L477.3 601.0L477.8 599.1L478.3 600.1L478.8 597.1L479.3 589.4L479.8 584.4L480.3 581.7L480.8 592.1L481.3 598.2L481.8 600.4L482.3 599.3L482.8 600.8L483.3 599.6L483.8 600.3L484.3 601.2L484.8 597.6L485.3 600.9L485.8 599.8L486.3 600.4L486.8 600.4L487.3 601.0L487.8 600.3L488.3 600.9L488.8 599.4L489.3 598.3L489.8 601.0L490.3 597.0L490.8 600.9L491.3 600.1L491.8 599.3L492.3 600.4L492.8 600.6L493.3 600.2L493.8 595.8L494.3 597.3L494.8 594.4L495.3 594.7L495.8 597.7L496.3 598.6L496.8 600.6L497.3 599.1L497.8 600.1L498.3 599.7L498.8 599.3L499.3 600.4L499.8 599.6L500.3 600.9L500.8 599.6L501.3 598.4L501.8 599.3L502.3 597.1L502.8 600.4L503.3 600.2L503.8 601.2L504.3 600.4L504.8 599.4L505.3 598.8L505.8 601.1L506.3 600.9L506.8 600.0L507.3 599.4L507.8 599.1L508.3 600.9L508.8 601.0L509.3 599.6L509.8 600.9L510.3 599.6L510.8 600.7L510.8 601.2Z" fill="#4a86f0" opacity="1"/><path d="M451.3 601.2L451.3 601.2L451.8 601.2L452.3 601.2L452.8 601.2L453.3 601.2L453.8 601.2L454.3 601.2L454.8 601.2L455.3 603.0L455.8 602.9L456.3 603.5L456.8 602.8L457.3 602.2L457.8 601.2L458.3 607.7L458.8 604.3L459.3 602.0L459.8 603.1L460.3 606.7L460.8 604.3L461.3 604.3L461.8 602.1L462.3 601.8L462.8 605.9L463.3 607.2L463.8 603.8L464.3 608.3L464.8 604.2L465.3 601.8L465.8 602.5L466.3 603.3L466.8 603.5L467.3 602.2L467.8 604.9L468.3 606.1L468.8 601.2L469.3 602.3L469.8 602.2L470.3 603.6L470.8 601.9L471.3 602.9L471.8 606.5L472.3 603.7L472.8 601.5L473.3 602.0L473.8 602.6L474.3 607.6L474.8 601.6L475.3 603.4L475.8 602.9L476.3 603.7L476.8 603.3L477.3 601.6L477.8 607.5L478.3 603.3L478.8 601.7L479.3 603.2L479.8 601.9L480.3 601.3L480.8 601.6L481.3 602.6L481.8 604.7L482.3 603.6L482.8 603.1L483.3 604.1L483.8 604.1L484.3 606.2L484.8 602.2L485.3 606.4L485.8 604.5L486.3 605.7L486.8 603.1L487.3 603.5L487.8 610.0L488.3 603.1L488.8 603.0L489.3 603.6L489.8 604.5L490.3 603.1L490.8 604.1L491.3 603.6L491.8 602.7L492.3 602.3L492.8 603.2L493.3 604.3L493.8 604.2L494.3 606.6L494.8 603.5L495.3 601.9L495.8 602.8L496.3 602.2L496.8 604.7L497.3 602.7L497.8 604.4L498.3 607.4L498.8 609.2L499.3 601.9L499.8 603.7L500.3 601.2L500.8 601.2L501.3 601.2L501.8 601.2L502.3 601.2L502.8 601.2L503.3 601.2L503.8 601.2L504.3 601.2L504.8 601.2L505.3 601.2L505.8 601.2L506.3 601.2L506.8 601.2L507.3 601.2L507.8 601.2L508.3 601.2L508.8 601.2L509.3 601.2L509.8 601.2L510.3 601.2L510.8 601.2L510.8 601.2Z" fill="#4a86f0" opacity="1"/><line x1="451.3" y1="570.5" x2="451.3" y2="631.8" stroke="#999" stroke-width="1" /><line x1="451.3" y1="601.2" x2="510.8" y2="601.2" stroke="#222" stroke-width="1.6" /><text x="452.3" y="575" font-size="7.77" textLength="14.77" lengthAdjust="spacingAndGlyphs">0-18</text><text x="451.3" y="630.2" font-size="8.05" textLength="17.86" lengthAdjust="spacingAndGlyphs">-18-0</text><path d="M477 638.5L482 633.7V636.25H489.1V640.75H482V643.3Z" fill="#b14ef2"/><text x="535.2" y="457.4" font-size="7.66" textLength="18.2" lengthAdjust="spacingAndGlyphs">chr18</text><text x="516.6" y="464.6" font-size="7.7" textLength="56.9" lengthAdjust="spacingAndGlyphs">20,830-20,850 kb</text><rect x="514.6" y="470.5" width="60.1" height="6.2" fill="#f1f1f1" /><line x1="515" y1="473.5" x2="537" y2="473.5" stroke="#222" stroke-width="0.8" /><path d="M516.45 472.3L517.85 473.5L516.45 474.7" fill="none" stroke="#5560e0" stroke-width="0.6" /><path d="M520.95 472.3L522.35 473.5L520.95 474.7" fill="none" stroke="#5560e0" stroke-width="0.6" /><line x1="524.6" y1="470.5" x2="524.6" y2="476.5" stroke="#222" stroke-width="0.8" /><line x1="527.2" y1="470.5" x2="527.2" y2="476.5" stroke="#222" stroke-width="0.8" /><path d="M531.2 472.3L532.6 473.5L531.2 474.7" fill="none" stroke="#5560e0" stroke-width="0.6" /><rect x="536.8" y="470.5" width="9.7" height="6" fill="#111" /><text x="539.3" y="481.3" font-size="8.2" fill="#333" textLength="29.4" lengthAdjust="spacingAndGlyphs" font-style="italic">CABLES1</text><path d="M514.9 518.5L514.9 518.3L515.4 518.4L515.9 518.2L516.4 518.3L516.9 518.3L517.4 518.3L517.9 518.1L518.4 518.1L518.9 518.2L519.4 518.2L519.9 518.2L520.4 518.3L520.9 518.2L521.4 518.1L521.9 518.1L522.4 518.2L522.9 518.4L523.4 518.4L523.9 518.4L524.4 518.4L524.9 518.3L525.4 518.3L525.9 518.3L526.4 518.3L526.9 518.1L527.4 518.2L527.9 518.1L528.4 518.0L528.9 518.1L529.4 518.0L529.9 518.0L530.4 518.1L530.9 518.0L531.4 518.0L531.9 518.2L532.4 518.2L532.9 518.1L533.4 518.3L533.9 518.1L534.4 518.2L534.9 518.0L535.4 518.1L535.9 518.3L536.4 518.1L536.9 518.3L537.4 518.1L537.9 517.5L538.4 513.6L538.9 498.9L539.4 496.5L539.9 510.1L540.4 517.0L540.9 518.2L541.4 518.2L541.9 518.3L542.4 518.2L542.9 518.1L543.4 517.9L543.9 510.8L544.4 496.0L544.9 502.0L545.4 512.2L545.9 510.8L546.4 510.4L546.9 510.4L547.4 512.9L547.9 516.4L548.4 517.7L548.9 518.2L549.4 518.2L549.9 518.3L550.4 518.3L550.9 518.2L551.4 518.1L551.9 518.3L552.4 518.3L552.9 518.2L553.4 518.3L553.9 518.3L554.4 518.1L554.9 518.0L555.4 517.0L555.9 515.6L556.4 515.9L556.9 517.7L557.4 518.2L557.9 518.3L558.4 518.4L558.9 518.3L559.4 518.3L559.9 518.3L560.4 518.3L560.9 518.4L561.4 518.3L561.9 518.2L562.4 518.3L562.9 518.3L563.4 518.1L563.9 518.1L564.4 518.2L564.9 518.1L565.4 518.2L565.9 518.1L566.4 518.4L566.9 518.3L567.4 518.3L567.9 518.3L568.4 518.1L568.9 518.1L569.4 518.2L569.9 518.3L570.4 518.3L570.9 518.2L571.4 518.3L571.9 518.3L572.4 518.2L572.9 518.1L573.4 518.2L573.9 518.1L574.4 518.3L574.4 518.5Z" fill="#f04450" opacity="1"/><path d="M514.9 518.5L514.9 518.3L515.4 518.4L515.9 518.2L516.4 518.3L516.9 518.0L517.4 518.1L517.9 518.0L518.4 518.1L518.9 518.1L519.4 518.3L519.9 518.2L520.4 518.3L520.9 518.2L521.4 518.3L521.9 518.3L522.4 518.2L522.9 518.2L523.4 518.2L523.9 518.1L524.4 518.2L524.9 518.1L525.4 518.0L525.9 518.2L526.4 518.0L526.9 518.1L527.4 518.0L527.9 518.2L528.4 518.2L528.9 518.2L529.4 518.1L529.9 518.4L530.4 518.2L530.9 518.4L531.4 518.2L531.9 518.3L532.4 518.3L532.9 518.1L533.4 518.3L533.9 518.2L534.4 518.2L534.9 518.2L535.4 518.1L535.9 518.2L536.4 518.2L536.9 518.1L537.4 518.2L537.9 517.9L538.4 516.6L538.9 513.4L539.4 512.8L539.9 516.0L540.4 518.0L540.9 518.1L541.4 518.1L541.9 518.1L542.4 518.2L542.9 518.3L543.4 518.0L543.9 516.9L544.4 515.7L544.9 516.5L545.4 517.7L545.9 518.2L546.4 518.0L546.9 518.1L547.4 518.0L547.9 518.2L548.4 518.1L548.9 518.4L549.4 518.3L549.9 518.3L550.4 518.1L550.9 518.2L551.4 518.2L551.9 518.3L552.4 518.3L552.9 518.3L553.4 518.2L553.9 518.1L554.4 518.1L554.9 518.0L555.4 518.1L555.9 518.1L556.4 518.3L556.9 518.3L557.4 518.2L557.9 518.3L558.4 518.0L558.9 518.0L559.4 518.0L559.9 518.0L560.4 518.1L560.9 518.3L561.4 518.2L561.9 518.4L562.4 518.4L562.9 518.2L563.4 518.2L563.9 518.3L564.4 518.1L564.9 518.2L565.4 518.1L565.9 518.1L566.4 518.2L566.9 518.2L567.4 518.1L567.9 518.3L568.4 518.4L568.9 518.1L569.4 518.3L569.9 518.3L570.4 518.4L570.9 518.1L571.4 518.3L571.9 518.3L572.4 518.3L572.9 518.3L573.4 518.2L573.9 518.2L574.4 518.0L574.4 518.5Z" fill="#4a86f0" opacity="1"/><line x1="514.9" y1="487.6" x2="514.9" y2="518.5" stroke="#999" stroke-width="1" /><line x1="514.9" y1="518.5" x2="574.4" y2="518.5" stroke="#222" stroke-width="1.2" /><text x="515.9" y="491.9" font-size="7.77" textLength="18.87" lengthAdjust="spacingAndGlyphs">0-125</text><path d="M514.9 551.8L514.9 549.6L515.4 549.4L515.9 548.6L516.4 548.6L516.9 549.0L517.4 549.0L517.9 547.9L518.4 548.0L518.9 548.1L519.4 548.4L519.9 547.5L520.4 544.7L520.9 545.9L521.4 548.5L521.9 548.7L522.4 548.9L522.9 548.9L523.4 548.2L523.9 549.1L524.4 547.9L524.9 547.9L525.4 549.0L525.9 548.4L526.4 547.7L526.9 546.5L527.4 548.8L527.9 548.9L528.4 548.8L528.9 549.5L529.4 549.0L529.9 549.5L530.4 548.4L530.9 546.4L531.4 548.7L531.9 549.2L532.4 548.9L532.9 549.8L533.4 549.5L533.9 548.3L534.4 548.0L534.9 548.8L535.4 549.4L535.9 549.4L536.4 549.6L536.9 548.7L537.4 547.5L537.9 545.9L538.4 539.7L538.9 540.9L539.4 547.5L539.9 547.5L540.4 544.5L540.9 548.1L541.4 549.0L541.9 547.9L542.4 547.4L542.9 545.9L543.4 541.6L543.9 535.1L544.4 537.1L544.9 535.0L545.4 533.8L545.9 522.8L546.4 522.8L546.9 525.5L547.4 541.1L547.9 547.3L548.4 548.8L548.9 548.6L549.4 548.2L549.9 548.0L550.4 547.5L550.9 546.8L551.4 547.6L551.9 547.3L552.4 548.8L552.9 548.0L553.4 547.3L553.9 549.4L554.4 549.1L554.9 546.9L555.4 541.8L555.9 537.3L556.4 544.6L556.9 547.6L557.4 548.7L557.9 548.3L558.4 548.4L558.9 549.3L559.4 547.9L559.9 545.7L560.4 547.5L560.9 547.8L561.4 547.9L561.9 547.1L562.4 548.2L562.9 548.6L563.4 549.5L563.9 549.1L564.4 548.7L564.9 548.7L565.4 545.6L565.9 546.8L566.4 544.7L566.9 548.2L567.4 548.5L567.9 548.4L568.4 547.7L568.9 546.7L569.4 545.9L569.9 548.3L570.4 548.3L570.9 545.7L571.4 548.2L571.9 547.8L572.4 544.9L572.9 547.8L573.4 548.6L573.9 549.4L574.4 549.2L574.4 551.8Z" fill="#f04450" opacity="1"/><path d="M514.9 551.8L514.9 549.4L515.4 549.9L515.9 549.0L516.4 549.0L516.9 549.7L517.4 549.2L517.9 550.1L518.4 549.0L518.9 549.7L519.4 548.7L519.9 547.5L520.4 548.3L520.9 549.1L521.4 548.7L521.9 549.4L522.4 548.8L522.9 547.8L523.4 548.8L523.9 549.3L524.4 549.5L524.9 549.3L525.4 549.0L525.9 549.9L526.4 549.2L526.9 549.8L527.4 549.2L527.9 549.8L528.4 549.2L528.9 549.1L529.4 549.6L529.9 548.8L530.4 548.8L530.9 548.6L531.4 548.8L531.9 548.9L532.4 549.4L532.9 549.1L533.4 549.7L533.9 548.9L534.4 549.3L534.9 549.9L535.4 549.2L535.9 549.0L536.4 548.8L536.9 548.8L537.4 547.8L537.9 547.7L538.4 544.3L538.9 544.6L539.4 548.2L539.9 549.9L540.4 549.5L540.9 550.0L541.4 549.2L541.9 549.2L542.4 549.5L542.9 549.2L543.4 549.8L543.9 549.6L544.4 548.8L544.9 546.8L545.4 544.3L545.9 539.9L546.4 537.0L546.9 537.6L547.4 541.6L547.9 546.4L548.4 548.8L548.9 548.8L549.4 548.2L549.9 549.5L550.4 549.6L550.9 549.7L551.4 550.0L551.9 549.9L552.4 549.7L552.9 549.2L553.4 550.0L553.9 549.9L554.4 549.5L554.9 549.0L555.4 549.4L555.9 549.2L556.4 549.2L556.9 549.6L557.4 549.4L557.9 549.9L558.4 549.6L558.9 550.1L559.4 549.8L559.9 549.6L560.4 549.9L560.9 549.8L561.4 549.4L561.9 549.4L562.4 549.2L562.9 548.9L563.4 549.2L563.9 549.1L564.4 548.9L564.9 549.6L565.4 549.3L565.9 549.5L566.4 549.3L566.9 549.0L567.4 549.3L567.9 549.5L568.4 550.1L568.9 549.9L569.4 549.9L569.9 549.5L570.4 549.5L570.9 549.6L571.4 549.1L571.9 549.6L572.4 549.9L572.9 549.8L573.4 549.5L573.9 549.2L574.4 549.7L574.4 551.8Z" fill="#4a86f0" opacity="1"/><line x1="514.9" y1="521.5" x2="514.9" y2="551.8" stroke="#999" stroke-width="1" /><line x1="514.9" y1="551.8" x2="574.4" y2="551.8" stroke="#222" stroke-width="1.2" /><text x="515.9" y="528.2" font-size="7.77" textLength="14.77" lengthAdjust="spacingAndGlyphs">0-17</text><path d="M514.9 601.2L514.9 596.6L515.4 598.7L515.9 599.7L516.4 599.2L516.9 598.7L517.4 596.0L517.9 595.4L518.4 596.1L518.9 596.7L519.4 594.9L519.9 600.4L520.4 599.8L520.9 597.6L521.4 593.0L521.9 589.1L522.4 599.6L522.9 598.1L523.4 593.8L523.9 597.6L524.4 597.5L524.9 599.5L525.4 600.6L525.9 596.1L526.4 592.2L526.9 597.7L527.4 597.2L527.9 596.1L528.4 594.7L528.9 594.6L529.4 599.0L529.9 596.1L530.4 596.9L530.9 596.5L531.4 596.0L531.9 598.7L532.4 597.1L532.9 594.5L533.4 600.0L533.9 598.9L534.4 597.2L534.9 598.7L535.4 599.9L535.9 599.0L536.4 599.7L536.9 597.2L537.4 598.6L537.9 588.9L538.4 599.7L538.9 598.0L539.4 597.3L539.9 597.8L540.4 596.8L540.9 599.4L541.4 598.5L541.9 599.7L542.4 598.9L542.9 593.1L543.4 599.3L543.9 596.3L544.4 599.2L544.9 597.2L545.4 598.3L545.9 597.0L546.4 596.2L546.9 594.0L547.4 597.7L547.9 597.9L548.4 601.2L548.9 601.2L549.4 601.2L549.9 601.2L550.4 601.2L550.9 601.2L551.4 601.2L551.9 601.2L552.4 601.2L552.9 601.2L553.4 601.2L553.9 601.2L554.4 601.2L554.9 601.2L555.4 601.1L555.9 600.3L556.4 593.2L556.9 574.2L557.4 577.2L557.9 586.9L558.4 590.4L558.9 593.9L559.4 598.7L559.9 600.5L560.4 601.1L560.9 601.2L561.4 601.2L561.9 601.2L562.4 601.2L562.9 601.2L563.4 601.2L563.9 601.2L564.4 601.2L564.9 601.2L565.4 601.2L565.9 601.2L566.4 601.2L566.9 601.2L567.4 601.2L567.9 601.2L568.4 601.2L568.9 601.2L569.4 601.2L569.9 601.2L570.4 601.2L570.9 601.2L571.4 601.2L571.9 601.2L572.4 601.2L572.9 601.2L573.4 601.2L573.9 601.2L574.4 601.2L574.4 601.2Z" fill="#f04450" opacity="1"/><path d="M514.9 601.2L514.9 604.0L515.4 609.2L515.9 604.5L516.4 602.9L516.9 605.4L517.4 604.8L517.9 609.3L518.4 601.5L518.9 605.0L519.4 604.3L519.9 602.1L520.4 601.8L520.9 602.1L521.4 602.7L521.9 606.3L522.4 604.1L522.9 602.7L523.4 607.4L523.9 612.5L524.4 606.3L524.9 603.5L525.4 609.1L525.9 604.3L526.4 602.9L526.9 604.4L527.4 604.8L527.9 603.7L528.4 603.7L528.9 605.2L529.4 602.6L529.9 604.6L530.4 607.7L530.9 601.9L531.4 603.5L531.9 603.3L532.4 610.0L532.9 604.9L533.4 601.3L533.9 604.6L534.4 602.6L534.9 604.4L535.4 602.4L535.9 611.2L536.4 603.2L536.9 604.4L537.4 604.4L537.9 601.7L538.4 602.3L538.9 604.8L539.4 604.6L539.9 602.1L540.4 602.2L540.9 605.3L541.4 602.7L541.9 602.4L542.4 602.1L542.9 606.4L543.4 602.0L543.9 604.7L544.4 603.6L544.9 607.6L545.4 603.6L545.9 604.6L546.4 601.5L546.9 603.7L547.4 606.1L547.9 602.7L548.4 617.4L548.9 624.8L549.4 616.6L549.9 605.9L550.4 604.5L550.9 601.4L551.4 604.6L551.9 601.7L552.4 603.1L552.9 604.4L553.4 608.4L553.9 604.6L554.4 605.5L554.9 604.0L555.4 611.9L555.9 611.0L556.4 602.6L556.9 604.5L557.4 603.7L557.9 601.8L558.4 603.6L558.9 610.4L559.4 605.2L559.9 609.4L560.4 611.4L560.9 604.8L561.4 604.2L561.9 603.7L562.4 603.3L562.9 604.8L563.4 602.5L563.9 602.9L564.4 602.6L564.9 602.6L565.4 603.6L565.9 605.3L566.4 610.6L566.9 601.7L567.4 608.1L567.9 608.3L568.4 604.9L568.9 606.2L569.4 609.0L569.9 604.9L570.4 601.5L570.9 602.6L571.4 601.5L571.9 603.5L572.4 602.3L572.9 604.4L573.4 608.9L573.9 601.3L574.4 601.3L574.4 601.2Z" fill="#f04450" opacity="1"/><path d="M514.9 601.2L514.9 601.2L515.4 601.2L515.9 601.2L516.4 601.2L516.9 601.2L517.4 601.2L517.9 601.2L518.4 601.2L518.9 601.2L519.4 601.2L519.9 601.2L520.4 601.2L520.9 601.2L521.4 597.9L521.9 595.6L522.4 595.4L522.9 594.3L523.4 597.4L523.9 594.7L524.4 597.3L524.9 599.0L525.4 595.7L525.9 593.2L526.4 590.7L526.9 595.9L527.4 596.5L527.9 599.7L528.4 596.4L528.9 596.0L529.4 598.5L529.9 597.3L530.4 593.0L530.9 572.2L531.4 582.6L531.9 599.0L532.4 598.2L532.9 598.7L533.4 598.0L533.9 597.2L534.4 599.1L534.9 595.0L535.4 587.9L535.9 600.3L536.4 599.2L536.9 597.0L537.4 596.8L537.9 595.3L538.4 598.0L538.9 599.7L539.4 595.5L539.9 595.8L540.4 598.5L540.9 599.6L541.4 596.0L541.9 597.0L542.4 593.8L542.9 594.6L543.4 599.1L543.9 595.6L544.4 594.7L544.9 599.4L545.4 594.7L545.9 597.6L546.4 589.3L546.9 598.6L547.4 600.0L547.9 598.2L548.4 601.2L548.9 601.2L549.4 601.2L549.9 601.2L550.4 601.2L550.9 601.2L551.4 601.2L551.9 601.2L552.4 601.2L552.9 601.2L553.4 601.2L553.9 601.2L554.4 601.2L554.9 601.2L555.4 601.2L555.9 601.2L556.4 601.2L556.9 601.2L557.4 601.2L557.9 601.2L558.4 601.2L558.9 601.2L559.4 601.2L559.9 601.2L560.4 601.2L560.9 601.2L561.4 601.2L561.9 601.2L562.4 601.2L562.9 601.2L563.4 601.2L563.9 601.2L564.4 601.2L564.9 601.2L565.4 601.2L565.9 601.2L566.4 601.2L566.9 601.2L567.4 601.2L567.9 601.2L568.4 601.2L568.9 601.2L569.4 601.2L569.9 601.2L570.4 601.2L570.9 601.2L571.4 601.2L571.9 601.2L572.4 601.2L572.9 601.2L573.4 601.2L573.9 601.2L574.4 601.2L574.4 601.2Z" fill="#4a86f0" opacity="1"/><path d="M514.9 601.2L514.9 601.2L515.4 608.9L515.9 603.3L516.4 607.1L516.9 618.7L517.4 609.0L517.9 608.3L518.4 607.2L518.9 609.7L519.4 604.8L519.9 608.1L520.4 613.7L520.9 630.2L521.4 623.5L521.9 604.3L522.4 604.9L522.9 612.1L523.4 608.0L523.9 604.5L524.4 604.2L524.9 605.8L525.4 604.2L525.9 603.8L526.4 610.6L526.9 624.5L527.4 627.2L527.9 610.9L528.4 616.1L528.9 602.7L529.4 602.7L529.9 604.5L530.4 603.8L530.9 608.7L531.4 604.6L531.9 605.2L532.4 614.1L532.9 615.2L533.4 608.3L533.9 605.2L534.4 604.7L534.9 605.9L535.4 607.5L535.9 606.7L536.4 602.5L536.9 605.3L537.4 605.2L537.9 613.1L538.4 609.2L538.9 605.8L539.4 602.1L539.9 615.7L540.4 606.8L540.9 605.3L541.4 603.1L541.9 607.5L542.4 602.1L542.9 618.5L543.4 605.8L543.9 604.3L544.4 603.3L544.9 612.7L545.4 611.4L545.9 625.2L546.4 619.4L546.9 604.6L547.4 608.3L547.9 609.9L548.4 601.2L548.9 601.2L549.4 601.2L549.9 601.2L550.4 601.2L550.9 601.2L551.4 601.2L551.9 601.2L552.4 601.2L552.9 601.2L553.4 601.2L553.9 601.2L554.4 601.2L554.9 601.2L555.4 601.2L555.9 601.2L556.4 601.2L556.9 601.2L557.4 601.2L557.9 601.2L558.4 601.2L558.9 601.2L559.4 601.2L559.9 601.2L560.4 601.2L560.9 601.2L561.4 601.2L561.9 601.2L562.4 601.2L562.9 601.2L563.4 601.2L563.9 601.2L564.4 601.2L564.9 601.2L565.4 601.2L565.9 601.2L566.4 601.2L566.9 601.2L567.4 601.2L567.9 601.2L568.4 601.2L568.9 601.2L569.4 601.2L569.9 601.2L570.4 601.2L570.9 601.2L571.4 601.2L571.9 601.2L572.4 601.2L572.9 601.2L573.4 601.2L573.9 601.2L574.4 601.2L574.4 601.2Z" fill="#4a86f0" opacity="1"/><line x1="514.9" y1="570.5" x2="514.9" y2="631.8" stroke="#999" stroke-width="1" /><line x1="514.9" y1="601.2" x2="574.4" y2="601.2" stroke="#222" stroke-width="1.6" /><text x="515.9" y="575" font-size="7.77" textLength="14.77" lengthAdjust="spacingAndGlyphs">0-18</text><text x="514.9" y="630.2" font-size="8.05" textLength="17.86" lengthAdjust="spacingAndGlyphs">-18-0</text><path d="M548.3 638.5L543.3 633.7V636.25H515.8V640.75H543.3V643.3Z" fill="#b14ef2"/><rect x="145.2" y="558.5" width="11.1" height="3.2" fill="#6a6a6a" /><rect x="221.1" y="558.5" width="11.1" height="3.2" fill="#6a6a6a" /><rect x="275.1" y="558.5" width="7.3" height="3.2" fill="#6a6a6a" /><rect x="334.9" y="558.5" width="7" height="3.2" fill="#6a6a6a" /><rect x="398.2" y="558.5" width="9.6" height="3.2" fill="#6a6a6a" /><rect x="479" y="558.5" width="7.7" height="3.2" fill="#6a6a6a" /><rect x="542.6" y="558.5" width="5.3" height="3.2" fill="#6a6a6a" /><text x="428.1" y="639" font-size="7.3" fill="#b14ef2" textLength="38.9" lengthAdjust="spacingAndGlyphs">pre-existing</text><text x="442.3" y="646.7" font-size="7.3" fill="#b14ef2" textLength="24.7" lengthAdjust="spacingAndGlyphs">R-loops</text><defs><pattern id="hatB" width="8.3" height="8.3" patternUnits="userSpaceOnUse"><rect width="8.3" height="8.3" fill="#f2f2f2"/><path d="M-1 9.3L9.3 -1M-1 1L1 -1M7.3 9.3L9.3 7.3" stroke="#3f7fe6" stroke-width="1.1"/></pattern><pattern id="hatR" width="8.3" height="8.3" patternUnits="userSpaceOnUse"><rect width="8.3" height="8.3" fill="#f2f2f2"/><path d="M-1 9.3L9.3 -1M-1 1L1 -1M7.3 9.3L9.3 7.3" stroke="#e8424c" stroke-width="1.1"/></pattern><linearGradient id="blot1" x1="0" y1="0" x2="0" y2="1"><stop offset="0" stop-color="#6a6a6a"/><stop offset="1" stop-color="#8a8a8a"/></linearGradient></defs><text x="6.5" y="672.4" font-size="20.3" stroke="#fff" stroke-width="0.4">g</text><text x="54.2" y="673.6" font-size="10.5" text-anchor="middle">-</text><text x="63.8" y="673.6" font-size="10.5" text-anchor="middle">+</text><text x="75.6" y="673.6" font-size="10.5" text-anchor="middle">-</text><text x="86.9" y="673.6" font-size="10.5" text-anchor="middle">+</text><text x="97.7" y="673.6" font-size="8.43" textLength="9.8" lengthAdjust="spacingAndGlyphs">E2</text><text x="54.2" y="685" font-size="10.5" text-anchor="middle">-</text><text x="64.4" y="685" font-size="10.5" text-anchor="middle">-</text><text x="75.6" y="685" font-size="10.5" text-anchor="middle">+</text><text x="86.9" y="685" font-size="10.5" text-anchor="middle">+</text><text x="97.7" y="685" font-size="8.65" textLength="53.9" lengthAdjust="spacingAndGlyphs">RNAseH1 vec.</text><text x="33.5" y="684.5" font-size="4" fill="#555">(kDa)</text><rect x="45" y="687.7" width="48.4" height="9.8" fill="url(#blot1)" /><rect x="72.3" y="692.6" width="7.6" height="1.8" fill="#111" /><rect x="82.6" y="692.4" width="7.6" height="1.9" fill="#111" /><rect x="45" y="699.6" width="48.4" height="10.6" fill="#d4d4d4" /><rect x="47" y="702.5" width="9" height="0.9" fill="#a8a8a8" opacity="0.8"/><rect x="58.5" y="702.5" width="9" height="0.9" fill="#a8a8a8" opacity="0.8"/><rect x="70.5" y="702.5" width="9" height="0.9" fill="#a8a8a8" opacity="0.8"/><rect x="82" y="702.5" width="9" height="0.9" fill="#a8a8a8" opacity="0.8"/><rect x="47" y="704.5" width="9" height="0.9" fill="#a8a8a8" opacity="0.8"/><rect x="58.5" y="704.5" width="9" height="0.9" fill="#a8a8a8" opacity="0.8"/><rect x="70.5" y="704.5" width="9" height="0.9" fill="#a8a8a8" opacity="0.8"/><rect x="82" y="704.5" width="9" height="0.9" fill="#a8a8a8" opacity="0.8"/><rect x="47" y="707.5" width="9" height="0.9" fill="#a8a8a8" opacity="0.8"/><rect x="58.5" y="707.5" width="9" height="0.9" fill="#a8a8a8" opacity="0.8"/><rect x="70.5" y="707.5" width="9" height="0.9" fill="#a8a8a8" opacity="0.8"/><rect x="82" y="707.5" width="9" height="0.9" fill="#a8a8a8" opacity="0.8"/><text x="42" y="691" font-size="4.6" fill="#444" text-anchor="end">40</text><rect x="42.8" y="688.7" width="1.6" height="1.2" fill="#222" /><text x="42" y="695.7" font-size="4.6" fill="#444" text-anchor="end">35</text><rect x="42.8" y="693.4" width="1.6" height="1.2" fill="#222" /><text x="42" y="702.5" font-size="4.6" fill="#444" text-anchor="end">150</text><rect x="42.8" y="700.2" width="1.6" height="1.2" fill="#222" /><text x="42" y="710" font-size="4.6" fill="#444" text-anchor="end">100</text><rect x="42.8" y="707.7" width="1.6" height="1.2" fill="#222" /><text x="96.5" y="695.9" font-size="8.43" textLength="21.8" lengthAdjust="spacingAndGlyphs">IB: V5</text><text x="96.5" y="707.1" font-size="8.8" textLength="41.1" lengthAdjust="spacingAndGlyphs">IB: vinculin</text><text x="25.8" y="724.3" font-size="8.71" textLength="56.1" lengthAdjust="spacingAndGlyphs">A3B SPI-qPCR</text><text x="272.9" y="724" font-size="8.48" textLength="43.4" lengthAdjust="spacingAndGlyphs">DRIP-qPCR</text><path d="M22.4 732.9V805.9H230.8" fill="none" stroke="#777" stroke-width="0.9" /><text x="10.5" y="736.4" font-size="7.88" fill="#333" textLength="10.4" lengthAdjust="spacingAndGlyphs">0.3</text><line x1="22.4" y1="734.19" x2="24.2" y2="734.19" stroke="#777" stroke-width="0.7" /><text x="10.5" y="759.3" font-size="7.88" fill="#333" textLength="10.4" lengthAdjust="spacingAndGlyphs">0.2</text><line x1="22.4" y1="756.86" x2="24.2" y2="756.86" stroke="#777" stroke-width="0.7" /><text x="10.5" y="782" font-size="7.88" fill="#333" textLength="10.4" lengthAdjust="spacingAndGlyphs">0.1</text><line x1="22.4" y1="779.53" x2="24.2" y2="779.53" stroke="#777" stroke-width="0.7" /><text x="16.8" y="805.6" font-size="7.76" fill="#333" textLength="4.1" lengthAdjust="spacingAndGlyphs">0</text><line x1="22.4" y1="802.2" x2="24.2" y2="802.2" stroke="#777" stroke-width="0.7" /><line x1="36" y1="805.9" x2="36" y2="807.2" stroke="#777" stroke-width="0.6" /><line x1="63" y1="805.9" x2="63" y2="807.2" stroke="#777" stroke-width="0.6" /><line x1="95" y1="805.9" x2="95" y2="807.2" stroke="#777" stroke-width="0.6" /><line x1="150" y1="805.9" x2="150" y2="807.2" stroke="#777" stroke-width="0.6" /><line x1="196" y1="805.9" x2="196" y2="807.2" stroke="#777" stroke-width="0.6" /><text x="4.5" y="766" font-size="8.2" text-anchor="middle" dominant-baseline="central" transform="rotate(-90 4.5 766)" textLength="26" lengthAdjust="spacingAndGlyphs">% input</text><rect x="24.5" y="796.53" width="3.4" height="5.67" fill="#3f7fe6" stroke="#2a2a2a" stroke-width="0.5"/><line x1="26.2" y1="795.58" x2="26.2" y2="796.53" stroke="#333" stroke-width="0.5" /><line x1="25.4" y1="795.58" x2="27" y2="795.58" stroke="#333" stroke-width="0.5" /><circle cx="26.2" cy="796.99" r="0.55" fill="#222"/><circle cx="26.2" cy="797.56" r="0.55" fill="#222"/><rect x="27.9" y="800.39" width="3.4" height="1.81" fill="#e8424c" stroke="#2a2a2a" stroke-width="0.5"/><line x1="29.6" y1="799.14" x2="29.6" y2="800.39" stroke="#333" stroke-width="0.5" /><line x1="28.8" y1="799.14" x2="30.4" y2="799.14" stroke="#333" stroke-width="0.5" /><circle cx="29.6" cy="800.74" r="0.55" fill="#222"/><circle cx="29.6" cy="801.48" r="0.55" fill="#222"/><rect x="31.3" y="798.12" width="3.4" height="4.08" fill="url(#hatB)" stroke="#666" stroke-width="0.5"/><line x1="33" y1="797.04" x2="33" y2="798.12" stroke="#333" stroke-width="0.5" /><line x1="32.2" y1="797.04" x2="33.8" y2="797.04" stroke="#333" stroke-width="0.5" /><circle cx="33" cy="798.53" r="0.55" fill="#222"/><circle cx="33" cy="799.18" r="0.55" fill="#222"/><rect x="34.7" y="800.39" width="3.4" height="1.81" fill="url(#hatR)" stroke="#666" stroke-width="0.5"/><line x1="36.4" y1="799.09" x2="36.4" y2="800.39" stroke="#333" stroke-width="0.5" /><line x1="35.6" y1="799.09" x2="37.2" y2="799.09" stroke="#333" stroke-width="0.5" /><circle cx="36.4" cy="800.72" r="0.55" fill="#222"/><circle cx="36.4" cy="801.5" r="0.55" fill="#222"/><rect x="39.4" y="798.8" width="3.4" height="3.4" fill="#3f7fe6" stroke="#2a2a2a" stroke-width="0.5"/><line x1="41.1" y1="797.48" x2="41.1" y2="798.8" stroke="#333" stroke-width="0.5" /><line x1="40.3" y1="797.48" x2="41.9" y2="797.48" stroke="#333" stroke-width="0.5" /><circle cx="41.1" cy="799.12" r="0.55" fill="#222"/><circle cx="41.1" cy="799.92" r="0.55" fill="#222"/><rect x="42.8" y="793.59" width="3.4" height="8.61" fill="#e8424c" stroke="#2a2a2a" stroke-width="0.5"/><line x1="44.5" y1="792.57" x2="44.5" y2="793.59" stroke="#333" stroke-width="0.5" /><line x1="43.7" y1="792.57" x2="45.3" y2="792.57" stroke="#333" stroke-width="0.5" /><circle cx="44.5" cy="794.02" r="0.55" fill="#222"/><circle cx="44.5" cy="794.63" r="0.55" fill="#222"/><rect x="46.2" y="799.48" width="3.4" height="2.72" fill="url(#hatB)" stroke="#666" stroke-width="0.5"/><line x1="47.9" y1="798.75" x2="47.9" y2="799.48" stroke="#333" stroke-width="0.5" /><line x1="47.1" y1="798.75" x2="48.7" y2="798.75" stroke="#333" stroke-width="0.5" /><circle cx="47.9" cy="800.02" r="0.55" fill="#222"/><circle cx="47.9" cy="800.46" r="0.55" fill="#222"/><rect x="49.6" y="796.53" width="3.4" height="5.67" fill="url(#hatR)" stroke="#666" stroke-width="0.5"/><line x1="51.3" y1="795.01" x2="51.3" y2="796.53" stroke="#333" stroke-width="0.5" /><line x1="50.5" y1="795.01" x2="52.1" y2="795.01" stroke="#333" stroke-width="0.5" /><circle cx="51.3" cy="796.78" r="0.55" fill="#222"/><circle cx="51.3" cy="797.7" r="0.55" fill="#222"/><rect x="68.3" y="796.53" width="3.4" height="5.67" fill="#3f7fe6" stroke="#2a2a2a" stroke-width="0.5"/><line x1="70" y1="795.56" x2="70" y2="796.53" stroke="#333" stroke-width="0.5" /><line x1="69.2" y1="795.56" x2="70.8" y2="795.56" stroke="#333" stroke-width="0.5" /><circle cx="70" cy="796.98" r="0.55" fill="#222"/><circle cx="70" cy="797.57" r="0.55" fill="#222"/><rect x="71.7" y="755.73" width="3.4" height="46.47" fill="#e8424c" stroke="#2a2a2a" stroke-width="0.5"/><line x1="73.4" y1="749.14" x2="73.4" y2="755.73" stroke="#333" stroke-width="0.5" /><line x1="72.6" y1="749.14" x2="74.2" y2="749.14" stroke="#333" stroke-width="0.5" /><circle cx="73.4" cy="754.16" r="0.55" fill="#222"/><circle cx="73.4" cy="758.11" r="0.55" fill="#222"/><rect x="75.1" y="796.53" width="3.4" height="5.67" fill="url(#hatB)" stroke="#666" stroke-width="0.5"/><line x1="76.8" y1="794.86" x2="76.8" y2="796.53" stroke="#333" stroke-width="0.5" /><line x1="76" y1="794.86" x2="77.6" y2="794.86" stroke="#333" stroke-width="0.5" /><circle cx="76.8" cy="796.73" r="0.55" fill="#222"/><circle cx="76.8" cy="797.73" r="0.55" fill="#222"/><rect x="78.5" y="785.2" width="3.4" height="17" fill="url(#hatR)" stroke="#666" stroke-width="0.5"/><line x1="80.2" y1="782.21" x2="80.2" y2="785.2" stroke="#333" stroke-width="0.5" /><line x1="79.4" y1="782.21" x2="81" y2="782.21" stroke="#333" stroke-width="0.5" /><circle cx="80.2" cy="784.92" r="0.55" fill="#222"/><circle cx="80.2" cy="786.71" r="0.55" fill="#222"/><rect x="83.2" y="795.4" width="3.4" height="6.8" fill="#3f7fe6" stroke="#2a2a2a" stroke-width="0.5"/><line x1="84.9" y1="793.85" x2="84.9" y2="795.4" stroke="#333" stroke-width="0.5" /><line x1="84.1" y1="793.85" x2="85.7" y2="793.85" stroke="#333" stroke-width="0.5" /><circle cx="84.9" cy="795.64" r="0.55" fill="#222"/><circle cx="84.9" cy="796.57" r="0.55" fill="#222"/><rect x="86.6" y="753.46" width="3.4" height="48.74" fill="#e8424c" stroke="#2a2a2a" stroke-width="0.5"/><line x1="88.3" y1="744.85" x2="88.3" y2="753.46" stroke="#333" stroke-width="0.5" /><line x1="87.5" y1="744.85" x2="89.1" y2="744.85" stroke="#333" stroke-width="0.5" /><circle cx="88.3" cy="751.16" r="0.55" fill="#222"/><circle cx="88.3" cy="756.33" r="0.55" fill="#222"/><rect x="90" y="797.21" width="3.4" height="4.99" fill="url(#hatB)" stroke="#666" stroke-width="0.5"/><line x1="91.7" y1="795.88" x2="91.7" y2="797.21" stroke="#333" stroke-width="0.5" /><line x1="90.9" y1="795.88" x2="92.5" y2="795.88" stroke="#333" stroke-width="0.5" /><circle cx="91.7" cy="797.53" r="0.55" fill="#222"/><circle cx="91.7" cy="798.33" r="0.55" fill="#222"/><rect x="93.4" y="770.46" width="3.4" height="31.74" fill="url(#hatR)" stroke="#666" stroke-width="0.5"/><line x1="95.1" y1="766.35" x2="95.1" y2="770.46" stroke="#333" stroke-width="0.5" /><line x1="94.3" y1="766.35" x2="95.9" y2="766.35" stroke="#333" stroke-width="0.5" /><circle cx="95.1" cy="769.78" r="0.55" fill="#222"/><circle cx="95.1" cy="772.25" r="0.55" fill="#222"/><rect x="98.1" y="789.05" width="3.4" height="13.15" fill="#3f7fe6" stroke="#2a2a2a" stroke-width="0.5"/><line x1="99.8" y1="786.43" x2="99.8" y2="789.05" stroke="#333" stroke-width="0.5" /><line x1="99" y1="786.43" x2="100.6" y2="786.43" stroke="#333" stroke-width="0.5" /><circle cx="99.8" cy="788.91" r="0.55" fill="#222"/><circle cx="99.8" cy="790.48" r="0.55" fill="#222"/><rect x="101.5" y="752.33" width="3.4" height="49.87" fill="#e8424c" stroke="#2a2a2a" stroke-width="0.5"/><line x1="103.2" y1="740.71" x2="103.2" y2="752.33" stroke="#333" stroke-width="0.5" /><line x1="102.4" y1="740.71" x2="104" y2="740.71" stroke="#333" stroke-width="0.5" /><circle cx="103.2" cy="748.94" r="0.55" fill="#222"/><circle cx="103.2" cy="755.91" r="0.55" fill="#222"/><rect x="104.9" y="791.32" width="3.4" height="10.88" fill="url(#hatB)" stroke="#666" stroke-width="0.5"/><line x1="106.6" y1="789.32" x2="106.6" y2="791.32" stroke="#333" stroke-width="0.5" /><line x1="105.8" y1="789.32" x2="107.4" y2="789.32" stroke="#333" stroke-width="0.5" /><circle cx="106.6" cy="791.4" r="0.55" fill="#222"/><circle cx="106.6" cy="792.6" r="0.55" fill="#222"/><rect x="108.3" y="781.8" width="3.4" height="20.4" fill="url(#hatR)" stroke="#666" stroke-width="0.5"/><line x1="110" y1="777.42" x2="110" y2="781.8" stroke="#333" stroke-width="0.5" /><line x1="109.2" y1="777.42" x2="110.8" y2="777.42" stroke="#333" stroke-width="0.5" /><circle cx="110" cy="781.02" r="0.55" fill="#222"/><circle cx="110" cy="783.65" r="0.55" fill="#222"/><rect x="113.1" y="791.32" width="3.4" height="10.88" fill="#3f7fe6" stroke="#2a2a2a" stroke-width="0.5"/><line x1="114.8" y1="789.09" x2="114.8" y2="791.32" stroke="#333" stroke-width="0.5" /><line x1="114" y1="789.09" x2="115.6" y2="789.09" stroke="#333" stroke-width="0.5" /><circle cx="114.8" cy="791.32" r="0.55" fill="#222"/><circle cx="114.8" cy="792.65" r="0.55" fill="#222"/><rect x="116.5" y="764.34" width="3.4" height="37.86" fill="#e8424c" stroke="#2a2a2a" stroke-width="0.5"/><line x1="118.2" y1="759.9" x2="118.2" y2="764.34" stroke="#333" stroke-width="0.5" /><line x1="117.4" y1="759.9" x2="119" y2="759.9" stroke="#333" stroke-width="0.5" /><circle cx="118.2" cy="763.54" r="0.55" fill="#222"/><circle cx="118.2" cy="766.21" r="0.55" fill="#222"/><rect x="119.9" y="790.87" width="3.4" height="11.34" fill="url(#hatB)" stroke="#666" stroke-width="0.5"/><line x1="121.6" y1="788.4" x2="121.6" y2="790.87" stroke="#333" stroke-width="0.5" /><line x1="120.8" y1="788.4" x2="122.4" y2="788.4" stroke="#333" stroke-width="0.5" /><circle cx="121.6" cy="790.78" r="0.55" fill="#222"/><circle cx="121.6" cy="792.26" r="0.55" fill="#222"/><rect x="123.3" y="785.65" width="3.4" height="16.55" fill="url(#hatR)" stroke="#666" stroke-width="0.5"/><line x1="125" y1="782.45" x2="125" y2="785.65" stroke="#333" stroke-width="0.5" /><line x1="124.2" y1="782.45" x2="125.8" y2="782.45" stroke="#333" stroke-width="0.5" /><circle cx="125" cy="785.3" r="0.55" fill="#222"/><circle cx="125" cy="787.22" r="0.55" fill="#222"/><rect x="127.7" y="790.87" width="3.4" height="11.34" fill="#3f7fe6" stroke="#2a2a2a" stroke-width="0.5"/><line x1="129.4" y1="789.15" x2="129.4" y2="790.87" stroke="#333" stroke-width="0.5" /><line x1="128.6" y1="789.15" x2="130.2" y2="789.15" stroke="#333" stroke-width="0.5" /><circle cx="129.4" cy="791.05" r="0.55" fill="#222"/><circle cx="129.4" cy="792.08" r="0.55" fill="#222"/><rect x="131.1" y="768.88" width="3.4" height="33.32" fill="#e8424c" stroke="#2a2a2a" stroke-width="0.5"/><line x1="132.8" y1="765.13" x2="132.8" y2="768.88" stroke="#333" stroke-width="0.5" /><line x1="132" y1="765.13" x2="133.6" y2="765.13" stroke="#333" stroke-width="0.5" /><circle cx="132.8" cy="768.33" r="0.55" fill="#222"/><circle cx="132.8" cy="770.57" r="0.55" fill="#222"/><rect x="134.5" y="793.13" width="3.4" height="9.07" fill="url(#hatB)" stroke="#666" stroke-width="0.5"/><line x1="136.2" y1="791.02" x2="136.2" y2="793.13" stroke="#333" stroke-width="0.5" /><line x1="135.4" y1="791.02" x2="137" y2="791.02" stroke="#333" stroke-width="0.5" /><circle cx="136.2" cy="793.17" r="0.55" fill="#222"/><circle cx="136.2" cy="794.44" r="0.55" fill="#222"/><rect x="137.9" y="781.8" width="3.4" height="20.4" fill="url(#hatR)" stroke="#666" stroke-width="0.5"/><line x1="139.6" y1="778.2" x2="139.6" y2="781.8" stroke="#333" stroke-width="0.5" /><line x1="138.8" y1="778.2" x2="140.4" y2="778.2" stroke="#333" stroke-width="0.5" /><circle cx="139.6" cy="781.3" r="0.55" fill="#222"/><circle cx="139.6" cy="783.46" r="0.55" fill="#222"/><rect x="157" y="792" width="3.4" height="10.2" fill="#3f7fe6" stroke="#2a2a2a" stroke-width="0.5"/><line x1="158.7" y1="789.84" x2="158.7" y2="792" stroke="#333" stroke-width="0.5" /><line x1="157.9" y1="789.84" x2="159.5" y2="789.84" stroke="#333" stroke-width="0.5" /><circle cx="158.7" cy="792.02" r="0.55" fill="#222"/><circle cx="158.7" cy="793.32" r="0.55" fill="#222"/><rect x="160.4" y="769.33" width="3.4" height="32.87" fill="#e8424c" stroke="#2a2a2a" stroke-width="0.5"/><line x1="162.1" y1="761.62" x2="162.1" y2="769.33" stroke="#333" stroke-width="0.5" /><line x1="161.3" y1="761.62" x2="162.9" y2="761.62" stroke="#333" stroke-width="0.5" /><circle cx="162.1" cy="767.35" r="0.55" fill="#222"/><circle cx="162.1" cy="771.98" r="0.55" fill="#222"/><rect x="163.8" y="793.13" width="3.4" height="9.07" fill="url(#hatB)" stroke="#666" stroke-width="0.5"/><line x1="165.5" y1="791.22" x2="165.5" y2="793.13" stroke="#333" stroke-width="0.5" /><line x1="164.7" y1="791.22" x2="166.3" y2="791.22" stroke="#333" stroke-width="0.5" /><circle cx="165.5" cy="793.24" r="0.55" fill="#222"/><circle cx="165.5" cy="794.39" r="0.55" fill="#222"/><rect x="167.2" y="782.25" width="3.4" height="19.95" fill="url(#hatR)" stroke="#666" stroke-width="0.5"/><line x1="168.9" y1="777.45" x2="168.9" y2="782.25" stroke="#333" stroke-width="0.5" /><line x1="168.1" y1="777.45" x2="169.7" y2="777.45" stroke="#333" stroke-width="0.5" /><circle cx="168.9" cy="781.32" r="0.55" fill="#222"/><circle cx="168.9" cy="784.2" r="0.55" fill="#222"/><rect x="171.8" y="785.65" width="3.4" height="16.55" fill="#3f7fe6" stroke="#2a2a2a" stroke-width="0.5"/><line x1="173.5" y1="782.92" x2="173.5" y2="785.65" stroke="#333" stroke-width="0.5" /><line x1="172.7" y1="782.92" x2="174.3" y2="782.92" stroke="#333" stroke-width="0.5" /><circle cx="173.5" cy="785.47" r="0.55" fill="#222"/><circle cx="173.5" cy="787.11" r="0.55" fill="#222"/><rect x="175.2" y="756.86" width="3.4" height="45.34" fill="#e8424c" stroke="#2a2a2a" stroke-width="0.5"/><line x1="176.9" y1="746.73" x2="176.9" y2="756.86" stroke="#333" stroke-width="0.5" /><line x1="176.1" y1="746.73" x2="177.7" y2="746.73" stroke="#333" stroke-width="0.5" /><circle cx="176.9" cy="754.01" r="0.55" fill="#222"/><circle cx="176.9" cy="760.09" r="0.55" fill="#222"/><rect x="178.6" y="787.46" width="3.4" height="14.74" fill="url(#hatB)" stroke="#666" stroke-width="0.5"/><line x1="180.3" y1="784.93" x2="180.3" y2="787.46" stroke="#333" stroke-width="0.5" /><line x1="179.5" y1="784.93" x2="181.1" y2="784.93" stroke="#333" stroke-width="0.5" /><circle cx="180.3" cy="787.35" r="0.55" fill="#222"/><circle cx="180.3" cy="788.87" r="0.55" fill="#222"/><rect x="182" y="776.13" width="3.4" height="26.07" fill="url(#hatR)" stroke="#666" stroke-width="0.5"/><line x1="183.7" y1="769.8" x2="183.7" y2="776.13" stroke="#333" stroke-width="0.5" /><line x1="182.9" y1="769.8" x2="184.5" y2="769.8" stroke="#333" stroke-width="0.5" /><circle cx="183.7" cy="774.65" r="0.55" fill="#222"/><circle cx="183.7" cy="778.45" r="0.55" fill="#222"/><rect x="201.3" y="795.85" width="3.4" height="6.35" fill="#3f7fe6" stroke="#2a2a2a" stroke-width="0.5"/><line x1="203" y1="794.29" x2="203" y2="795.85" stroke="#333" stroke-width="0.5" /><line x1="202.2" y1="794.29" x2="203.8" y2="794.29" stroke="#333" stroke-width="0.5" /><circle cx="203" cy="796.09" r="0.55" fill="#222"/><circle cx="203" cy="797.03" r="0.55" fill="#222"/><rect x="204.7" y="748.93" width="3.4" height="53.27" fill="#e8424c" stroke="#2a2a2a" stroke-width="0.5"/><line x1="206.4" y1="742.42" x2="206.4" y2="748.93" stroke="#333" stroke-width="0.5" /><line x1="205.6" y1="742.42" x2="207.2" y2="742.42" stroke="#333" stroke-width="0.5" /><circle cx="206.4" cy="747.39" r="0.55" fill="#222"/><circle cx="206.4" cy="751.29" r="0.55" fill="#222"/><rect x="208.1" y="794.27" width="3.4" height="7.93" fill="url(#hatB)" stroke="#666" stroke-width="0.5"/><line x1="209.8" y1="793.25" x2="209.8" y2="794.27" stroke="#333" stroke-width="0.5" /><line x1="209" y1="793.25" x2="210.6" y2="793.25" stroke="#333" stroke-width="0.5" /><circle cx="209.8" cy="794.7" r="0.55" fill="#222"/><circle cx="209.8" cy="795.31" r="0.55" fill="#222"/><rect x="211.5" y="755.05" width="3.4" height="47.15" fill="url(#hatR)" stroke="#666" stroke-width="0.5"/><line x1="213.2" y1="748.48" x2="213.2" y2="755.05" stroke="#333" stroke-width="0.5" /><line x1="212.4" y1="748.48" x2="214" y2="748.48" stroke="#333" stroke-width="0.5" /><circle cx="213.2" cy="753.48" r="0.55" fill="#222"/><circle cx="213.2" cy="757.42" r="0.55" fill="#222"/><rect x="215.9" y="795.85" width="3.4" height="6.35" fill="#3f7fe6" stroke="#2a2a2a" stroke-width="0.5"/><line x1="217.6" y1="794.21" x2="217.6" y2="795.85" stroke="#333" stroke-width="0.5" /><line x1="216.8" y1="794.21" x2="218.4" y2="794.21" stroke="#333" stroke-width="0.5" /><circle cx="217.6" cy="796.06" r="0.55" fill="#222"/><circle cx="217.6" cy="797.05" r="0.55" fill="#222"/><rect x="219.3" y="748.93" width="3.4" height="53.27" fill="#e8424c" stroke="#2a2a2a" stroke-width="0.5"/><line x1="221" y1="739.83" x2="221" y2="748.93" stroke="#333" stroke-width="0.5" /><line x1="220.2" y1="739.83" x2="221.8" y2="739.83" stroke="#333" stroke-width="0.5" /><circle cx="221" cy="746.45" r="0.55" fill="#222"/><circle cx="221" cy="751.91" r="0.55" fill="#222"/><rect x="222.7" y="794.27" width="3.4" height="7.93" fill="url(#hatB)" stroke="#666" stroke-width="0.5"/><line x1="224.4" y1="792.69" x2="224.4" y2="794.27" stroke="#333" stroke-width="0.5" /><line x1="223.6" y1="792.69" x2="225.2" y2="792.69" stroke="#333" stroke-width="0.5" /><circle cx="224.4" cy="794.5" r="0.55" fill="#222"/><circle cx="224.4" cy="795.44" r="0.55" fill="#222"/><rect x="226.1" y="755.05" width="3.4" height="47.15" fill="url(#hatR)" stroke="#666" stroke-width="0.5"/><line x1="227.8" y1="747.91" x2="227.8" y2="755.05" stroke="#333" stroke-width="0.5" /><line x1="227" y1="747.91" x2="228.6" y2="747.91" stroke="#333" stroke-width="0.5" /><circle cx="227.8" cy="753.28" r="0.55" fill="#222"/><circle cx="227.8" cy="757.56" r="0.55" fill="#222"/><path d="M73.4 747V743H80.2V770" fill="none" stroke="#555" stroke-width="0.6" /><line x1="71.4" y1="747" x2="75.4" y2="747" stroke="#555" stroke-width="0.6" /><line x1="78.2" y1="770" x2="82.2" y2="770" stroke="#555" stroke-width="0.6" /><text x="76.8" y="741" font-size="7.5" text-anchor="middle">***</text><path d="M88.3 746V741H95.1V758" fill="none" stroke="#555" stroke-width="0.6" /><line x1="86.3" y1="746" x2="90.3" y2="746" stroke="#555" stroke-width="0.6" /><line x1="93.1" y1="758" x2="97.1" y2="758" stroke="#555" stroke-width="0.6" /><text x="91.7" y="739" font-size="7.5" text-anchor="middle">*</text><path d="M103.2 742V738H110V765" fill="none" stroke="#555" stroke-width="0.6" /><line x1="101.2" y1="742" x2="105.2" y2="742" stroke="#555" stroke-width="0.6" /><line x1="108" y1="765" x2="112" y2="765" stroke="#555" stroke-width="0.6" /><text x="106.6" y="736" font-size="7.5" text-anchor="middle">**</text><path d="M118.2 755V744H125V772" fill="none" stroke="#555" stroke-width="0.6" /><line x1="116.2" y1="755" x2="120.2" y2="755" stroke="#555" stroke-width="0.6" /><line x1="123" y1="772" x2="127" y2="772" stroke="#555" stroke-width="0.6" /><text x="121.6" y="742" font-size="7.5" text-anchor="middle">*</text><path d="M132.8 758V746H139.6V771" fill="none" stroke="#555" stroke-width="0.6" /><line x1="130.8" y1="758" x2="134.8" y2="758" stroke="#555" stroke-width="0.6" /><line x1="137.6" y1="771" x2="141.6" y2="771" stroke="#555" stroke-width="0.6" /><text x="136.2" y="744" font-size="7.5" text-anchor="middle">**</text><path d="M162.1 762V752H168.9V772" fill="none" stroke="#555" stroke-width="0.6" /><line x1="160.1" y1="762" x2="164.1" y2="762" stroke="#555" stroke-width="0.6" /><line x1="166.9" y1="772" x2="170.9" y2="772" stroke="#555" stroke-width="0.6" /><text x="165.5" y="750" font-size="7.5" text-anchor="middle">*</text><path d="M176.9 748V741H183.7V762" fill="none" stroke="#555" stroke-width="0.6" /><line x1="174.9" y1="748" x2="178.9" y2="748" stroke="#555" stroke-width="0.6" /><line x1="181.7" y1="762" x2="185.7" y2="762" stroke="#555" stroke-width="0.6" /><text x="180.3" y="739" font-size="7.5" text-anchor="middle">*</text><path d="M206.4 739V734H213.2V739" fill="none" stroke="#555" stroke-width="0.6" /><line x1="204.4" y1="739" x2="208.4" y2="739" stroke="#555" stroke-width="0.6" /><line x1="211.2" y1="739" x2="215.2" y2="739" stroke="#555" stroke-width="0.6" /><text x="209.8" y="732" font-size="7.5" text-anchor="middle">ns</text><path d="M221 739V734H227.8V739" fill="none" stroke="#555" stroke-width="0.6" /><line x1="219" y1="739" x2="223" y2="739" stroke="#555" stroke-width="0.6" /><line x1="225.8" y1="739" x2="229.8" y2="739" stroke="#555" stroke-width="0.6" /><text x="224.4" y="732" font-size="7.5" text-anchor="middle">ns</text><text x="36.3" y="813.2" font-size="8.0" text-anchor="end" textLength="25.7" lengthAdjust="spacingAndGlyphs" transform="rotate(-55 36.3 813.2)">PGR (-)</text><text x="55.9" y="813.2" font-size="8.0" text-anchor="end" textLength="31" lengthAdjust="spacingAndGlyphs" transform="rotate(-55 55.9 813.2)">RARA (-)</text><text x="78" y="813.6" font-size="8.0" text-anchor="end" textLength="16.8" lengthAdjust="spacingAndGlyphs" transform="rotate(-55 78 813.6)">CISH</text><text x="92.3" y="813.2" font-size="8.0" text-anchor="end" textLength="18.3" lengthAdjust="spacingAndGlyphs" transform="rotate(-55 92.3 813.2)">PDPR</text><text x="109" y="813.2" font-size="8.0" text-anchor="end" textLength="15" lengthAdjust="spacingAndGlyphs" transform="rotate(-55 109 813.2)">PGR</text><text x="125.6" y="813.5" font-size="8.0" text-anchor="end" textLength="20.3" lengthAdjust="spacingAndGlyphs" transform="rotate(-55 125.6 813.5)">RARA</text><text x="141.3" y="813" font-size="8.0" text-anchor="end" textLength="23" lengthAdjust="spacingAndGlyphs" transform="rotate(-55 141.3 813)">FKBP4</text><text x="168.4" y="813.2" font-size="8.0" text-anchor="end" textLength="19.2" lengthAdjust="spacingAndGlyphs" transform="rotate(-55 168.4 813.2)">AGR3</text><text x="184.7" y="814.1" font-size="8.0" text-anchor="end" textLength="33.2" lengthAdjust="spacingAndGlyphs" transform="rotate(-55 184.7 814.1)">CABLES1</text><text x="214.9" y="813.6" font-size="8.0" text-anchor="end" textLength="29.4" lengthAdjust="spacingAndGlyphs" transform="rotate(-55 214.9 813.6)">TNFSF8</text><text x="230.6" y="812.5" font-size="8.0" text-anchor="end" textLength="21" lengthAdjust="spacingAndGlyphs" transform="rotate(-55 230.6 812.5)">RMST</text><path d="M25.3 842.2V844.2H54.8V842.2" fill="none" stroke="#333" stroke-width="0.8" /><text x="26.8" y="851.6" font-size="8.2" textLength="26" lengthAdjust="spacingAndGlyphs">Control</text><path d="M72.3 841.3V843.3H133.6V841.3" fill="none" stroke="#f6a0a6" stroke-width="0.8" /><text x="79.6" y="851.4" font-size="8.2" fill="#f2808a" textLength="43.5" lengthAdjust="spacingAndGlyphs">E2- induced</text><text x="87.6" y="861" font-size="8.2" fill="#f2808a" textLength="27" lengthAdjust="spacingAndGlyphs">R-loops</text><path d="M155.9 841.3V843.3H183.5V841.3" fill="none" stroke="#c070f4" stroke-width="0.8" /><text x="148" y="851.2" font-size="8.2" fill="#b860f4" textLength="42" lengthAdjust="spacingAndGlyphs">pre-exsiting</text><text x="155.9" y="861" font-size="8.2" fill="#b860f4" textLength="27.1" lengthAdjust="spacingAndGlyphs">R-loops</text><path d="M197.2 841.3V843.3H223.4V841.3" fill="none" stroke="#8ab0f2" stroke-width="0.8" /><text x="203.2" y="851.2" font-size="7.98" fill="#6a9cf0" textLength="11.8" lengthAdjust="spacingAndGlyphs">w/o</text><text x="198.7" y="861" font-size="8.18" fill="#6a9cf0" textLength="22.9" lengthAdjust="spacingAndGlyphs">R-loop</text><text x="226.2" y="836.3" font-size="8.6" textLength="16.8" lengthAdjust="spacingAndGlyphs">n=3</text><path d="M265.3 734.9V806.4H433.4" fill="none" stroke="#777" stroke-width="0.9" /><text x="247.4" y="737.5" font-size="8.92" fill="#333" textLength="16.5" lengthAdjust="spacingAndGlyphs">0.08</text><line x1="265.3" y1="735.1" x2="267.1" y2="735.1" stroke="#777" stroke-width="0.7" /><text x="247.4" y="754.7" font-size="8.92" fill="#333" textLength="16.5" lengthAdjust="spacingAndGlyphs">0.06</text><line x1="265.3" y1="752" x2="267.1" y2="752" stroke="#777" stroke-width="0.7" /><text x="247.4" y="771.7" font-size="8.92" fill="#333" textLength="16.5" lengthAdjust="spacingAndGlyphs">0.04</text><line x1="265.3" y1="768.9" x2="267.1" y2="768.9" stroke="#777" stroke-width="0.7" /><text x="247.4" y="788.3" font-size="8.92" fill="#333" textLength="16.5" lengthAdjust="spacingAndGlyphs">0.02</text><line x1="265.3" y1="785.8" x2="267.1" y2="785.8" stroke="#777" stroke-width="0.7" /><text x="259.5" y="804.6" font-size="8.33" fill="#333" textLength="4.4" lengthAdjust="spacingAndGlyphs">0</text><line x1="265.3" y1="802.7" x2="267.1" y2="802.7" stroke="#777" stroke-width="0.7" /><text x="242.2" y="765.5" font-size="8.2" text-anchor="middle" dominant-baseline="central" transform="rotate(-90 242.2 765.5)" textLength="26" lengthAdjust="spacingAndGlyphs">% input</text><rect x="267.4" y="798.48" width="3.6" height="4.22" fill="#3f7fe6" stroke="#2a2a2a" stroke-width="0.5"/><line x1="269.2" y1="797.27" x2="269.2" y2="798.48" stroke="#333" stroke-width="0.5" /><line x1="268.4" y1="797.27" x2="270" y2="797.27" stroke="#333" stroke-width="0.5" /><circle cx="269.2" cy="798.84" r="0.55" fill="#222"/><circle cx="269.2" cy="799.56" r="0.55" fill="#222"/><rect x="271" y="798.48" width="3.6" height="4.22" fill="#e8424c" stroke="#2a2a2a" stroke-width="0.5"/><line x1="272.8" y1="797.38" x2="272.8" y2="798.48" stroke="#333" stroke-width="0.5" /><line x1="272" y1="797.38" x2="273.6" y2="797.38" stroke="#333" stroke-width="0.5" /><circle cx="272.8" cy="798.88" r="0.55" fill="#222"/><circle cx="272.8" cy="799.54" r="0.55" fill="#222"/><rect x="274.6" y="798.48" width="3.6" height="4.22" fill="url(#hatB)" stroke="#666" stroke-width="0.5"/><line x1="276.4" y1="797.42" x2="276.4" y2="798.48" stroke="#333" stroke-width="0.5" /><line x1="275.6" y1="797.42" x2="277.2" y2="797.42" stroke="#333" stroke-width="0.5" /><circle cx="276.4" cy="798.89" r="0.55" fill="#222"/><circle cx="276.4" cy="799.53" r="0.55" fill="#222"/><rect x="278.2" y="799.32" width="3.6" height="3.38" fill="url(#hatR)" stroke="#666" stroke-width="0.5"/><line x1="280" y1="798.04" x2="280" y2="799.32" stroke="#333" stroke-width="0.5" /><line x1="279.2" y1="798.04" x2="280.8" y2="798.04" stroke="#333" stroke-width="0.5" /><circle cx="280" cy="799.66" r="0.55" fill="#222"/><circle cx="280" cy="800.43" r="0.55" fill="#222"/><rect x="282.3" y="800.17" width="3.6" height="2.54" fill="#3f7fe6" stroke="#2a2a2a" stroke-width="0.5"/><line x1="284.1" y1="798.88" x2="284.1" y2="800.17" stroke="#333" stroke-width="0.5" /><line x1="283.3" y1="798.88" x2="284.9" y2="798.88" stroke="#333" stroke-width="0.5" /><circle cx="284.1" cy="800.5" r="0.55" fill="#222"/><circle cx="284.1" cy="801.27" r="0.55" fill="#222"/><rect x="285.9" y="800.17" width="3.6" height="2.54" fill="#e8424c" stroke="#2a2a2a" stroke-width="0.5"/><line x1="287.7" y1="798.58" x2="287.7" y2="800.17" stroke="#333" stroke-width="0.5" /><line x1="286.9" y1="798.58" x2="288.5" y2="798.58" stroke="#333" stroke-width="0.5" /><circle cx="287.7" cy="800.39" r="0.55" fill="#222"/><circle cx="287.7" cy="801.35" r="0.55" fill="#222"/><rect x="289.5" y="800.17" width="3.6" height="2.54" fill="url(#hatB)" stroke="#666" stroke-width="0.5"/><line x1="291.3" y1="798.79" x2="291.3" y2="800.17" stroke="#333" stroke-width="0.5" /><line x1="290.5" y1="798.79" x2="292.1" y2="798.79" stroke="#333" stroke-width="0.5" /><circle cx="291.3" cy="800.47" r="0.55" fill="#222"/><circle cx="291.3" cy="801.29" r="0.55" fill="#222"/><rect x="293.1" y="800.17" width="3.6" height="2.54" fill="url(#hatR)" stroke="#666" stroke-width="0.5"/><line x1="294.9" y1="798.55" x2="294.9" y2="800.17" stroke="#333" stroke-width="0.5" /><line x1="294.1" y1="798.55" x2="295.7" y2="798.55" stroke="#333" stroke-width="0.5" /><circle cx="294.9" cy="800.38" r="0.55" fill="#222"/><circle cx="294.9" cy="801.35" r="0.55" fill="#222"/><rect x="312.5" y="790.03" width="3.6" height="12.67" fill="#3f7fe6" stroke="#2a2a2a" stroke-width="0.5"/><line x1="314.3" y1="787.09" x2="314.3" y2="790.03" stroke="#333" stroke-width="0.5" /><line x1="313.5" y1="787.09" x2="315.1" y2="787.09" stroke="#333" stroke-width="0.5" /><circle cx="314.3" cy="789.77" r="0.55" fill="#222"/><circle cx="314.3" cy="791.53" r="0.55" fill="#222"/><rect x="316.1" y="770.59" width="3.6" height="32.11" fill="#e8424c" stroke="#2a2a2a" stroke-width="0.5"/><line x1="317.9" y1="762.54" x2="317.9" y2="770.59" stroke="#333" stroke-width="0.5" /><line x1="317.1" y1="762.54" x2="318.7" y2="762.54" stroke="#333" stroke-width="0.5" /><circle cx="317.9" cy="768.49" r="0.55" fill="#222"/><circle cx="317.9" cy="773.32" r="0.55" fill="#222"/><rect x="319.7" y="796.79" width="3.6" height="5.92" fill="url(#hatB)" stroke="#666" stroke-width="0.5"/><line x1="321.5" y1="795.42" x2="321.5" y2="796.79" stroke="#333" stroke-width="0.5" /><line x1="320.7" y1="795.42" x2="322.3" y2="795.42" stroke="#333" stroke-width="0.5" /><circle cx="321.5" cy="797.09" r="0.55" fill="#222"/><circle cx="321.5" cy="797.91" r="0.55" fill="#222"/><rect x="323.3" y="790.87" width="3.6" height="11.83" fill="url(#hatR)" stroke="#666" stroke-width="0.5"/><line x1="325.1" y1="789.31" x2="325.1" y2="790.87" stroke="#333" stroke-width="0.5" /><line x1="324.3" y1="789.31" x2="325.9" y2="789.31" stroke="#333" stroke-width="0.5" /><circle cx="325.1" cy="791.11" r="0.55" fill="#222"/><circle cx="325.1" cy="792.04" r="0.55" fill="#222"/><rect x="327.8" y="783.27" width="3.6" height="19.43" fill="#3f7fe6" stroke="#2a2a2a" stroke-width="0.5"/><line x1="329.6" y1="778.76" x2="329.6" y2="783.27" stroke="#333" stroke-width="0.5" /><line x1="328.8" y1="778.76" x2="330.4" y2="778.76" stroke="#333" stroke-width="0.5" /><circle cx="329.6" cy="782.44" r="0.55" fill="#222"/><circle cx="329.6" cy="785.15" r="0.55" fill="#222"/><rect x="331.4" y="752" width="3.6" height="50.7" fill="#e8424c" stroke="#2a2a2a" stroke-width="0.5"/><line x1="333.2" y1="739.48" x2="333.2" y2="752" stroke="#333" stroke-width="0.5" /><line x1="332.4" y1="739.48" x2="334" y2="739.48" stroke="#333" stroke-width="0.5" /><circle cx="333.2" cy="748.29" r="0.55" fill="#222"/><circle cx="333.2" cy="755.8" r="0.55" fill="#222"/><rect x="335" y="790.03" width="3.6" height="12.67" fill="url(#hatB)" stroke="#666" stroke-width="0.5"/><line x1="336.8" y1="787" x2="336.8" y2="790.03" stroke="#333" stroke-width="0.5" /><line x1="336" y1="787" x2="337.6" y2="787" stroke="#333" stroke-width="0.5" /><circle cx="336.8" cy="789.74" r="0.55" fill="#222"/><circle cx="336.8" cy="791.55" r="0.55" fill="#222"/><rect x="338.6" y="775.66" width="3.6" height="27.04" fill="url(#hatR)" stroke="#666" stroke-width="0.5"/><line x1="340.4" y1="770.52" x2="340.4" y2="775.66" stroke="#333" stroke-width="0.5" /><line x1="339.6" y1="770.52" x2="341.2" y2="770.52" stroke="#333" stroke-width="0.5" /><circle cx="340.4" cy="774.61" r="0.55" fill="#222"/><circle cx="340.4" cy="777.69" r="0.55" fill="#222"/><rect x="343" y="794.25" width="3.6" height="8.45" fill="#3f7fe6" stroke="#2a2a2a" stroke-width="0.5"/><line x1="344.8" y1="792.47" x2="344.8" y2="794.25" stroke="#333" stroke-width="0.5" /><line x1="344" y1="792.47" x2="345.6" y2="792.47" stroke="#333" stroke-width="0.5" /><circle cx="344.8" cy="794.41" r="0.55" fill="#222"/><circle cx="344.8" cy="795.48" r="0.55" fill="#222"/><rect x="346.6" y="762.99" width="3.6" height="39.72" fill="#e8424c" stroke="#2a2a2a" stroke-width="0.5"/><line x1="348.4" y1="757.49" x2="348.4" y2="762.99" stroke="#333" stroke-width="0.5" /><line x1="347.6" y1="757.49" x2="349.2" y2="757.49" stroke="#333" stroke-width="0.5" /><circle cx="348.4" cy="761.81" r="0.55" fill="#222"/><circle cx="348.4" cy="765.1" r="0.55" fill="#222"/><rect x="350.2" y="792.56" width="3.6" height="10.14" fill="url(#hatB)" stroke="#666" stroke-width="0.5"/><line x1="352" y1="790.25" x2="352" y2="792.56" stroke="#333" stroke-width="0.5" /><line x1="351.2" y1="790.25" x2="352.8" y2="790.25" stroke="#333" stroke-width="0.5" /><circle cx="352" cy="792.53" r="0.55" fill="#222"/><circle cx="352" cy="793.91" r="0.55" fill="#222"/><rect x="353.8" y="779.88" width="3.6" height="22.82" fill="url(#hatR)" stroke="#666" stroke-width="0.5"/><line x1="355.6" y1="775.54" x2="355.6" y2="779.88" stroke="#333" stroke-width="0.5" /><line x1="354.8" y1="775.54" x2="356.4" y2="775.54" stroke="#333" stroke-width="0.5" /><circle cx="355.6" cy="779.12" r="0.55" fill="#222"/><circle cx="355.6" cy="781.73" r="0.55" fill="#222"/><rect x="357.7" y="780.73" width="3.6" height="21.97" fill="#3f7fe6" stroke="#2a2a2a" stroke-width="0.5"/><line x1="359.5" y1="777.46" x2="359.5" y2="780.73" stroke="#333" stroke-width="0.5" /><line x1="358.7" y1="777.46" x2="360.3" y2="777.46" stroke="#333" stroke-width="0.5" /><circle cx="359.5" cy="780.35" r="0.55" fill="#222"/><circle cx="359.5" cy="782.32" r="0.55" fill="#222"/><rect x="361.3" y="763.83" width="3.6" height="38.87" fill="#e8424c" stroke="#2a2a2a" stroke-width="0.5"/><line x1="363.1" y1="759.28" x2="363.1" y2="763.83" stroke="#333" stroke-width="0.5" /><line x1="362.3" y1="759.28" x2="363.9" y2="759.28" stroke="#333" stroke-width="0.5" /><circle cx="363.1" cy="762.99" r="0.55" fill="#222"/><circle cx="363.1" cy="765.72" r="0.55" fill="#222"/><rect x="364.9" y="789.18" width="3.6" height="13.52" fill="url(#hatB)" stroke="#666" stroke-width="0.5"/><line x1="366.7" y1="786.06" x2="366.7" y2="789.18" stroke="#333" stroke-width="0.5" /><line x1="365.9" y1="786.06" x2="367.5" y2="786.06" stroke="#333" stroke-width="0.5" /><circle cx="366.7" cy="788.86" r="0.55" fill="#222"/><circle cx="366.7" cy="790.73" r="0.55" fill="#222"/><rect x="368.5" y="782.42" width="3.6" height="20.28" fill="url(#hatR)" stroke="#666" stroke-width="0.5"/><line x1="370.3" y1="777.34" x2="370.3" y2="782.42" stroke="#333" stroke-width="0.5" /><line x1="369.5" y1="777.34" x2="371.1" y2="777.34" stroke="#333" stroke-width="0.5" /><circle cx="370.3" cy="781.39" r="0.55" fill="#222"/><circle cx="370.3" cy="784.44" r="0.55" fill="#222"/><rect x="373" y="786.65" width="3.6" height="16.05" fill="#3f7fe6" stroke="#2a2a2a" stroke-width="0.5"/><line x1="374.8" y1="784.71" x2="374.8" y2="786.65" stroke="#333" stroke-width="0.5" /><line x1="374" y1="784.71" x2="375.6" y2="784.71" stroke="#333" stroke-width="0.5" /><circle cx="374.8" cy="786.75" r="0.55" fill="#222"/><circle cx="374.8" cy="787.91" r="0.55" fill="#222"/><rect x="376.6" y="762.99" width="3.6" height="39.72" fill="#e8424c" stroke="#2a2a2a" stroke-width="0.5"/><line x1="378.4" y1="754.12" x2="378.4" y2="762.99" stroke="#333" stroke-width="0.5" /><line x1="377.6" y1="754.12" x2="379.2" y2="754.12" stroke="#333" stroke-width="0.5" /><circle cx="378.4" cy="760.59" r="0.55" fill="#222"/><circle cx="378.4" cy="765.91" r="0.55" fill="#222"/><rect x="380.2" y="789.18" width="3.6" height="13.52" fill="url(#hatB)" stroke="#666" stroke-width="0.5"/><line x1="382" y1="786.92" x2="382" y2="789.18" stroke="#333" stroke-width="0.5" /><line x1="381.2" y1="786.92" x2="382.8" y2="786.92" stroke="#333" stroke-width="0.5" /><circle cx="382" cy="789.17" r="0.55" fill="#222"/><circle cx="382" cy="790.52" r="0.55" fill="#222"/><rect x="383.8" y="781.58" width="3.6" height="21.12" fill="url(#hatR)" stroke="#666" stroke-width="0.5"/><line x1="385.6" y1="778.83" x2="385.6" y2="781.58" stroke="#333" stroke-width="0.5" /><line x1="384.8" y1="778.83" x2="386.4" y2="778.83" stroke="#333" stroke-width="0.5" /><circle cx="385.6" cy="781.39" r="0.55" fill="#222"/><circle cx="385.6" cy="783.03" r="0.55" fill="#222"/><rect x="403.2" y="771.44" width="3.6" height="31.26" fill="#3f7fe6" stroke="#2a2a2a" stroke-width="0.5"/><line x1="405" y1="766.74" x2="405" y2="771.44" stroke="#333" stroke-width="0.5" /><line x1="404.2" y1="766.74" x2="405.8" y2="766.74" stroke="#333" stroke-width="0.5" /><circle cx="405" cy="770.54" r="0.55" fill="#222"/><circle cx="405" cy="773.36" r="0.55" fill="#222"/><rect x="406.8" y="766.37" width="3.6" height="36.33" fill="#e8424c" stroke="#2a2a2a" stroke-width="0.5"/><line x1="408.6" y1="758.42" x2="408.6" y2="766.37" stroke="#333" stroke-width="0.5" /><line x1="407.8" y1="758.42" x2="409.4" y2="758.42" stroke="#333" stroke-width="0.5" /><circle cx="408.6" cy="764.3" r="0.55" fill="#222"/><circle cx="408.6" cy="769.07" r="0.55" fill="#222"/><rect x="410.4" y="784.11" width="3.6" height="18.59" fill="url(#hatB)" stroke="#666" stroke-width="0.5"/><line x1="412.2" y1="779.77" x2="412.2" y2="784.11" stroke="#333" stroke-width="0.5" /><line x1="411.4" y1="779.77" x2="413" y2="779.77" stroke="#333" stroke-width="0.5" /><circle cx="412.2" cy="783.35" r="0.55" fill="#222"/><circle cx="412.2" cy="785.95" r="0.55" fill="#222"/><rect x="414" y="781.58" width="3.6" height="21.12" fill="url(#hatR)" stroke="#666" stroke-width="0.5"/><line x1="415.8" y1="779.16" x2="415.8" y2="781.58" stroke="#333" stroke-width="0.5" /><line x1="415" y1="779.16" x2="416.6" y2="779.16" stroke="#333" stroke-width="0.5" /><circle cx="415.8" cy="781.51" r="0.55" fill="#222"/><circle cx="415.8" cy="782.95" r="0.55" fill="#222"/><rect x="418.2" y="768.06" width="3.6" height="34.65" fill="#3f7fe6" stroke="#2a2a2a" stroke-width="0.5"/><line x1="420" y1="761.25" x2="420" y2="768.06" stroke="#333" stroke-width="0.5" /><line x1="419.2" y1="761.25" x2="420.8" y2="761.25" stroke="#333" stroke-width="0.5" /><circle cx="420" cy="766.4" r="0.55" fill="#222"/><circle cx="420" cy="770.49" r="0.55" fill="#222"/><rect x="421.8" y="761.3" width="3.6" height="41.41" fill="#e8424c" stroke="#2a2a2a" stroke-width="0.5"/><line x1="423.6" y1="756.56" x2="423.6" y2="761.3" stroke="#333" stroke-width="0.5" /><line x1="422.8" y1="756.56" x2="424.4" y2="756.56" stroke="#333" stroke-width="0.5" /><circle cx="423.6" cy="760.39" r="0.55" fill="#222"/><circle cx="423.6" cy="763.23" r="0.55" fill="#222"/><rect x="425.4" y="784.11" width="3.6" height="18.59" fill="url(#hatB)" stroke="#666" stroke-width="0.5"/><line x1="427.2" y1="780.18" x2="427.2" y2="784.11" stroke="#333" stroke-width="0.5" /><line x1="426.4" y1="780.18" x2="428" y2="780.18" stroke="#333" stroke-width="0.5" /><circle cx="427.2" cy="783.49" r="0.55" fill="#222"/><circle cx="427.2" cy="785.85" r="0.55" fill="#222"/><rect x="429" y="777.35" width="3.6" height="25.35" fill="url(#hatR)" stroke="#666" stroke-width="0.5"/><line x1="430.8" y1="773.4" x2="430.8" y2="777.35" stroke="#333" stroke-width="0.5" /><line x1="430" y1="773.4" x2="431.6" y2="773.4" stroke="#333" stroke-width="0.5" /><circle cx="430.8" cy="776.73" r="0.55" fill="#222"/><circle cx="430.8" cy="779.1" r="0.55" fill="#222"/><path d="M317.9 756V750H325.1V772" fill="none" stroke="#555" stroke-width="0.6" /><line x1="315.9" y1="756" x2="319.9" y2="756" stroke="#555" stroke-width="0.6" /><line x1="323.1" y1="772" x2="327.1" y2="772" stroke="#555" stroke-width="0.6" /><text x="321.5" y="748" font-size="7.5" text-anchor="middle">**</text><path d="M333.2 737V732H340.4V760" fill="none" stroke="#555" stroke-width="0.6" /><line x1="331.2" y1="737" x2="335.2" y2="737" stroke="#555" stroke-width="0.6" /><line x1="338.4" y1="760" x2="342.4" y2="760" stroke="#555" stroke-width="0.6" /><text x="336.8" y="730" font-size="7.5" text-anchor="middle">*</text><path d="M348.4 754V750H355.6V770" fill="none" stroke="#555" stroke-width="0.6" /><line x1="346.4" y1="754" x2="350.4" y2="754" stroke="#555" stroke-width="0.6" /><line x1="353.6" y1="770" x2="357.6" y2="770" stroke="#555" stroke-width="0.6" /><text x="352" y="748" font-size="7.5" text-anchor="middle">**</text><path d="M363.1 756V744H370.3V768" fill="none" stroke="#555" stroke-width="0.6" /><line x1="361.1" y1="756" x2="365.1" y2="756" stroke="#555" stroke-width="0.6" /><line x1="368.3" y1="768" x2="372.3" y2="768" stroke="#555" stroke-width="0.6" /><text x="366.7" y="742" font-size="7.5" text-anchor="middle">*</text><path d="M378.4 754V743H385.6V767" fill="none" stroke="#555" stroke-width="0.6" /><line x1="376.4" y1="754" x2="380.4" y2="754" stroke="#555" stroke-width="0.6" /><line x1="383.6" y1="767" x2="387.6" y2="767" stroke="#555" stroke-width="0.6" /><text x="382" y="741" font-size="7.5" text-anchor="middle">*</text><path d="M408.6 760V755H415.8V770" fill="none" stroke="#555" stroke-width="0.6" /><line x1="406.6" y1="760" x2="410.6" y2="760" stroke="#555" stroke-width="0.6" /><line x1="413.8" y1="770" x2="417.8" y2="770" stroke="#555" stroke-width="0.6" /><text x="412.2" y="753" font-size="7.5" text-anchor="middle">**</text><path d="M423.6 740V733H430.8V752" fill="none" stroke="#555" stroke-width="0.6" /><line x1="421.6" y1="740" x2="425.6" y2="740" stroke="#555" stroke-width="0.6" /><line x1="428.8" y1="752" x2="432.8" y2="752" stroke="#555" stroke-width="0.6" /><text x="427.2" y="731" font-size="7.5" text-anchor="middle">*</text><text x="274.5" y="813.2" font-size="8.0" text-anchor="end" textLength="25.7" lengthAdjust="spacingAndGlyphs" transform="rotate(-55 274.5 813.2)">PGR (-)</text><text x="292.6" y="813.2" font-size="8.0" text-anchor="end" textLength="31" lengthAdjust="spacingAndGlyphs" transform="rotate(-55 292.6 813.2)">RARA (-)</text><text x="316.2" y="814" font-size="8.0" text-anchor="end" textLength="16.8" lengthAdjust="spacingAndGlyphs" transform="rotate(-55 316.2 814)">CISH</text><text x="332" y="813.7" font-size="8.0" text-anchor="end" textLength="18.3" lengthAdjust="spacingAndGlyphs" transform="rotate(-55 332 813.7)">PDPR</text><text x="351.3" y="813.7" font-size="8.0" text-anchor="end" textLength="15" lengthAdjust="spacingAndGlyphs" transform="rotate(-55 351.3 813.7)">PGR</text><text x="368" y="813.3" font-size="8.0" text-anchor="end" textLength="20.3" lengthAdjust="spacingAndGlyphs" transform="rotate(-55 368 813.3)">RARA</text><text x="384.1" y="813.2" font-size="8.0" text-anchor="end" textLength="23" lengthAdjust="spacingAndGlyphs" transform="rotate(-55 384.1 813.2)">FKBP4</text><text x="414.5" y="813.7" font-size="8.0" text-anchor="end" textLength="19.2" lengthAdjust="spacingAndGlyphs" transform="rotate(-55 414.5 813.7)">AGR3</text><text x="432.5" y="814.2" font-size="8.0" text-anchor="end" textLength="33.2" lengthAdjust="spacingAndGlyphs" transform="rotate(-55 432.5 814.2)">CABLES1</text><path d="M260.9 842.2V844.2H289.4V842.2" fill="none" stroke="#333" stroke-width="0.8" /><text x="261.8" y="852.9" font-size="8.2" textLength="26.2" lengthAdjust="spacingAndGlyphs">Control</text><path d="M314.9 842.5V844.5H375V842.5" fill="none" stroke="#f6a0a6" stroke-width="0.8" /><text x="320.9" y="852.9" font-size="8.2" fill="#f2808a" textLength="43.3" lengthAdjust="spacingAndGlyphs">E2- induced</text><text x="329" y="861.7" font-size="8.2" fill="#f2808a" textLength="27.6" lengthAdjust="spacingAndGlyphs">R-loops</text><path d="M400.4 842.7V844.7H427.6V842.7" fill="none" stroke="#c070f4" stroke-width="0.8" /><text x="392.6" y="852.9" font-size="8.2" fill="#b860f4" textLength="42" lengthAdjust="spacingAndGlyphs">pre-exsiting</text><text x="401" y="861.7" font-size="7.85" fill="#b860f4" textLength="25.7" lengthAdjust="spacingAndGlyphs">R-loops</text><text x="432" y="834.9" font-size="8.6" textLength="16.6" lengthAdjust="spacingAndGlyphs">n=3</text><rect x="44" y="870.5" width="13.2" height="4.7" fill="#3f7fe6" stroke="#2a2a2a" stroke-width="0.5" rx="1"/><text x="58.8" y="876.1" font-size="8.4" textLength="49.5" lengthAdjust="spacingAndGlyphs">lipid + DMSO</text><rect x="126.1" y="870.7" width="13.7" height="4.5" fill="#e8424c" stroke="#2a2a2a" stroke-width="0.5" rx="1"/><text x="140.4" y="875.8" font-size="8.4" textLength="35.2" lengthAdjust="spacingAndGlyphs">lipid + E2</text><rect x="196" y="870.7" width="12.3" height="4.5" fill="#fafafa" stroke="#555" stroke-width="0.6"/><line x1="200.5" y1="874.5" x2="204" y2="871.2" stroke="#3f7fe6" stroke-width="1.3" /><text x="209.9" y="875.8" font-size="8.4" textLength="85.9" lengthAdjust="spacingAndGlyphs">RNaseH1 vec. + DMSO</text><rect x="309" y="870.7" width="12.7" height="4.5" fill="#fafafa" stroke="#555" stroke-width="0.6"/><line x1="313.5" y1="874.5" x2="317" y2="871.2" stroke="#e8424c" stroke-width="1.3" /><text x="322.3" y="875.8" font-size="8.4" textLength="71.6" lengthAdjust="spacingAndGlyphs">RNaseH1 vec. + E2</text><defs><linearGradient id="hr" x1="0" y1="0" x2="0" y2="1"><stop offset="0" stop-color="#e8424c"/><stop offset="1" stop-color="#fff"/></linearGradient><linearGradient id="hb" x1="0" y1="0" x2="0" y2="1"><stop offset="0" stop-color="#3f7fe6"/><stop offset="1" stop-color="#fff"/></linearGradient></defs><text x="505.5" y="670.2" font-size="21.3" stroke="#fff" stroke-width="0.4">h</text><text x="549.5" y="665.4" font-size="8.65" textLength="58.9" lengthAdjust="spacingAndGlyphs">E2-induced A3B</text><text x="571.1" y="674.9" font-size="8.0" textLength="16.1" lengthAdjust="spacingAndGlyphs">sites</text><path d="M559.5 683.6V680.6H598.6V683.6M579 680.6V678.8" fill="none" stroke="#444" stroke-width="0.9" /><rect x="555.9" y="685.1" width="13.7" height="3.2" fill="#f0444e" /><rect x="571.1" y="685.1" width="13.8" height="3.2" fill="#a845f5" /><rect x="586.6" y="685.1" width="14.2" height="3.2" fill="#4a8ef5" /><text x="608.5" y="689.3" font-size="7.3" textLength="40" lengthAdjust="spacingAndGlyphs" transform="rotate(-46 608.5 689.3)">other A3B sites</text><text x="630.5" y="689.3" font-size="7.3" textLength="54" lengthAdjust="spacingAndGlyphs" transform="rotate(-46 630.5 689.3)">E2-induced R-loops</text><text x="651.5" y="689.3" font-size="7.3" textLength="37" lengthAdjust="spacingAndGlyphs" transform="rotate(-46 651.5 689.3)">other R-loops</text><text x="515" y="698.4" font-size="8.2" textLength="38.5" lengthAdjust="spacingAndGlyphs">Active TSS</text><rect x="555.5" y="691.4" width="15.2" height="9.11" fill="#e8424c" /><text x="563.1" y="698.3" font-size="6.3" fill="#333" text-anchor="middle">40.8</text><rect x="570.7" y="691.4" width="15.4" height="9.11" fill="#e8424c" /><text x="578.4" y="698.3" font-size="6.3" fill="#333" text-anchor="middle">39.5</text><rect x="586.1" y="691.4" width="15.7" height="9.11" fill="#f5adb2" /><text x="593.95" y="698.3" font-size="6.3" fill="#333" text-anchor="middle">17.1</text><rect x="601.8" y="691.4" width="14.8" height="9.11" fill="#e94952" /><text x="609.2" y="698.3" font-size="6.3" fill="#333" text-anchor="middle">36.7</text><rect x="629.3" y="691.4" width="15.5" height="9.11" fill="#bcd5f8" /><text x="637.05" y="698.3" font-size="6.3" fill="#333" text-anchor="middle">7.9</text><rect x="644.8" y="691.4" width="15.4" height="9.11" fill="#e2edfb" /><text x="652.5" y="698.3" font-size="6.3" fill="#333" text-anchor="middle">2.5</text><text x="539.9" y="707.51" font-size="8.2" textLength="13.6" lengthAdjust="spacingAndGlyphs">TSS</text><rect x="555.5" y="700.51" width="15.2" height="9.11" fill="#fbdbdd" /><text x="563.1" y="707.41" font-size="6.3" fill="#333" text-anchor="middle">7.8</text><rect x="570.7" y="700.51" width="15.4" height="9.11" fill="#fad6d8" /><text x="578.4" y="707.41" font-size="6.3" fill="#333" text-anchor="middle">8.9</text><rect x="586.1" y="700.51" width="15.7" height="9.11" fill="#fad7d9" /><text x="593.95" y="707.41" font-size="6.3" fill="#333" text-anchor="middle">8.6</text><rect x="601.8" y="700.51" width="14.8" height="9.11" fill="#f9cfd1" /><text x="609.2" y="707.41" font-size="6.3" fill="#333" text-anchor="middle">10.4</text><rect x="629.3" y="700.51" width="15.5" height="9.11" fill="#e3edfb" /><text x="637.05" y="707.41" font-size="6.3" fill="#333" text-anchor="middle">2.4</text><rect x="644.8" y="700.51" width="15.4" height="9.11" fill="#e7f0fb" /><text x="652.5" y="707.41" font-size="6.3" fill="#333" text-anchor="middle">1.8</text><text x="507.5" y="716.61" font-size="8.2" textLength="46" lengthAdjust="spacingAndGlyphs">Flanking TSS</text><rect x="555.5" y="709.61" width="15.2" height="9.11" fill="#e8424c" /><text x="563.1" y="716.51" font-size="6.3" fill="#333" text-anchor="middle">49.0</text><rect x="570.7" y="709.61" width="15.4" height="9.11" fill="#e8424c" /><text x="578.4" y="716.51" font-size="6.3" fill="#333" text-anchor="middle">42.6</text><rect x="586.1" y="709.61" width="15.7" height="9.11" fill="#ea545d" /><text x="593.95" y="716.51" font-size="6.3" fill="#333" text-anchor="middle">34.5</text><rect x="601.8" y="709.61" width="14.8" height="9.11" fill="#ec646c" /><text x="609.2" y="716.51" font-size="6.3" fill="#333" text-anchor="middle">31.5</text><rect x="629.3" y="709.61" width="15.5" height="9.11" fill="#b5d1f8" /><text x="637.05" y="716.51" font-size="6.3" fill="#333" text-anchor="middle">8.9</text><rect x="644.8" y="709.61" width="15.4" height="9.11" fill="#e4eefb" /><text x="652.5" y="716.51" font-size="6.3" fill="#333" text-anchor="middle">2.3</text><text x="460" y="725.72" font-size="8.2" textLength="93.5" lengthAdjust="spacingAndGlyphs">Flanking TSS Downstream</text><rect x="555.5" y="718.72" width="15.2" height="9.11" fill="#fad6d8" /><text x="563.1" y="725.62" font-size="6.3" fill="#333" text-anchor="middle">8.9</text><rect x="570.7" y="718.72" width="15.4" height="9.11" fill="#f6b6ba" /><text x="578.4" y="725.62" font-size="6.3" fill="#333" text-anchor="middle">15.3</text><rect x="586.1" y="718.72" width="15.7" height="9.11" fill="#f3999e" /><text x="593.95" y="725.62" font-size="6.3" fill="#333" text-anchor="middle">21.2</text><rect x="601.8" y="718.72" width="14.8" height="9.11" fill="#f4a7ab" /><text x="609.2" y="725.62" font-size="6.3" fill="#333" text-anchor="middle">18.4</text><rect x="629.3" y="718.72" width="15.5" height="9.11" fill="#dae8fa" /><text x="637.05" y="725.62" font-size="6.3" fill="#333" text-anchor="middle">3.6</text><rect x="644.8" y="718.72" width="15.4" height="9.11" fill="#e7f0fb" /><text x="652.5" y="725.62" font-size="6.3" fill="#333" text-anchor="middle">1.8</text><text x="481.3" y="734.82" font-size="8.2" textLength="72.2" lengthAdjust="spacingAndGlyphs">Strong Transcription</text><rect x="555.5" y="727.82" width="15.2" height="9.11" fill="#ffffff" /><text x="563.1" y="734.72" font-size="6.3" fill="#333" text-anchor="middle">0.0</text><rect x="570.7" y="727.82" width="15.4" height="9.11" fill="#ffffff" /><text x="578.4" y="734.72" font-size="6.3" fill="#333" text-anchor="middle">0.1</text><rect x="586.1" y="727.82" width="15.7" height="9.11" fill="#ffffff" /><text x="593.95" y="734.72" font-size="6.3" fill="#333" text-anchor="middle">0.0</text><rect x="601.8" y="727.82" width="14.8" height="9.11" fill="#ffffff" /><text x="609.2" y="734.72" font-size="6.3" fill="#333" text-anchor="middle">0.1</text><rect x="629.3" y="727.82" width="15.5" height="9.11" fill="#d8e6fa" /><text x="637.05" y="734.72" font-size="6.3" fill="#333" text-anchor="middle">4.0</text><rect x="644.8" y="727.82" width="15.4" height="9.11" fill="#e1ecfb" /><text x="652.5" y="734.72" font-size="6.3" fill="#333" text-anchor="middle">2.7</text><text x="485" y="743.93" font-size="8.2" textLength="68.5" lengthAdjust="spacingAndGlyphs">Weak Transcription</text><rect x="555.5" y="736.93" width="15.2" height="9.11" fill="#ffffff" /><text x="563.1" y="743.83" font-size="6.3" fill="#333" text-anchor="middle">0.0</text><rect x="570.7" y="736.93" width="15.4" height="9.11" fill="#ffffff" /><text x="578.4" y="743.83" font-size="6.3" fill="#333" text-anchor="middle">0.0</text><rect x="586.1" y="736.93" width="15.7" height="9.11" fill="#ffffff" /><text x="593.95" y="743.83" font-size="6.3" fill="#333" text-anchor="middle">0.0</text><rect x="601.8" y="736.93" width="14.8" height="9.11" fill="#ffffff" /><text x="609.2" y="743.83" font-size="6.3" fill="#333" text-anchor="middle">0.1</text><rect x="629.3" y="736.93" width="15.5" height="9.11" fill="#e5effb" /><text x="637.05" y="743.83" font-size="6.3" fill="#333" text-anchor="middle">2.1</text><rect x="644.8" y="736.93" width="15.4" height="9.11" fill="#e4eefb" /><text x="652.5" y="743.83" font-size="6.3" fill="#333" text-anchor="middle">2.3</text><text x="470.6" y="753.04" font-size="8.2" textLength="82.9" lengthAdjust="spacingAndGlyphs">Transcribed enhancer 1</text><rect x="555.5" y="746.04" width="15.2" height="9.11" fill="#fdeced" /><text x="563.1" y="752.94" font-size="6.3" fill="#333" text-anchor="middle">4.2</text><rect x="570.7" y="746.04" width="15.4" height="9.11" fill="#fdf0f1" /><text x="578.4" y="752.94" font-size="6.3" fill="#333" text-anchor="middle">3.4</text><rect x="586.1" y="746.04" width="15.7" height="9.11" fill="#fef8f9" /><text x="593.95" y="752.94" font-size="6.3" fill="#333" text-anchor="middle">1.6</text><rect x="601.8" y="746.04" width="14.8" height="9.11" fill="#fdf0f1" /><text x="609.2" y="752.94" font-size="6.3" fill="#333" text-anchor="middle">3.3</text><rect x="629.3" y="746.04" width="15.5" height="9.11" fill="#b8d2f8" /><text x="637.05" y="752.94" font-size="6.3" fill="#333" text-anchor="middle">8.5</text><rect x="644.8" y="746.04" width="15.4" height="9.11" fill="#dfebfb" /><text x="652.5" y="752.94" font-size="6.3" fill="#333" text-anchor="middle">2.9</text><text x="470.1" y="762.14" font-size="8.2" textLength="83.4" lengthAdjust="spacingAndGlyphs">Transcribed enhancer 2</text><rect x="555.5" y="755.14" width="15.2" height="9.11" fill="#eb5d65" /><text x="563.1" y="762.04" font-size="6.3" fill="#333" text-anchor="middle">32.9</text><rect x="570.7" y="755.14" width="15.4" height="9.11" fill="#f2959b" /><text x="578.4" y="762.04" font-size="6.3" fill="#333" text-anchor="middle">21.9</text><rect x="586.1" y="755.14" width="15.7" height="9.11" fill="#fad8da" /><text x="593.95" y="762.04" font-size="6.3" fill="#333" text-anchor="middle">8.5</text><rect x="601.8" y="755.14" width="14.8" height="9.11" fill="#f7babd" /><text x="609.2" y="762.04" font-size="6.3" fill="#333" text-anchor="middle">14.6</text><rect x="629.3" y="755.14" width="15.5" height="9.11" fill="#99bff6" /><text x="637.05" y="762.04" font-size="6.3" fill="#333" text-anchor="middle">12.8</text><rect x="644.8" y="755.14" width="15.4" height="9.11" fill="#dfebfb" /><text x="652.5" y="762.04" font-size="6.3" fill="#333" text-anchor="middle">2.9</text><text x="489.3" y="771.25" font-size="8.2" textLength="64.2" lengthAdjust="spacingAndGlyphs">Active enhancer 1</text><rect x="555.5" y="764.25" width="15.2" height="9.11" fill="#f7bcbf" /><text x="563.1" y="771.15" font-size="6.3" fill="#333" text-anchor="middle">14.2</text><rect x="570.7" y="764.25" width="15.4" height="9.11" fill="#f8c4c7" /><text x="578.4" y="771.15" font-size="6.3" fill="#333" text-anchor="middle">12.5</text><rect x="586.1" y="764.25" width="15.7" height="9.11" fill="#f5b0b4" /><text x="593.95" y="771.15" font-size="6.3" fill="#333" text-anchor="middle">16.5</text><rect x="601.8" y="764.25" width="14.8" height="9.11" fill="#f8c4c7" /><text x="609.2" y="771.15" font-size="6.3" fill="#333" text-anchor="middle">12.6</text><rect x="629.3" y="764.25" width="15.5" height="9.11" fill="#c7dcf9" /><text x="637.05" y="771.15" font-size="6.3" fill="#333" text-anchor="middle">6.4</text><rect x="644.8" y="764.25" width="15.4" height="9.11" fill="#e7f0fb" /><text x="652.5" y="771.15" font-size="6.3" fill="#333" text-anchor="middle">1.9</text><text x="489.3" y="780.35" font-size="8.2" textLength="64.2" lengthAdjust="spacingAndGlyphs">Active enhancer 2</text><rect x="555.5" y="773.35" width="15.2" height="9.11" fill="#fef7f7" /><text x="563.1" y="780.25" font-size="6.3" fill="#333" text-anchor="middle">1.9</text><rect x="570.7" y="773.35" width="15.4" height="9.11" fill="#fdf1f2" /><text x="578.4" y="780.25" font-size="6.3" fill="#333" text-anchor="middle">3.2</text><rect x="586.1" y="773.35" width="15.7" height="9.11" fill="#fce5e6" /><text x="593.95" y="780.25" font-size="6.3" fill="#333" text-anchor="middle">5.8</text><rect x="601.8" y="773.35" width="14.8" height="9.11" fill="#fdebec" /><text x="609.2" y="780.25" font-size="6.3" fill="#333" text-anchor="middle">4.5</text><rect x="629.3" y="773.35" width="15.5" height="9.11" fill="#e4eefb" /><text x="637.05" y="780.25" font-size="6.3" fill="#333" text-anchor="middle">2.2</text><rect x="644.8" y="773.35" width="15.4" height="9.11" fill="#eaf2fb" /><text x="652.5" y="780.25" font-size="6.3" fill="#333" text-anchor="middle">1.4</text><text x="497.4" y="789.46" font-size="8.2" textLength="56.1" lengthAdjust="spacingAndGlyphs">Weak enhancer</text><rect x="555.5" y="782.46" width="15.2" height="9.11" fill="#fffcfc" /><text x="563.1" y="789.36" font-size="6.3" fill="#333" text-anchor="middle">0.8</text><rect x="570.7" y="782.46" width="15.4" height="9.11" fill="#fefafb" /><text x="578.4" y="789.36" font-size="6.3" fill="#333" text-anchor="middle">1.1</text><rect x="586.1" y="782.46" width="15.7" height="9.11" fill="#fefbfb" /><text x="593.95" y="789.36" font-size="6.3" fill="#333" text-anchor="middle">1.0</text><rect x="601.8" y="782.46" width="14.8" height="9.11" fill="#fefafa" /><text x="609.2" y="789.36" font-size="6.3" fill="#333" text-anchor="middle">1.3</text><rect x="629.3" y="782.46" width="15.5" height="9.11" fill="#d6e5fa" /><text x="637.05" y="789.36" font-size="6.3" fill="#333" text-anchor="middle">4.3</text><rect x="644.8" y="782.46" width="15.4" height="9.11" fill="#e3edfb" /><text x="652.5" y="789.36" font-size="6.3" fill="#333" text-anchor="middle">2.4</text><text x="469" y="798.57" font-size="8.2" textLength="84.5" lengthAdjust="spacingAndGlyphs">ZNF genes and repeats</text><rect x="555.5" y="791.57" width="15.2" height="9.11" fill="#fffefe" /><text x="563.1" y="798.47" font-size="6.3" fill="#333" text-anchor="middle">0.2</text><rect x="570.7" y="791.57" width="15.4" height="9.11" fill="#fffefe" /><text x="578.4" y="798.47" font-size="6.3" fill="#333" text-anchor="middle">0.2</text><rect x="586.1" y="791.57" width="15.7" height="9.11" fill="#fefafa" /><text x="593.95" y="798.47" font-size="6.3" fill="#333" text-anchor="middle">1.3</text><rect x="601.8" y="791.57" width="14.8" height="9.11" fill="#fffefe" /><text x="609.2" y="798.47" font-size="6.3" fill="#333" text-anchor="middle">0.3</text><rect x="629.3" y="791.57" width="15.5" height="9.11" fill="#f2f7fc" /><text x="637.05" y="798.47" font-size="6.3" fill="#333" text-anchor="middle">0.3</text><rect x="644.8" y="791.57" width="15.4" height="9.11" fill="#eef4fc" /><text x="652.5" y="798.47" font-size="6.3" fill="#333" text-anchor="middle">0.9</text><text x="493" y="807.67" font-size="8.2" textLength="60.5" lengthAdjust="spacingAndGlyphs">Heterochromatin</text><rect x="555.5" y="800.67" width="15.2" height="9.11" fill="#ffffff" /><text x="563.1" y="807.57" font-size="6.3" fill="#333" text-anchor="middle">0.0</text><rect x="570.7" y="800.67" width="15.4" height="9.11" fill="#ffffff" /><text x="578.4" y="807.57" font-size="6.3" fill="#333" text-anchor="middle">0.0</text><rect x="586.1" y="800.67" width="15.7" height="9.11" fill="#ffffff" /><text x="593.95" y="807.57" font-size="6.3" fill="#333" text-anchor="middle">0.1</text><rect x="601.8" y="800.67" width="14.8" height="9.11" fill="#ffffff" /><text x="609.2" y="807.57" font-size="6.3" fill="#333" text-anchor="middle">0.1</text><rect x="629.3" y="800.67" width="15.5" height="9.11" fill="#f3f8fc" /><text x="637.05" y="807.57" font-size="6.3" fill="#333" text-anchor="middle">0.1</text><rect x="644.8" y="800.67" width="15.4" height="9.11" fill="#eff5fc" /><text x="652.5" y="807.57" font-size="6.3" fill="#333" text-anchor="middle">0.7</text><text x="481.8" y="816.78" font-size="8.2" textLength="71.7" lengthAdjust="spacingAndGlyphs">Bivalent/poised TSS</text><rect x="555.5" y="809.78" width="15.2" height="9.11" fill="#fefafa" /><text x="563.1" y="816.68" font-size="6.3" fill="#333" text-anchor="middle">1.2</text><rect x="570.7" y="809.78" width="15.4" height="9.11" fill="#fdf2f3" /><text x="578.4" y="816.68" font-size="6.3" fill="#333" text-anchor="middle">2.9</text><rect x="586.1" y="809.78" width="15.7" height="9.11" fill="#fce6e7" /><text x="593.95" y="816.68" font-size="6.3" fill="#333" text-anchor="middle">5.5</text><rect x="601.8" y="809.78" width="14.8" height="9.11" fill="#fdebec" /><text x="609.2" y="816.68" font-size="6.3" fill="#333" text-anchor="middle">4.4</text><rect x="629.3" y="809.78" width="15.5" height="9.11" fill="#eff5fc" /><text x="637.05" y="816.68" font-size="6.3" fill="#333" text-anchor="middle">0.7</text><rect x="644.8" y="809.78" width="15.4" height="9.11" fill="#ecf3fb" /><text x="652.5" y="816.68" font-size="6.3" fill="#333" text-anchor="middle">1.1</text><text x="489" y="825.88" font-size="8.2" textLength="64.5" lengthAdjust="spacingAndGlyphs">Bivalent enhancer</text><rect x="555.5" y="818.88" width="15.2" height="9.11" fill="#ffffff" /><text x="563.1" y="825.78" font-size="6.3" fill="#333" text-anchor="middle">0.0</text><rect x="570.7" y="818.88" width="15.4" height="9.11" fill="#ffffff" /><text x="578.4" y="825.78" font-size="6.3" fill="#333" text-anchor="middle">0.1</text><rect x="586.1" y="818.88" width="15.7" height="9.11" fill="#ffffff" /><text x="593.95" y="825.78" font-size="6.3" fill="#333" text-anchor="middle">0.1</text><rect x="601.8" y="818.88" width="14.8" height="9.11" fill="#ffffff" /><text x="609.2" y="825.78" font-size="6.3" fill="#333" text-anchor="middle">0.1</text><rect x="629.3" y="818.88" width="15.5" height="9.11" fill="#f3f7fc" /><text x="637.05" y="825.78" font-size="6.3" fill="#333" text-anchor="middle">0.2</text><rect x="644.8" y="818.88" width="15.4" height="9.11" fill="#eef4fc" /><text x="652.5" y="825.78" font-size="6.3" fill="#333" text-anchor="middle">0.9</text><text x="477.8" y="834.99" font-size="8.2" textLength="75.7" lengthAdjust="spacingAndGlyphs">Repressed polycomb</text><rect x="555.5" y="827.99" width="15.2" height="9.11" fill="#ffffff" /><text x="563.1" y="834.89" font-size="6.3" fill="#333" text-anchor="middle">0.0</text><rect x="570.7" y="827.99" width="15.4" height="9.11" fill="#ffffff" /><text x="578.4" y="834.89" font-size="6.3" fill="#333" text-anchor="middle">0.0</text><rect x="586.1" y="827.99" width="15.7" height="9.11" fill="#ffffff" /><text x="593.95" y="834.89" font-size="6.3" fill="#333" text-anchor="middle">0.0</text><rect x="601.8" y="827.99" width="14.8" height="9.11" fill="#ffffff" /><text x="609.2" y="834.89" font-size="6.3" fill="#333" text-anchor="middle">0.0</text><rect x="629.3" y="827.99" width="15.5" height="9.11" fill="#f3f8fc" /><text x="637.05" y="834.89" font-size="6.3" fill="#333" text-anchor="middle">0.1</text><rect x="644.8" y="827.99" width="15.4" height="9.11" fill="#f0f6fc" /><text x="652.5" y="834.89" font-size="6.3" fill="#333" text-anchor="middle">0.5</text><text x="457.2" y="844.1" font-size="8.2" textLength="96.3" lengthAdjust="spacingAndGlyphs">Weak repressed polycomb</text><rect x="555.5" y="837.1" width="15.2" height="9.11" fill="#ffffff" /><text x="563.1" y="844" font-size="6.3" fill="#333" text-anchor="middle">0.1</text><rect x="570.7" y="837.1" width="15.4" height="9.11" fill="#ffffff" /><text x="578.4" y="844" font-size="6.3" fill="#333" text-anchor="middle">0.1</text><rect x="586.1" y="837.1" width="15.7" height="9.11" fill="#fffefe" /><text x="593.95" y="844" font-size="6.3" fill="#333" text-anchor="middle">0.3</text><rect x="601.8" y="837.1" width="14.8" height="9.11" fill="#fffefe" /><text x="609.2" y="844" font-size="6.3" fill="#333" text-anchor="middle">0.2</text><rect x="629.3" y="837.1" width="15.5" height="9.11" fill="#edf4fc" /><text x="637.05" y="844" font-size="6.3" fill="#333" text-anchor="middle">1.0</text><rect x="644.8" y="837.1" width="15.4" height="9.11" fill="#ebf2fb" /><text x="652.5" y="844" font-size="6.3" fill="#333" text-anchor="middle">1.3</text><text x="516.6" y="853.2" font-size="8.2" textLength="36.9" lengthAdjust="spacingAndGlyphs">Quiescent</text><rect x="555.5" y="846.2" width="15.2" height="9.11" fill="#ffffff" /><text x="563.1" y="853.1" font-size="6.3" fill="#333" text-anchor="middle">0.0</text><rect x="570.7" y="846.2" width="15.4" height="9.11" fill="#ffffff" /><text x="578.4" y="853.1" font-size="6.3" fill="#333" text-anchor="middle">0.0</text><rect x="586.1" y="846.2" width="15.7" height="9.11" fill="#ffffff" /><text x="593.95" y="853.1" font-size="6.3" fill="#333" text-anchor="middle">0.1</text><rect x="601.8" y="846.2" width="14.8" height="9.11" fill="#ffffff" /><text x="609.2" y="853.1" font-size="6.3" fill="#333" text-anchor="middle">0.0</text><rect x="629.3" y="846.2" width="15.5" height="9.11" fill="#f3f8fc" /><text x="637.05" y="853.1" font-size="6.3" fill="#333" text-anchor="middle">0.1</text><rect x="644.8" y="846.2" width="15.4" height="9.11" fill="#f1f6fc" /><text x="652.5" y="853.1" font-size="6.3" fill="#333" text-anchor="middle">0.4</text><path d="M555.5 691.4V855.31M570.7 691.4V855.31M586.1 691.4V855.31M601.8 691.4V855.31M616.6 691.4V855.31M629.3 691.4V855.31M644.8 691.4V855.31M660.2 691.4V855.31M555.5 691.4H616.6M629.3 691.4H660.2M555.5 700.51H616.6M629.3 700.51H660.2M555.5 709.61H616.6M629.3 709.61H660.2M555.5 718.72H616.6M629.3 718.72H660.2M555.5 727.82H616.6M629.3 727.82H660.2M555.5 736.93H616.6M629.3 736.93H660.2M555.5 746.04H616.6M629.3 746.04H660.2M555.5 755.14H616.6M629.3 755.14H660.2M555.5 764.25H616.6M629.3 764.25H660.2M555.5 773.35H616.6M629.3 773.35H660.2M555.5 782.46H616.6M629.3 782.46H660.2M555.5 791.57H616.6M629.3 791.57H660.2M555.5 800.67H616.6M629.3 800.67H660.2M555.5 809.78H616.6M629.3 809.78H660.2M555.5 818.88H616.6M629.3 818.88H660.2M555.5 827.99H616.6M629.3 827.99H660.2M555.5 837.1H616.6M629.3 837.1H660.2M555.5 846.2H616.6M629.3 846.2H660.2M555.5 855.31H616.6M629.3 855.31H660.2" fill="none" stroke="#2a2a2a" stroke-width="0.55" /><path d="M629.3 691.4V855.31M644.8 691.4V855.31M660.2 691.4V855.31M629.3 691.4H660.2" fill="none" stroke="#aaa" stroke-width="0.0" /><text x="666.6" y="735.8" font-size="8.0" textLength="12.3" lengthAdjust="spacingAndGlyphs">fold</text><text x="661.7" y="744.3" font-size="8.0" textLength="22.9" lengthAdjust="spacingAndGlyphs">enrich-</text><text x="666.6" y="751" font-size="8.0" textLength="14.4" lengthAdjust="spacingAndGlyphs">ment</text><text x="668" y="760.8" font-size="8.0" textLength="8.7" lengthAdjust="spacingAndGlyphs">30</text><text x="670.8" y="808.5" font-size="8.0" textLength="4.2" lengthAdjust="spacingAndGlyphs">0</text><rect x="666.6" y="763.3" width="5.1" height="36.3" fill="url(#hr)" stroke="#444" stroke-width="0.7"/><rect x="673.4" y="763.3" width="5.3" height="36.3" fill="url(#hb)" stroke="#444" stroke-width="0.7"/><text x="457.9" y="869.6" font-size="8.2" textLength="41.3" lengthAdjust="spacingAndGlyphs">E2-induced</text><text x="465.8" y="878.9" font-size="8.2" textLength="35.2" lengthAdjust="spacingAndGlyphs">A3B sites:</text><rect x="504" y="866.1" width="10.8" height="6.7" fill="#f0444e" /><text x="523.2" y="863.7" font-size="8.2" textLength="26" lengthAdjust="spacingAndGlyphs">overlap</text><text x="516.9" y="871.4" font-size="8.2" textLength="38.5" lengthAdjust="spacingAndGlyphs">E2-induced</text><text x="523.2" y="878.4" font-size="8.2" textLength="25.5" lengthAdjust="spacingAndGlyphs">R-loops</text><rect x="559.1" y="865.9" width="10.1" height="7.2" fill="#a845f5" /><text x="578.1" y="864.2" font-size="8.2" textLength="25.6" lengthAdjust="spacingAndGlyphs">overlap</text><text x="570.7" y="871.2" font-size="8.2" textLength="39.8" lengthAdjust="spacingAndGlyphs">pre-existing</text><text x="578.1" y="878.4" font-size="8.2" textLength="25.2" lengthAdjust="spacingAndGlyphs">R-loops</text><rect x="615.8" y="866.3" width="9.9" height="6.8" fill="#4a8ef5" /><text x="627.2" y="867.8" font-size="8.2" textLength="25.2" lengthAdjust="spacingAndGlyphs">without</text><text x="627.2" y="874.8" font-size="8.2" textLength="25.2" lengthAdjust="spacingAndGlyphs">R-loops</text>
</svg></body></html>
